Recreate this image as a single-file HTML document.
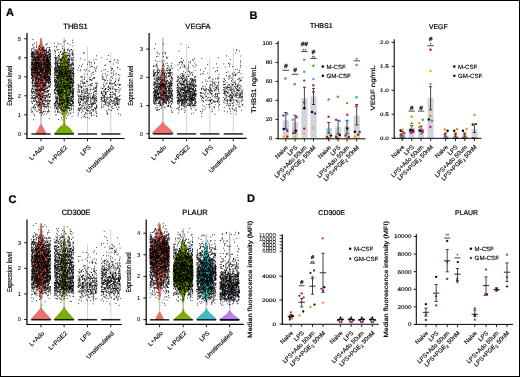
<!DOCTYPE html>
<html><head><meta charset="utf-8"><style>
html,body{margin:0;padding:0;background:#fff;}
body{width:520px;height:377px;overflow:hidden;position:relative;}
.fr{position:absolute;left:0;top:0;width:518px;height:375px;border:1px solid #000;}
svg{position:absolute;left:0;top:0;display:block;will-change:transform;text-rendering:geometricPrecision;}
</style></head><body><div class="fr"></div><svg width="520" height="377" viewBox="0 0 520 377" font-family='"Liberation Sans", sans-serif'><polygon points="35.8,134.1 36,132.7 38,129.2 39.5,126.2 40.85,124 40.85,122.2 40.85,117.1 40.2,112 39.8,107 39,102 38.5,98.5 38,93.2 37,87.9 35.5,82.6 33.5,77.3 31.5,72 30.5,66.8 32,61.5 34,56.2 36.5,50.9 38.5,46.7 40,43.5 40.2,38.2 41.8,38.2 42,43.5 43.5,46.7 45.5,50.9 48,56.2 50,61.5 51.5,66.8 50.5,72 48.5,77.3 46.5,82.6 45,87.9 44,93.2 43.5,98.5 43,102 42.2,107 41.8,112 41.15,117.1 41.15,122.2 41.15,124 42.5,126.2 44,129.2 46,132.7 46.2,134.1" fill="#EC736B" stroke="#222" stroke-width="0.3" stroke-opacity="0.55"/>
<line x1="41" y1="112.95" x2="41" y2="124.25" stroke="#c6c6c6" stroke-width="1"/>
<path d="M46.1 77.4h0M41.3 98.5h0M34.4 87.2h0M35.5 61.3h0M38.7 64.3h0M37.7 96.1h0M32.5 44.7h0M39.2 91.1h0M40 89h0M36.9 70.6h0M38.8 64.4h0M37.7 63.5h0M38.6 62.5h0M43.3 69.7h0M40.9 72h0M35.1 74h0M46.7 114.1h0M41.3 88.6h0M40.2 77.2h0M45.1 111.2h0M45.9 60.9h0M47.8 58.4h0M47 76.8h0M44.3 51.2h0M45.3 50.4h0M34.3 72.4h0M44.9 70.5h0M36.2 100.7h0M36.3 77.6h0M33.6 72.4h0M39 71.7h0M31.7 62.2h0M44 47h0M45.8 59.9h0M46.3 81.1h0M33.8 60.2h0M43.7 66.9h0M47.6 43.7h0M32 91.9h0M35.1 58.1h0M36.5 63h0M40.3 96.8h0M34.6 72.2h0M41.8 93.5h0M38 78.1h0M44 84.6h0M41.6 54.7h0M44.6 73.5h0M36.1 72.1h0M45 95.9h0M45.6 66.6h0M45.3 76.1h0M32.6 52.5h0M49.7 67.5h0M42.5 65.2h0M36.6 57.9h0M39.7 90.7h0M41.3 67.2h0M41.3 109h0M36.1 75.7h0M36.4 76.4h0M38.4 78.1h0M46.4 80.2h0M39.8 57.9h0M32 69.5h0M40.1 61.9h0M35.2 68.1h0M31.5 55h0M50.3 107.2h0M37 60.8h0M41.7 79.9h0M38.2 64.3h0M32.3 96.2h0M48.8 79.4h0M49.5 56.9h0M34.9 93.3h0M39.4 104.1h0M38.5 99.2h0M34.5 74.7h0M44.1 57.6h0M46.5 59.9h0M46 102h0M44.4 74h0M31.6 59.3h0M35.8 97.2h0M41.3 78.2h0M44.9 74.7h0M38.8 67.1h0M40 68.4h0M47.6 61.9h0M31.8 50.7h0M36.5 96.4h0M36.9 70.6h0M50.6 73.8h0M35.7 65.1h0M32.2 85.3h0M39.4 49.3h0M43.9 67h0M34.3 49.9h0M47.6 56.5h0M35.1 107.1h0M45 79.1h0M34.4 69h0M48.4 72.8h0M35.2 96h0M45.5 66h0M47.6 75.7h0M36.2 80.6h0M33.1 66.4h0M42.7 72.6h0M41 86.4h0M40.6 99.8h0M46.5 57.9h0M40.3 102.6h0M40.9 44.7h0M40.8 85.4h0M40.1 90.2h0M39.2 57.2h0M34.4 68.7h0M37 90.6h0M36.4 47.6h0M36.1 77.6h0M46.5 88.7h0M33.5 72.3h0M35.3 83.4h0M41.5 61.3h0M37.4 60.1h0M36 66.7h0M38.5 59.3h0M41 66h0M44.4 104.5h0M50.2 74.9h0M47.8 65.8h0M39.6 63.2h0M40.1 105h0M39.4 69.7h0M35.9 109.3h0M49.8 72.4h0M32.6 72.7h0M35.3 98.5h0M44.1 84.6h0M42.7 75.2h0M36.7 69h0M49.5 96.6h0M39.2 68.4h0M42.9 101.4h0M33.1 53.2h0M48.6 69.1h0M33.3 72.6h0M38.9 104.8h0M48.5 62.4h0M49.6 89.8h0M48.8 80.2h0M47.4 82.8h0M35.8 77.6h0M31.9 107.8h0M40.1 65.5h0M32.5 67.9h0M49.9 60.3h0M31.5 51.8h0M37.6 60.8h0M35.2 100.5h0M31.6 92.9h0M41 55.9h0M32.8 76.3h0M48.8 71h0M44.6 75.9h0M38.5 79.2h0M47.6 64.6h0M46.8 106.3h0M37.6 70.5h0M47.7 77.5h0M49.3 77.9h0M43.3 59.5h0M38.1 52.7h0M48.8 68.4h0M49.6 86.3h0M38 90.6h0M33 83.7h0M48.1 55.9h0M44.2 100.3h0M35.8 89.4h0M42.3 96.5h0M37.3 72.8h0M49.1 100.5h0M37.9 51.5h0M35.1 49.9h0M32.1 48.6h0M37.9 62.4h0M50.5 62.3h0M35.5 59.6h0M40.2 74.6h0M50.2 50.8h0M31.4 75.7h0M37 58.6h0M47.2 80.3h0M33.2 48.7h0M49.3 64.7h0M47.5 103.2h0M34.1 73.4h0M42.8 90.3h0M42.1 79.1h0M44.8 76.7h0M37.3 59.8h0M38.8 75h0M36 50.8h0M37 89.4h0M34.7 106.1h0M48.8 94.2h0M48.5 51.8h0M38.3 65.8h0M44.7 65h0M40.8 55.9h0M36.7 77.5h0M38.1 89h0M50 64.8h0M37.9 95h0M42.5 89h0M49.6 56.8h0M37.1 86.5h0M47 97h0M33.5 60.1h0M45.5 74.9h0M46.9 78.1h0M47.5 76.6h0M50.2 55h0M45.1 79.3h0M50.3 77.7h0M36.7 91.4h0M41.4 89.6h0M35.5 65.3h0M32.9 83.1h0M39.8 95.5h0M45.3 98.1h0M46.4 58.4h0M31.6 49.4h0M49.6 78.7h0M36.1 60.8h0M37 74.5h0M47.4 104h0M48.6 67.2h0M45.6 62.4h0M37.8 70.1h0M40.3 79.1h0M47.5 55.3h0M38.2 67.3h0M46.9 57h0M46.5 79.4h0M40.4 92h0M48.7 67.1h0M38.8 67h0M45.8 73.4h0M43.7 60.9h0M37.7 62.2h0M41.6 65.4h0M43.1 70.2h0M41.7 54.1h0M33.4 85.4h0M50.5 75.2h0M50.1 64.3h0M32 53.8h0M49.6 86.2h0M41.6 56.9h0M33.7 57h0M47.2 56.9h0M39.7 54h0M45.1 99.5h0M47.3 63.1h0M41.7 64.5h0M32.3 92.2h0M47.3 77.1h0M44.8 59.6h0M49 69.3h0M36.5 97.2h0M46.5 67.1h0M48.2 82.4h0M38.2 55h0M39.3 83.5h0M37.8 87.3h0M31.4 91.5h0M35.8 80.1h0M37.7 66.9h0M33.4 52.9h0M46.2 72.6h0M39.6 85.7h0M42.3 59.8h0M36.8 63h0M38.3 73.3h0M45.9 85.1h0M40.4 98.5h0M42.9 56.6h0M39.5 59.5h0M42.1 89.2h0M48.7 78.4h0M36.5 83.1h0M41.4 115.1h0M44.6 103.3h0M33 93.1h0M50 87.3h0M41 67.8h0M36.1 78.2h0M46.1 59.5h0M47.1 85.9h0M43.5 85.8h0M49.1 83.1h0M33 69.7h0M41.5 67.2h0M45.7 68.7h0M49.1 50.2h0M43.7 93.3h0M43 73.6h0M38.8 67.5h0M42.4 73.8h0M42.1 83.1h0M48.9 67.3h0M47.3 92h0M45.6 101h0M49.2 67.5h0M32.6 57.2h0M46.2 86h0M40.3 112.6h0M45.9 57.8h0M37 82.5h0M40.4 91.5h0M47.3 101.1h0M32 56.5h0M36.9 54.7h0M40.8 110.9h0M47.8 56.1h0M36.5 59.1h0M47.3 75h0M36 69.7h0M37.2 85.2h0M42 59.8h0M44 100.4h0M48.4 60.9h0M48.4 86.7h0M36.2 53.1h0M45.8 70.8h0M43.6 50.1h0M38.8 64.8h0M46.4 64.8h0M48.7 83h0M40.6 70.1h0M49.1 52.3h0M33.8 114h0M34.5 97.6h0M46.1 100.6h0M37.2 62.2h0M42.7 67.8h0M40.9 61.4h0M34.1 56.6h0M45.9 50.2h0M45.7 72h0M34.1 56.5h0M36.3 59.1h0M46.8 94.8h0M49 71.2h0M48.2 59.5h0M41 79.8h0M38.4 63h0M39.9 72.9h0M34.7 63.6h0M40.9 72.5h0M35.8 77.6h0M34.4 73.3h0M38.7 67.8h0M32.5 88.5h0M40.4 96.1h0M44.8 59.3h0M43.9 57.2h0M50.2 55.9h0M48.5 109.1h0M43.6 103.6h0M48.7 61.5h0M39.9 107.5h0M46.8 60.5h0M36.8 72.1h0M41.5 71.7h0M50.3 100.5h0M42.9 50.9h0M41.1 64.9h0M46.6 76.1h0M37.4 53h0M47.4 61.8h0M31.7 70.4h0M35.9 96.8h0M34.7 86h0M36.3 91.8h0M49.6 86h0M31.8 82.2h0M37.1 93.8h0M42.4 80.5h0M44.9 84.1h0M46.3 64.4h0M38.7 58.7h0M35.6 85.7h0M47.8 58.6h0M33.7 101h0M32.6 76h0M35.8 65.4h0M40.9 103h0M49.6 58.1h0M45.4 72.4h0M42.2 54.7h0M41.4 106.8h0M44.8 75h0M43.5 89.6h0M37.8 63.6h0M33.1 89.4h0M35.2 81.8h0M46.5 78.4h0M43.6 104.8h0M46.8 69.2h0M32.2 68.6h0M48.8 81.1h0M38.7 92.4h0M49.3 65.6h0M42.8 79.8h0M41.9 60.6h0M47.2 74h0M43.4 86.7h0M44.4 52.9h0M34.4 83.6h0M43 47.8h0M38.2 105.8h0M32.8 70.6h0M33.9 68.3h0M40.6 83h0M36.4 72.8h0M46.1 83.8h0M33.7 54.3h0M31.6 74.4h0M50.6 74.2h0M37.4 102.5h0M41.2 50.8h0M35.4 70h0M35.4 77.7h0M39.1 73.9h0M46.6 53.6h0M32.1 75.8h0M47.5 61.2h0M50.5 60h0M42.1 96.6h0M38.3 60.1h0M35.8 70h0M34.8 85.2h0M37.6 82.1h0M47.8 74h0M31.4 89.9h0M46.5 70.5h0M44.2 77.1h0M31.7 90.9h0M32.6 80.3h0M45.6 78.3h0M44.4 68.2h0M37.4 74.2h0M48 67.9h0M35.4 84.7h0M39.6 67.3h0M33.5 70.5h0M43.8 85.6h0M33 72h0M34.8 65.7h0M46.2 91.6h0M41 67.3h0M44.1 93.3h0M45.5 88h0M43.1 69.8h0M35.1 82.5h0M44.9 50.3h0M33.5 67.6h0M36.5 94.8h0M40 75.2h0M33.5 74.2h0M33.4 79.5h0M44 80.3h0M45.7 75.4h0M38.5 68.8h0M38.9 59.4h0M35.3 64h0M41.4 64h0M42.6 69.1h0M49.4 118.6h0M32.1 66.3h0M48.9 69.8h0M50.5 67h0M38 75.3h0M45.4 104.4h0M47.3 97.7h0M43.9 67.2h0M36.9 63h0M43.4 97.2h0M48.3 71.6h0M33.4 80.7h0M40.6 53.5h0M31.7 95.4h0M47.7 64.8h0M46.4 71.6h0M32.2 60.1h0M45.8 68.7h0M44.7 91.7h0M33.7 91.7h0M41.5 70.8h0M44.7 86.6h0M37.8 70.2h0M41.1 67h0M50.2 73.7h0M43.6 60.3h0M41 64.9h0M32.6 82.1h0M33.7 86.8h0M47.8 52.3h0M45.7 83.9h0M47.5 90.8h0M42.5 69.7h0M42.5 52.7h0M41.6 80.6h0M45.6 62.2h0M37.7 78.3h0M40.9 67.1h0M40.4 78h0M44.1 62.6h0M35.5 70.9h0M31.8 72.8h0M33 77.7h0M34.8 60.3h0M47.9 106.4h0M45.2 63.9h0M45.8 64.5h0M39.9 62.6h0M33.3 53.1h0M40.3 68.8h0M48 86.9h0M41.2 82.3h0M43.6 60h0M38.6 57.2h0M34.2 65.1h0M43.5 86.6h0M40.7 71.3h0M38 101.4h0M36.3 79h0M44.8 77.2h0M37.5 86.5h0M42.5 85.2h0M36.3 65.9h0M45.9 62.6h0M38.6 69.4h0M40.6 71.4h0M49.3 57.4h0M45.2 69.5h0M45.6 78.1h0M37.9 57.1h0M47.6 57.3h0M38.8 59h0M50.5 63.7h0M48.7 106.3h0M44.1 49.3h0M47.4 59.5h0M41.9 58.6h0M45.5 70.8h0M33.7 47.7h0M50.5 70.2h0M46.8 58.5h0M34.1 63.1h0M36 88.6h0M42.5 59.5h0M46.1 77h0M34.2 68.2h0M49.9 68.6h0M38 90.7h0M50.6 58.4h0M45.9 101.5h0M40.7 98.1h0M38.3 79.7h0M33.2 51.7h0M33 79.4h0M43.5 76.2h0M46.3 86.9h0M48.9 60.8h0M38.4 105.2h0M49.5 97.4h0M37.1 56h0M49.5 64.9h0M49.1 50.1h0M34.3 92h0M48 100.5h0M45 111.5h0M44.9 76.7h0M47.6 79.6h0M41.7 80.3h0M41.1 74.8h0M38.4 105h0M48.1 76.5h0M48.8 65.7h0M34.4 72.3h0M46.3 48.3h0M36.6 83.3h0M34.9 81.3h0M35.1 68.8h0M42.4 93.9h0M36.7 85.6h0M36 65.7h0M33.2 53.8h0M37.6 57h0M46.3 59.5h0M31.7 64.4h0M40.7 69.8h0M43 102h0M32.3 63.5h0M37 98.7h0M48.9 80.4h0M50.6 94.1h0M47.8 68.1h0M34.6 43.3h0M46.1 88.1h0M40 62.1h0M34.6 57.5h0M40.6 89.2h0M49.2 80.8h0M48.3 60.7h0M38.9 63h0M32.5 103.3h0M48.8 63.1h0M50.4 81.8h0M41.2 56.8h0M35.7 90.6h0M41.8 56.2h0M44.8 72.5h0M40.7 50.4h0M38.1 73.9h0M36.1 93.5h0M37.1 54.2h0M32.3 63.3h0M36.2 86.3h0M49.8 76.5h0M31.5 64.8h0M45.4 77.6h0M46.6 70.1h0M39.2 95h0M42.8 64h0M35.6 85.8h0M44.3 77.9h0M45 84.5h0M45.6 67.2h0M40.8 83.3h0M50.1 81.5h0M48.1 67.5h0M42.4 49.4h0M44.5 106.5h0M36.6 82.6h0M49.6 60.4h0M43.8 83.8h0M48.7 63.5h0M36.9 70.6h0M50.4 94.8h0M33.3 69.8h0M41.6 63.8h0M33.4 64.5h0M35 53.8h0M46.1 61h0M32.6 63.2h0M38.7 59h0M35 52.8h0M47.8 70.5h0M32.9 60.8h0M37.8 84.3h0M47.9 101.3h0M44.6 63.2h0M44.9 74.9h0M50.5 72.1h0M31.8 53.6h0M44.2 56.6h0M45.8 97.2h0M45.8 70.8h0M45.2 89.7h0M32.7 53h0M32.9 75.9h0M46.3 95.3h0M43.2 95.5h0M36.4 45h0M31.5 72.7h0M41.6 66.9h0M33.1 85.9h0M45.8 53.5h0M37.9 62.9h0M47 90.4h0M33.2 70.6h0M40.9 70h0M33.2 107.3h0M46.4 65.1h0M42.2 51h0M35.9 67.7h0M50 58h0M44.5 54.1h0M37.8 74.7h0M47.9 105.2h0M38.7 75.2h0M49.6 78.5h0M37.1 65.2h0M50.4 74.8h0M32.5 85.3h0M45.6 75.6h0M37 89.5h0M39.5 73.9h0M43.6 60.1h0M32.2 75.3h0M35.6 71.5h0M33.3 58.6h0M45.6 77.1h0M35.6 90.7h0M41 57.1h0M37.7 73.7h0M35.9 84h0M49.4 68.1h0M41.1 63.1h0M43.9 67h0M45 73.5h0M47.2 80.8h0M36.4 74.3h0M32.8 55.6h0M40.4 90.8h0M34.6 101.5h0M31.7 55.3h0M49.1 62.3h0M43.5 59h0M39.3 93.7h0M33.9 99.9h0M46.1 51.3h0M41.6 65.5h0M34.7 59.9h0M50.4 70.6h0M49.7 101.2h0M49.3 53.3h0M47.3 58.9h0M41.6 71.3h0M37.1 72.8h0M43.9 84.8h0M34.2 69.4h0M43.3 57.4h0M32.6 66.3h0M31.6 109.6h0M45.2 85.2h0M37.9 56.1h0M44.8 90h0M46.4 64.7h0M47.5 87.7h0M43.2 47.2h0M47.7 95.9h0M44.1 58.5h0M49.3 70.1h0M48.7 79.3h0M32.1 72.1h0M36.5 58.6h0M38.8 57.3h0M36.2 63.7h0M34.7 51.9h0M48.2 60.9h0M31.8 56.8h0M34.8 70.4h0M46 66.4h0M35.6 75.5h0M36.3 63.6h0M50.1 50.3h0M46.1 65.5h0M40 85.6h0M33.9 62.6h0M36.5 68.2h0M50.3 85.6h0M46.6 68.2h0M32.7 97.5h0M45 100.8h0M38.6 64.7h0M45.3 84.1h0M37 62.4h0M33.8 57.3h0M31.7 69.4h0M37 76.3h0M48 102.9h0M48.6 57.6h0M44.6 82.5h0M45.8 70.9h0M35.1 56.9h0M38.2 107.9h0M48.7 81.4h0M50.4 56.8h0M39.9 99.4h0M46.4 55.4h0M49.4 54.8h0M50.6 65.5h0M37 103.2h0M44 50.2h0M38.9 100.8h0M40.3 76.7h0M40.3 53.1h0M36.7 74.7h0M31.7 70.2h0M46.2 74.5h0M44.8 84.2h0M47.6 80.3h0M34.3 115.5h0M35.9 58.2h0M42.9 90.4h0M49.5 68.4h0M40.5 87.8h0M35.2 98h0M42.8 112.2h0M49.9 63h0M48.1 70h0M48.7 103.8h0M39.3 104.2h0M36.4 67h0M48.2 103.5h0M46.6 68.2h0M47.8 67.1h0M38.9 85.7h0M36.9 70.7h0M36 69.8h0M48.2 67.5h0M49.1 69.2h0M38.4 57.3h0M48.3 52.6h0M38.7 85.5h0M40 74.5h0M42.3 79.9h0M35.6 89.5h0M36.5 61.5h0M36.5 61.6h0M36.3 63.4h0M41.3 64.4h0M33.2 86h0M46.4 67.1h0M34.7 65.2h0M39.9 78h0M43.8 59.6h0M34 55.6h0M39.2 81.5h0M42.2 85.7h0M42 64.2h0M48.6 77.9h0M46.5 50.3h0M33.6 68.2h0M47.5 75.1h0M42 62.5h0M44.5 66.1h0M34.4 76.6h0M40.5 75.7h0M44.9 58.1h0M46.8 82.1h0M46.9 54h0M35.5 107.5h0M47.5 60.3h0M42.3 62.5h0M44.3 60.2h0M47.8 112h0M39.2 63.8h0M49.1 76.4h0M48.4 111.7h0M47 104.7h0M38.7 51.1h0M41.5 72.7h0M34.7 76.2h0M46 81.8h0M48.6 65.7h0M34.4 65.4h0M45.7 44.2h0M44.8 50.4h0M32 73.9h0M49.1 53.7h0M40.6 60.3h0M36.5 65.6h0M31.9 53.3h0M46.5 49.9h0M37.9 101.8h0M41.3 69.3h0M35.1 60.4h0M43.1 82.2h0M39 46.4h0M46.9 62.1h0M44.2 106.2h0M45.3 98.6h0M36.2 77.9h0M32.5 54.8h0M48.4 65h0M49.5 49.6h0M43.8 61h0M49.2 49.3h0M45 56.6h0M43.1 77.8h0M39.4 55.2h0M38.2 58.1h0M40.8 99.1h0M35.6 65.6h0M39.6 65.5h0M41.1 54.4h0M31.9 88.9h0M38.9 80.2h0M36.8 73.8h0M43.6 77h0M47 55.2h0M43.2 62.7h0M44.2 75.4h0M43.2 105h0M36.3 90.8h0M38.6 78.2h0M47.7 72.6h0M49.7 47.7h0M34.8 97.9h0M31.5 53.1h0M50 56.8h0M48 81.2h0M43.1 90.3h0M47.1 88.1h0M42.8 70h0M48.9 59.2h0M36 50.4h0M39.9 93.9h0M44.3 108.8h0M35.5 62.1h0M45.2 95.4h0M36.4 68.1h0M45.1 64.7h0M46.9 72h0M39.5 45.9h0M50.5 69.6h0M43.5 60.2h0M46 82.5h0M31.7 71.9h0M33.5 95.6h0M45.1 98.5h0M49.6 64.9h0M43.5 63.5h0M49 103.3h0M32.4 72h0M48.6 55h0M48.3 51.4h0M43.5 111.7h0M39.6 75.2h0M45 52.1h0M36 72.3h0M44.3 72h0M44.8 69.3h0M41.8 104.9h0M36.3 104.5h0M31.3 56.6h0M35.1 57.9h0M47.5 68.3h0M35.4 92.3h0M32.7 77.3h0M36.1 83.7h0M41.4 75h0M42.7 60.6h0M48.3 90.8h0M47.9 47.5h0M50.1 81.6h0M48.5 59.9h0M40 70.7h0M34.1 108.3h0M49.8 73.4h0M35.7 52.3h0M43.4 69.1h0M36.4 79.3h0M47.1 52.3h0M35.2 62.4h0M39.5 48.3h0M35.6 73.5h0M48 67.3h0M43.3 72h0M43.5 64.1h0M37.4 79.1h0M34.7 59h0M47.9 99.5h0M46.1 106.1h0M45.5 71.5h0M50.6 70.5h0M42.2 94.7h0M34.8 63.9h0M43.1 89.5h0M36.9 63.8h0M41.3 83h0M40.2 65.6h0M42.2 76.3h0M49.2 101.7h0M47 52.1h0M39.4 89.9h0M47.2 73.5h0M48 67.2h0M46.3 66.2h0M42 53.2h0M48.7 62.7h0M40.8 77.3h0M33.4 55.1h0M36.6 79.8h0M44.1 106.4h0M38.7 109.4h0M39.5 97.7h0M39.1 89.8h0M35 59.2h0M33.1 107.5h0M32.3 60.3h0M44.3 95.7h0M37.6 96.5h0M40.2 77.2h0M49.4 72.7h0M43.5 60.2h0M47 72.6h0M46.1 63.9h0M49.8 56.6h0M32.6 56.7h0M38.8 89.4h0M49.7 101.3h0M40.3 57.4h0M49.7 47.4h0M34.9 62.9h0M32.5 57.1h0M48.7 59.7h0M39.3 75.4h0M41.2 68.8h0M49.5 69.1h0M35.6 60.4h0M50.1 79.5h0M39 63.9h0M36.1 68h0M35.8 70.4h0M41.4 99.3h0M40.4 62.2h0M48.5 82.9h0M32.3 64.7h0M32.2 98.2h0M34.3 67.8h0M43 72h0M46.5 96.5h0M40.6 80h0M43.2 54.9h0M43.8 57.2h0M31.7 111.8h0M36.1 49.7h0M50.7 64.3h0M37.7 105.9h0M49.7 47.7h0M40.9 58.4h0M35.6 60.8h0M31.3 54.4h0M35.5 70.7h0M37.5 75.8h0M39.8 65h0M40 55.7h0M41.9 90.2h0M40.5 89.6h0M31.9 74.4h0M36.5 57.2h0M50 73.5h0M31.8 77.6h0M45.5 69h0M40.5 95.1h0M45 67.6h0M37.8 72.3h0M38.5 56h0M41.3 74.5h0M48.9 86.5h0M37.7 83.8h0M33 62.6h0M32 112.2h0M48.4 83h0M37.4 68.9h0M33.6 68.5h0M42.9 87.5h0M47.7 59.1h0M42.9 78.1h0M34.2 82.9h0M39.2 72.5h0M36.5 96.1h0M31.6 70.6h0M50 70.4h0M40.2 63.7h0M33.9 101h0M48.5 64.9h0M50.4 81.3h0M47.1 68.3h0M36.2 102.9h0M35 104.4h0M41.5 49.8h0M42.6 113.5h0M48.3 76.4h0M50.1 53.5h0M49 71.7h0M37.9 51.7h0M42.7 73.8h0M33.7 59.5h0M41.4 66.8h0M32.7 64.5h0M33.5 76.3h0M33.7 91.2h0M37.1 103h0M37.3 65.4h0M45 74.7h0M32.8 45h0M33.5 67h0M44 106.2h0M44.4 56.2h0M45.1 95.7h0M45.3 78.8h0M44.2 64.1h0M42 87.4h0M45.7 63.9h0M32.9 98.3h0M35.4 54.1h0M45.7 56.3h0M35 85.2h0M41.6 69.8h0M36.3 57.7h0M39.7 72.4h0M47.5 64.2h0M44.1 73.9h0M39.9 84.7h0M36.6 94.5h0M46.9 52.5h0M44 75.8h0M39.8 110h0M48.2 70.2h0M44.7 86.7h0M50.3 55h0M44.2 96.1h0M48.8 75.3h0M42 97.6h0M45.1 88.1h0M47.6 95.7h0M33.1 52.3h0M40.5 82.7h0M43 60.1h0M32.4 63h0M46.6 65.2h0M45.2 75.7h0M49.5 77.5h0M38.5 102.4h0M40.4 47.2h0M49 59.9h0M39.3 66.6h0M47.5 90.8h0M39.5 73.9h0M37.9 72.3h0M36.7 86h0M35.4 79h0M39.7 63.9h0M34.4 54.4h0M47.4 70.3h0M50.2 96.8h0M33.2 76.1h0M32.4 52h0M31.4 69.5h0M49.4 67.4h0M32.7 75.3h0M44.5 75.5h0M37.2 104.9h0M35.1 65.7h0M36.1 68.3h0M44.7 76.8h0M31.6 97.4h0M48.1 82.1h0M42.3 70.7h0M35.9 90.5h0M35.3 71.2h0M44 106.6h0M43.5 63.6h0M37.5 56.7h0M37.8 92h0M40.3 64.2h0M49 93.6h0M41.7 76.6h0M47.6 72.2h0M43.7 54.4h0M42.2 88.1h0M40.8 53h0M44.5 106.8h0M40.8 96.5h0M45.4 64.4h0M34.8 56.7h0M37.6 97.3h0M48.2 71h0M39 56.6h0M47.7 71.8h0M49.5 62.2h0M42.5 68.3h0M33.3 78.2h0M46 100.5h0M44.2 89.3h0M36.9 58.4h0M48 70.9h0M40.7 71.5h0M32.4 111.4h0M32.6 54.4h0M35.7 72.2h0M43.1 100.4h0M47.1 68h0M33.2 62.8h0M31.7 74.1h0M43.4 65.1h0M39.2 101.9h0M39.9 54.3h0M47.2 60.5h0M49.1 54.2h0M50.1 82.4h0M46.4 64h0M31.4 98.8h0M34.2 98.2h0M42.7 103h0M49.8 62.6h0M32.9 39.5h0M41.3 67.5h0M39 106.4h0M39.2 86.2h0M36.5 52.5h0M36.6 81.8h0M35.9 100.7h0M33.3 107.2h0M42 82.7h0M40 95.1h0M45.1 93h0M43.7 66.5h0M49.8 55.1h0M37.9 83.5h0M48.4 57.2h0M38.8 67.4h0M44.1 114.3h0M46.9 74.3h0M39 72.7h0M40 104.4h0M43.5 63.7h0M33.4 119.7h0M41.6 100.1h0M33.1 66.7h0M35.7 65.3h0M43.4 56.7h0M50.2 100.5h0M50.7 59.6h0M36.4 46.2h0M34.1 97.8h0M41.4 76.1h0M39.9 79.9h0M38.7 83.9h0M46.2 51.1h0M45.1 54.7h0M42.2 71.8h0M43.4 51.8h0M42.6 72h0M44.4 84.2h0M49.3 79.1h0M49.7 77h0M50.3 51.4h0M48 61.8h0M33.3 98.6h0M40.1 56.5h0M46.5 73.2h0M37 51.8h0M43.1 103.3h0M32.4 58.9h0M35.3 68.4h0M39.1 73.7h0M32.7 82.9h0M39.5 103.1h0M35.8 84.2h0M48 66.1h0M37.5 53.6h0M38.7 82.1h0M46.9 107.9h0M42.2 48.1h0M32.3 87.1h0M35.5 59.1h0M43.2 70.3h0M35.2 72.7h0M36.1 76.9h0M43.4 111.4h0M40.9 80.9h0M36.5 67.7h0M42.1 82.7h0M43.6 70.5h0M32.1 68.5h0M36.6 66.7h0M37.3 71.6h0M48.3 63.6h0M32.3 62h0M38 57.8h0M35.1 69.5h0M44.8 64h0M47 92.6h0M32.4 93.6h0M48 66h0M44.8 77.1h0M35.5 99.1h0M49.1 66.5h0M37 74.1h0M46.6 69.6h0M32.8 78.7h0M40.1 106h0M41.1 57.3h0M48.7 106.8h0M47.5 79.6h0M41.9 88.9h0M32.3 77.9h0M39.6 95.8h0M38.6 65.3h0M50.6 82.2h0M44.5 62.9h0M39.2 72.2h0M38.4 80.5h0M46.2 60.2h0M33.2 52.6h0M47.2 88.5h0M44.3 90h0M39.7 79.6h0M45.1 65.1h0M39 79.1h0M34.1 54.2h0M39.4 79.4h0M32.3 75h0M33 77h0M39.8 69.8h0M47.3 61.3h0M35.3 83.4h0M41 70.4h0M50.3 84.8h0M47.4 66.7h0M48.8 54.5h0M44.4 73.6h0M42.7 77.3h0M42.6 101.2h0M43 97.6h0M40.3 52.3h0M38.3 86.9h0M35.9 62.8h0M32.6 81.5h0M38.5 67.2h0M46.2 65.1h0M42 71.4h0M34.5 73.1h0M47.1 81.3h0M32.1 78h0M49.4 80.3h0M43.9 67.4h0M42.1 80.2h0M39.3 66h0M47.3 76.5h0M31.4 70.2h0M31.6 74.4h0M41.4 48.2h0M37.1 71.8h0M39.1 61.1h0M41.7 67.5h0M32.1 53.5h0M50.4 79.1h0M44.4 98.1h0M33.2 66.3h0M45.6 55.5h0M41.6 77.1h0M44.6 56.7h0M45.6 98h0M50.5 56.4h0M33.6 66.6h0M50.6 71.6h0M40.6 56.2h0M35.2 65h0M38.5 63.3h0M38.4 82.5h0M48.7 110.5h0M41.5 66.6h0M32.6 88.5h0M45.2 57.4h0M41 75.2h0M47.1 69.2h0M32.2 63.8h0M48.1 91.2h0M48.6 84.9h0M31.5 57h0M40.6 64h0M33.7 91h0M41.6 112.4h0M33 76.7h0M48.5 95.9h0M34.9 110.1h0M44.3 84.5h0M44 78.4h0M37.5 61.1h0M35.5 66.9h0M49.1 77.3h0M32.1 101.8h0M36.2 64.4h0M37.6 67.8h0M42.6 48.9h0M38.5 81.4h0M33.5 69.6h0M42.4 89.1h0M45.3 61.6h0M45 79.2h0M40.8 80h0M37.3 70.4h0M31.5 59.7h0M41.6 68.1h0M43.5 84.8h0M39.9 59.7h0M49.9 54.6h0M35.2 70.4h0M47.1 61.7h0M45.2 89.3h0M48.7 90.8h0M49.2 104.1h0M35.9 92.8h0M49.2 78.6h0M39.1 59.6h0M44.5 91.3h0M49.8 83.6h0M42.8 84.9h0M42.6 81.5h0M32.7 91.9h0M42.9 64.2h0M36 80h0M38.8 72.5h0M38.6 65.7h0M50.2 65.3h0M43.7 58.1h0M45.4 71.5h0M34.7 66.9h0M37.2 68.8h0M48.3 94h0M33.6 80.5h0M49.8 80.4h0M39.6 110h0M38.9 61h0M41.3 72.1h0M39.9 54.7h0M40.4 67.7h0M39.5 104.8h0M44.9 54.3h0M36.7 85.8h0M34.5 95.3h0M39.7 72.2h0M33 89h0M40 69.5h0M40.9 66.3h0M46.5 72h0M33.4 60h0M39 64.6h0M46.4 64.5h0M37.9 111.1h0M47.5 65.6h0M45.2 61.4h0M32.1 103.4h0M38.8 57.3h0M46.2 106.9h0M41.5 94.1h0M44.4 78.5h0M50.5 69h0M44.4 60.1h0M41.9 55.6h0M47.7 55.4h0M39.6 66.1h0M31.5 68.3h0M36.6 101.5h0M42.8 73.3h0M49.7 111.7h0M43.1 83.1h0M36.8 57.7h0M50.6 74h0M39.1 58.3h0M35.7 50.8h0M42 103.9h0M38 65.7h0M33.5 59.7h0M45.1 55.3h0M44.7 78.8h0M50.2 70.3h0M34 47h0M49 82.7h0M46.8 62.6h0M36.2 87.6h0M40.6 71.4h0M43.5 73.3h0M37.4 70.1h0M33.4 80.2h0M47.5 111.6h0M34.5 89.1h0M40.8 53.2h0M39.8 71.6h0M48.8 61.7h0M42.1 55.3h0M39.5 60h0M50.3 62.2h0M38.1 106h0M45.4 84.8h0M35.8 94.1h0M46 81.6h0M45.9 64.9h0M47.4 67.7h0M40.7 69.5h0M35.6 64h0M43.6 68.8h0M49 86.8h0M37.3 53.7h0M31.7 63.4h0M34.9 71h0M49.4 80.2h0M31.4 78.5h0M32.3 83.3h0M33.2 55.5h0M48.6 59.3h0M38.7 64.6h0M44.7 63.6h0M45 85.6h0M39.7 112.8h0M45.5 80.6h0M40.2 50.2h0M41.8 64.2h0M37.3 89.5h0M31.3 101.5h0M42.8 75.9h0M36.5 66.1h0M36.6 66.4h0M48.3 77.8h0M38.3 95.2h0M33.3 65.8h0M43.5 59.8h0M41.7 42.7h0M32.4 57.2h0M38.1 93.9h0M43.2 77.4h0M36.7 111.7h0M50.4 53.2h0M46.8 66.8h0M41.1 88.9h0M49.1 79.3h0M32 53h0M35.7 68h0M49 78h0M41.2 80.9h0M34.6 69.9h0M42.4 59.7h0M45.5 106.9h0M43 70.5h0M32.2 82.8h0M32 73.2h0M39.2 54h0M31.6 61.8h0M32.9 52.8h0M43.8 59.8h0M39.8 60.2h0M33 68.5h0M48.3 65.1h0M38.4 66.6h0M48.4 90.7h0M43.1 48.7h0M43.3 55.4h0M39.5 89.9h0M44.3 73.2h0M36 69.4h0M36.3 63h0M48.3 73.6h0M35.3 61.1h0M38.8 94.6h0M45.7 91.4h0M37.7 65.1h0M38.4 49.2h0M48.9 97.5h0M35.3 64.2h0M36 79.1h0M48.5 94.6h0M36.6 89.1h0M37.7 95h0M48.4 71.4h0M37.5 93.1h0M50.6 70.3h0M47.2 62.9h0M47.7 71.1h0M35.7 65.6h0M35.5 86.5h0M45.9 92.1h0M47.3 57.4h0M35.7 58.6h0M35.3 67.4h0M36 70.4h0M34 105.6h0M39.5 103.6h0M41.1 107.1h0M43.5 83.7h0M32.4 80.2h0M35 63.1h0M33.6 67h0M36.5 42.6h0M34.9 92.2h0M49.5 63.4h0M38.5 53.9h0M34 64.9h0M44.2 65.2h0M50.2 83.3h0M46.7 44.9h0M43.9 61.5h0M38.6 98.5h0M39.1 94.3h0M37.2 77.6h0M46.9 74.3h0M46.9 61.2h0M40.8 96.3h0" stroke="#000" stroke-width="0.96" stroke-linecap="round" fill="none"/>
<line x1="31.4" y1="134" x2="50.6" y2="134" stroke="#000" stroke-width="1.5" stroke-opacity="0.86"/>
<polygon points="54,134.1 55.2,132.7 57.7,129.2 60.7,126.2 62.7,125.4 63.4,123 63.4,120 63,116 61.8,112 60.6,108 59.6,104 59.4,100 59.2,96 58.2,93.2 57.7,87.9 57.2,82.6 57.2,77.3 58.2,72.2 59.7,66.8 60.7,61.5 62,56.2 63.2,52 64.05,48 64.05,45.6 64.05,38.2 64.35,38.2 64.35,45.6 64.35,48 65.2,52 66.4,56.2 67.7,61.5 68.7,66.8 70.2,72.2 71.2,77.3 71.2,82.6 70.7,87.9 70.2,93.2 69.2,96 69,100 68.8,104 67.8,108 66.6,112 65.4,116 65,120 65,123 65.7,125.4 67.7,126.2 70.7,129.2 73.2,132.7 74.4,134.1" fill="#7CAE00" stroke="#222" stroke-width="0.3" stroke-opacity="0.55"/>
<line x1="64.2" y1="38.2" x2="64.2" y2="49.98" stroke="#c6c6c6" stroke-width="1"/>
<path d="M55.5 102h0M57.8 90.9h0M61.3 92.5h0M56.3 71.8h0M58.5 70.4h0M63 69.6h0M71 105.3h0M71.4 98.6h0M62.4 104.4h0M56.9 99.8h0M59.7 98.8h0M67.6 80.2h0M62.4 96.7h0M65.6 66h0M68.8 91h0M67.3 55.2h0M71.2 109.8h0M56.2 103.1h0M60.3 65.9h0M55.2 96.9h0M64.6 99.8h0M66.4 55.1h0M59.4 86.6h0M55.6 79.5h0M63.5 89.2h0M57.8 103.6h0M58.3 94.4h0M61.9 68.7h0M72.8 86.1h0M61.5 86.4h0M68.3 49h0M61.7 63.6h0M62.4 76.5h0M57.2 66.7h0M58.1 70.1h0M69.5 92.1h0M62.8 109.4h0M60 81.3h0M73.6 90.6h0M71.5 96.5h0M59.6 91.9h0M62.9 91.1h0M65.5 40.8h0M57.7 102.5h0M62.8 65.6h0M60 66.9h0M70.2 83.9h0M56.3 87.6h0M73.7 96.2h0M59.1 73.1h0M60.9 107.9h0M56 89.7h0M72.2 101h0M70.6 82.3h0M55.8 58.5h0M64.7 49.2h0M62.1 90.3h0M66.3 79.8h0M61 80.5h0M73.1 74.8h0M58.7 66.7h0M70.4 82.1h0M59.7 71.1h0M67.1 104h0M62.8 66.8h0M64.7 110.1h0M64.6 101.9h0M66.6 77.7h0M55.8 97.1h0M55.7 87.3h0M73.3 81.7h0M59.4 99.2h0M61.4 100.2h0M59.2 68.1h0M67 104.9h0M73.6 53.7h0M62.3 46.2h0M60.7 82.6h0M61.3 73.5h0M55 79.6h0M56.2 82.4h0M55.4 81.8h0M60.8 105h0M73.6 105.7h0M57.2 75.8h0M65.1 72.8h0M58.5 91h0M55.2 67.9h0M70.7 78.5h0M57 94.2h0M57.1 46.3h0M70.4 97h0M59.2 95h0M58.4 77.8h0M72.8 70.7h0M58.3 85.3h0M70.6 73.2h0M60.5 99.7h0M65.5 87.8h0M60.5 73.8h0M61.1 99h0M72.6 88.7h0M72.1 63.6h0M57.9 79.2h0M68.6 82.9h0M57.2 107.8h0M60.3 74.5h0M55.9 80.9h0M67.1 111.2h0M68.6 79.8h0M69 100h0M69.5 60.8h0M62.2 78.2h0M57.9 67.1h0M54.6 103.4h0M63 86h0M72.6 69.1h0M63.2 60.4h0M66.4 79.5h0M72.3 60.8h0M71.2 82.7h0M68.9 94.8h0M66 74h0M59 66h0M69 76.6h0M62.6 66h0M68.2 101h0M58.8 60.8h0M72.7 95.4h0M57.7 75.2h0M69.8 94.7h0M71.8 97h0M57.4 63.8h0M71.3 96.2h0M67 107.9h0M66.2 86.7h0M59.4 90.5h0M60.9 74.6h0M59.1 66.5h0M63.1 95.6h0M67.1 99.7h0M68.6 68.4h0M68.2 62.2h0M61.2 76.1h0M61 89.6h0M69.3 76.8h0M73.4 109.7h0M58.8 98.1h0M62.5 105.6h0M59.9 88.3h0M73.4 96.2h0M54.8 108.4h0M71.8 54.2h0M69.4 87.1h0M60.9 67.3h0M67.7 98.3h0M61.7 69.9h0M66.9 95.4h0M62.8 75.1h0M72.3 90.8h0M63.4 92.2h0M70.3 105.1h0M65.7 102.7h0M61.7 80.3h0M73.3 92.7h0M58.3 67h0M72.1 60.9h0M73.5 94h0M71 104.9h0M66.3 95.7h0M66.6 84.2h0M72.5 89.7h0M62.9 94.8h0M70.5 86.8h0M69.5 76.7h0M71.2 101.4h0M63 77h0M67.2 104.7h0M56.3 98.5h0M55.9 98.2h0M56.6 100.4h0M68.8 113h0M61.4 113.8h0M72.1 83.5h0M56 77.4h0M57.8 95h0M70.7 110.1h0M62.6 89.8h0M58.8 52.6h0M69.7 54.7h0M59 81.6h0M73.4 97.9h0M59.8 103.6h0M71.2 77.2h0M63.8 84.2h0M72.6 84h0M60.2 60.6h0M72.4 40.2h0M60.4 84.5h0M63.2 83.6h0M66.8 102.1h0M65.3 66.9h0M67.5 101.5h0M68 72h0M59.7 85.3h0M54.7 93.6h0M68.5 64.5h0M66.1 108h0M65.4 109h0M64.1 110.3h0M72.5 42.6h0M60.3 90.4h0M72.2 91.8h0M57.8 103.2h0M68 68.1h0M72.8 63h0M57.5 99.1h0M69.4 71.5h0M59.8 57.9h0M55.6 60.4h0M62.9 90.5h0M68.1 85.1h0M60 95.7h0M72.9 98.9h0M54.5 43.2h0M59.7 106.9h0M61.1 103.1h0M61.7 106.9h0M60.3 96.8h0M54.9 77.7h0M58.6 70.7h0M59.6 105.3h0M67.5 79.5h0M61.8 82.8h0M68.5 93.2h0M63.1 92.7h0M61.1 92.9h0M57.6 89.5h0M58.9 83.8h0M72 96.8h0M63.3 78.3h0M60.6 71.5h0M58.7 105.1h0M71.5 101.1h0M68.2 94.2h0M68 66.1h0M70.1 55.6h0M59.2 106h0M68.7 107.7h0M55.9 72h0M67.4 89.7h0M60.8 51.1h0M67.3 78.2h0M58.9 93.5h0M61.4 76.6h0M67.5 98.9h0M72.7 105.3h0M61.1 64h0M57.8 92.7h0M56.9 77.3h0M67.5 66.5h0M71.8 76h0M54.8 82.5h0M61.2 104.2h0M57.8 96.7h0M73 45.9h0M57.1 56.9h0M55.8 115.1h0M69.4 86.2h0M73.9 88.8h0M69.5 76.1h0M56.7 100.3h0M62.4 86.2h0M64.6 87.9h0M71.9 70.8h0M69.1 97.3h0M55.7 68.9h0M63.3 64h0M69.6 88.2h0M65 100.3h0M67.4 73.1h0M73.3 73.6h0M73.5 64.8h0M70.7 88.4h0M65.6 97h0M60.5 63.1h0M57.6 85.1h0M57.7 85.3h0M66.9 61.7h0M69.5 84.9h0M71.2 72h0M72.2 68h0M60.1 112.7h0M61 60.3h0M58.3 75.7h0M65.1 89.2h0M72.9 78.7h0M69.2 50.9h0M63 102.3h0M57.6 70.3h0M70.9 79.1h0M71.9 105h0M69.4 110.3h0M60.2 105.5h0M62.1 79h0M65.8 95.6h0M72.3 101.2h0M59.2 67.9h0M62.6 110.3h0M55.7 61.2h0M54.6 91.1h0M59.2 70.2h0M70.2 68.9h0M67.6 64h0M63.7 107.6h0M62.4 63.3h0M59.6 105.3h0M69.4 65.9h0M64 75h0M55.9 68.7h0M66.7 113.2h0M73.8 60.5h0M55.9 102h0M73.8 73.5h0M56.4 108.5h0M60.5 95.9h0M73.4 71.6h0M73.4 83.9h0M58.1 65.6h0M68.5 78.8h0M66.4 52.7h0M62.2 92.3h0M69.7 88h0M66.8 72h0M58.9 49.6h0M64 107.4h0M68.3 63.1h0M66.6 74.9h0M65 52.6h0M68.8 77.6h0M57.1 78.6h0M55.3 85h0M55.1 74.7h0M66.5 70.8h0M62.9 97.8h0M70.7 72.4h0M73.3 75.1h0M56.7 82.9h0M61.9 72.1h0M62.6 94.6h0M65.1 59.7h0M72.1 74.7h0M66.1 79.5h0M60.4 71.3h0M67.4 100.7h0M60.9 76.2h0M65.3 79.5h0M56.4 81.8h0M65.4 100.2h0M63.8 69.1h0M67 100.1h0M65.5 108.2h0M65.6 71.7h0M68.8 66.2h0M57.1 97.9h0M69.1 74.1h0M66.6 69.6h0M67.9 59.1h0M62.3 89h0M56.2 107.2h0M72.4 103.2h0M70.5 87.7h0M73.4 80.4h0M63.4 111.1h0M71.7 91.3h0M71.4 108.9h0M65.2 92.7h0M72 93.1h0M70.3 93.3h0M56.5 63.1h0M57.1 71h0M62.4 57.9h0M64.8 106.8h0M67.2 115.4h0M65.4 88.5h0M71.5 65.3h0M70 63h0M56.5 80.7h0M61.1 78h0M71.7 67.8h0M69.1 60.2h0M54.8 90.6h0M66.7 98.1h0M57 57.6h0M64.3 74h0M73.8 73.5h0M56 85.5h0M70.5 88.5h0M63.9 79h0M73.5 102.3h0M71.2 78h0M55.8 73.6h0M67 96.7h0M71.2 100.9h0M59.9 103h0M68.2 66.2h0M59.4 67.9h0M58.5 81.5h0M60.9 110h0M60.2 89.3h0M73.2 89.4h0M59.1 74.8h0M62.7 114h0M63.9 67h0M67.9 86.3h0M73.3 92h0M66.4 99.1h0M71.2 99.3h0M57 77.8h0M67.3 72h0M57.8 111.6h0M71.4 86h0M66.1 72.5h0M57.1 64.1h0M71 98.7h0M64.7 101.2h0M63.9 86.8h0M56.1 77.7h0M72.1 91.2h0M64.5 111.7h0M71.3 87.2h0M56 97.8h0M67.7 103.3h0M61.8 96.2h0M64.9 82.7h0M66.6 66.7h0M70.5 93.1h0M72.4 100.3h0M57.7 109.5h0M71.2 65h0M56.8 62.2h0M54.7 90.1h0M60.3 100h0M60 59h0M69.5 89h0M65.4 71.7h0M62 119.9h0M69.8 76.6h0M72.7 59.5h0M66.9 97.6h0M67.2 73.5h0M71.2 79.4h0M60.2 63.5h0M73.8 75h0M57.9 63.7h0M55.4 71.2h0M70.5 87.2h0M57.9 73.4h0M61 91.6h0M64.5 104.5h0M56.7 87.1h0M62.7 53.1h0M61.4 109.2h0M56.2 67.9h0M66.2 75.8h0M63.3 84.7h0M57.6 89.2h0M69.8 75.6h0M62.5 80.5h0M55 89.6h0M71.6 81.3h0M62.4 72.6h0M56.3 79h0M60.1 77.7h0M59.4 73.1h0M55.4 88.3h0M60.9 84h0M57.8 79h0M58.6 93.8h0M67.6 99.2h0M57.6 90.7h0M54.9 75.6h0M58 107.2h0M60.2 61.5h0M57.7 98.8h0M66.1 79.5h0M71.6 78.3h0M70.6 100.9h0M63.6 91h0M69.7 110.8h0M69.8 103h0M66.8 62.4h0M70.1 83.5h0M61.8 96.8h0M69 59.6h0M64.6 85.5h0M68.8 114.7h0M68.8 70.2h0M55.8 62.5h0M70.7 72.9h0M55.2 75.7h0M62.8 72.7h0M66 80h0M70.5 100.4h0M55.6 84.2h0M67.5 87.8h0M61.2 61.8h0M55.3 57.8h0M60.9 108.4h0M66.9 75.9h0M56.1 108.1h0M71 75.3h0M55.3 90.2h0M59.1 91.3h0M60.9 60.2h0M55.7 58.4h0M72.5 80.5h0M73.2 63.3h0M72.1 73.3h0M58.4 67.8h0M70.7 74.1h0M61.1 81.2h0M60.1 74.1h0M67.9 75.3h0M56.2 82.7h0M54.6 92.4h0M72.6 55.1h0M61.4 117.5h0M69.9 80h0M62.8 106.1h0M56.3 47.2h0M63.7 57h0M57.8 61h0M56.1 105.3h0M54.9 79.1h0M62.3 101.1h0M59.5 93h0M61 60h0M73.2 76.6h0M70.6 75.1h0M68.2 81.1h0M59.2 96.1h0M69 59.7h0M68 106.3h0M64.7 82.2h0M59.1 76.8h0M58.5 93.2h0M62.6 72.2h0M59.9 93.9h0M71.7 79.3h0M63.5 82.3h0M67.6 67.4h0M71.9 68.2h0M66.5 102h0M57.6 87.1h0M60.7 79.6h0M72.4 97.2h0M55.4 105.3h0M58.8 65.5h0M66.5 118.1h0M71.1 49.9h0M70.4 89h0M68.7 71.6h0M68.1 71h0M61.7 83.1h0M55.7 88.5h0M66.8 80.3h0M55.9 94h0M70 108.3h0M57 66.1h0M55 70.2h0M73.9 88.8h0M57.7 79h0M65.8 74.3h0M55.7 83.6h0M73.5 93.1h0M54.8 105.1h0M67.8 107.5h0M70.9 99.6h0M60.2 75.8h0M54.7 103.4h0M55.2 93.8h0M55.7 66.5h0M69.1 108.6h0M64.8 70.7h0M71.9 92.4h0M66.8 93h0M66 105h0M58.4 91.6h0M58.8 112.2h0M73.5 57.3h0M73 54.5h0M63 67.8h0M69.9 87.1h0M68.5 79.6h0M59.9 59.6h0M58.4 68.2h0M69 87.3h0M73.2 78.6h0M73.6 96.6h0M61.4 81.8h0M55.8 103h0M60.7 96.3h0M55.9 83.1h0M73.7 76.4h0M60.5 68.8h0M70.9 73.1h0M59.3 76.3h0M73.1 76.6h0M64 66.8h0M70.7 82.1h0M66.1 62.1h0M69.4 102.4h0M55.9 85.9h0M56.2 60.7h0M61.4 74.9h0M71.5 71.1h0M72.1 65.3h0M68.3 82.4h0M66.1 67h0M55.5 65h0M72.5 93.4h0M67.3 79.9h0M66.4 91.9h0M70.8 81.9h0M59.1 83.6h0M66.5 74h0M67.7 79.8h0M69.2 82.4h0M56.3 75.6h0M68.6 100h0M72 70.6h0M66.7 69.2h0M57.8 75.7h0M72.3 97.7h0M56.5 101.2h0M59 86.6h0M71.1 76.5h0M65.9 90.7h0M61 100h0M70.1 70.5h0M67.1 91.6h0M56.8 93.8h0M59 78h0M70.2 64.5h0M70.2 88.7h0M55.9 68.6h0M64.6 76.9h0M68.3 85.6h0M60.8 109.5h0M55.7 64.6h0M62.6 58.7h0M72.6 85.3h0M68.7 107.7h0M58.6 55.7h0M70.9 90.4h0M67.5 52.9h0M60.1 85.9h0M59.7 62.6h0M57.9 91.2h0M62.4 76.6h0M61.5 91h0M60 71.3h0M71.5 58.8h0M69.3 66.9h0M64.1 72.1h0M73.2 65.9h0M67.6 67.9h0M73 85.6h0M70.5 80.3h0M66.8 99.9h0M68 83.3h0M69.5 85.3h0M69.2 93.8h0M71.4 101.5h0M61.1 87.5h0M61.5 54.4h0M59.3 81.4h0M72.4 53.7h0M72 88.5h0M63.1 57.8h0M62.3 85.3h0M57.1 64.9h0M73.4 101.7h0M67.5 60.6h0M73.2 91.2h0M66.8 93.5h0M64.5 72.2h0M69 87.9h0M71.7 75h0M70.9 71.3h0M61.2 71.4h0M64.3 50.4h0M72.8 91.9h0M64.3 58.5h0M70.1 67.9h0M64.7 60h0M70.7 98.8h0M55.8 84.8h0M54.5 81.8h0M56.3 87.5h0M63 99h0M61.6 89.5h0M73.1 84h0M73.8 74.1h0M57.1 84.2h0M70.7 113.1h0M64.4 86.8h0M70.8 82.3h0M61.7 103.7h0M69.5 56.7h0M54.6 57.7h0M63.6 98h0M61 107.6h0M59.4 56.3h0M60.3 52.3h0M62.6 48.4h0M64.1 87.2h0M64.7 64h0M68.8 86.4h0M70.5 91.4h0M73.2 50.3h0M67.5 102.5h0M59.5 71h0M65.7 86h0M63 76.2h0M59.1 75.7h0M60.9 78.6h0M58.9 44.5h0M65 79.9h0M55.8 71.6h0M65 76.4h0M62.5 65.7h0M54.6 75.3h0M59.9 93.2h0M73.3 112.3h0M65.7 67.9h0M55.8 102.3h0M65.7 89h0M68.2 61.2h0M57.1 50.1h0M62.3 103.4h0M58.6 70h0M65 61.6h0M70.5 91h0M59.1 93.6h0M57.2 104.1h0M57.2 83.4h0M66.4 74.1h0M55.8 74.4h0M64.7 68.3h0M70.2 90h0M69.4 107.6h0M67.5 59.8h0M54.7 77.8h0M62.9 76.1h0M59.2 59.3h0M64.5 88h0M57.4 112.2h0M57.1 72.3h0M73 94.7h0M71.6 104.5h0M56.4 71.9h0M70.6 105.8h0M55.8 95.8h0M61.1 90.5h0M73.8 67.7h0M72.7 72.3h0M63.6 61.2h0M68.1 104.2h0M61.9 99h0M71 59.9h0M60.6 84.9h0M58.5 68.8h0M57.3 96.7h0M66.7 87h0M65.3 107.9h0M72 94.7h0M57.3 61.2h0M70.1 77.1h0M72.8 87.1h0M69 105.3h0M56.7 77h0M57.5 67.3h0M56.2 72.6h0M61 70.7h0M69.2 65.2h0M57.3 75.7h0M63.2 70.8h0M55.4 83.9h0M67.7 104.1h0M56.4 108.7h0M69.9 65.5h0M66.4 86.8h0M58.2 91.9h0M68 65h0M61.3 84.9h0M64.7 68h0M65.3 76.7h0M59.8 74.7h0M62.6 99.4h0M69.8 70h0M71.3 85.4h0M71 87.6h0M65.5 75h0M71.4 106.6h0M57.2 75.1h0M73.6 74.8h0M55.4 92.9h0M71.9 82.8h0M69.9 94.5h0M62.1 65.1h0M69.8 64.7h0M73.1 95.1h0M57.7 77.9h0M67.1 101.8h0M54.6 69.9h0M67.4 70.3h0M55.7 102.1h0M67.5 76.6h0M55 61.9h0M62.3 69.2h0M71.3 96.9h0M60.4 71.7h0M73.3 86.1h0M63.6 100.4h0M58 88.8h0M72.7 96h0M57.5 111.2h0M66 73.4h0M72.8 102.9h0M72.7 85.9h0M65.3 68.1h0M58.6 63.6h0M64.2 74.9h0M60.2 64h0M60.6 97h0M60.7 86.2h0M58.4 55.4h0M55.3 103.1h0M69.1 88.1h0M54.7 80.6h0M65.6 64.2h0M61.6 81.9h0M67.1 105.7h0M65.8 87.5h0M63.8 81.4h0M69.6 88.7h0M65.6 85.9h0M71.9 89.5h0M65.9 68h0M71.5 64.8h0M71.3 49.4h0M68.2 100.3h0M60.9 43.9h0M63.9 71.2h0M56 87.6h0M68.6 83.4h0M67 104.6h0M70.4 68.8h0M56.1 62.2h0M57 65.6h0M67 83.3h0M68.7 73h0M55.9 81.2h0M55.1 92.7h0M60.8 74.6h0M61.1 91.5h0M55.5 51.4h0M56.4 85.6h0M58.5 105h0M54.8 107h0M57.4 86.9h0M55 112.2h0M61.7 70h0M69 73.3h0M67.3 80.8h0M66.2 83.8h0M63.6 99.6h0M58.1 80.8h0M55.4 55.9h0M58.1 93.3h0M72.9 69.3h0M70.3 103.3h0M65.6 68.7h0M66.4 73.3h0M69 64h0M70.4 73.6h0M59.2 88.3h0M70.1 71.8h0M67.1 56h0M59.9 87.6h0M60.1 95.1h0M57.8 61.8h0M65.1 79.7h0M73.3 58.2h0M69.8 50.7h0M57.7 77.2h0M56.8 72.8h0M60 102.9h0M57.7 49.7h0M57.3 90.6h0M68.7 95h0M60.6 79.3h0M65.5 83.4h0M60.6 70.7h0M73.6 71h0M66 56.5h0M57.2 104.9h0M69.6 53.1h0M60.1 64h0M63.3 94.5h0M60.1 81.3h0M64 84h0M60.5 73.2h0M60.7 65.6h0M57.6 98.5h0M73.1 63h0M58.5 73.3h0M60 96h0M62.5 73.4h0M56.8 108.4h0M58.9 66.5h0M62.4 84.7h0M65.8 85.2h0M64.9 83.4h0M61.7 97.2h0M67.6 55.7h0M69 85.6h0M59.6 98h0M59.1 56.2h0M66.6 85.7h0M62.5 80.5h0M70.6 78.7h0M54.7 85.2h0M65 89.5h0M61.3 93.5h0M58.6 104.3h0M71.3 91.1h0M58.7 119.5h0M69.8 91.5h0M71.1 71.9h0M73.3 64.7h0M56.8 58.4h0M57.5 71.8h0M56.1 62.6h0M60.7 92.4h0M72.1 92.7h0M67 88.9h0M57.5 77.6h0M56.5 81.6h0M69 71.3h0M66.6 105.8h0M54.5 50.4h0M65.9 74.5h0M58.2 87h0M60.2 66.9h0M56.5 101.6h0M73.7 82.4h0M63.4 77h0M66.5 57.6h0M58.5 72.5h0M61.8 87.8h0M67.1 72.5h0M69 55.6h0M72.1 87.3h0M59.3 73.7h0M59.2 101.1h0M62.3 92.8h0M60.5 94.4h0M70.4 103.8h0M61.7 99.1h0M61.7 75h0M64.2 86.8h0M65.4 71.3h0M61.4 68.1h0M54.7 68.4h0M68.8 62h0M56.7 70.2h0M71.1 69.5h0M59.3 91.9h0M59.5 70.9h0M64.9 55.7h0M72.1 79.5h0M61.9 68.1h0M63.8 92.7h0M62.5 69.3h0M56.7 86.2h0M60.1 66.6h0M72.3 82.5h0M72.7 102.4h0M59.4 73.6h0M72.4 84.7h0M54.8 80.4h0M68.4 58.4h0M55 51.6h0M62.8 100.9h0M62.5 75.5h0M62.9 92.6h0M72.8 79.1h0M61.3 100.7h0M54.9 67.7h0M56.6 82.6h0M69 85.8h0M57 98.2h0M55.6 53.3h0M58.3 76.6h0M73.5 82.2h0M63.1 87.7h0M57.4 64.3h0M67.3 85.5h0M61.8 92.9h0M65.2 95h0M73.8 69.4h0M68.1 80.5h0M64.9 73.4h0M73.9 77.9h0M64.3 76.7h0M63.3 107.9h0M71 49.7h0M73.1 108.1h0M68.5 53.9h0M61.6 59.1h0M62.3 68.4h0M54.7 72.8h0M59.2 101.8h0M69.6 100.8h0M64 107h0M71.1 78h0M67.5 50.4h0M65.5 89.6h0M70.1 104.4h0M64.2 61.7h0M67.4 100.1h0M64 41.9h0M61.3 94.9h0M69.3 83.1h0M55.9 105h0M73.5 102.8h0M73.1 55.7h0M70.6 83.3h0M63.6 70.4h0M63.2 80.4h0M62.3 58h0M63.4 76.5h0M58.8 78.9h0M70 44.7h0M71.6 82.1h0M64.2 104.1h0M71 57.4h0M60.2 107.8h0M71.2 82.9h0M73.4 68.7h0M67.5 110.2h0M73.2 82.1h0M68.6 80.3h0M68 77.3h0M63.7 103.2h0M55.7 63.5h0M56.9 68.7h0M70.6 72.6h0M58 57.6h0M67.8 101h0M57.6 82.8h0M69.2 88.4h0M73 103.5h0M66.5 83.1h0M55.3 72.2h0M68.8 84.9h0M63.7 83.4h0M71.3 73.4h0M57.4 69.8h0M59.9 76.4h0M72.3 95.1h0M70.7 65.9h0M72.1 116.3h0M64.6 70h0M67.6 72h0M72.6 62.9h0M67.3 78.1h0M56.2 77.1h0M57.5 92.3h0M54.6 104.2h0M56.7 70.7h0M55 99.1h0M62 73.9h0M66.5 78.8h0M71.2 63.3h0M62.4 104h0M57.6 77.2h0M72.1 93.3h0M72.3 52.7h0M73.5 93.1h0M55 69.5h0M66 81h0M66.7 91.9h0M64.9 66.2h0M58.1 84.7h0M72.4 100.5h0M64.9 65.8h0M55.2 81.8h0M61.2 67.1h0M68.6 64.4h0M58.4 82.9h0M69.6 81.3h0M58.6 90.4h0M62.9 101.8h0M60.2 93.6h0M57 75.3h0M71.6 82.7h0M61.1 91.9h0M69.1 100.7h0M71.8 92.4h0M60 83.5h0M54.6 63.7h0M64.7 102.4h0M59.1 72.5h0M71.5 78.7h0M57.7 103.5h0M68.5 68.5h0M55 105.4h0M59.8 69.7h0M58.3 60h0M71 84.1h0M66.1 98.3h0M67.3 78.6h0M56.1 100.9h0M60.5 78.3h0M71.8 99.4h0M66.4 62.1h0M69.2 72.6h0M64.2 62.9h0M58.5 95.3h0M72.2 81.9h0M59.6 91h0M57.8 70.2h0M67.1 95.1h0M56.2 114.7h0M69.3 59.2h0M68.3 74.4h0M61.9 102.5h0M64.5 101.4h0M63.9 102.7h0M55.9 69.6h0M56 86.5h0M61.3 59.9h0M54.6 80h0M58.1 87.1h0M61.6 71.3h0M66.7 79.6h0M64.5 76.8h0M57.9 59.8h0M69.2 58.2h0M69.9 97.5h0M67.4 43.5h0M67.8 112.8h0M59.4 104.3h0M70.8 113.1h0M65.9 97.8h0M57.9 42.9h0M67.8 62.4h0M66.7 74.4h0M65.5 66.9h0M63.6 57.4h0M69.4 105.6h0M68.7 105.2h0M65.9 96.8h0M55.8 71h0M59 101.5h0M73.5 99.6h0M62.3 74.7h0M66.8 63.3h0M57.1 63.9h0M65.6 78.9h0M66.3 100.3h0M69.3 59h0M73.3 79.9h0M63.3 76.2h0M60.6 104h0M57.6 65.1h0M61 91h0M63.1 74.7h0M73.2 90.6h0M64.4 99.8h0M67.6 99.9h0M68.7 101.1h0M54.8 73.1h0M59 72.2h0M65 62.9h0M55.6 71.1h0M57.4 62.7h0M69.1 97.7h0M67.6 55.8h0M57.2 67.5h0M56.8 98h0M70.9 96.8h0M63.7 110.7h0M60.6 77.7h0M68.5 55.5h0M67.5 99h0M73.8 72.8h0M56.5 97.1h0M69.4 51.3h0M63.4 54.1h0M59.3 88.2h0M64.2 92.5h0M54.9 86.4h0M56.9 85h0M56.6 88.2h0M67.9 63.5h0M68.2 57.7h0M59.2 76h0M60.5 85.7h0M69.5 70.8h0M62 66.8h0M61.3 80.7h0M72.8 78.9h0M65.1 71.8h0M64.9 106.4h0M66.3 107.7h0M55.3 55.8h0M62.2 82.4h0M69.8 70.2h0M67.1 75.3h0M71.8 53.1h0M60.5 59.3h0M63.7 53.9h0M59.1 63.1h0M58.1 90.7h0M56.3 59.2h0M58.4 103.5h0M57.7 98.7h0M63 71.9h0M62.5 92.8h0M69.3 108.5h0M69.6 62.4h0M65 86.3h0M67.2 81.7h0M63.6 74h0M60.5 72.8h0M64.3 59.9h0M66.7 90.6h0M73 67.9h0M70.3 79.6h0M55.8 106.5h0M66.9 75.9h0M56.3 74.3h0M66.6 106.8h0M71 87.5h0M68.1 86.8h0M56.8 69.3h0M62.7 90.3h0M58.3 77.4h0M67.3 85.5h0M68.3 78.4h0M68.8 59.4h0M61.4 103h0M66.1 92.8h0M58.5 109.1h0M72.5 73.8h0M72.7 72.5h0M55.1 63.9h0M65.4 73.8h0M68.4 74.8h0M59 67.1h0M55.1 71.6h0M54.5 73.2h0M68.2 101.8h0M54.7 80.7h0M62 99.6h0M70 56.1h0M55.5 67.4h0M68.2 108.6h0M62.9 56.2h0M62.1 58.3h0M63.9 84.3h0M61.3 72.9h0M71.2 67.7h0M67.5 88.7h0M62 88.7h0M56.8 67.3h0M64.3 85.3h0M73.9 81.2h0M71.8 101.1h0M55.8 58.2h0M61.4 69.9h0M63.6 86.6h0M62.4 53.9h0M56.7 101.1h0M58.1 110.1h0M64.9 74.9h0M68.5 97.2h0M68.4 70.8h0M67.5 108.1h0M67.6 68.7h0M54.7 46.4h0M58.7 58.2h0M61 81.4h0M59.5 54.6h0M62 111.7h0M62.2 89.8h0M61.1 86.8h0M54.7 89.6h0M71.3 79.4h0M73.1 103.5h0M66.4 93.9h0M59.8 80h0M63.2 72.6h0M72.2 64.5h0M66.1 74.3h0M68 76.2h0M68.1 59.4h0M73.5 106.2h0M67.2 71.3h0M56.6 85.3h0M64.3 58h0M72.4 85.9h0M57 90.6h0M55.5 59.3h0M55.5 111h0M55.9 65.8h0M57.7 71.5h0M69.5 95.2h0M66.1 75.3h0M68.7 103h0M65.3 70.2h0M61.4 74.2h0M69.8 92.9h0M57.8 101.9h0M61.5 103.4h0M62.6 72.9h0M67.7 84.9h0M69.3 79h0M65.5 92.1h0M66.3 69.6h0M60 100.7h0M66 93.9h0M70.9 66.5h0M63 74.2h0M69.1 75.3h0M64.4 106.6h0M64.4 81.2h0M66.3 89.1h0M57.2 106.7h0M58.7 78.3h0M57.9 108h0M64.9 73.1h0M67.5 49.5h0M68.2 61.3h0M58.5 92.9h0M61 77.6h0M57.3 100.4h0M67.2 85h0M62.7 92.5h0M59.8 76.1h0M58.9 87.7h0M72.9 93.2h0M63.8 77.3h0M73.7 82.9h0M60.7 101h0M58.7 106.6h0M68.4 76h0M72.2 58.1h0M57.7 100.9h0M71.2 80.8h0M65.9 110.2h0M72 96.5h0M72.9 76.9h0M62.8 101.4h0M72.8 85.7h0M58 94h0M63.1 103.5h0M63.1 87.3h0M59.3 108.1h0M63.9 78.4h0M69.1 77.4h0M56.6 90.3h0M63.8 78.7h0M64.7 93.6h0M58.3 84.9h0M67 95.5h0M59.4 100h0M65.6 86.7h0M65.6 105.5h0M69 97.5h0M72.6 101.8h0M72.5 51.3h0M64.2 50.3h0M59.6 90h0M59.2 75.2h0M69.8 102.7h0M69.2 78.1h0M69.9 95.5h0M70.7 70.6h0M65.5 89.7h0M71.9 104.5h0M67.2 102.1h0M66.7 76.8h0M70.7 82.5h0M67.2 85.1h0M69.4 75.7h0M72.5 82.6h0M62.2 109.7h0M69.1 103.1h0M60.3 74.2h0M63.9 92.5h0M71.4 108.2h0M73.4 76.6h0M72.9 101.2h0M69.2 98.4h0M71 103.6h0M71.7 59.7h0M66.3 106.1h0M59.2 111.8h0M54.8 70.4h0M69.3 89.9h0M69.2 60.3h0M68.7 88.4h0M65.8 93.7h0M67.3 95.6h0M68.4 101.7h0M64.8 73.1h0M67.3 62.4h0M58.9 99.5h0M64.9 52.6h0M66.7 69.9h0M65.5 70.1h0M59.5 97.2h0M57 80.5h0M67.2 100.6h0M56.7 91.6h0M69.9 100.9h0M58 97.8h0M69.5 103.2h0M61.4 72.2h0M72 76.3h0M58.9 89.7h0M57.6 87.5h0M67.6 97.3h0M69.5 99h0M61.3 73.7h0M63.7 62.8h0M67.3 95.4h0M60.2 92.6h0M62 72.3h0M65.5 57h0M60.4 52.1h0M57.3 70.7h0M72.1 72.1h0M56.9 68.5h0" stroke="#000" stroke-width="0.96" stroke-linecap="round" fill="none"/>
<line x1="54.6" y1="134" x2="73.8" y2="134" stroke="#000" stroke-width="1.5" stroke-opacity="0.86"/>
<line x1="87.5" y1="46.4" x2="87.5" y2="133.8" stroke="#c6c6c6" stroke-width="0.8"/>
<path d="M85.1 86.4h0M80 104.4h0M96.6 94h0M90.3 90.9h0M83.9 91.4h0M89.1 93.4h0M81.1 109.5h0M95.6 103h0M87.5 98h0M91.4 115.4h0M81.3 86.5h0M87 97.1h0M91.6 105.9h0M85.3 98.4h0M79.1 103.3h0M86.9 107.2h0M93.8 95.2h0M86.8 104.3h0M96.8 113.4h0M88.7 106h0M94.9 101.1h0M78.4 110.2h0M90 88h0M87.7 110.3h0M84.7 83.3h0M95.3 91.5h0M79.6 108.9h0M87.2 98.7h0M83.7 88.7h0M96.4 101.8h0M93 111.3h0M81.7 98.9h0M80.3 81h0M78.3 114.1h0M81.3 94.7h0M95.8 99.8h0M94.7 101.1h0M93.3 103.6h0M85.6 103h0M87.1 90.1h0M89 94.2h0M93.5 109.4h0M77.9 85.1h0M81.3 112.2h0M89.1 93.6h0M80.5 98.2h0M96 88.5h0M78.7 96.5h0M96.7 89.9h0M82 100.1h0M81.6 90.6h0M86 96.6h0M90.2 79.5h0M96.8 106.5h0M87 88.5h0M95.2 95.5h0M95.1 98.2h0M96.9 105.2h0M84.8 95.6h0M87 113.9h0M78.2 112.9h0M85.2 93.1h0M84.7 114.6h0M80.2 86.2h0M93.9 102.5h0M83.2 97.5h0M80.3 99.1h0M80 95.9h0M78.3 102.5h0M92.5 103.3h0M88.1 101h0M88 89.9h0M85.8 89.1h0M96.5 87.7h0M85.1 96.4h0M87 101.7h0M91.2 115.8h0M95.8 93.7h0M94.5 91.8h0M94.9 103.7h0M81.4 92.2h0M96.1 87.6h0M93.8 98.9h0M84.2 89.8h0M93.4 96.9h0M96.3 116.3h0M92.2 104.3h0M92.1 103.7h0M94.1 94.8h0M94.8 108h0M93 104h0M79.3 109h0M81.8 100.2h0M80.1 99.2h0M86.8 90.6h0M79.1 92.2h0M88.5 98.3h0M95.7 97.5h0M96.8 98.8h0M78.5 98.7h0M91 85.1h0M80.6 101.5h0M94.5 96.8h0M78.4 89.1h0M79.8 110.2h0M84.1 96.5h0M77.9 91.6h0M90.6 104h0M81.8 118h0M91.8 103.2h0M96.2 111.2h0M86.9 93.6h0M86.9 107.9h0M97.1 82.9h0M83.9 98.5h0M95 107.5h0M91.6 104.6h0M78 110.2h0M83.6 96.1h0M91.8 85.7h0M78.7 101.9h0M94.4 91h0M95.5 108.8h0M92.5 96.9h0M93.5 77.9h0M89.4 113.2h0M93.5 88.1h0M86.9 88.7h0M85.7 117.7h0M91.4 113.4h0M86.8 109.1h0M83.8 90.6h0M82.9 103.9h0M86.3 101.4h0M85.2 93.1h0M92.4 98.7h0M93 97.7h0M93.3 102.9h0M94.2 89.1h0M84.8 107.2h0M85 83.9h0M94.1 103h0M81.3 107.4h0M91.4 93.7h0M88 95.5h0M90.7 97.7h0M91.3 112.7h0M90.8 107.7h0M82.4 92.4h0M78.3 108h0M96.3 96.5h0M95.2 103.5h0M87.6 81.5h0M90.6 100.8h0M79.6 111h0M86.7 110.4h0M89.2 108.5h0M91.4 98.7h0M82 99.9h0M79.6 90.7h0M96.4 98.3h0M94.3 98.7h0M81.3 96.8h0M93.8 101.1h0M93.6 97.1h0M81.3 92.5h0M93.4 92.5h0M85.2 105.1h0M84.3 116.7h0M80.9 107.6h0M89.3 97.3h0M89.7 104.5h0M87.7 95.7h0M79.7 105.3h0M93.2 110.6h0M83.9 83.3h0M82.9 86.8h0M90.2 102.4h0M81.4 87.4h0M95.5 87.6h0M90.4 110.7h0M93.1 74.5h0M84.4 108.9h0M86.1 102.5h0M82.7 110.4h0M82.7 99.3h0M85.9 112.5h0M93.1 100.1h0M87.6 89.7h0M94 98h0M80 102.5h0M83.4 85.3h0M78.5 108.5h0M95.5 90.8h0M79 102.9h0M88.3 98h0M90.9 99.7h0M81.8 98.8h0M96.8 100.6h0M96.8 107.5h0M82.4 105.5h0M80.5 95.9h0M90.4 101.1h0M87.8 111.1h0M89.5 106.8h0M89.8 106.7h0M96.3 100.6h0M92.7 98.4h0M83.9 99.3h0M92.3 106.3h0M86.5 100h0M96.7 113.1h0M87.1 100.7h0M78 115.9h0M95.6 109.2h0M83.2 111.6h0M93.7 94.2h0M89.7 111.7h0M92.2 97.6h0M92.1 104.9h0M95.4 112h0M94 115.2h0M90.3 95.9h0M84.1 96.6h0M87.4 92.9h0M83.2 82.9h0M84.3 97.7h0M86.7 97.6h0M86 101.5h0M83.4 99.3h0M83.7 103.7h0M83.8 108.8h0M81.5 81.4h0M89.1 118.1h0M79.6 98h0M82.6 96.2h0M81.1 99h0M91.5 109.5h0M83.2 102.2h0M79.7 104.8h0M93.7 110.6h0M86.3 100.9h0M93.4 104.3h0M84 105.7h0M84.5 94h0M88.6 110.6h0M79.2 96.3h0M96.8 106.3h0M80.4 96.5h0M95.5 99.9h0M90.6 98.2h0M92.6 109.8h0M81.9 107.9h0M95.1 108.7h0M88.2 98.9h0M85.8 93.5h0M81.5 90.3h0M81.1 105.3h0M94.5 99.8h0M96.6 115.9h0M85.9 108.8h0M91.8 106.9h0M91.4 115.4h0M87.4 117.5h0M87.1 95.6h0M88.5 108.3h0M84.5 116.6h0M92.3 78.7h0M85.9 99h0M87.6 103.7h0M81.3 94.3h0M96.7 107.9h0M79.3 85.7h0M91.7 115.3h0M90.6 113.1h0M84.5 102h0M96.7 108h0M78.5 87.4h0M83.1 115.9h0M84.4 107.7h0M90.3 89.4h0M89.2 71.4h0M91.6 66.6h0M94.5 77.5h0M78.2 84.7h0M88.7 104.5h0M85.6 70.9h0M91.2 75.8h0M88 100.6h0M84.6 79.6h0M77.9 70.2h0M83.8 82.7h0M86.5 69.3h0M84.3 69.8h0M85.2 103.2h0M90.4 85.6h0M84.3 73.8h0M94.3 67.3h0M84.8 59.9h0M86.2 109.8h0M86.2 82.1h0M95.3 70.3h0M89.5 62.7h0M96.5 55.8h0M77.9 95.1h0M96.3 86.7h0M81.6 96.9h0M95.2 68.8h0M78.7 100.9h0M94.4 63.3h0M90.1 67h0M91.1 73.7h0M85.4 113.6h0M85.3 91.2h0M80.8 69.8h0M80.5 102.3h0M89.9 84.7h0M84.4 82.6h0M78.4 67.7h0M81.1 76.8h0M81.1 76.9h0M81.5 87.7h0M86.6 81h0M95.5 83.1h0M89.1 70.1h0M92.2 83.8h0M79.8 65.6h0M91.2 106.6h0M94.6 63h0M97.1 83.6h0M91.6 64.1h0M89.6 79.8h0M96.5 68.2h0M80.3 58.6h0M93.2 89.4h0M91.8 79.9h0M91.9 83.6h0M84.7 78h0M79.3 105.4h0M80.5 83.7h0M90.9 84.8h0M83.9 92.9h0M96.2 84h0M80.2 104.3h0M93.6 60.1h0M87.1 74.4h0M83.5 52.8h0M82.7 94.2h0M84.7 98.6h0M84.9 76.9h0M82.2 106.1h0M82 77.7h0M96.6 91.7h0M86 86.1h0M89.9 77.3h0M91.4 80.4h0M84.2 53.2h0M95.9 71.6h0M83.5 100.5h0M81.5 66.4h0M78.7 101.2h0M82.9 79.8h0M79 99.9h0M90 93.6h0M89 61.4h0M78.2 89.5h0M96.2 90.8h0M91.9 89.6h0M88.5 85.8h0M96.1 59.5h0M88.1 98.9h0M81.2 99.7h0M92.9 72.5h0M96.3 105.1h0M79 86.7h0M87.6 64.2h0M82.2 81.2h0M95.3 88.4h0M79.7 91.9h0M93.4 95h0M81.8 90.1h0M90.2 79.2h0M91.2 62.5h0M92.6 66.7h0M78.8 89.7h0M87.2 92.2h0M80.2 70.8h0M80.3 108.5h0M80.9 87.9h0M80.7 86.2h0M95.9 98h0M88.7 96.2h0M82.7 76.1h0M87.2 106.2h0M78.9 95.1h0M82 91.1h0M90 80.1h0M91.3 102h0M89.7 65.1h0M96.9 86h0M96.8 85.3h0M94 86.9h0M86.8 91.6h0M92.5 96.2h0M82.6 64.3h0M94.6 78.4h0M82.5 83.2h0M97 66.6h0M78.1 92.2h0M93.2 72.1h0" stroke="#000" stroke-width="0.96" stroke-linecap="round" fill="none"/>
<line x1="77.9" y1="134" x2="97.1" y2="134" stroke="#000" stroke-width="1.5" stroke-opacity="0.86"/>
<line x1="110.8" y1="52.1" x2="110.8" y2="133.8" stroke="#c6c6c6" stroke-width="0.8"/>
<path d="M104.5 98.6h0M116.5 107.3h0M112.7 97.2h0M119.4 84.4h0M106.8 101.9h0M112.8 97h0M113.1 87.1h0M104.8 79.8h0M112.7 103.8h0M115.2 95.5h0M116.8 103.6h0M117.7 104.3h0M101.6 102h0M115.8 104.2h0M107.4 114.4h0M115.9 105.1h0M104 97.1h0M108.4 87h0M109 103.3h0M114.6 99.9h0M113 92.2h0M116.9 91.4h0M101.2 99.4h0M106.6 98.8h0M115.4 80.9h0M105.7 101.4h0M117.5 102.9h0M107.1 113.4h0M114 94.3h0M102.2 100.8h0M118.9 80.5h0M103.3 101.4h0M109.1 90.8h0M108.7 89.6h0M107 83h0M111.5 110.5h0M111.3 83.8h0M116.5 98.2h0M120 99.3h0M116.6 101.2h0M115.1 102h0M104.9 101.5h0M105.2 93.6h0M101.3 97.7h0M102.9 107.2h0M116.3 98.9h0M102.2 77h0M106.3 94.8h0M108.5 101.9h0M104.1 82.4h0M107.7 105.7h0M106 99.7h0M109 103.5h0M104.6 100.5h0M101.6 91.5h0M118.7 92.9h0M115.5 105.1h0M116 99.5h0M106 97.5h0M119.3 102.1h0M117.3 98.7h0M109 105h0M106.7 105.1h0M116.5 97.9h0M101.5 107.9h0M112.2 94.5h0M117.9 100.1h0M118.8 106.9h0M119 104h0M109.4 102.8h0M101.4 99.8h0M107.9 97.3h0M106.3 100.3h0M112.3 106.4h0M115.2 85.1h0M120.1 90h0M107.3 97.3h0M108.1 89.6h0M102.8 95.3h0M117.3 100.7h0M110.8 97.6h0M105.6 73.7h0M110.9 89.2h0M110.5 88.7h0M117 102h0M105.6 92.8h0M110.9 77.5h0M109.7 94.4h0M103 88.5h0M103.8 86.8h0M105.8 92.4h0M109.5 83.8h0M111.9 96.2h0M115.6 93.8h0M118.8 104.2h0M102.9 74h0M120 95.6h0M109.1 97.4h0M116.2 85.6h0M107.5 102.9h0M115.3 98.4h0M114.4 105.6h0M101.5 98.2h0M118 102h0M101.9 93.4h0M110.7 99.5h0M105.3 103.9h0M112.6 101.1h0M104.6 99.5h0M112.9 103.1h0M116 89.8h0M112.6 92.2h0M117.4 97h0M108.5 109.3h0M114.1 93.6h0M109.8 110.1h0M118.9 96.7h0M102.9 98h0M118 103.8h0M101.4 106h0M117.7 104.8h0M102.8 79.5h0M114.6 100.8h0M103.1 100.3h0M116.2 89.6h0M105.4 94.5h0M102.5 88.7h0M118 109.7h0M112.3 108.4h0M117.5 67.8h0M116.5 98.8h0M102.9 101.1h0M103 96.9h0M115 89.3h0M117.5 109.3h0M104.6 95.8h0M118.3 98.7h0M101.6 92.2h0M116 96.8h0M113.3 103.3h0M108.6 106.3h0M108.5 89.4h0M107.1 111.9h0M110.3 102.1h0M110.8 83.2h0M104.3 102.2h0M101.4 92.8h0M111.3 100.3h0M104.8 92h0M103 98.1h0M106 103.1h0M103.9 86h0M117.9 100.8h0M106.7 110.6h0M113.7 101.4h0M101.3 93.5h0M113.9 108.6h0M119.6 91.2h0M115.7 91.4h0M115.9 79h0M109.2 104.3h0M110.4 92.4h0M118.6 113.7h0M105.7 102.2h0M110.9 97.4h0M115.2 94.7h0M107.6 98.9h0M110.3 99.2h0M101.8 104h0M114.3 102.5h0M104.3 95.6h0M106.1 93.3h0M105.5 92.6h0M115 89.3h0M108.8 87.6h0M120.4 114.8h0M116.6 103.2h0M119 99.9h0M114.4 104.3h0M105.6 88.9h0M107.4 91.6h0M108.2 99.4h0M105 97.3h0M110.2 86.9h0M116.4 101.6h0M111.2 101.3h0M104.3 90.1h0M115.3 94.1h0M119.8 85.5h0M110.3 95h0M103.8 91.6h0M115.3 103.4h0M111.6 107h0M116.8 98.5h0M112.9 94.7h0M118 89.6h0M101.4 97.7h0M113.7 100.4h0M112.8 88.5h0M116.2 98.8h0M105.3 89.5h0M112.5 78.4h0M106.3 91.8h0M115.7 89.9h0M102.6 93.9h0M104.2 96.1h0M119.4 95.9h0M115.4 97.8h0M106 88.5h0M107.2 113.1h0M109.5 100.8h0M105.6 92.4h0M103.8 106.1h0M119.9 99.4h0M105.2 104.7h0M115.6 84.8h0M115 85h0M115.4 74.7h0M107 59.3h0M105.4 92.9h0M113.1 72.2h0M120.4 84.7h0M108.6 85.9h0M105.3 69.5h0M111 92.4h0M104.8 96.4h0M107.8 71.6h0M115.4 81.5h0M105.8 84.9h0M109.8 83h0M113.6 74h0M104.2 86.4h0M103.9 70.2h0M119.8 75.2h0M117.9 60h0M118.3 63.1h0M112.2 68.9h0M110.9 84h0M103.2 79.4h0M105.8 89.6h0M103.3 84.3h0M111.4 73.2h0M109.6 61.7h0M104.4 100.5h0M103 92.9h0M112.2 86.7h0M103.8 95.3h0M101.3 99.2h0M105.5 88.5h0M116.7 62.7h0M113.9 70.8h0M111.1 80.6h0M105.5 80.7h0M110.2 104.8h0M101.3 71.1h0M107.4 75h0M110.4 96.5h0M102.9 78.1h0M112.4 83.8h0M109.7 88.4h0M102.2 95.2h0M104 90.7h0M110.6 94.5h0M118.5 74.5h0M102.2 75.8h0M112 76.4h0M106.6 83.6h0M108.6 86.9h0M119 107.6h0M113.3 64h0M106.6 76h0M109.9 80h0M120.1 88.3h0M117.9 84.2h0M109.4 97.9h0M111.4 100.8h0M110 82.6h0M104 104.6h0M119.9 69.1h0M105.5 65.1h0M105.4 103.1h0M103.2 77.1h0M119.4 78h0M118.8 79.4h0M113.5 75h0M111.4 70.4h0M112.4 68.7h0M108.3 55.5h0M118.4 80.6h0M111.9 68.7h0M117.7 104.1h0M114.6 82.9h0M114.3 98.4h0M114.1 61.1h0M116.2 73.3h0M116.9 99.5h0M114.4 82.6h0M107.3 80.6h0M106.2 78.1h0M104.9 65.4h0M117.7 67.4h0M110.5 61.5h0M101.1 88h0M112.7 88.9h0M117.9 60.8h0M118.9 84.8h0M119.3 100.5h0M118 99.8h0M104.5 80.1h0M111.1 68h0M114.8 59.6h0M113.6 83.4h0M108.1 87.6h0M101.8 57.8h0M118.4 87.5h0" stroke="#000" stroke-width="0.96" stroke-linecap="round" fill="none"/>
<line x1="101.2" y1="134" x2="120.4" y2="134" stroke="#000" stroke-width="1.5" stroke-opacity="0.86"/>
<line x1="27" y1="33" x2="27" y2="139.1" stroke="#000" stroke-width="1.2"/>
<line x1="26.4" y1="138.5" x2="124.6" y2="138.5" stroke="#000" stroke-width="1.2"/>
<line x1="24.2" y1="133.8" x2="27" y2="133.8" stroke="#000" stroke-width="0.9"/>
<text x="21" y="135.6" font-size="5.8" text-anchor="end" fill="#000" stroke="#000" stroke-width="0.05">0</text>
<line x1="24.2" y1="114.8" x2="27" y2="114.8" stroke="#000" stroke-width="0.9"/>
<text x="21" y="116.6" font-size="5.8" text-anchor="end" fill="#000" stroke="#000" stroke-width="0.05">1</text>
<line x1="24.2" y1="95.8" x2="27" y2="95.8" stroke="#000" stroke-width="0.9"/>
<text x="21" y="97.6" font-size="5.8" text-anchor="end" fill="#000" stroke="#000" stroke-width="0.05">2</text>
<line x1="24.2" y1="76.8" x2="27" y2="76.8" stroke="#000" stroke-width="0.9"/>
<text x="21" y="78.6" font-size="5.8" text-anchor="end" fill="#000" stroke="#000" stroke-width="0.05">3</text>
<line x1="24.2" y1="57.8" x2="27" y2="57.8" stroke="#000" stroke-width="0.9"/>
<text x="21" y="59.6" font-size="5.8" text-anchor="end" fill="#000" stroke="#000" stroke-width="0.05">4</text>
<line x1="24.2" y1="38.8" x2="27" y2="38.8" stroke="#000" stroke-width="0.9"/>
<text x="21" y="40.6" font-size="5.8" text-anchor="end" fill="#000" stroke="#000" stroke-width="0.05">5</text>
<line x1="41" y1="138.5" x2="41" y2="141.3" stroke="#000" stroke-width="0.9"/>
<text x="44.6" y="147.7" font-size="6.2" text-anchor="end" fill="#000" stroke="#000" stroke-width="0.13" transform="rotate(-45 44.6 147.7)">L+Ado</text>
<line x1="64.2" y1="138.5" x2="64.2" y2="141.3" stroke="#000" stroke-width="0.9"/>
<text x="67.8" y="147.7" font-size="6.2" text-anchor="end" fill="#000" stroke="#000" stroke-width="0.13" transform="rotate(-45 67.8 147.7)">L+PGE2</text>
<line x1="87.5" y1="138.5" x2="87.5" y2="141.3" stroke="#000" stroke-width="0.9"/>
<text x="91.1" y="147.7" font-size="6.2" text-anchor="end" fill="#000" stroke="#000" stroke-width="0.13" transform="rotate(-45 91.1 147.7)">LPS</text>
<line x1="110.8" y1="138.5" x2="110.8" y2="141.3" stroke="#000" stroke-width="0.9"/>
<text x="114.4" y="147.7" font-size="6.2" text-anchor="end" fill="#000" stroke="#000" stroke-width="0.13" transform="rotate(-45 114.4 147.7)">Unstimulated</text>
<text x="75.5" y="28.6" font-size="7.6" text-anchor="middle" fill="#000" stroke="#000" stroke-width="0.22">THBS1</text>
<text x="12.2" y="85.7" font-size="7.3" text-anchor="middle" fill="#000" stroke="#000" stroke-width="0.16" transform="rotate(-90 12.2 85.7)" textLength="40" lengthAdjust="spacingAndGlyphs">Expression level</text>
<polygon points="152.4,133.9 152.4,132.8 154.9,130 157.9,127.2 160.9,124.4 162.75,121.6 162.75,113.1 162.75,107.5 161.7,101.9 160.7,96.3 159.9,90.6 160,85 160.6,82.8 161.6,74.4 162.05,68 162.75,62 162.75,59 162.75,37.8 163.05,37.8 163.05,59 163.05,62 163.75,68 164.2,74.4 165.2,82.8 165.8,85 165.9,90.6 165.1,96.3 164.1,101.9 163.05,107.5 163.05,113.1 163.05,121.6 164.9,124.4 167.9,127.2 170.9,130 173.4,132.8 173.4,133.9" fill="#EC736B" stroke="#222" stroke-width="0.3" stroke-opacity="0.55"/>
<line x1="162.9" y1="106.2" x2="162.9" y2="121.86" stroke="#c6c6c6" stroke-width="1"/>
<line x1="162.9" y1="37.8" x2="162.9" y2="66.22" stroke="#c6c6c6" stroke-width="1"/>
<path d="M165.9 96.8h0M167.7 99.6h0M171 84.8h0M159.5 79.9h0M155.1 98.8h0M165.4 93.1h0M169.4 93.4h0M167.3 63.2h0M162.7 72.4h0M158.4 96.5h0M167.3 100.3h0M169.8 83.7h0M157.5 99.8h0M167 76.8h0M168.2 90.8h0M172.5 83.6h0M160.5 89.4h0M160.8 77.7h0M154.1 84.7h0M156.3 87.2h0M167.6 90.8h0M158.5 78.1h0M170.9 91.6h0M159.4 78.4h0M168.6 105.8h0M160.2 79.6h0M167.9 72.6h0M161.7 80.8h0M157.3 90.4h0M157.2 86.7h0M158.8 93.2h0M155.5 72.6h0M170 85.7h0M171.1 90.1h0M168.6 105.6h0M153.3 100.4h0M170.3 90.6h0M168.6 81.9h0M169.5 73h0M165.4 92.4h0M157.2 90.3h0M159 87.6h0M160.7 95h0M156.8 87.3h0M153.7 96.8h0M171.7 81.5h0M160.8 82.8h0M165 101.5h0M155.3 90.8h0M169.8 103.9h0M167.8 68h0M154 102.1h0M157.1 67.5h0M167.6 95.9h0M154.3 90.8h0M153.7 73.4h0M155.5 82h0M156 87.8h0M168.2 90.1h0M168.4 88h0M164.3 61h0M159.1 109.6h0M168.4 83.7h0M165.5 95.1h0M154.4 102.3h0M156.9 105.6h0M166.7 77h0M164.2 100.6h0M160.8 88.8h0M163.5 93.1h0M157.9 79.8h0M164.6 74.9h0M155.9 90.8h0M172.3 101.1h0M169.2 85.9h0M162.8 103.8h0M172.2 94.6h0M166.4 57h0M164.4 102.6h0M165.7 72.8h0M166.8 78.8h0M172.4 90.3h0M168.4 102.9h0M157.8 74.3h0M154.3 81.8h0M171.1 65.7h0M167.5 70.8h0M164.5 86.3h0M162.7 90.7h0M171.6 88.7h0M154 66h0M156.2 86.2h0M159.4 86.7h0M172.6 102.6h0M166.7 82.8h0M164.9 92.4h0M159.8 88h0M156.3 96.8h0M153.5 91.5h0M156 108.9h0M156.6 92.5h0M163.1 83.3h0M160.3 85.9h0M172.2 99.2h0M171.1 84.2h0M164 102.2h0M156.4 86.6h0M159.4 103.1h0M153.7 75.2h0M166 97h0M160.7 86.7h0M171.2 79h0M159.3 91.1h0M169.7 67.8h0M160.8 77.8h0M165.9 98.9h0M160.1 89.1h0M168.9 83.2h0M157.5 74.9h0M156.3 75.8h0M154.2 79.2h0M160.6 87.2h0M167.4 57.8h0M162.2 78.1h0M169.6 86.2h0M164.6 100.2h0M163.6 99.6h0M162.9 102.6h0M154 78.9h0M164.7 73.6h0M156.9 99h0M154.8 94.4h0M155.2 79.8h0M156.4 86.3h0M165.2 102.1h0M158.8 98h0M158.9 102.7h0M161.2 88.2h0M171.8 77.5h0M158.2 89.6h0M159 72.9h0M158.1 73.1h0M159.3 71.1h0M159 80.1h0M169.3 76h0M172.2 80.3h0M160.8 94.3h0M170 93.6h0M155.3 60.5h0M162.6 99.3h0M169.2 98.1h0M155 103.2h0M172.6 78.6h0M160.9 95.3h0M162.9 90.1h0M171.5 94.6h0M171 101.1h0M157.3 70.2h0M162 98.7h0M167.5 99.3h0M162.1 92.8h0M171.4 85.3h0M157.1 89.6h0M172.1 74.6h0M165.3 95.8h0M165.1 89.9h0M166.5 90.7h0M158.3 94.7h0M161.8 71.9h0M157.4 66h0M168.8 73.2h0M159.6 70.1h0M156 97.5h0M170.5 74.1h0M159.9 84.5h0M171.6 93.1h0M161.8 80.3h0M165.8 101.4h0M168.4 101.6h0M163.2 85h0M171.5 91h0M168.9 97h0M170.5 106.5h0M163.5 94.2h0M155.7 86.9h0M156.6 65.3h0M156 92.7h0M163.6 93.2h0M171.6 94.2h0M163.9 83.6h0M161.5 99.4h0M155.4 91.2h0M160.5 84.6h0M156.8 79.7h0M162.1 62.1h0M162.1 94.8h0M171.3 82.4h0M160.9 99.2h0M170.3 82.7h0M154 82.1h0M159.9 97h0M167.2 84.6h0M161.9 107.3h0M154.7 90.4h0M160.1 102.8h0M163.9 73.4h0M171.7 65.9h0M157.8 53.2h0M154.9 100h0M167.9 87.7h0M165.1 95.5h0M160 89.2h0M160.8 104.9h0M159.6 97.8h0M166.1 87.8h0M170 76.9h0M159 84.8h0M170.8 85h0M161.3 84h0M162.7 94.9h0M158.2 98.6h0M154.9 98.4h0M157.1 77.7h0M158.1 76.2h0M161.7 93.5h0M162.8 95.4h0M169.6 97h0M160.2 101.1h0M168.1 83.1h0M158.1 68.8h0M162.5 84.3h0M154.7 82.7h0M170.5 72.6h0M160 93.8h0M165.6 88.7h0M164.1 92.1h0M162.7 99.7h0M157.8 90.7h0M169.2 100.4h0M162.4 97.9h0M155.8 89.2h0M155.1 92h0M163 87.5h0M164.2 84.9h0M158.6 95.4h0M157.8 91.4h0M169.3 84.3h0M166.5 93h0M156 89.5h0M168.9 72.7h0M154.3 95.8h0M169.6 88.3h0M169.4 102.3h0M155.6 100.9h0M172.4 72.9h0M170.7 80.6h0M156.7 94.3h0M165.9 77.8h0M162.2 98.2h0M156 93.6h0M157.2 103.6h0M157.2 83.7h0M166.2 94.1h0M164.3 91.5h0M172 93.9h0M159.1 103.4h0M162.5 83.7h0M160.4 79.2h0M160.6 97.6h0M164.5 75.3h0M168.4 89.9h0M166.5 102.2h0M155.4 98.9h0M158.6 94.2h0M165.4 53.8h0M168 106.3h0M170 86.9h0M160.2 81.6h0M162.1 68.7h0M154.1 74.9h0M163.3 65.7h0M159.1 90.2h0M163.4 84.6h0M164.9 81.7h0M156.5 98h0M154.7 70.1h0M167 86h0M167.2 97.6h0M172.4 98.4h0M163 94.7h0M154.5 89.1h0M154.7 75.7h0M172 85.1h0M167.5 95.3h0M156.4 96.9h0M161.4 91.7h0M157 100.9h0M168.3 90.3h0M167.4 98.9h0M171.2 101.1h0M166 76.2h0M161.1 75h0M170.9 107.8h0M160.6 81.7h0M167.5 86.8h0M157.5 86h0M158.6 99h0M164.9 52.5h0M158.9 88.1h0M169.9 87.2h0M163.2 71.7h0M171.2 86.7h0M164.9 99.9h0M164.4 66.7h0M163 80h0M157 91.6h0M160 89.7h0M170.6 96.2h0M166.3 83.4h0M168.1 73.5h0M161.3 84.3h0M157.1 98.4h0M168.6 86.4h0M161.3 85.2h0M168.3 96.9h0M154.5 91h0M160 74.4h0M165.8 84.6h0M171.3 101.3h0M157.1 61.7h0M172.2 96.3h0M166.3 82.2h0M157.1 95.9h0M153.5 76h0M171.2 93.1h0M166.3 99.4h0M167.2 68.6h0M161.2 104.1h0M154.9 72.3h0M162.5 53.2h0M165.7 98.1h0M158.6 88.8h0M171.8 63.4h0M168.2 93.1h0M153.6 88.6h0M158.9 109.7h0M170.7 105.8h0M167.7 100.1h0M168.8 89.1h0M156.9 98h0M170.3 95.5h0M166 80.9h0M161 95.9h0M166.5 81.7h0M157.9 85.9h0M170.6 70.1h0M154.7 74.4h0M158.4 88.4h0M167.1 98.6h0M161.3 97.3h0M170.3 75.6h0M169.2 89.7h0M166.4 82.1h0M160.2 78h0M161.7 84.2h0M159.6 93.8h0M159.3 102.1h0M153.4 71.6h0M158.2 81.6h0M166.7 95.9h0M163.7 88.3h0M159.6 84.9h0M159.5 97.5h0M156.7 56.6h0M154.7 103.3h0M156.2 80.9h0M165.3 98.9h0M171.2 98.5h0M166.5 98.6h0M159.9 92h0M164.1 92.9h0M155.8 66.1h0M154.8 86.1h0M154.4 92.2h0M164.2 80.9h0M164.6 93.9h0M156.2 90h0M171.5 93.5h0M155.9 99.2h0M163.1 83.1h0M165.8 92.2h0M153.8 66.3h0M158.5 97.4h0M163.5 97.9h0M166.3 94.1h0M166.4 94.2h0M166 90.2h0M154.6 82.8h0M154.3 97.4h0M169.9 74.1h0M156.1 90.9h0M160.2 72.4h0M169.5 95.8h0M154.1 88.4h0M169.8 92.4h0M165.9 76.3h0M160.7 85.8h0M157.9 93.2h0M163.3 86.6h0M169.2 95.1h0M157.1 70.5h0M158 83.9h0M162.9 72.5h0M168.9 95.6h0M161.3 85.1h0M161.2 95.9h0M171.9 96.1h0M163.6 64.1h0M168.5 92.1h0M166.3 97.6h0M163.8 101.6h0M161.6 70.9h0M165.9 71.2h0M169.3 86.7h0M156 96h0M158.4 72.7h0M157.3 110.6h0M168.9 94.8h0M159.5 54h0M161.9 95.8h0M163.2 86.2h0M171.8 76.6h0M153.3 93.3h0M156.8 94.9h0M170 92.1h0M162.1 80.1h0M160.3 76.9h0M171.5 67.8h0M155.3 76.2h0M153.5 84h0M170.8 83.2h0M169.1 69h0M163.6 98.8h0M158.4 77.2h0M168.3 70.1h0M156.3 78.2h0M161.5 86.6h0M156.5 92.1h0M161.1 70.2h0M153.3 75.3h0M162.1 60.8h0M162 85.2h0M172.3 112.3h0M160.6 96.9h0M163.5 99.1h0M156.1 101.6h0M158.7 78.8h0M157.7 92.8h0M172.1 85.8h0M155.7 84.1h0M165.7 96.2h0M169.3 90.3h0M171.5 92.1h0M166.9 80.8h0M156.7 102.9h0M171 93.1h0M163.2 92.3h0M163.4 96.2h0M170.5 101.5h0M153.5 76.6h0M167.2 80.5h0M168 105.4h0M166.2 93.6h0M157 100.4h0M170.9 83h0M157.8 107.5h0M159.5 86.3h0M169.4 97.6h0M171.1 101.4h0M158.3 88.9h0M162.5 85.8h0M169.7 88.3h0M163.6 73.9h0M157.6 69.2h0M160.4 103.2h0M165.5 93h0M167.2 70.5h0M159.2 91.1h0M156.9 79.9h0M168.3 98.7h0M159.1 83.9h0M158 56.2h0M158.8 93.4h0M157.7 109.6h0M155.8 95.6h0M160.7 104.4h0M156.9 72h0M165.8 81.6h0M155.2 96.7h0M160.1 87.2h0M171.6 76.8h0M162.1 83.4h0M170.5 81.3h0M157.6 94.5h0M168.4 96.6h0M154.9 95.5h0M171.7 93.5h0M171.9 95.9h0M166.6 102h0M157.1 80.5h0M167.9 81.1h0M168.8 106.5h0M165.9 100.1h0M168.3 93.4h0M158.1 97.3h0M168.3 92.7h0M157.6 82.2h0M163 90.4h0M160.9 79.8h0M157.3 71.7h0M158.2 83.2h0M170.4 97.7h0M154.4 74.5h0M162.7 65.7h0M162.6 79.4h0M155.4 97h0M154.8 100.2h0M161.7 80.9h0M160.1 104.3h0M158.2 87.7h0M158.2 94h0M157.6 93.5h0M165.6 86.7h0M172.2 98.7h0M159.1 100.8h0M161 87.5h0M166.7 81.9h0M159.2 102.7h0M155.7 94.4h0M165.8 84.1h0M160.1 76h0M153.3 85.1h0M159.6 86.7h0M170.3 97.9h0M154.2 94.5h0M170.5 88.7h0M165.1 101.3h0M169.4 91h0M164.1 99.5h0M167 68.4h0M170.4 70h0M156.5 99.4h0M155.3 95.5h0M164.3 80.4h0M162.5 73.3h0M163.3 69.2h0M160.2 82.6h0M172.2 100.3h0M164.9 77.4h0M165 79.9h0M153.8 98.4h0M158.6 77.1h0M158.7 79.5h0M172.5 95.8h0M155.9 99.2h0M163 103.1h0M167.4 65.6h0M165.3 82.9h0M168 91.7h0M160.2 83h0M156.4 95.7h0M157.6 79h0M163.9 91.5h0M163.3 75.9h0M161.1 75.2h0M171 97.4h0M161 92.2h0M157.3 90.4h0M164.9 84.5h0M164.5 93.6h0M168.4 103.7h0M164.1 84.5h0M153.4 66h0M162.6 80.3h0M156.8 96.9h0M157.8 81.8h0M168.1 96.1h0M171.9 78h0M170.1 91.3h0M157.8 84.1h0M161.5 89.4h0M169.9 84.4h0M169.5 91.2h0M154.3 95.6h0M158.6 94.5h0M164.7 86.2h0M157 63.9h0M153.6 98.3h0M157.5 72.4h0M163.7 84.6h0M167.1 97.1h0M167.5 106.2h0M164.2 95.2h0M164.8 72.9h0M163.3 104.6h0M168.6 66h0M165.8 63.8h0M166.4 95.5h0M170.7 101.8h0M155.5 92.6h0M153.9 99.9h0M163.5 92.9h0M161.9 70.5h0M170.8 92h0M159.2 96.4h0M166.3 88.2h0M166.7 94.8h0M157.8 87.4h0M153.4 72.1h0M161.3 99.5h0M157.1 78.1h0M156.9 78h0M162.1 73.9h0M156.7 83.5h0M164.1 85.3h0M165.1 77.7h0M162.3 75.9h0M164.1 86.9h0M157 52.2h0M164.4 88.1h0M169.8 72.4h0M169.7 74.2h0M155.3 73.3h0M159.5 98.9h0M167.1 97.9h0M164.7 107.1h0M160.7 97.6h0M169.4 88.6h0M170.6 85.1h0M164.1 91h0M158 92.3h0M171.9 107.9h0M162.5 83.1h0M159.9 101.1h0M155.7 103.6h0M171.5 103.9h0M166.6 92.2h0M154.6 91.9h0M156.7 110.3h0M171.1 85.7h0M154.7 96.7h0M166.3 70.1h0M164.2 79.5h0M162.9 88.5h0M166.6 95.5h0M159.7 76.8h0M165.3 98h0M170.2 90.6h0M164.3 74.4h0M163.4 64.3h0M165.1 85.2h0M156.8 98.1h0M159.7 105.8h0M167.1 96.2h0M164.2 78.9h0M155.5 100.8h0M170 75.6h0M161.2 85.2h0M158 93.5h0M156.1 83.2h0M171.1 82.9h0M167.4 86.3h0M159.2 101.1h0M156.9 87.4h0M169.7 70.8h0M156 83.8h0M163.3 91h0M166.2 89.6h0M171.4 104h0M166.5 88.6h0M155.3 97.2h0M163.3 96h0M170.9 87.4h0M158.4 85.9h0M154.9 87.2h0M154.3 73.3h0M169.4 70.7h0M171.3 72.9h0M162.1 74h0M159.1 70.3h0M160.9 85.2h0M156.7 75.1h0M161.7 106h0M162.4 85.5h0M163.6 44.1h0M155.2 93.2h0M172.1 94.9h0M165.3 103.4h0M164.3 79.8h0M169.2 82.5h0M154.1 95.9h0M164.6 92.2h0M160.4 92.2h0M165.6 102.6h0M171.4 110.4h0M154.6 48.7h0M156.6 84.9h0M160 103.1h0M163.6 56.5h0M169.3 83.2h0M167.4 96.4h0M163.9 69.6h0M156.9 91h0M163 101.9h0M161.7 89.4h0M155.4 43.8h0M170.9 72.9h0M169.5 85.6h0M165.1 52.4h0M158 93.3h0M164.4 80.7h0M159.5 83.4h0M165.8 97h0M153.9 95.5h0M164.9 97.5h0M164.1 77.3h0M171.2 83.4h0M164.3 92.5h0M168.4 88.4h0M157.5 97.7h0M163.9 85.7h0M159.5 101.4h0M172.3 78.7h0M171.8 93h0M158 97.5h0M165.3 107.9h0M154.6 84.6h0M163.8 100.3h0M172.3 91.5h0M155.9 92.7h0M167.4 80.3h0M163.2 100.1h0M172.5 68.7h0M161.1 108.5h0M169.2 90.4h0M164.8 90.9h0M168.7 76.6h0M169.7 93.7h0M165.8 75.5h0M160 98.5h0M164.8 95.9h0M168.5 76.3h0M169.1 97.1h0M165.5 92.4h0M162 81.8h0M154.8 93.3h0M155.4 94.3h0M165.7 88.4h0M160.9 94.2h0M166.3 97.2h0M163.3 100.6h0M160.9 98.4h0M157.2 72.4h0M169.6 99.4h0M158.5 103.5h0M165.4 87.9h0M155.2 101.2h0M171.9 78.9h0M156.2 64.7h0M163 86.7h0M169 73.3h0M157.7 74h0M165.7 86.7h0M161.1 105.5h0M171.9 89h0M155.8 107.8h0M156.9 88.7h0M163.8 87.3h0M166.4 58.3h0M164.4 70.4h0M156.7 99.9h0M162.7 94.1h0M154.5 90.3h0M166.3 100.6h0M159.6 92.9h0M171.8 81.2h0M161 99.6h0M154.2 95.3h0M153.4 70.1h0M159.6 98.4h0M158.3 84.1h0M171.6 98.9h0M168.3 98.2h0M160.3 101.3h0M158.2 72.9h0M154.5 95.5h0M155.6 82.3h0M167.6 99.3h0M154.3 73h0M168.4 100h0M160.9 105.4h0M166.5 88.9h0M165.2 89.9h0M155.3 91.7h0M167.9 100.8h0M170.2 70.8h0M155.3 99.1h0M172 83.6h0M168.8 85.5h0M164.9 99.8h0M166.7 73.4h0M154.1 74.8h0M157.6 93.9h0M170.8 95.3h0M169.9 79h0M157.4 94.2h0M163.8 83.9h0M159.9 61.2h0M156.8 80.5h0M168.4 75.8h0M166.3 86.9h0M154.5 87h0M166.2 84.8h0M153.4 101.4h0M155.1 84.8h0M161.2 77.4h0M153.9 103.4h0M163.3 92.6h0M166.5 103.7h0M158.2 86.9h0M166.7 91.6h0M154.6 82.9h0M154.9 104.5h0M162.9 81h0M153.8 102.4h0M167.9 83.3h0M170.5 96.5h0M153.3 92.8h0M168.7 96.8h0M164.3 78h0M172.1 112h0M168.7 88.3h0M170.7 69.6h0M169.8 93.9h0M169.7 69.9h0M167.9 92.9h0M170.8 95h0M154.9 78h0M168.8 73h0M166.4 74.3h0" stroke="#000" stroke-width="0.96" stroke-linecap="round" fill="none"/>
<line x1="153.3" y1="133.9" x2="172.5" y2="133.9" stroke="#000" stroke-width="1.5" stroke-opacity="0.86"/>
<line x1="186.6" y1="44.02" x2="186.6" y2="133.7" stroke="#c6c6c6" stroke-width="0.8"/>
<path d="M184 88.7h0M195.3 90.6h0M183 78.1h0M184.8 87.1h0M190.5 97.9h0M195.3 93.6h0M194.6 104.1h0M184.2 85.4h0M190.1 84.4h0M178.1 98.5h0M188 105.6h0M189.4 88.8h0M182.3 89.5h0M189.6 71.4h0M182.8 84.6h0M191.8 103.4h0M178.3 107.3h0M187 92h0M195.3 101.5h0M189.1 83.9h0M195.1 96.1h0M195.3 103.5h0M191.7 88.3h0M192.5 95.9h0M191.2 98.7h0M186.8 80.2h0M192.2 85.5h0M192.2 94.7h0M193.6 85.5h0M177 81.4h0M177.6 81.4h0M185.9 99.7h0M190.8 91.2h0M185 93.7h0M184.3 95.8h0M177.3 87.6h0M188.7 96.4h0M195.4 91h0M188.8 76.4h0M181.7 92.9h0M189.2 92.3h0M184.1 97.2h0M184 105.8h0M178 70h0M190.8 95.3h0M176.9 97.6h0M193.2 91.8h0M177 90.5h0M192 97.8h0M183.7 93.4h0M183.7 90.1h0M186.4 96.3h0M180.5 95.1h0M180.9 75.9h0M190.8 88.5h0M194.5 102.8h0M179.6 81.3h0M182.2 92.8h0M195.9 95.9h0M190.2 78.7h0M194.7 83.3h0M184.4 87.5h0M191.8 94.9h0M190.7 79.2h0M191.3 99.3h0M186.1 97h0M182.6 100.2h0M184 84.9h0M179.7 93.4h0M178.4 101.7h0M184.3 90.6h0M193.5 94.1h0M183.3 89.9h0M187.8 98.5h0M192.9 95.6h0M178.9 98.8h0M184.1 106.6h0M184.1 99.6h0M190.7 94.2h0M194.4 85.3h0M177 92.6h0M187.5 105h0M177 108.6h0M182.7 78.9h0M184.7 96.8h0M182.3 62.6h0M184.9 77.7h0M183.9 88.9h0M186.6 76.7h0M181.8 96.2h0M184.5 92.2h0M181.2 89.3h0M185.1 101.5h0M190.6 88.5h0M177.5 85.1h0M196.3 86.3h0M179.8 62.5h0M192.3 98.1h0M182.5 96.1h0M178.3 90.1h0M192.2 100.6h0M187.9 87.8h0M182 83.8h0M184.3 66.4h0M193.7 82.2h0M190.6 91h0M182.3 87.7h0M181.5 90.8h0M187.9 71.2h0M179.2 64.1h0M181.3 96.9h0M192.5 90.1h0M191 99.7h0M177.4 101.3h0M185.6 88.6h0M184.6 91.2h0M191.2 99.2h0M185.2 79.7h0M181.3 100.3h0M193.2 88.8h0M180.7 85.1h0M189.5 91.5h0M182.4 96.1h0M188.9 101.1h0M180.2 100.7h0M193.9 67h0M184.1 81.5h0M190.1 88h0M191.4 72.4h0M186 90.9h0M187.4 91h0M179.2 92.9h0M187.4 88.3h0M187.2 84.8h0M194.3 94.6h0M183.7 71.7h0M179.9 68.2h0M184.8 98.7h0M192.1 82.9h0M177.1 81.3h0M177.6 85.1h0M196.3 94.2h0M187.7 84.8h0M190.8 96.5h0M185.9 95.9h0M180.7 89.8h0M189.8 104.1h0M181.6 99h0M185.7 80h0M181 84.4h0M194.5 77.9h0M184.5 97.8h0M190.4 82.9h0M180.4 91h0M188.7 76.4h0M182.6 102.2h0M179.2 98.7h0M183 96.6h0M178.1 97.5h0M188.6 88.6h0M187.7 82.8h0M193.5 60.2h0M177.4 89.9h0M184.8 103.3h0M196 64.6h0M183.6 83h0M178 93h0M192.4 74.3h0M178.7 86.7h0M190.8 98.9h0M187.1 83.9h0M193.9 87h0M186.9 86.2h0M190.1 83.5h0M181.9 100.3h0M196 105.2h0M181 94.6h0M193.1 85.3h0M190.1 84.9h0M186.2 97.2h0M184.1 98h0M178.6 100.5h0M192.3 79.9h0M181.3 83.2h0M193.8 88h0M194.1 90.4h0M181 100.5h0M182.5 75.9h0M190.7 86.8h0M191.7 78.3h0M177.8 100.2h0M192.9 97.8h0M192.7 100.3h0M189 87.3h0M194.2 92.9h0M195.8 102.5h0M180.9 61.4h0M195.2 100.1h0M193.6 99.3h0M188.3 90.6h0M179 99.4h0M195.6 99h0M191.3 82.3h0M184.1 106.4h0M183.2 104.7h0M195.3 85.4h0M181.4 105.5h0M192.8 93.5h0M185.5 92.5h0M190.4 99.4h0M192.8 103.6h0M178.8 85.4h0M182 78.8h0M179.1 101.1h0M184.7 90.8h0M179.7 93.6h0M194.7 91.7h0M192.2 102.3h0M188.2 94.1h0M180.6 97.6h0M181 99.3h0M188.4 47.4h0M194.5 93.9h0M195 95h0M194.9 77.4h0M183.2 81.7h0M190.4 73.5h0M187 90h0M187.7 99.5h0M190 85h0M182.6 102.1h0M182.1 73.5h0M184.9 88.1h0M181.4 84.5h0M193.6 105.7h0M184 81.7h0M177.6 101.5h0M189.2 92.8h0M196 85.9h0M187.6 90.1h0M182.4 79.5h0M194.4 95.1h0M189.1 96.6h0M188.9 90.8h0M185.8 99.9h0M191.9 99.2h0M189.9 96.8h0M187.5 98.9h0M183.4 90.4h0M192.1 81.1h0M194.6 93h0M178.7 91.3h0M177.4 80.7h0M178.8 97.4h0M193.8 90.8h0M188.9 96.9h0M184.6 82.9h0M195.8 84.6h0M195.2 76.5h0M185.1 103.3h0M184.1 97.2h0M187.2 87.1h0M188.4 70.9h0M193.2 87.9h0M193.9 99.6h0M182.4 103h0M193.5 81.7h0M178.4 104h0M180.9 83.3h0M185 66.9h0M178.4 79.6h0M183.6 60.4h0M177.4 84.9h0M192.5 99.3h0M190 91.7h0M181.9 99.9h0M187.1 76.4h0M184.5 98.8h0M192.8 79.9h0M182.6 87.5h0M181.5 104.4h0M192 98.3h0M191.6 98.3h0M190.6 96.1h0M178.1 88.8h0M177.7 95.6h0M194.9 90.5h0M195.8 99.9h0M180.9 96.8h0M186.4 102.6h0M185.9 101.1h0M182.4 101.1h0M178.4 76.6h0M181.8 61.7h0M195.5 89.2h0M185.5 105h0M180.9 95.1h0M178.4 94.3h0M189.4 100.8h0M193.2 95.8h0M181.8 78.1h0M191.5 91.6h0M177.3 101.9h0M179.4 100.3h0M189.3 72.6h0M178.7 112.9h0M185.9 92.8h0M186.3 86.5h0M177.4 90.5h0M192.9 104.9h0M191.2 102.9h0M192.2 88.5h0M189.6 95.9h0M182.4 74.1h0M190.4 99.9h0M188 74.5h0M189 97.9h0M191.5 87.3h0M182.5 80.9h0M194.6 80.4h0M185.9 106.8h0M183 84.2h0M187.1 91.5h0M195.8 81.1h0M190.6 92h0M178.7 100.6h0M182.3 85.1h0M190 97.9h0M195.5 88.5h0M187.4 79h0M187.4 100.4h0M176.9 88.1h0M179.9 95.9h0M192.5 105.4h0M181.6 98.1h0M187.3 87.7h0M190.1 95.3h0M188.5 98.8h0M191.8 83.9h0M189.4 105.5h0M182.9 84.3h0M188.3 67.5h0M190.4 93.1h0M178.2 91.6h0M195.6 81.1h0M188.9 91.8h0M195.8 85.9h0M193.6 100.5h0M177.5 92.1h0M178.5 92.9h0M193.5 80.4h0M181.7 105h0M194.6 85.3h0M195.9 94.5h0M191.8 99.5h0M189 92.8h0M185.4 87.4h0M194.5 96h0M189.1 98h0M178.7 80h0M191 85.4h0M183.3 82.5h0M179.5 62.7h0M184 95.4h0M193.6 113h0M191.3 85.9h0M184.3 104.6h0M192.9 89.3h0M187.8 103.5h0M183.5 76.5h0M178.9 87.3h0M190.1 101.3h0M181.7 103.3h0M186.7 100.2h0M181.5 97h0M189.1 87.1h0M178 108.6h0M182.3 94.2h0M189 100.6h0M193.3 89.6h0M191 104.6h0M182.5 95.5h0M184.6 97.8h0M186.6 80.3h0M195.3 90h0M180.3 76.8h0M192.2 88.4h0M179.1 94.1h0M193.2 86.5h0M179.1 51.1h0M184.3 90.5h0M184.1 99h0M189.8 89.1h0M183 99.5h0M192.5 89.4h0M196 93.6h0M190.8 86.9h0M177.3 75.8h0M178.8 99.6h0M192.5 92.6h0M184.8 100h0M186.8 99.7h0M193.3 99.6h0M190.7 89.2h0M187.1 86.6h0M182.7 84.3h0M178.5 91.5h0M179.1 95h0M177.9 101.8h0M184.7 112.3h0M195.3 98.3h0M179 94h0M186.9 86.5h0M188.8 94.5h0M195.2 86.3h0M196.2 102h0M189.6 84.4h0M188.2 89.9h0M190.6 84.2h0M185.4 84h0M192 99.2h0M193.1 83.4h0M181.1 87.5h0M187.2 69.1h0M183 103.4h0M179.3 103h0M185.1 89h0M188.6 103.8h0M186.9 84.4h0M184.4 85.3h0M187.7 93.7h0M186.7 84h0M177.4 103.2h0M190.3 106.7h0M192.2 78.9h0M185.9 90.9h0M189.5 90.3h0M181.6 109.4h0M191.1 108.8h0M185.7 72.7h0M189.3 105.5h0M189.9 96.1h0M185.3 91.5h0M180.5 90.6h0M195.1 101.6h0M193 79.3h0M184.3 89.6h0M184.2 77.1h0M193.3 89.6h0M191.5 100.1h0M182.3 101h0M192.8 80.2h0M183.5 85.1h0M193.2 97.5h0M179 82h0M195.3 70.3h0M184 101.9h0M194.8 63.1h0M181.7 102.7h0M184.1 94.9h0M181.8 89.5h0M188.3 86.8h0M181.8 89.5h0M190 102.9h0M190.1 94.4h0M191.8 80.5h0M185.7 93.9h0M185.2 87.2h0M181.8 103.1h0M186.3 81.3h0M187.1 92.2h0M182.3 63h0M187.7 85.7h0M180.2 97.7h0M185 95.3h0M183.2 103.7h0M187.3 81.1h0M191.9 91.4h0M177.5 77.3h0M185.4 97.4h0M178.9 77.5h0M183.8 104h0M191.2 91.9h0M189.2 93.3h0M190.8 88.8h0M192.7 89.6h0M183.5 102.1h0M184.1 99.1h0M180.6 89.3h0M183.3 100.5h0M188.9 89.1h0M189.9 75.1h0M190.7 84.4h0M187.3 90.3h0M177.9 90.8h0M189.4 82.1h0M193.3 97.6h0M193.8 84.8h0M177.3 96.2h0M184.2 93h0M186.4 96.1h0M189 102.8h0M192.3 97.8h0M177.4 95.3h0M194.4 97.1h0M185.4 92.7h0M195.6 110.4h0M192.2 100.5h0M184.6 81.2h0M195.3 81h0M185.9 90.6h0M179 103.9h0M180.8 80.3h0M187.3 84.8h0M191.6 113.7h0M182.9 98.7h0M195.1 93.4h0M181.9 81.7h0M195.9 66h0M189.5 87.7h0M191.2 82.8h0M184.4 102.4h0M187.2 92.7h0M183.7 92.4h0M186.7 95.2h0M193.2 92.1h0M191.8 84.7h0M192.9 98.4h0M184.9 98.5h0M182.7 103.3h0M188.4 92h0M195.4 79.5h0M190.6 106h0M181.4 58.3h0M192.3 81.2h0M194.1 97.7h0M191.2 101.8h0M191 104.9h0M190 94.8h0M187.9 86.1h0M184.5 65.7h0M190.8 98.4h0M185.1 96h0M180.3 78.4h0M194.3 98.7h0M194.7 105.2h0M179.3 82.7h0M192.5 95h0M188.9 90.1h0M183.3 95.3h0M183.3 78.5h0M179.7 102.9h0M185.6 86.6h0M181 96h0M189.9 84.6h0M195.2 82.3h0M182.7 105.8h0M181.9 85.5h0M187 105.5h0M179.1 101.7h0M179.7 93.8h0M180.3 93.9h0M193 65.5h0M186.7 99.3h0M192.2 97.1h0M193.1 94.5h0M182.8 100.5h0M180.3 91.5h0M178.1 89.2h0M191.1 98.6h0M187.3 92.1h0M193.4 95.1h0M189.6 80.9h0M180.2 83.3h0M186.3 82.5h0M184.8 100.2h0M179.2 110.6h0M179.6 107h0M190.6 93.6h0M189.7 99.7h0M185.1 78.7h0M179.3 87.7h0M181.9 104.7h0M185.4 86.7h0M191.2 81.3h0M184.9 90.6h0M191.5 99.3h0M184 109h0M188.6 66.1h0M191.4 95.9h0M185 101.2h0M186 100.5h0M177.9 103.7h0M179.1 96.1h0M190.1 101.4h0M178.8 89.7h0M180.6 94.7h0M186.3 93.6h0M194.9 90.8h0M196.2 90.9h0M191.9 97.7h0M183.9 80.8h0M180.3 101h0M184.8 97.8h0M178.1 83.3h0M182.4 88.3h0M190.6 101.2h0M188.9 90.3h0M194.9 101.4h0M183 89.6h0M185 110.5h0M191.2 89.4h0M181.8 108.3h0M181.5 89.3h0M195.9 90.2h0M183.6 82.1h0M193.9 99.8h0M184.7 74.9h0M194.3 99.6h0M193 92.2h0M182.6 101.8h0M177.9 95.4h0M189.8 105.1h0M183.5 92.7h0M183.3 84.3h0M190.8 103.9h0M184.9 102.8h0M182.3 101.2h0M193.6 94.9h0M192.3 85.6h0M192.6 59.8h0M183.2 100.4h0M195.9 96.4h0M186.8 90.7h0M183 92.6h0M179.6 99.8h0M192.6 84.5h0M190.6 61.6h0M195.1 76.5h0M178.7 109.3h0M178 83.6h0M194.2 107.3h0M181.8 64.8h0M183.3 96.8h0M179.4 93h0M186.6 92.1h0M180.9 44.2h0M178.1 94h0M195.4 95.3h0M179.6 101h0M184 100.9h0M180.8 100.4h0M192.9 72.2h0M192.1 102.2h0M194.7 92.9h0M186.1 102h0M192.2 103.3h0M192.6 75.2h0M193.2 89.9h0M179.9 92.4h0M186.4 95h0M189.6 104.6h0M182.8 66.9h0M192.1 95h0M189.2 92.1h0M192.5 79.7h0M191.3 97.1h0M185.4 98.2h0M179.2 78.3h0M181.6 77.4h0M186.5 92h0M195.4 105.6h0M180.9 100.9h0M192.7 96.6h0M181.9 89.6h0M188.3 105.3h0M194.4 91.6h0M185.6 80h0M181.2 94.8h0M182.9 76.4h0M191.4 101.9h0M189.9 92.4h0M189.1 98.5h0M181 101.5h0M191.5 99.8h0M193.2 99.9h0M185.9 99.7h0M182.2 89.3h0M188.7 65h0M192.2 85.3h0M185.7 96.2h0M187.8 87.3h0M191.4 108.8h0M194.7 87.3h0M178.4 97.7h0M190.3 78.9h0M178.1 91.1h0M182.1 100.2h0M190.1 103.4h0M180.3 74.1h0M189.8 100.2h0M192.1 106.2h0M190.1 62.9h0M192.9 100.5h0M188.7 68.9h0M186.7 96.9h0M196 109.2h0M183.5 75.7h0M180.2 98.7h0M186.5 78h0M188.3 94.5h0M183.9 88.2h0M195.4 93.8h0M183.3 99h0M180.5 83h0M187.3 86.8h0M181.2 78.4h0M189.1 89.9h0M182.6 75.2h0M184 65h0M190.2 98.4h0M190.1 97.6h0M177.8 65.1h0M187.9 96.3h0M187.9 96.8h0M183.9 88.1h0M184.1 86.6h0M188.7 84.4h0M192.1 95h0M192 79.7h0M193.3 93.5h0M187.2 89.8h0M181.9 92.6h0M191.1 99h0M180.1 84.3h0M177.3 87.2h0M179.6 91.8h0M177.9 87.6h0M185.1 97h0M184.6 80.3h0M195.6 103.6h0M193.4 104.8h0M192.9 79.2h0M191.2 91.9h0M180.4 88.2h0M179.9 88.1h0M192.8 83.3h0M191.7 93.3h0M177.8 100.2h0M184.9 84.7h0M182.1 99.7h0M187.6 98.8h0M185.7 95.7h0M186 102.6h0M189 95h0M191.9 100.1h0M194.2 105.6h0M186.3 101.6h0M184.2 94.3h0M193.5 86.5h0M177.4 95h0M191.8 98.1h0M178 98h0M182.6 89.6h0M194.8 98.8h0M182.9 87.8h0M177.9 79.3h0M179.4 105.7h0M195.5 103.7h0M184.9 90.3h0M184 93.6h0M194.5 58.6h0M193.4 105.4h0M181.7 88.4h0M179.2 95.2h0M194.3 79.8h0M184.3 80h0M185.8 94.6h0M180 96.8h0M184.9 107.6h0M194.2 97.5h0M194.5 95.2h0M180.6 95h0M189.4 86h0M179.6 88.9h0M186.7 95.6h0M192.1 79.9h0M181.9 86.9h0M188.3 81.8h0M180.7 67.2h0M182.3 91h0M189.3 88.9h0M183.4 93.8h0M181.1 89.6h0M183.1 74.2h0M191.7 101.8h0M185 68h0M188.6 62.1h0M182 62.5h0M189 99.8h0" stroke="#000" stroke-width="0.96" stroke-linecap="round" fill="none"/>
<line x1="177" y1="133.9" x2="196.2" y2="133.9" stroke="#000" stroke-width="1.5" stroke-opacity="0.86"/>
<line x1="209.8" y1="57.56" x2="209.8" y2="133.7" stroke="#c6c6c6" stroke-width="0.8"/>
<path d="M216.4 87.4h0M208.4 97.4h0M202.8 105h0M210.5 89h0M211.3 99.5h0M212.1 99.6h0M214.4 107.6h0M211.1 84.7h0M201.1 93.2h0M211.6 93.8h0M211.9 90.9h0M209.9 92.1h0M202.9 93.2h0M204.1 89.9h0M212.3 96.1h0M215 114.2h0M201.5 88.2h0M214.9 90.6h0M208.8 93.8h0M212.3 81.5h0M215.3 104.9h0M201.7 116.7h0M214.2 82.3h0M214.5 90.7h0M209.2 106.8h0M205.1 97.2h0M211.2 89.1h0M211.5 103.5h0M207.9 89.6h0M210.3 77.4h0M214.4 83.1h0M215.5 94.2h0M218.4 91.4h0M219 101.4h0M200.6 92.9h0M217.7 96.6h0M217.2 101.8h0M219.5 104.5h0M215.5 78.8h0M218.5 93.3h0M219.1 102h0M202.7 97.3h0M202.4 82.3h0M211 81.3h0M217.9 98.8h0M210.4 92.4h0M209.9 87h0M216.7 96.7h0M211.4 103.2h0M216.1 101.6h0M211.8 93.9h0M210.1 100h0M209.8 104.1h0M215.5 95.8h0M202.5 86.7h0M206.7 88.6h0M202 95.8h0M212.9 79h0M208 100.1h0M217.5 94.6h0M206.7 104.7h0M217.9 87.9h0M206.1 95h0M218.4 107.2h0M217.5 100.5h0M205.7 79.9h0M210.4 88.3h0M201.5 93.1h0M212.1 87.2h0M213.3 106.5h0M209 100.5h0M208.5 104.4h0M209.7 100.5h0M215.4 97h0M204 89.9h0M216.3 86.1h0M214 86.3h0M207.8 73h0M219 97.9h0M211.4 94.2h0M210 90h0M210.4 100.5h0M206.7 96.3h0M210.3 90.8h0M201.9 100.9h0M211.9 90.3h0M206.7 84.4h0M212.9 102.8h0M211.8 111.9h0M219.4 93.4h0M214.4 102.2h0M200.3 92.7h0M202.4 97.6h0M209.7 91.7h0M210.6 85.2h0M209.3 87.7h0M214.3 96.9h0M218.2 103.2h0M201.3 113.5h0M212.3 111.1h0M205.7 100.3h0M207.7 93.4h0M218.6 99.4h0M201.4 98.8h0M204.1 106.7h0M209.9 107.1h0M214.6 107.7h0M218.6 89.4h0M219 109.8h0M218.1 89h0M215.2 101.4h0M208.8 90.1h0M205.6 92.5h0M216.8 88.5h0M214.6 85.1h0M213.9 100.6h0M215.1 102.1h0M217.9 97.9h0M210.7 100.6h0M205.1 89.4h0M200.3 95.5h0M204.8 94.6h0M212.8 91.3h0M207.3 98.3h0M203.9 86h0M202.7 109.1h0M200.8 92.8h0M211.2 90.8h0M212.9 100.7h0M218.6 100.1h0M215.3 87.6h0M203.1 97.2h0M204.1 109.8h0M218.9 105.3h0M205.7 86.8h0M210.6 101.7h0M215.7 84.5h0M212.5 84h0M200.9 96.3h0M209.3 90.5h0M210.4 101.3h0M210.5 97.9h0M202.3 100.3h0M218.8 90.2h0M209.8 104.9h0M213.1 95.8h0M215 94.4h0M205 90.7h0M200.6 111.5h0M212 108.9h0M217.8 101.7h0M217.4 96.6h0M217.1 93.7h0M204.1 93.3h0M217.2 79h0M201.6 89.7h0M205.6 90.2h0M216.1 98.7h0M201.9 88.7h0M215.2 89.4h0M215.5 89.6h0M217.7 95.7h0M216.7 90h0M214 82.9h0M203.3 101.1h0M202.4 111.8h0M201.7 88.4h0M206.1 89.1h0M206.2 96.7h0M219.3 98.4h0M216.7 63.9h0M201.9 58.6h0M209.2 77h0M215.6 71.7h0M207.7 64.7h0M210.2 85.1h0M217.1 70.3h0M217.9 78.3h0M203.4 101.7h0M216 94h0M208.8 89.9h0M200.5 69.9h0M206 81.7h0M217.4 70.9h0M203.7 88.7h0M203.3 98.5h0M218.7 57.7h0M208.5 78.2h0M217.8 85.4h0M205.6 68.4h0M201.3 96.5h0M217.9 85.5h0M206.3 100.4h0M218.3 77h0M213.1 79.9h0M216.3 87.8h0M206.3 90.9h0M213.9 101.5h0M215.9 93h0M213.3 67.9h0M218 87.2h0M217.7 67.5h0M211.1 93.5h0M218.4 83.9h0M213.9 88.5h0M217.8 86.1h0M202.9 73.5h0M205.9 108h0M203 73.9h0M200.6 74.4h0M212.8 82.9h0M218.9 82h0M212.3 85.6h0M219 74.5h0M216 82.2h0M212.1 93.3h0M207.8 81.1h0M203.9 71.3h0M218.7 78.4h0M218.4 82.5h0" stroke="#000" stroke-width="0.96" stroke-linecap="round" fill="none"/>
<line x1="200.2" y1="133.9" x2="219.4" y2="133.9" stroke="#000" stroke-width="1.5" stroke-opacity="0.86"/>
<line x1="233.3" y1="47.69" x2="233.3" y2="133.7" stroke="#c6c6c6" stroke-width="0.8"/>
<path d="M239.8 93h0M237.5 85h0M231.9 80.6h0M227.8 87.9h0M238.8 106.2h0M230.5 90.5h0M235.8 95.2h0M226.1 96.3h0M238.4 91.3h0M241.4 96.8h0M241.5 80.7h0M242.6 91.9h0M224.8 94h0M239.3 87.7h0M228.3 87.5h0M225.7 84.4h0M239 88.9h0M241 94.4h0M224.9 93h0M227.6 111.8h0M232.8 106.1h0M240.4 85.6h0M232.6 96.8h0M224.5 79.2h0M237.8 79.3h0M242.1 104.4h0M226.7 91.6h0M239.6 70.4h0M242.2 100.5h0M231.7 90.9h0M239.8 96h0M235.9 96.1h0M242.6 96.4h0M236.6 94.2h0M229.2 87.8h0M237.3 100.7h0M230.1 89.9h0M230.5 99.9h0M223.7 89.8h0M225.2 91.5h0M227.2 100.5h0M236.6 92.9h0M233.7 100.1h0M231.3 101h0M235.4 84.5h0M229.8 109h0M230 89.5h0M235.4 88.3h0M238.1 98.9h0M237.9 85.1h0M234.3 86.6h0M242.6 104.7h0M242.8 89.8h0M241.6 90.2h0M229.3 100.1h0M238 89.4h0M225.7 87.9h0M242.8 100h0M234.7 110.4h0M225 90.8h0M226.1 100.2h0M236.1 108.2h0M236.8 97.2h0M230.8 113.6h0M232.3 96.9h0M239.3 81.8h0M238.8 90.3h0M238.3 101.7h0M230.9 97.5h0M230.4 101.6h0M236.4 88.8h0M225.5 94.2h0M236.7 100.5h0M236.9 104.8h0M238.5 97.6h0M228.4 84.6h0M230.2 104.1h0M228.3 90.7h0M232.1 91.3h0M236 110.5h0M232.4 85h0M240.7 94.4h0M235 75.7h0M239 79.8h0M242.3 96.1h0M239 95.3h0M227.8 102.4h0M230.2 105.4h0M224.5 87.5h0M231.4 96.1h0M232.2 97.4h0M229.9 95.5h0M230.9 88.5h0M227.5 86.3h0M239.5 94.1h0M231.2 95.7h0M224 93.2h0M232.2 77h0M230.7 111.2h0M227.1 103.6h0M237.2 90.1h0M231.7 92.8h0M238.7 83.9h0M235.5 83.2h0M242.1 77.7h0M230.1 100.7h0M224.3 89h0M227.2 96h0M238.3 86h0M227.4 92.5h0M235.1 86.7h0M225.8 100.2h0M240.2 92.7h0M231.1 98.3h0M229.3 96.2h0M240.9 97.8h0M237.3 102.6h0M235.3 84.8h0M241.2 91.6h0M239.3 85h0M223.8 102.3h0M241.3 110.2h0M227.4 99.4h0M237.7 95.3h0M229.4 87.5h0M229.3 85.3h0M231.8 83.9h0M223.7 81.3h0M240 88h0M228.8 93.1h0M235.9 100.3h0M226.4 88.3h0M225.5 98.2h0M224 100.7h0M233 89.1h0M231.7 92.2h0M237.6 86.9h0M232 100h0M233.4 84.3h0M234.6 91h0M226.4 95.4h0M230.9 100.3h0M239.8 102.9h0M242.8 105.3h0M233.1 82.4h0M229.6 105.8h0M240.2 88.8h0M234.2 96.1h0M224.4 98.8h0M226.7 97.9h0M236 94.8h0M226 86.5h0M233.9 89.3h0M242.4 94h0M233.7 105.4h0M232.4 108.8h0M239.1 78.5h0M233.8 102.4h0M239.8 107h0M223.8 84.7h0M240 106.5h0M226.8 87.8h0M227.8 86.3h0M234.6 91.9h0M236.9 86h0M226.8 105.6h0M239 104.2h0M232.9 95.6h0M238.2 94h0M230.5 94.7h0M230.5 90.2h0M234 100.1h0M236.4 111.7h0M238.5 90.7h0M230.1 95.9h0M235.6 87.3h0M228.6 76.8h0M237.2 93.4h0M231.4 89.2h0M241.6 101.5h0M237.8 86.5h0M225.1 91.2h0M236 92h0M231 86.4h0M229.9 103.4h0M227.7 89.4h0M237.2 90.2h0M240.2 80.8h0M232.2 109h0M233.3 94.8h0M230.1 75.8h0M239.3 97.4h0M242.7 97.7h0M232.4 79.2h0M232.3 73.2h0M227.3 93.1h0M229.1 100h0M231.2 99h0M231.6 97.3h0M226.8 101.1h0M230.6 100.8h0M224.8 92.6h0M229.1 93.7h0M236.3 90.1h0M241.2 93.8h0M227.8 104.1h0M237.2 87.9h0M228.1 92h0M242 98.9h0M228.4 96.3h0M224.6 91.4h0M242 93.4h0M230.3 95.1h0M227.6 87.7h0M232.4 85.2h0M240 96.7h0M231.2 94.2h0M232.5 103.3h0M236.2 95.5h0M224 90.1h0M241.2 86.9h0M237.4 92.7h0M235.1 94.8h0M230.5 100h0M242.4 92.3h0M225 103.1h0M223.7 93h0M235.1 93.9h0M236.7 101.6h0M226.5 91.3h0M240 95.8h0M232.1 89.1h0M230.1 98.1h0M237.5 90.1h0M231.5 81.1h0M226.8 92.6h0M231.9 87.5h0M224.4 99.4h0M229.6 97h0M234.9 109.7h0M225.2 95.3h0M232.1 103.4h0M232.9 93.1h0M224.3 111.2h0M227.7 101.2h0M224.5 93.4h0M233.7 90.8h0M236 107.8h0M223.7 97.5h0M234.6 72.8h0M240.3 67.2h0M224.5 81.9h0M235.1 81.1h0M229.8 64.5h0M226.4 75.7h0M240.5 65.5h0M229.6 78.1h0M240 100.2h0M241.1 97.4h0M228.5 105.7h0M240.5 62.6h0M241.2 73.7h0M223.6 87.4h0M240.7 95.4h0M235.9 74.6h0M223.7 82.2h0M233.8 75.2h0M240.2 93.1h0M240.1 97.2h0M240.9 56h0M233.6 94.8h0M225.6 80.5h0M230.3 59.6h0M229.4 108.3h0M235.7 69.4h0M228.8 79.1h0M234.4 82.3h0M229.6 76h0M232.6 98.4h0M236 114.3h0M239.4 51.1h0M224.4 84.5h0M232.4 66.4h0M229.9 63.1h0M235.8 75.7h0M237.6 73.1h0M237.4 69.2h0M226.6 55.9h0M226.5 72.6h0M240.4 60.7h0M229.7 84.6h0M237.1 86.6h0M223.9 78.8h0M235.2 74h0M228.1 71.9h0M236.6 50.2h0M225.2 67.2h0M240.7 79.1h0M236.9 49.6h0M235.7 75h0M232.8 74.6h0M239 72.5h0M232.1 85.2h0M236 96.8h0M231.3 78.1h0M223.9 84.8h0M232.5 93.4h0M239.2 78.3h0M236 83.1h0M225.3 89.2h0M224.2 107.4h0M227 82.7h0M235.8 53.1h0M229.5 66.5h0M228.4 63.5h0M240.5 80.4h0M223.8 63.9h0M239.5 90.4h0M230.4 87.1h0M239.3 72.1h0" stroke="#000" stroke-width="0.96" stroke-linecap="round" fill="none"/>
<line x1="223.7" y1="133.9" x2="242.9" y2="133.9" stroke="#000" stroke-width="1.5" stroke-opacity="0.86"/>
<line x1="149.1" y1="33" x2="149.1" y2="139" stroke="#000" stroke-width="1.2"/>
<line x1="148.5" y1="138.4" x2="246.6" y2="138.4" stroke="#000" stroke-width="1.2"/>
<line x1="146.3" y1="133.7" x2="149.1" y2="133.7" stroke="#000" stroke-width="0.9"/>
<text x="143.1" y="135.5" font-size="5.8" text-anchor="end" fill="#000" stroke="#000" stroke-width="0.05">0</text>
<line x1="146.3" y1="105.5" x2="149.1" y2="105.5" stroke="#000" stroke-width="0.9"/>
<text x="143.1" y="107.3" font-size="5.8" text-anchor="end" fill="#000" stroke="#000" stroke-width="0.05">1</text>
<line x1="146.3" y1="77.3" x2="149.1" y2="77.3" stroke="#000" stroke-width="0.9"/>
<text x="143.1" y="79.1" font-size="5.8" text-anchor="end" fill="#000" stroke="#000" stroke-width="0.05">2</text>
<line x1="146.3" y1="49.1" x2="149.1" y2="49.1" stroke="#000" stroke-width="0.9"/>
<text x="143.1" y="50.9" font-size="5.8" text-anchor="end" fill="#000" stroke="#000" stroke-width="0.05">3</text>
<line x1="162.9" y1="138.4" x2="162.9" y2="141.2" stroke="#000" stroke-width="0.9"/>
<text x="166.5" y="147.6" font-size="6.2" text-anchor="end" fill="#000" stroke="#000" stroke-width="0.13" transform="rotate(-45 166.5 147.6)">L+Ado</text>
<line x1="186.6" y1="138.4" x2="186.6" y2="141.2" stroke="#000" stroke-width="0.9"/>
<text x="190.2" y="147.6" font-size="6.2" text-anchor="end" fill="#000" stroke="#000" stroke-width="0.13" transform="rotate(-45 190.2 147.6)">L+PGE2</text>
<line x1="209.8" y1="138.4" x2="209.8" y2="141.2" stroke="#000" stroke-width="0.9"/>
<text x="213.4" y="147.6" font-size="6.2" text-anchor="end" fill="#000" stroke="#000" stroke-width="0.13" transform="rotate(-45 213.4 147.6)">LPS</text>
<line x1="233.3" y1="138.4" x2="233.3" y2="141.2" stroke="#000" stroke-width="0.9"/>
<text x="236.9" y="147.6" font-size="6.2" text-anchor="end" fill="#000" stroke="#000" stroke-width="0.13" transform="rotate(-45 236.9 147.6)">Unstimulated</text>
<text x="198" y="28.5" font-size="7.6" text-anchor="middle" fill="#000" stroke="#000" stroke-width="0.22">VEGFA</text>
<text x="133.4" y="85.7" font-size="7.3" text-anchor="middle" fill="#000" stroke="#000" stroke-width="0.16" transform="rotate(-90 133.4 85.7)" textLength="40" lengthAdjust="spacingAndGlyphs">Expression level</text>
<polygon points="30.5,320 31,319 34,315.8 37,312.6 39.5,309.4 40.85,306.2 40.85,300.9 39.8,295.6 38.5,290.3 36.5,285 35.5,283.8 34.5,278.5 34,273.2 33.5,267.9 33.5,262.6 33.7,257.3 34.5,252 35.5,249.8 37,244.5 38.5,239.2 39.8,233.9 40.1,228.6 40.2,223.5 41.8,223.5 41.9,228.6 42.2,233.9 43.5,239.2 45,244.5 46.5,249.8 47.5,252 48.3,257.3 48.5,262.6 48.5,267.9 48,273.2 47.5,278.5 46.5,283.8 45.5,285 43.5,290.3 42.2,295.6 41.15,300.9 41.15,306.2 42.5,309.4 45,312.6 48,315.8 51,319 51.5,320" fill="#EC736B" stroke="#222" stroke-width="0.3" stroke-opacity="0.55"/>
<line x1="41" y1="299.68" x2="41" y2="306.94" stroke="#c6c6c6" stroke-width="1"/>
<path d="M45.8 256.5h0M48.1 266.4h0M46.6 248.8h0M47.2 256h0M39.2 272h0M38.6 273.5h0M41.9 250.5h0M34.7 271.7h0M41.7 292.2h0M42 270.2h0M37.5 256.1h0M34.1 273.6h0M33 269.3h0M38.2 272.6h0M41.8 281.2h0M50.4 287.2h0M35.1 249.5h0M31.7 254.4h0M37.1 248.2h0M40.4 298.5h0M42.5 293.2h0M37.9 277h0M49 271h0M35.5 249.8h0M36.4 257.2h0M36.3 248.2h0M50.1 259.6h0M40.6 245.7h0M38.1 236.4h0M32.3 242.2h0M38.8 263.2h0M46.9 250h0M47.6 242.2h0M49.8 277h0M35.2 277.5h0M32.1 287.9h0M34.8 279.5h0M32.6 288.3h0M48.1 272.3h0M36.9 266.9h0M47.5 262h0M36.9 258.5h0M33.3 235.4h0M36.6 274.9h0M43.2 257.8h0M50.2 276h0M43.7 287.8h0M46.9 278.9h0M41.2 265.9h0M49.2 268.1h0M47.9 284h0M50.5 254.2h0M47.7 269.4h0M44.8 269.8h0M47.4 270.1h0M48.6 256.5h0M44.4 263.8h0M32.8 265.9h0M39.8 278.9h0M50.1 290.1h0M44.7 241.7h0M39 279.2h0M48.5 265h0M38.3 272h0M38.9 267.4h0M41.7 279.5h0M44.4 261.7h0M42.4 261.2h0M37.8 267.8h0M42.2 290.7h0M38.1 262.3h0M44.3 262.4h0M42.1 265.9h0M33.4 298.8h0M43.5 250h0M49.5 269.9h0M43.4 270.4h0M32.7 284.2h0M42 259.1h0M34.5 270.6h0M39.4 254.8h0M34.5 260.8h0M49.1 244h0M46.3 256.1h0M42.4 260.9h0M37.1 256.9h0M33.3 261.9h0M45.1 256.5h0M36 254.9h0M48.9 258.9h0M48.3 273.1h0M34.4 271h0M50.6 292.4h0M50.1 248.5h0M32.8 279.7h0M41.2 244.4h0M37 253.5h0M43.5 235.8h0M47.6 265.6h0M36.4 234.2h0M32.7 243h0M38.4 272h0M35.2 272.1h0M45.1 245.6h0M37 270.9h0M42.9 262.5h0M33.4 283h0M36.5 268.9h0M46.2 266.7h0M47.4 295.8h0M42 255.9h0M42.5 263.6h0M32.4 278h0M42.8 275.6h0M42.6 240.2h0M35.6 234.1h0M45.4 256h0M33.7 291h0M41.6 243h0M33.1 236.7h0M47.7 286.2h0M39.1 248.8h0M50 257.7h0M40 282.6h0M46.3 261.3h0M41.1 240.7h0M32.3 262h0M37.5 275.9h0M42.7 249.9h0M46.7 255.4h0M32.5 258.5h0M41.2 233.7h0M46.3 273.9h0M35.5 245.4h0M38 253h0M36.9 263.3h0M45.7 277.3h0M36.9 244.6h0M48.9 290.4h0M47.4 265.9h0M41.9 250.4h0M50.3 251h0M37.5 267.3h0M31.5 245.2h0M44.5 250.1h0M47.1 288.9h0M49.6 283.4h0M34.6 270.6h0M32 276.8h0M42.8 246.8h0M39 255.9h0M35.8 235.4h0M44.3 269.1h0M41.5 229.8h0M43.2 246.4h0M49.2 298.5h0M48 245.2h0M34.7 293.6h0M32.5 267.3h0M43.8 265.1h0M31.5 248h0M35.4 261.1h0M49.1 259.2h0M38.9 274.3h0M45.5 293h0M44.1 258h0M33.5 237.7h0M45.7 290.1h0M45.9 264.9h0M31.6 261.8h0M49.9 277.3h0M33.3 271.8h0M40.5 267.3h0M40.6 248.8h0M40.4 279.3h0M50.6 254.4h0M34.7 270.3h0M47 251.5h0M48.4 253.8h0M34.1 271.1h0M31.4 276.6h0M36.3 291.1h0M32.2 273.7h0M32.6 271.6h0M47.4 269.9h0M31.8 256.5h0M36.5 285.8h0M32.8 269.1h0M34 241.8h0M41.8 264.6h0M48.9 258.8h0M48.2 249.8h0M33.5 274.1h0M47.4 279.7h0M48.1 284.7h0M36.1 283.3h0M35.3 293.9h0M38.4 251.7h0M46.4 268.6h0M50.5 261.7h0M41.8 275.7h0M39.2 274h0M38.3 243.9h0M40 255.9h0M36 253.1h0M45 243.6h0M42.6 255.7h0M38.1 264.8h0M45 257.5h0M46.4 249.4h0M34.9 279.4h0M38.9 243h0M43.4 254.4h0M45.8 273.7h0M32.6 261.6h0M33.4 272h0M46.4 244.2h0M46 287.4h0M35.4 261h0M38.8 280.7h0M44.5 262.1h0M41.2 280.9h0M46.5 238.7h0M35.3 255.9h0M39.5 296.3h0M37.7 243.7h0M47.5 282.1h0M37.7 260.4h0M45.4 264.9h0M39.8 256.3h0M34.8 259.1h0M43.5 293.4h0M34.4 264.2h0M33.6 248.7h0M48 277.4h0M48.7 252.8h0M38.1 267.1h0M38.4 278.5h0M43 263.7h0M43.3 245.6h0M42.7 275.9h0M36.5 286.6h0M46.6 273.4h0M37.2 287.1h0M48.2 264.2h0M49.6 252.3h0M36.6 258.4h0M43 279.1h0M45 287.3h0M35.7 255.5h0M50 280.5h0M40 277.3h0M41.2 253.5h0M38.1 280.5h0M39 262.2h0M33 249h0M49.5 268.3h0M48.3 254.8h0M46.2 267.3h0M50.7 288.9h0M48.1 252.1h0M43.3 267.9h0M31.8 266.2h0M49.9 250.5h0M46.4 270.3h0M41.6 254.6h0M41 285.3h0M43.5 282.3h0M45.4 266.9h0M41.9 254.4h0M38.2 248.9h0M32.8 253.7h0M39 266.8h0M33.1 269.3h0M38.7 248.5h0M48.2 276.8h0M46.8 265h0M41.2 291.5h0M44.7 261.1h0M39.6 264h0M42.2 278.9h0M48.5 261.8h0M49.8 278.4h0M36.7 267.3h0M46.2 247.3h0M38.7 285.1h0M40.1 284.8h0M39.1 247.9h0M34.4 258.3h0M35.7 268.5h0M48.3 246.4h0M42.4 261.5h0M34.4 243.1h0M50.4 267h0M46.4 264.9h0M46.1 286.7h0M41.8 279.5h0M42.9 255.6h0M34.1 273.6h0M34.8 289.2h0M44.2 248h0M44.3 267h0M39 249h0M47.1 254.8h0M35.7 265.4h0M34.4 232.8h0M32.5 264.8h0M49.4 256.8h0M41.6 242.8h0M42.5 267h0M44 252.2h0M33.6 252.2h0M48.4 287.7h0M50.3 262.9h0M35.9 267.6h0M35.9 246.2h0M47.8 288.6h0M41.2 269.4h0M35.1 256.7h0M50.1 272.8h0M47.6 271.9h0M38.5 265h0M43.5 262.5h0M45.4 245.6h0M38.2 277.3h0M42.7 239.9h0M38.6 242.9h0M47.7 271h0M35.7 283.3h0M40 284.8h0M32.4 253.2h0M42.9 280.1h0M32.5 251.2h0M37.9 251.7h0M46 264h0M41.9 268.8h0M38 267h0M40.8 285.8h0M33.6 265.5h0M36.2 259.7h0M49.1 264h0M34 251.3h0M46.5 275.5h0M45.6 250.9h0M43.6 264.9h0M46.4 245.4h0M33.9 275.5h0M38.3 259.7h0M38 278.6h0M35.6 250.4h0M35.8 265.1h0M37.2 283.3h0M50 275.9h0M38.7 252.5h0M46.7 245.8h0M45.8 269.8h0M45.7 292.4h0M40.8 261.6h0M41.2 274.6h0M34.8 273.6h0M48.5 292.1h0M38.6 261.6h0M45.1 245.2h0M48.2 245.9h0M42.4 285.5h0M38.4 252.9h0M48.3 269.2h0M33.2 271.6h0M46 284.9h0M36.9 262.4h0M44.9 254.7h0M35.5 285.3h0M48.5 270.5h0M40.5 296.1h0M33.5 278.2h0M46.9 272.8h0M38 264.5h0M33.2 225.5h0M47.7 280.5h0M32.9 259.5h0M35.3 242.2h0M35 276.3h0M39.2 293.8h0M50.2 276.2h0M32.7 250.7h0M50.4 258.9h0M36.7 258.8h0M39.4 257.2h0M46.6 273.7h0M47.8 275.5h0M33.8 256h0M44.7 260.9h0M40.1 257.9h0M32.9 255h0M50.7 272.5h0M39.3 279.4h0M44.8 275.2h0M45.8 289.7h0M36 287.7h0M36.8 289.8h0M38.9 278.5h0M48.4 260h0M47.5 276.7h0M44 290.4h0M38 255.8h0M37.4 259.2h0M38.2 237.3h0M38.8 285.3h0M40.3 279.1h0M39.2 247.6h0M37.9 263.3h0M45.9 256.6h0M48.3 259.1h0M48.3 263h0M34.3 287.8h0M42.6 257.5h0M34.7 268.9h0M48.3 276.6h0M41.2 274.8h0M31.6 239.7h0M47.1 259h0M44.3 280.8h0M33.6 250.8h0M48 263.5h0M32.5 278.7h0M48.7 252.4h0M50.7 265.2h0M39.9 288.6h0M42.9 245.8h0M38.9 256.3h0M40.6 237.7h0M47.4 242.2h0M46.6 279.6h0M39.3 266.9h0M47.5 270.6h0M37.5 255.2h0M46.6 274.7h0M37.4 249h0M47.5 252.2h0M36.4 242.6h0M41.3 288.1h0M34.8 258.2h0M32.7 256.5h0M39.3 262.3h0M32.9 253.8h0M34 285.6h0M38.6 256.1h0M46.1 240.8h0M38.4 281.5h0M32.1 275.7h0M39.5 251.2h0M39.5 260.3h0M36.1 249.9h0M37.9 284.8h0M40.5 285.7h0M41.3 241.8h0M43.1 253.1h0M49.6 261.8h0M49.7 270.8h0M44.6 280.9h0M38.4 284.7h0M31.6 287.1h0M39.8 268.8h0M36.6 276.5h0M43.3 284.5h0M35.4 276.4h0M43 264.1h0M36.4 280.8h0M34.6 271.2h0M32.4 256.4h0M40.6 238.4h0M33.7 277.5h0M35 236.5h0M36.6 278.8h0M34.4 278.3h0M31.6 251.7h0M33.7 282.3h0M45.4 268.1h0M39.5 288.7h0M44.4 287.1h0M44.8 237.2h0M43 253.9h0M42.3 280.1h0M47.7 266.8h0M32.9 249.1h0M37.4 266.1h0M31.4 259.1h0M40 260.7h0M48.1 246.7h0M41.4 270.2h0M47.9 280.8h0M43.2 260.7h0M32.2 257.7h0M33 285.1h0M44.3 271.3h0M49.8 291.7h0M34.4 281.6h0M49.3 252.8h0M44.7 274.5h0M34 249.7h0M37.1 250.2h0M47.7 271.6h0M48 238.4h0M44.7 253.7h0M49.7 290.7h0M46.5 256.8h0M49.3 275.3h0M38.9 274.9h0M39.8 267.4h0M37.6 281.4h0M35.5 252.3h0M37.2 248.7h0M34.1 279h0M49.7 258.9h0M43.4 252.2h0M49.8 266.4h0M34 274h0M43.5 266.7h0M40 279.8h0M49 259.1h0M31.7 279.4h0M43 286.1h0M41.5 269.2h0M32.4 273.3h0M40.5 268.7h0M36.9 256.9h0M37 254.6h0M32.1 275.5h0M47.4 249.1h0M35.1 261.6h0M49 260.2h0M34 284.3h0M48.3 267.2h0M50 255.4h0M40.7 262.9h0M48 242.5h0M36.3 256h0M34 273.7h0M45.6 254.4h0M42.3 257h0M47.8 285.7h0M42 255.7h0M50.4 268.9h0M39.5 295.8h0M39.2 245.1h0M46.2 261.7h0M50.6 279.4h0M37.6 277.7h0M36.1 270.9h0M47.1 275h0M36.9 249h0M34.3 242.5h0M42.2 247.7h0M37 284.8h0M33.4 251h0M43.3 274.1h0M38.9 244.2h0M33.3 284.2h0M37.3 277.8h0M39.4 281.6h0M34.1 292.1h0M44.8 272.1h0M32.3 283.9h0M39.5 299.2h0M37.4 245.4h0M49.1 240.9h0M33.7 276.5h0M32.8 269.3h0M37.6 254.4h0M49.9 273.4h0M40.6 272.6h0M48.2 258.8h0M32.1 241.5h0M46.6 293.9h0M45.1 267.4h0M50.2 245.7h0M34.9 279.2h0M33.5 283.5h0M50.2 260.2h0M49.4 279.1h0M41.3 243.2h0M48.8 274.5h0M47.3 291.7h0M42.5 276.8h0M40.3 255.5h0M31.8 261.1h0M44.4 273.1h0M45.8 262.9h0M42.7 297.1h0M46 278.5h0M40.6 262.7h0M35.9 274.6h0M49.7 243.4h0M32.9 258.4h0M36.5 239.9h0M35.3 258.8h0M43.1 250.9h0M40.3 265h0M42.4 258.3h0M40.4 242.4h0M43.2 249.9h0M33.4 261.8h0M38.5 270h0M41.9 255.4h0M43.1 261.4h0M39.8 288.1h0M32.3 261.7h0M44.9 264.9h0M41 265.5h0M50 286.5h0M38 250.3h0M44.5 264.2h0M32.1 279.8h0M44.6 267h0M32.6 258.5h0M43.2 260.3h0M43.6 251.9h0M45.1 273.1h0M41 281.6h0M40.7 275.8h0M33.6 241.3h0M36.2 278.6h0M46.9 276.7h0M49.9 260.4h0M37.8 256.3h0M41.7 289.6h0M36.8 248.7h0M36.8 278.8h0M46.7 255.6h0M47.5 267.5h0M43.3 274.6h0M48.2 285.8h0M31.4 278h0M48.9 244.4h0M33.3 282.9h0M31.7 291.1h0M33.5 239.6h0M36.2 256.8h0M41.8 283.8h0M32.4 267h0M49 232.4h0M39.8 277.7h0M50.4 294.1h0M45.1 249.3h0M36.3 282.9h0M35.2 270.8h0M47.2 270.4h0M42.5 240.9h0M33.1 291.2h0M36.5 300.5h0M33.7 248.1h0M42.8 280.2h0M48.6 259.2h0M38.4 238.3h0M31.8 266.6h0M49.5 281.6h0M47.4 269.2h0M32 242.1h0M36.7 282.7h0M38.7 262.6h0M50.4 268.2h0M31.9 261.6h0M50.6 290.2h0M43.4 267.4h0M39.1 280.2h0M39.2 288.3h0M44.2 269.7h0M37.3 281.9h0M37.1 252.7h0M46.7 251.7h0M37.6 276.4h0M47 273.4h0M37.9 288.8h0M44.5 259.6h0M31.3 251.1h0M41.8 262.1h0M39.9 284.3h0M46.5 267.6h0M43.1 257.6h0M44 265.6h0M34.7 276h0M48 246.4h0M47.3 274.5h0M41.3 262.9h0M44.1 283.5h0M36.5 279.5h0M36.6 277.7h0M42 241.1h0M39.9 267.1h0M33.7 241.8h0M48.3 259.4h0M45.2 250.6h0M35 265.2h0M49.4 252.9h0M42.4 257.7h0M40.4 276.9h0M48.1 278h0M33.3 277.1h0M33.1 276h0M50.2 259.4h0M33.7 239.9h0M40 242.6h0M50.2 269.1h0M37.4 290.1h0M49.3 266.1h0M34.5 264.1h0M48.5 282.6h0M31.3 260.2h0M41.1 253.4h0M49.4 288.5h0M46.4 226.8h0M44.5 267h0M40.5 250.9h0M46.3 254.6h0M45.2 287.6h0M34.4 273.2h0M45.2 267.7h0M47 246.5h0M44.4 286.6h0M35.9 262.9h0M38.9 246h0M35.4 267.7h0M38.5 244.7h0M39.2 282.1h0M46.9 261.6h0M45.8 256.6h0M34.7 254.8h0M47 252.6h0M44.9 251.8h0M37.8 270.1h0M42.6 250.4h0M33.4 267.6h0M34.5 283.4h0M36.4 276.3h0M46.3 267.3h0M34.9 262.6h0M36.7 259h0M41.3 254.8h0M39.4 262.1h0M35.3 294.3h0M41.5 267.8h0M50.7 256.6h0M41.1 255.7h0M48 263.3h0M47.6 263.6h0M34.3 259h0M40.9 267.8h0M39.8 276.4h0M47.1 274.5h0M44.9 275.7h0M43.5 266.6h0M48.7 280.9h0M33.4 244.6h0M33.6 269h0M40.7 281h0M44 276.1h0M44.2 289.1h0M48 248.8h0M34.7 272.6h0M33.3 278.7h0M38.1 261.4h0M44.8 254.7h0M37.1 263.2h0M45.4 280.6h0M41.9 253.4h0M36.9 278.6h0M42.1 276.7h0M40.3 267.7h0M47.7 266.3h0M46.9 288h0M35.8 248.2h0M35.5 242.9h0M47.7 266.5h0M47.8 244.7h0M48 255h0M38.5 248.2h0M33.8 288.1h0M41.9 265.9h0M49.8 255.1h0M42.7 258.1h0M44.6 251.3h0M31.9 260h0M39.3 251.2h0M34.7 281.4h0M32.9 268.2h0M35.6 246.5h0M36.9 282h0M41 263.5h0M43.2 239h0M41.8 277.2h0M38.2 272.7h0M34.3 265.7h0M40.9 262h0M48.7 275.9h0M48.7 291.6h0M49 265.6h0M48.6 284.6h0M42.4 267.7h0M41.4 254.2h0M35.6 275.1h0M45.8 278.6h0M42.6 247.8h0M39.1 252.9h0M32.5 247.2h0M34.8 239.6h0M44.6 258.6h0M41.3 265.3h0M46.4 269.1h0M33.5 265.4h0M44.4 280.7h0M48.4 250.9h0M31.9 289h0M50.2 277.2h0M32.5 241.5h0M45.4 242.2h0M41.7 246.7h0M37.3 270.6h0M38.1 268.4h0M32 254.9h0M46 273.3h0M31.7 258.7h0M49.9 278.7h0M50.1 276h0M47.5 253.9h0M33.8 243.4h0M43.3 270.5h0M47.1 244.8h0M39.2 268.6h0M39.5 273h0M46.7 249.3h0M31.7 277.8h0M38.6 261.4h0M47.7 271.3h0M46.8 266.4h0M49.3 275.1h0M48.1 265.3h0M35.2 266.6h0M49.2 264.4h0M36.1 249.8h0M42 271.3h0M42.5 237.3h0M44.3 262.1h0M43.3 278.2h0M35.8 282.3h0M48.2 281.6h0M34.2 276.5h0M45.7 290.7h0M31.4 294.8h0M48.7 261.5h0M48.3 273.3h0M36.4 249.7h0M42 271.3h0M40.7 258.3h0M49.4 283.3h0M36.9 248.4h0M32.8 250.1h0M39 272h0M37.3 268.2h0M36.4 270.9h0M46.4 269.7h0M38.7 240.9h0M34 269.9h0M34.9 263h0M48.2 252h0M40.3 280.7h0M35.2 276.1h0M40.6 272.4h0M33.4 261.9h0M40.6 249.9h0M35.9 223.5h0M38.7 283.1h0M49.4 264.3h0M40.7 265h0M45.6 256.8h0M37.6 262.1h0M35 271.1h0M38 263.1h0M35.4 280.4h0M41.2 251.7h0M44.4 247.6h0M36.4 282.1h0M44.9 252h0M41.2 257.3h0M46.7 276.3h0M46.1 238.3h0M49.6 266.5h0M44.6 258h0M32.5 287.4h0M38 266.8h0M39 266.2h0M48.2 271.9h0M48.1 279.3h0M35.5 256.6h0M48.7 237.4h0M39.3 269.5h0M44.4 263.4h0M44.3 252.8h0M39.7 275.4h0M42.2 276.1h0M40.4 292.5h0M44.5 288.1h0M47.3 253.9h0M41.8 260.7h0M48.3 276.7h0M41 236h0M32.3 280.5h0M42.9 272.4h0M37.6 257.3h0M45.6 283.6h0M36.8 264.2h0M43.8 254.1h0M35 279.9h0M43.9 285.9h0M43 249.1h0M44.7 288.1h0M31.9 250.4h0M40 273.8h0M45.8 265.3h0M40 283.2h0M37 295.6h0M45.9 246.1h0M44.4 263.7h0M39.9 282.8h0M47.6 261.6h0M44.5 250.6h0M50.6 264.9h0M44.1 240.6h0M50 250.9h0M45.6 282.1h0M40 281.1h0M31.5 279.6h0M45.6 242.4h0M39.6 272.3h0M48.1 263.6h0M48.5 273h0M47.5 258.7h0M41.9 256.8h0M43.6 286.7h0M43.7 274h0M40 271.4h0M39.1 266.1h0M50.3 256.8h0M31.3 263.1h0M48.1 284.3h0M33.8 282h0M33.5 246h0M46.2 278.6h0M31.6 273.1h0M44.1 272.4h0M36 257.9h0M48 287.6h0M42.3 268.4h0M35.8 281.6h0M42.6 244.6h0M45.5 265.8h0M47.8 254.2h0M31.7 261.8h0M49.2 258.4h0M47.3 268.1h0M35.8 248.3h0M43 263.3h0M41.5 258h0M43.1 273.7h0M36 254.6h0M49.2 258.9h0M45 255.1h0M42.3 287.6h0M49.7 245.7h0M38.5 251.5h0M41.7 283.4h0M43.6 260.2h0M43.3 276.9h0M37.8 244.3h0M42.8 248.8h0M39.6 270.1h0M45.4 250.2h0M38.3 254.3h0M40 259.8h0M42.7 271h0M34.9 250.2h0M41.9 243h0M48.3 261h0M44.8 273.3h0M41 279.7h0M33.8 268.5h0M42.4 258h0M39.3 286.5h0M38.6 257.6h0M45.2 277.7h0M50.2 277.4h0M41.4 272.7h0M34.9 266.9h0M44.5 252.6h0M40 268.5h0M47.8 232.6h0M45.9 288.5h0M38.2 266.7h0M47.3 264.7h0M41.7 288.4h0M45 282.2h0M32.5 256.8h0M36.7 287.2h0M47.9 285.7h0M31.7 250.4h0M44.6 262.6h0M49.3 260.7h0M47.6 268.1h0M34.3 272.3h0M33.8 261.5h0M38.6 272.8h0M32.5 270.9h0M43.2 265.6h0M44.1 238h0M44.5 255.3h0M47.3 260.4h0M37.5 275.2h0M31.6 259.7h0M34.8 254.9h0M47.2 240.2h0M34.2 274.9h0M33.4 260h0M44.6 266.7h0M43.1 283.6h0M49.1 272.5h0M47 254.4h0M48.3 256h0M48.8 271h0M31.5 280.8h0M49.7 251.1h0M36.4 262.1h0M33.1 252.5h0M48.8 247.4h0M37.1 274.2h0M34.1 261.5h0M42.3 261.8h0M47.3 281.6h0M37.6 234.8h0M47.9 253.6h0M50.1 241.8h0M41.7 236.4h0M35.8 266.9h0M37.1 258h0M34.6 273.5h0M39.9 251.7h0M39 248.1h0M36.9 276.1h0M39.1 241.5h0M36.4 267.8h0M47.9 241.6h0M49.1 287.1h0M39.7 284.4h0M33.6 242.1h0M37 287.8h0M44.6 268h0M50.3 276.3h0M46 281.6h0M32.6 263.6h0M38.1 263.8h0M32.6 258.5h0M42.2 270.6h0M39 238.7h0M40 273.7h0M36.8 276h0M33 274.1h0M46.5 270.8h0M38 257.9h0M32.7 273.7h0M35.2 260.7h0M32.3 271.9h0M48.3 254.7h0M34.6 255.4h0M49.5 272.2h0M50.1 250.6h0M33.7 281.1h0M46.6 280.4h0M35.5 267.9h0M45.1 255.1h0M50 258.9h0M40.3 249.3h0M35.5 276.7h0M44.1 289.1h0M43.1 247.3h0M36 243.6h0M41.8 262.8h0M41.2 291.1h0M39.3 252.5h0M38.5 252.4h0M49.2 261.4h0M44.1 258.5h0M39.3 255.4h0M42.2 268.8h0M43.5 246.6h0M48.2 245.2h0M40 265.3h0M47.1 288.2h0M34.4 251.9h0M45.5 253.6h0M44.9 253.5h0M31.5 244.7h0M43.8 245.8h0M32.7 257.8h0M48.9 256.3h0M42.1 269.4h0M34.2 250.1h0M45.5 285.5h0M36.6 268.6h0M32.6 279.5h0M42.2 247.9h0M46.8 280.2h0M45.2 261.7h0M46.9 258.3h0M45.1 283.6h0M38.8 263.1h0M35.5 256.7h0M37.9 261.4h0M47.4 269.5h0M31.7 254.3h0M32.8 265.7h0M49.1 258.2h0M31.5 247.9h0M42.1 238.3h0M48.7 280.5h0M41.4 284.7h0M45.7 256.3h0M31.9 277.5h0M45.6 261.7h0M43.3 259.2h0M43.6 256.4h0M36.6 258.3h0M43.1 259.4h0M46.1 247.3h0M47.7 280.5h0M32.8 262.4h0M48.5 251.8h0M45.1 261.9h0M41.9 264.6h0M45.6 276.8h0M45.8 250.1h0M42 265.6h0M48 277.6h0M48.3 280h0M47 249.4h0M35.6 259.8h0M38.8 274.6h0M49.2 258.7h0M42.3 272.6h0M34.6 255.3h0M46.9 258h0M34.7 243.9h0M50 271.9h0M44.1 256.7h0M49.7 244.9h0M37.4 255.3h0M48.4 251.1h0M37.2 260.2h0M32.8 288.9h0M45.9 286.1h0M49.4 281.3h0M49.2 279.3h0M33.9 285.2h0M42.1 250.5h0M44.2 265.6h0M37.4 278.6h0M45.5 287.6h0M38.6 270.4h0M48.1 248.4h0M42.2 259.1h0M39.6 251.5h0M41 277.6h0M39.3 279.5h0M40.7 261.2h0M44.9 224.6h0M37.7 286.4h0M31.8 283.6h0M44.5 286.8h0M40 276.7h0M48.1 294.9h0M31.7 255.8h0M46.2 247.9h0M37.1 281h0M47.1 280h0M37.6 255.4h0M33.7 269.9h0M43.8 245.4h0M35.4 249.2h0M46.8 291h0M42 283.2h0M47.8 250.7h0M44.4 272.3h0M40.1 275h0M43 266.9h0M32.4 265.7h0M33.2 273.6h0M36.2 237.9h0M41.3 290h0M48.7 270.4h0M31.5 264.6h0M36.4 256.1h0M33.1 255.8h0M47.2 270.7h0M48.5 251.8h0M42 274.5h0M35.6 244.8h0M47.3 260.7h0M37.7 256.2h0M43.3 226.8h0M46.7 274.3h0M37.9 284.2h0M35.5 260.8h0M32.6 254.2h0M49.1 272.5h0M32 247h0M47.2 282h0M49.5 265.9h0M39.4 273.6h0M33.9 257.3h0M44.6 266.8h0M35.1 268.5h0M39.8 270.9h0M37.7 278.9h0M45.4 262.7h0M45.8 262.7h0M43.3 262.5h0M41.2 240h0M45.7 260.1h0M34.8 286.7h0M35.2 273.6h0M34.7 260.2h0M35 280.3h0M40.1 255.8h0M34.1 262h0M49.3 256.5h0M32.7 261.7h0M49.4 248.7h0M46.7 268.8h0M42 248.8h0M41.5 263.6h0M46.8 277.4h0M37.7 284.6h0M47.1 272.7h0M39.7 260.5h0M46.9 252.3h0M41.3 256.1h0M50.2 255.7h0M43.2 272.9h0M43.8 277.7h0M35.8 248.9h0M50.7 263.7h0M32.5 277.2h0M31.8 274.4h0M38.2 246.6h0M50.3 268.8h0M36.4 287.2h0M32.6 282.4h0M37.5 254h0M46.1 281.5h0M46.6 293.4h0M32.8 287.2h0M39.4 283h0M39.6 247.5h0M34.7 262.8h0M34.2 272.6h0M37.5 283h0M38.7 280.9h0M43.1 261.9h0M44 259.4h0M43.2 274.5h0M39.5 255.9h0M34.7 262.2h0M33.5 282.1h0M34 256.1h0M45.5 281.9h0M35 242.2h0M40.5 244.9h0M36.1 259.8h0M36.4 273.5h0M45.7 253.3h0M46.6 289.6h0M41.7 269.9h0M43.4 244.2h0M43.6 253.9h0M46.8 282.5h0M31.3 246.9h0M36.5 237.4h0M46.7 254.5h0M50.7 238.1h0M44.9 252.2h0M47.3 265.2h0M34.9 280.9h0M32 263.8h0M49.5 268h0M36 247.1h0M36.7 259h0M43.6 272.2h0M41.3 264.8h0M47.7 287.6h0M36 262.1h0M34.7 286.4h0M32.8 252.7h0M46.7 273.5h0M44 277.8h0M44.5 290.2h0M36.5 250.6h0M35.1 270.8h0M45.4 286.9h0M46.8 265.6h0M36.9 293.2h0M37.4 285.2h0M46.7 256.8h0M46.9 265.1h0M34.6 258.1h0M36.4 279.6h0M46 241.9h0M45 273.9h0M38.7 229.4h0M46.8 242h0M44.7 278.2h0M39.8 252.8h0M40.9 268.6h0M35.4 285.7h0M39.2 250.9h0M33.5 261.1h0M41.3 278.2h0M32.7 270.6h0M31.5 271.1h0M50 251.7h0M34 266.7h0M37.5 281.4h0M48.4 266.7h0M32.9 271.7h0M42.5 274.4h0M41 259.9h0M42.7 266.3h0M44 259.4h0M40.9 255.9h0M48.8 243.9h0M43.8 284.1h0M34.3 258.9h0M42.5 275h0M32.3 252.5h0M36.4 269.8h0M48.8 276.5h0M32.4 274.4h0M38 264.6h0M32.6 294.3h0M48.6 249.5h0M32.4 276.5h0M42.2 247.5h0M40.3 265.7h0M48.4 230.7h0M32.2 242.7h0M31.6 284.9h0M47.3 276.4h0M34.9 239.8h0M39.8 244.7h0M49 246.5h0M37.5 281.5h0M35.4 264.7h0M47.3 281.1h0M46.9 270h0M50.6 277.7h0M46.7 248.2h0M42.9 275.5h0M35.3 256.8h0M45.9 271.6h0M42.1 249.5h0M39.5 258.2h0M42.7 279.4h0M34.3 244h0M49.4 249.6h0M38.5 256.3h0M49.3 252.7h0M46.4 280.9h0M43.9 283.5h0M36.8 280.8h0M44.9 262.9h0M38.4 271.4h0M49.1 268.7h0M38.3 271.8h0M48 270.6h0M32.2 286.4h0M47 272.2h0M41 238.8h0M42.9 276.9h0M43.3 268.1h0M50.4 278.6h0M43.3 258.6h0M49.7 252.6h0M45 265.9h0M40 253.5h0M49.2 269.5h0M46 267.5h0M44.9 274h0M49.1 237.5h0M35 278.7h0M34.8 247.5h0M43 264.6h0M38.1 262.1h0M34.3 292.6h0M36.6 279.2h0M32.1 285.7h0M47.5 255.5h0M33.7 265.7h0M31.8 283.3h0M42.1 282.3h0M36.4 269.6h0M34.2 265.8h0M41.4 254.8h0M39.4 266.9h0M38.8 282.8h0M44.1 275.4h0M34.5 280.4h0M40.8 270.1h0M49.1 245.7h0M38.3 251.4h0M45.6 262.2h0M38.6 284.2h0M36 264.6h0M38.9 287.4h0M32.7 264.7h0M36.9 276h0M37.3 274.1h0M47.4 234h0M47.8 262.8h0M46.1 268.7h0M40.9 293.2h0M32.7 280.2h0M44.7 254.1h0M41.1 256.8h0M47 265.1h0M40.6 259.6h0M32.2 259.8h0M41.4 268.5h0M33.7 241h0M48.6 262.6h0M32.3 243.7h0M39.7 235.3h0M34 282h0M42.2 242.5h0M32.3 272.5h0M50.3 277.9h0M43.9 244.5h0M47.5 244.2h0M38.7 238.4h0M38 283.4h0M39.2 264.7h0M31.8 249.3h0M44.8 292.3h0M41.8 270.6h0M43.3 283.9h0M37.3 245.8h0M32.4 269.2h0M44.2 277.2h0M47.5 263.2h0M39.1 265.4h0M39.2 241.6h0M36.3 252.9h0M35.7 255h0M45.7 263.1h0M41.8 235.1h0M50.4 245h0M43.2 269.5h0M34.7 293.7h0M36.4 255h0M44.4 266.8h0M38.2 265.5h0M45 277.9h0M44 267h0M46.5 266.1h0M43 240.2h0M40.9 235.1h0M41.1 263.2h0M36.4 247.7h0M35.1 257.8h0M47.5 249.3h0M44.5 279h0M42.5 256.7h0M46.6 272.1h0M33.1 269.6h0M42.9 274.4h0M47.6 255.7h0M42.4 250h0M48.3 283.1h0M33.7 265.3h0M49.7 275.2h0M37 263.2h0M44.9 237.8h0M50 247.6h0M42.1 249.2h0M36.8 238.8h0M50.3 275.2h0M36.3 289.5h0M45.2 261.5h0M42.7 290.9h0M41.3 246.9h0M46.4 259.1h0M49.2 270h0M49.8 272h0M46.4 238.2h0M47.3 284.5h0M31.9 297.6h0M38.5 256.8h0M42.2 256.8h0M40.5 271.3h0M49.4 262.1h0M49.1 266.5h0M40.6 282.7h0M49.2 271.9h0M38.2 247.3h0M46.7 258.3h0M33.9 282.8h0M50.5 287.1h0M40.1 257.3h0M50.2 244.1h0M36.3 278.4h0M36.7 253.1h0M36.7 253.5h0M37 261.8h0M33 244.6h0M46.6 273.4h0M41.2 282.4h0M41.3 258.6h0M36.4 273.2h0M40.6 248.3h0M40.2 259.6h0M31.6 249.7h0M37.1 246.3h0M34.6 255.9h0M37.1 260h0M39.6 237.2h0M50.4 271.8h0M38.6 271.9h0M48.6 256.4h0M45.7 262.8h0M50.4 255.7h0M47.1 246.1h0M49.6 288.8h0M34.1 287h0M46.5 263.9h0M38.1 280.3h0M38.9 265.9h0M33.4 289.2h0M34.1 270.5h0M44.5 282.5h0M35.6 268.2h0M43.8 268.2h0M38.2 271.1h0M43.6 281.4h0M43.5 247.6h0M35.5 275.2h0M48.9 275.2h0M45.1 301.8h0M42.3 259.3h0M43.3 273.9h0M43.9 260h0M38.2 269.6h0M43.1 231.9h0M34.3 280.4h0M50.5 251.6h0M44.9 265.1h0M46.2 250.1h0M45.8 288h0M47.8 275.6h0M40.3 282.6h0M36.2 277.2h0M31.9 284.7h0M41.3 272.4h0M34.3 244.7h0M40.3 243.5h0M32.5 276.8h0M46.4 256.5h0M38.2 275.2h0M37.2 262.8h0M46.8 282.1h0M39 258.7h0M40.4 245.3h0M44.2 281.3h0M32 257h0M37.3 261.2h0M50.6 278.1h0M44.6 254.7h0M33.8 287.5h0M49.7 238.2h0M49.3 277.4h0M44 282.1h0M31.6 271h0M39.4 251.9h0M38.8 246.4h0M34.8 277.9h0M43 275.9h0M36.9 278.3h0M44.3 292h0M36.1 270.2h0M49 288.2h0M36.6 293.7h0M31.6 269.4h0M47.7 278h0M35.6 250.2h0M32.1 301.4h0M49.7 265.5h0M37.6 265.7h0M44.9 273.8h0M33.4 282.3h0M47 255.9h0M47.6 277h0M36.7 281h0M36 261.2h0M33.9 263h0M42.7 283.8h0M39.3 258.5h0M48.6 279.6h0M38.5 284.3h0M41.1 259.8h0M38.8 257.7h0M36.5 251.5h0M32.4 252.2h0M42.8 282.6h0M37 256h0M48.9 255.6h0M44 272.2h0M43.6 256.2h0M48.1 256.2h0M35 286.9h0M48.6 295.1h0M47.1 277.5h0M34.9 278.6h0M35.6 260.2h0M32.2 259.2h0M40 280.3h0M33.6 266.8h0M47.1 252.7h0M36.7 258.1h0M35.7 275.8h0M49 260.8h0M37.3 279.8h0M37.8 253.3h0M42.1 226.6h0M41.8 248.9h0M37.1 246.5h0M43.3 251.5h0M35.5 292.1h0M44.3 272.3h0M37.4 262.8h0M35.7 248.9h0M38 279.8h0M36.4 271.7h0M46.8 255.3h0M46 264.7h0M33.5 281.8h0M48.7 289.6h0M47.2 288.6h0M33.1 269.3h0M40.9 266.9h0M41.5 262.2h0M41.1 231.9h0M31.7 256.8h0M49.1 280.6h0M39.6 259.6h0M45.5 272.5h0M42 292.8h0M49.3 279h0M37.1 257.7h0M44.9 254h0M37.5 286.5h0M49.3 252.7h0M37.2 275.1h0M32.1 271.6h0M40.7 268.3h0M45 257.5h0M39.2 291.5h0M45.8 277.8h0M45.7 261.9h0M35.7 250.2h0M39.1 261.7h0M50.5 240.7h0M41.3 251.4h0M48.3 254.1h0M39 249.7h0M35.6 267.2h0M48.4 249h0M40.1 245.2h0M31.6 243.4h0M44.9 283.9h0M41.7 244.3h0M47.3 289.4h0M50 286.8h0M44.7 266.1h0M33.8 284h0M33.2 237.1h0M47.9 277h0M45.6 266.9h0M47.2 270.5h0M41.9 305.2h0M42.8 250h0M32.7 257.4h0M39.6 273.9h0M42.2 251.1h0M36.8 286.2h0M32.8 250.1h0M48.4 261h0" stroke="#000" stroke-width="0.96" stroke-linecap="round" fill="none"/>
<line x1="31.4" y1="319.7" x2="50.6" y2="319.7" stroke="#000" stroke-width="1.5" stroke-opacity="0.86"/>
<polygon points="53.6,320 54.1,319 57.1,315.8 60.1,312.6 62.6,309.4 63.95,306.2 63.95,300.9 63.3,295.6 62.6,289.2 62.1,283.8 61.8,273.2 62.1,262.6 62.6,252 63.1,245.6 63.3,239.2 63.95,226 64.25,226 64.9,239.2 65.1,245.6 65.6,252 66.1,262.6 66.4,273.2 66.1,283.8 65.6,289.2 64.9,295.6 64.25,300.9 64.25,306.2 65.6,309.4 68.1,312.6 71.1,315.8 74.1,319 74.6,320" fill="#7CAE00" stroke="#222" stroke-width="0.3" stroke-opacity="0.55"/>
<line x1="64.1" y1="296.68" x2="64.1" y2="306.81" stroke="#c6c6c6" stroke-width="1"/>
<line x1="64.1" y1="226" x2="64.1" y2="235.89" stroke="#c6c6c6" stroke-width="1"/>
<path d="M70.6 251.7h0M65 270.8h0M71.4 277.9h0M64.3 269.8h0M61.3 287.7h0M65.6 256.8h0M70.9 287.9h0M65 286.4h0M70 272.2h0M61.3 266.3h0M67.3 286.3h0M65.4 269.7h0M67.1 291.8h0M63 251.5h0M56.9 247.4h0M54.7 253h0M56.1 285.4h0M55.8 267.1h0M62.6 268.7h0M61.7 277.7h0M66.6 255.1h0M72.9 267.4h0M62.5 274.9h0M60.7 237.9h0M66.4 267.2h0M64.6 274.1h0M55.4 266.4h0M69.7 254.7h0M61.2 243.7h0M65 290.7h0M67 283.4h0M72.5 272.6h0M60.6 280.4h0M63.5 236.9h0M71.3 301.6h0M72.8 262.4h0M68.6 267.7h0M70.4 243.9h0M55.1 261.6h0M65.6 249h0M60.3 262.4h0M66 266.4h0M66.7 274.8h0M62.2 250.1h0M71.1 286.7h0M70.2 290.5h0M55.6 250.2h0M71.7 251.5h0M68.8 283h0M70.9 262.2h0M60.3 258.9h0M62.3 258.6h0M68.9 254h0M71.2 288.3h0M60.1 277.7h0M67.6 255.7h0M62 300.2h0M63.5 262h0M63.9 281.9h0M61.9 280.6h0M71.6 267.3h0M70.6 277.9h0M55.2 259.5h0M55.6 280.5h0M56 255h0M57.2 249.9h0M58.6 264.5h0M58.2 279.4h0M59.9 279.7h0M62 259.3h0M68.4 239.1h0M66 272.5h0M56.8 281.4h0M67.5 240.1h0M65.7 250.9h0M54.4 268.2h0M71.3 254.5h0M58.4 264.8h0M64.1 253.5h0M64.5 279.3h0M55.5 282.7h0M57.2 291.2h0M57.7 238.7h0M72.3 250.6h0M71.8 287.1h0M71.5 278.8h0M59.2 278.6h0M62.5 235.5h0M65 298.4h0M55.5 261.3h0M57 242.6h0M63.6 248.4h0M56.5 251.1h0M63.3 276.8h0M64.7 266.2h0M55 260.6h0M69.4 252.7h0M61.9 259.2h0M63.6 284h0M67.1 263.9h0M71.3 231.4h0M57.5 298.7h0M57.9 291.4h0M66.7 264.2h0M71.7 276.8h0M58.6 246.8h0M63.5 273.4h0M55.2 242.3h0M54.6 256.9h0M72.4 290.3h0M69.2 250.2h0M67.9 271.4h0M55.4 274.5h0M68 256.2h0M68.3 291.7h0M61 270.4h0M70.1 245.4h0M73.7 282.2h0M59.2 269h0M55.1 253.2h0M60 263.4h0M67.5 272.8h0M71.9 270h0M72.7 267.4h0M70.2 229.7h0M66.3 247.5h0M58.5 266.3h0M60.6 293.2h0M58.5 253.1h0M65.6 257.1h0M56.3 268.2h0M69.8 260.9h0M66.9 287.2h0M69.8 281.7h0M68.2 278.7h0M67.3 250.8h0M60.5 264h0M72 283.2h0M69.2 272.9h0M56.8 251.1h0M58.9 285.9h0M56.3 289h0M67.5 282h0M63.2 274.4h0M59 252.5h0M68.1 263.2h0M56.6 267.6h0M73.6 273.4h0M72.9 271.9h0M56.3 251.1h0M67.6 274.5h0M66.2 284h0M60.3 255.5h0M60.9 244.8h0M73 265.1h0M56 265.1h0M71.9 289.4h0M63.9 258.6h0M65.1 282.5h0M64.2 284.7h0M69.6 250.2h0M58.1 288.5h0M58.9 273.5h0M56.6 286.4h0M63.1 283.1h0M55.2 269.6h0M73.2 285.7h0M62.9 261.9h0M61.2 261.6h0M72.4 274.5h0M71 264.3h0M58.7 255.4h0M55.9 283.9h0M68.3 284.2h0M61.4 245.9h0M70.5 279.4h0M61.7 289h0M60.2 284.1h0M63.3 251.3h0M55.2 246.4h0M57.8 267.7h0M57.3 287.9h0M68.1 288.7h0M60.2 237.7h0M70.2 288.1h0M72.8 276.7h0M64 277.2h0M58 257h0M54.7 275.9h0M73.1 290.2h0M56.7 273.8h0M68.9 288.7h0M54.8 278.6h0M72.2 257.1h0M65.2 263.1h0M67.2 258.2h0M66.4 260.4h0M59 277.7h0M56.7 269.7h0M70.6 288.2h0M65.2 254.7h0M65.4 250.1h0M56.6 246.5h0M72.8 257.6h0M67.9 279.8h0M62.6 252.6h0M55.3 276.4h0M63.5 288.7h0M73.4 275.8h0M69.2 255.2h0M54.8 281.9h0M68.9 285.3h0M71.3 271.4h0M59.4 264.7h0M70.7 274.9h0M73.2 247.4h0M62.5 277.3h0M56.4 256.4h0M61.6 276.3h0M72 261h0M63.4 264.1h0M60.2 289.5h0M63 262.6h0M70.6 283.1h0M66.2 247.8h0M56.6 278.7h0M60.6 245.3h0M59.9 270.5h0M69.3 287.5h0M64.3 258.8h0M55.8 259.4h0M54.8 288.9h0M61.5 266.9h0M65.4 276.2h0M65.6 279.8h0M61.9 280.2h0M62.4 291.9h0M60.3 291.1h0M57.5 245.2h0M60.8 242.2h0M67.1 281.1h0M60.1 254.9h0M72 279.2h0M65.3 248.8h0M57.5 268.3h0M63.4 267.2h0M57.8 267.2h0M57 272.7h0M56.5 250h0M57.7 267.8h0M58.1 295.7h0M73.2 243.3h0M55.4 283.2h0M63.2 273.2h0M67 253.9h0M55.8 277.8h0M60.7 262.6h0M62.2 269.3h0M63.6 255.7h0M67.6 298.4h0M64.3 289.8h0M64.5 270.4h0M59.9 269.2h0M55.4 265.2h0M67.2 273.6h0M64.6 276h0M64.4 281.7h0M65.6 251.2h0M72.5 288.7h0M69.1 245h0M63.9 289.8h0M58.4 255.8h0M57.6 269.6h0M65.6 285.3h0M69.6 263.2h0M67.5 247.9h0M69.2 278.2h0M55.9 280.4h0M56 265.9h0M65.4 277.3h0M69.4 285.4h0M58.3 228.3h0M73.6 276.9h0M63.5 275.7h0M55.6 268.1h0M66.1 254.8h0M73.8 262.5h0M73.5 265.9h0M73.3 284.3h0M63 281h0M71.5 270.6h0M60.9 260.6h0M71.3 286.8h0M64.5 240.3h0M61.8 263.6h0M55.2 262.3h0M62 269.5h0M67.4 241.2h0M58 266.7h0M63.1 251.1h0M59.2 243.3h0M57.6 296.5h0M61 285.1h0M57.6 262.3h0M65.9 276.9h0M67.3 257.1h0M60.9 287.5h0M56.1 276.3h0M60.4 267.3h0M57 259.8h0M66.7 267.4h0M71.4 281.3h0M55.5 282.7h0M63 242.6h0M63.9 292.7h0M55.2 271.2h0M73.6 288.3h0M56.7 242.8h0M56.7 286.3h0M55.7 274.2h0M61.7 247.1h0M67.3 227h0M64.6 257.1h0M62.6 288.8h0M59.1 277.2h0M70.6 261.9h0M59.2 260.6h0M63.1 280h0M67.5 265.4h0M54.8 246.4h0M57.4 276.4h0M63.3 270.5h0M59.6 286.9h0M58.1 247.3h0M73.2 277.4h0M54.7 282.4h0M60.4 270.4h0M57.7 283.6h0M58.5 287.5h0M72.6 280.7h0M61.4 254.6h0M65.8 249.6h0M66.5 272.3h0M72.1 293.9h0M72.4 291.3h0M61.1 268.2h0M67.2 275.6h0M56.4 261.1h0M67.2 276.3h0M59.1 235.7h0M54.6 288h0M69.3 288.5h0M73.7 278.4h0M68 250.9h0M69.6 259.4h0M72.5 286.5h0M61.2 260.6h0M71.5 283.2h0M64 286.3h0M64.4 279.6h0M55.8 260.5h0M59.8 275.6h0M62.1 286.2h0M65.1 280h0M58.8 284.5h0M73.3 287h0M71.3 271.6h0M57.2 277.9h0M56.5 273.1h0M55.4 293.9h0M58.2 247h0M69.4 237.9h0M59 283.5h0M66 282.4h0M65.3 275.3h0M73 233.1h0M62.8 260.7h0M58.4 285.5h0M64.4 251.6h0M61.7 237.6h0M56.7 293.5h0M71.5 272.2h0M61.2 249h0M54.6 264h0M70.9 285.8h0M70.8 285.7h0M62 258.1h0M69.8 282.3h0M64.1 262.5h0M66.2 253.9h0M63.5 273.5h0M56.9 264.3h0M72.8 282.5h0M54.7 287.7h0M55 293h0M63.1 281.5h0M58.2 263.4h0M70.6 262.9h0M71.3 254.1h0M60.3 268.7h0M56.2 281.1h0M65 241.6h0M61.7 248.7h0M73.6 278.8h0M61.8 258h0M66.4 272.4h0M73 271.4h0M71.9 252.8h0M57.1 287.2h0M62.8 268.6h0M64.6 239.7h0M69 287.1h0M71 280.5h0M71.8 252.6h0M65.8 283.6h0M70.1 249.1h0M71.3 269.4h0M56.5 277.7h0M73.4 296.4h0M60.9 291h0M54.7 287.4h0M59.7 289.6h0M67 249h0M61.8 241.8h0M65.9 248.6h0M69.7 278.3h0M60.6 241h0M58.4 254.9h0M68.9 241.9h0M56.1 275.9h0M72.4 278h0M70.6 256.6h0M61 257.7h0M64.1 293.1h0M68.7 267.1h0M71.9 258.8h0M73.4 278h0M64.2 280h0M62.5 271.2h0M55.6 246.4h0M73.7 258.3h0M59.6 283.6h0M58.7 259.3h0M71.6 252.2h0M69 259.3h0M63.8 281.3h0M66.8 288.6h0M72.5 286.9h0M63.5 287.6h0M55.5 287.9h0M73.8 292.4h0M73.3 285.8h0M71.9 275.8h0M58.2 260.4h0M60.2 299.3h0M55.3 255.9h0M65.5 261.4h0M72.4 282h0M64.9 267.4h0M56.6 240.7h0M57 272.4h0M69.2 287.1h0M58.9 271.2h0M69.3 282.1h0M65.9 254.7h0M61.9 282.8h0M63 262h0M70.4 263.4h0M73.1 280.9h0M57.4 272.9h0M69.5 267.1h0M66.3 263.3h0M59 261h0M58.3 287.1h0M58.6 273.7h0M72.9 282.3h0M68.5 291.2h0M54.4 268.1h0M62.5 279.8h0M68.8 244.7h0M58.4 270h0M62.9 278.2h0M60.6 281.7h0M64.2 275.5h0M56.3 269h0M67.2 289.7h0M56.4 253.4h0M64.3 278.6h0M57.6 265.1h0M66.1 234h0M55.8 298.3h0M59.2 282.3h0M69.4 285.8h0M56.4 248.5h0M58.5 284.6h0M66.4 267.7h0M65.9 259.5h0M55.7 272.7h0M64.9 285.8h0M72.4 290.4h0M56.7 270.5h0M61.7 281.5h0M55.1 285.1h0M67.2 276.6h0M56.1 294.9h0M62 268.3h0M58.1 247.7h0M69.2 267.7h0M58.1 271.3h0M60 281.8h0M67.5 285h0M55.9 241.1h0M65 257h0M57.5 252h0M57.9 288.5h0M73.7 247.7h0M56 286.7h0M59.3 254.3h0M61 286.6h0M68.2 270.5h0M58.2 283.7h0M56.9 291h0M59.6 294.8h0M66.1 245.8h0M73.2 287.3h0M65.6 281.1h0M54.7 263.3h0M61.8 255.3h0M65 276.9h0M70 279h0M73.5 250.6h0M57 280.4h0M70.2 272.5h0M68.1 278.3h0M66.9 285h0M65.1 268.4h0M67 289.3h0M60.7 273.4h0M55.8 258.8h0M59.4 264h0M54.9 260.2h0M69.5 290.3h0M59.6 277.1h0M72.1 272h0M65.5 288.8h0M67.9 274.9h0M64.3 270.6h0M71.2 267.7h0M69.2 286.6h0M56.9 270.9h0M67.7 264h0M70.5 254.9h0M68 260.1h0M70.5 282.6h0M67.7 255.3h0M63.2 285.9h0M55.8 284h0M59 257.2h0M68.3 248.8h0M60.1 285.6h0M69.2 273.9h0M70.2 285.7h0M73.7 290.3h0M71.8 253.7h0M73.4 277h0M59.1 257.9h0M56.2 270h0M70.6 249.3h0M60.7 283.6h0M71.6 265h0M68.3 251.3h0M73.5 249.3h0M58.4 266.3h0M59.9 260.8h0M67.6 279.3h0M54.6 253.2h0M67.6 260.8h0M65.1 289.4h0M63.8 262.9h0M55.8 249.9h0M68.9 254.2h0M55.4 288.2h0M67.9 252.3h0M70 255.3h0M59.3 273.8h0M71.2 263.8h0M58.9 241.3h0M61.7 266.3h0M70 255.7h0M71.6 266h0M72.3 273.4h0M69.4 269.9h0M54.8 249.6h0M70.8 277.9h0M71.2 255.4h0M72.1 284h0M61 270.2h0M57.1 240.3h0M70.2 296.8h0M59.8 257.4h0M62.3 230.4h0M71.8 285.8h0M57.9 266.8h0M59.8 264.1h0M60.8 281.8h0M70.1 301.2h0M72.8 250.9h0M57.6 283.4h0M59.9 294h0M69.4 289.9h0M58.6 260.8h0M66 242h0M63.2 270.5h0M70.7 275.5h0M59.5 256.9h0M64.5 274.5h0M65.8 238.9h0M55.2 286.2h0M55.7 263.3h0M58.4 241.9h0M55.2 258.8h0M61.9 287.7h0M65.3 254.3h0M63.8 258.1h0M66.8 262.5h0M65.6 267.2h0M68.3 254h0M70.9 256.4h0M54.8 283.3h0M55.7 274.7h0M55 255.6h0M65.2 293.7h0M57.4 262.6h0M63.9 272.3h0M59.8 276.4h0M62.6 293.7h0M62.9 278.9h0M65.9 286.1h0M54.9 265.6h0M64.1 260.6h0M60.3 281.8h0M65.2 275h0M62.1 267.5h0M54.8 247.8h0M63 267.9h0M65.1 245.2h0M71.2 280.4h0M63.6 256.4h0M59.8 271.4h0M54.9 269h0M57.5 230.5h0M72.8 292h0M65 254.9h0M72.1 280.8h0M56.5 289.3h0M57.5 269h0M71.5 261.8h0M55.3 245.9h0M63.7 260.4h0M67.1 268.1h0M64.7 265.4h0M67.3 255.9h0M55.3 275.4h0M65.1 282.6h0M64.8 265.2h0M69.5 256.7h0M63.8 260.3h0M60.7 254.7h0M63.2 291.7h0M57.6 286.4h0M69.5 245.4h0M64.8 249.6h0M59.6 284.6h0M67.9 269.5h0M60.5 261.3h0M64.2 289.4h0M73.6 265.8h0M72.5 266.8h0M63.1 286.7h0M59.5 280.8h0M68.8 271.9h0M73.2 237.1h0M71.1 270.6h0M65.9 284.8h0M69.1 271.4h0M73.8 252.7h0M60.1 275.5h0M56.2 282.5h0M69 270.9h0M72.3 269.9h0M65.6 283.2h0M60.3 262.3h0M61.9 259.9h0M54.5 265.8h0M68.9 262.9h0M73.4 277.6h0M57.2 281.8h0M65.8 270.8h0M62.8 289.4h0M66.7 286.5h0M73.2 286h0M70.4 280.6h0M66.6 290.7h0M55.1 259.8h0M60.9 278.8h0M60.7 265.6h0M68.4 267.1h0M57.1 292.7h0M59 271.5h0M56.6 274h0M67.8 248.8h0M54.4 283h0M61.7 259.4h0M61.2 267.4h0M71.7 257.5h0M55.5 277.1h0M68.7 256.4h0M63.1 273.4h0M60.7 266.8h0M55 273.7h0M62 287.1h0M73.2 269.4h0M68.9 274.9h0M57.5 274.1h0M56.9 254.6h0M64.9 285.3h0M66.9 270.9h0M72.4 285.5h0M72.8 242.5h0M71.2 270.6h0M56.9 261.1h0M63 245.7h0M58.6 291.3h0M66.3 277.8h0M59.3 287.3h0M62.8 274.4h0M71.7 262.6h0M59.5 269.5h0M71.4 248.4h0M66.2 275.5h0M59.5 277.8h0M67.6 272.4h0M67.1 281.6h0M62 260.6h0M70.7 288h0M69.1 277.9h0M66 256.9h0M67.5 278h0M70.3 278.9h0M65.5 288.6h0M68.6 269.3h0M63.9 256.8h0M63.1 250.7h0M61.5 262.2h0M61.6 266.7h0M70.4 281.2h0M61.4 243.4h0M65.3 248.5h0M61.7 281.1h0M65.9 254.8h0M56.8 237.4h0M55 246.5h0M61.4 276.9h0M59.5 274.2h0M71 289.7h0M69.5 251.1h0M71.1 277.5h0M63.8 244.3h0M67.1 284.3h0M69.1 270.5h0M60.6 242.3h0M56.4 228.8h0M73.2 290.9h0M72.5 269.1h0M55.7 289h0M57.8 250.3h0M70.6 269h0M67.2 278.9h0M69.8 243.3h0M63.8 272.9h0M58.7 291.9h0M57.9 257.8h0M72 258h0M64.9 257.8h0M64.6 271.3h0M66.2 262.2h0M67.7 274.2h0M59.7 292.4h0M56 246.2h0M72.3 290.3h0M57.9 282.7h0M68.7 276h0M63 264h0M60.8 282h0M72.3 250.9h0M68.5 236.4h0M69.5 273.5h0M60.1 255.5h0M68.3 259h0M61.4 260.8h0M69.1 262.3h0M71.3 273.3h0M56.1 286.6h0M70.1 288.2h0M61.2 271.1h0M55.1 251.7h0M68 263.1h0M70.2 292.2h0M59 249.5h0M67.6 283.7h0M67 273.5h0M65.2 282.3h0M71.7 283.6h0M68.7 273h0M65 284.5h0M73.3 284h0M54.9 285.3h0M66.9 287.1h0M67.5 251.4h0M67.5 269.4h0M69.6 295.6h0M64 259.7h0M57.1 262h0M66.8 285.8h0M56 282.4h0M70.9 283.6h0M68.3 285.8h0M56.6 298.7h0M68.1 252.1h0M58.6 271.6h0M69.8 266h0M55.2 265.5h0M54.8 285.8h0M61.8 295.8h0M62.6 279h0M62.2 237.2h0M54.5 266.3h0M54.4 290.8h0M63.5 271.2h0M67.7 256.2h0M73 249.6h0M69.7 254.5h0M60.7 246.4h0M63.5 284.5h0M68.7 277.9h0M60.9 276.1h0M66.1 282.5h0M62.1 268.5h0M68.6 282.9h0M61.5 283.7h0M56.5 278.2h0M63.2 254h0M63.1 291.9h0M65.3 269.9h0M60.2 280.3h0M60.8 258.7h0M69.7 248.6h0M69.3 242.5h0M55.1 243.3h0M64 293.2h0M69.4 246.2h0M55.5 251h0M63.3 288.4h0M58.1 231.8h0M64.9 284.9h0M62.2 282.6h0M66.7 288.7h0M66.7 276.6h0M55.6 257.9h0M61.7 296.1h0M55.5 282.5h0M72.9 258.6h0M55.3 259.1h0M58.2 282.1h0M56.7 272.5h0M56.9 287.7h0M65.1 263.5h0M59.1 254.6h0M68.4 281.1h0M73.3 243.6h0M70.5 260.8h0M60.3 266.3h0M59.3 272.9h0M57.3 270.9h0M68.3 287.6h0M56.3 284.9h0M73.6 252.6h0M70.2 251.1h0M68.4 277.3h0M72.8 264.3h0M54.6 293.8h0M57.1 260.4h0M64.1 254.8h0M67.3 262.8h0M56.5 279.3h0M64.8 273.2h0M55.6 257.6h0M61.9 288.5h0M57.1 289.9h0M69.7 284.1h0M69.2 260.3h0M70.3 243h0M62.2 276.7h0M57.5 277.4h0M69 287.9h0M62.7 237.4h0M56.8 256.9h0M54.8 289.9h0M60.1 298.1h0M66.3 262.7h0M63.9 286.7h0M62.2 284.6h0M54.6 248.6h0M64.9 282.2h0M73.8 265.7h0M57.9 261.7h0M69.5 279.7h0M56 267h0M69.1 287.4h0M62.6 259.4h0M68.5 257.3h0M66.9 245.3h0M61 285.9h0M70.7 264.6h0M63.3 243.5h0M73.5 293.3h0M69.4 251.9h0M54.8 256h0M69.1 278.1h0M65.7 292.6h0M72 292.1h0M66 295.4h0M66.4 262.7h0M66.2 263.2h0M58.7 243.3h0M63.8 282.3h0M71.4 286.3h0M57.5 236.9h0M61.9 261.9h0M69.5 287.7h0M71.5 266.1h0M57.8 283.3h0M59.6 266.4h0M68.9 291.9h0M69.1 246.5h0M59.8 280.6h0M56.9 290.2h0M56 283.4h0M72.3 285.8h0M73 261.3h0M54.7 272.4h0M61.9 270.3h0M59.9 239.2h0M62.7 283.3h0M64.8 243.9h0M63.7 256.3h0M65.4 259.8h0M64.7 289.9h0M64.8 288.6h0M71.9 262.8h0M59.8 264h0M58.1 253.6h0M71 259.3h0M63.9 245.9h0M56.2 288.8h0M68.5 262.7h0M65.3 255h0M68.3 246.8h0M59.5 251.3h0M71.6 239.5h0M57.9 265.9h0M70.1 284.7h0M60.2 289.1h0M71.1 257.3h0M70.5 248.5h0M69.8 264.4h0M68.1 236.4h0M69.6 284.2h0M69.9 260.8h0M68.5 260.7h0M56.2 287.2h0M61.7 289.9h0M71.4 288.3h0M54.8 270.5h0M57.8 262.3h0M70.5 245.8h0M71.4 291.3h0M69.5 239.7h0M67.5 284.7h0M65.3 286h0M59.4 284.1h0M61.5 285.8h0M59.4 266.8h0M62.9 286.5h0M66 263.6h0M63.8 290.4h0M73.8 242h0M70.7 286.5h0M65.5 264.4h0M57 273.6h0M59.6 239.7h0M56.7 233.5h0M58.1 247.7h0M61.5 256.4h0M57.3 260.5h0M58.2 276.5h0M73.6 266.7h0M63.6 275.4h0M57 259h0M71.1 247.9h0M63.6 281.9h0M72.7 274.2h0M67.2 286.9h0M67.1 288.9h0M70.2 268.4h0M55.8 254.6h0M64.8 253.1h0M70.2 267.8h0M54.9 260.1h0M67.8 279.6h0M64.4 268.6h0M58.5 273.7h0M58.4 262.8h0M73.5 282.6h0M71.9 270.8h0M72 285.9h0M55.9 268.9h0M67.8 285.8h0M64.4 284.4h0M55.7 259.6h0M69.7 260.2h0M56.6 295.2h0M69.7 265.8h0M57.4 275.9h0M72.6 288.5h0M68.3 271.9h0M63.8 244.1h0M62.3 266h0M65.3 271.5h0M55.6 290.6h0M71.4 290.2h0M69.6 259h0M70.7 248.7h0M72.1 270h0M67 266.4h0M66.1 281.7h0M69.2 269.4h0M61.6 252.2h0M71.7 265.5h0M59 254.1h0M66.4 283.1h0M64.8 271.4h0M70.2 281.4h0M72.1 249.9h0M60.8 302.3h0M64 267.5h0M61.8 275.8h0M60.6 283.1h0M72.5 279.2h0M66.9 290.1h0M69.1 251.6h0M57.7 281.4h0M70.9 291.3h0M70 282.9h0M58.8 284.2h0M59.1 249.7h0M65 257.7h0M66.3 294.4h0M61 262.2h0M72 276.3h0M70.3 273.6h0M62.6 295.1h0M56.1 262.3h0M59 257.7h0M59.5 270h0M66.6 284.1h0M65.6 257.9h0M73.4 246.8h0M65.4 255.4h0M62.1 280.1h0M64.4 247.6h0M69.5 274.3h0M68.3 292.7h0M71 287.7h0M61.9 258.4h0M65.7 233.4h0M69.7 238.4h0M56.2 283.2h0M63.6 284h0M67.3 249.6h0M70.3 276.5h0M73.3 254.9h0M56.1 261.4h0M73.1 272.2h0M55.2 291.8h0M69 242.8h0M55.7 279.8h0M56.3 287.3h0M61.4 268.6h0M70.4 288.6h0M60.6 264.7h0M54.5 239.2h0M64.2 266.3h0M61.9 269.8h0M56.6 274.9h0M54.5 242.4h0M68.8 241.1h0M60.8 250h0M60.5 251.2h0M63.2 255.5h0M56.4 275.9h0M68.5 263.4h0M65.8 286.8h0M58.7 287h0M66.5 287.8h0M62.7 285.8h0M61.6 299h0M63.8 272.4h0M70.9 265.2h0M54.9 267h0M54.9 248.3h0M60.8 252.3h0M59.3 291.9h0M63.3 279.5h0M68.7 287.2h0M63.8 287.4h0M61.3 285h0M66.7 264h0M68.4 241.8h0M72.7 267.2h0M67 293.8h0M72.2 249.4h0M55.2 271.8h0M69.5 252.6h0M57 284.3h0M59.2 285.6h0M73.5 248.8h0M72.8 276.1h0M61.3 296h0M70.2 261.4h0M63.5 270.1h0M57.7 267.3h0M56.2 264.7h0M61.6 270.2h0M60.2 254.7h0M65.4 270.4h0M66.7 267.6h0M73.3 290.4h0M63.1 264.9h0M69 288.6h0M69 279.5h0M61.3 289.1h0M55.7 290.8h0M66.5 286.8h0M71.2 268.9h0M62.3 278.1h0M57.7 253h0M56.9 291h0M59.9 285.9h0M73.7 269.2h0M71.3 284h0M72.6 276.1h0M58.7 243.5h0M61.6 260.9h0M67.5 242.8h0M57.7 276.5h0M56.2 286h0M56.2 251.5h0M63.6 249h0M65.8 243.8h0M60.1 270.8h0M69.4 292.9h0M64.7 290.7h0M61.5 277.4h0M58.7 262.1h0M68.4 287.1h0M62 236.4h0M71.1 269.7h0M73.2 273.9h0M67.4 295.8h0M69.2 262.8h0M62.8 294.1h0M70 264.9h0M60.3 291.1h0M57.3 274.1h0M67.6 261.7h0M67.5 272.2h0M60.8 275.3h0M67.7 265.4h0M72.3 250.4h0M60.2 237.4h0M68.6 271.4h0M63.7 291h0M61.1 248.9h0M73.2 259h0M67.2 272.6h0M55.1 254.6h0M68.8 267.7h0M70.4 286.8h0M63.9 267.2h0M56 284.5h0M69.3 289.7h0M62.4 288.2h0M70.2 264.6h0M62.2 280.1h0M63 264h0M68.6 282.6h0M59.6 276.7h0M71.5 278.2h0M59.4 258.5h0M71.2 261.4h0M69.5 289h0M60 283.6h0M68.5 262.5h0M65.9 279.7h0M61.4 246h0M65 260.7h0M57.6 266.2h0M54.7 272.9h0M73.3 278.4h0M68 245.1h0M69.4 267.2h0M61.2 255.3h0M54.7 292.9h0M55 241.7h0M60.3 261.4h0M59.3 258.2h0M64.1 250h0M59.7 259h0M72.1 254.6h0M61.7 274.8h0M60.9 272.7h0M61.4 277.8h0M59.1 298h0M56.8 264.6h0M67 285.6h0M60.8 278.6h0M62.2 282.7h0M72 278.4h0M69.2 241.9h0M72.4 290h0M66.8 275h0M69.5 292.6h0M69 289.7h0M63.2 241.7h0M71.4 258.7h0M61.1 268.8h0M60.3 285.7h0M65.2 251.5h0M65.9 274.6h0M66.6 255.9h0M66 265.4h0M55.8 260.8h0M70.4 249.6h0M69.2 287.4h0M72.6 277.6h0M60 289.2h0M59.3 253.4h0M69.3 276.8h0M56.9 272.8h0M61.4 287.6h0M73.3 254.1h0M61.4 256.5h0M64.4 265.6h0M62.8 296.1h0M69.1 255.4h0M67.7 270.4h0M61.6 259.3h0M68.6 240.7h0M65.2 285.3h0M61.8 267.3h0M61.7 263.8h0M63.4 287.5h0M63.2 276.7h0M54.6 290.9h0M54.7 252.6h0M58.2 282.4h0M67.7 250.7h0M73.2 282.2h0M54.5 267.9h0M54.5 287.8h0M64.7 263.6h0M70.7 284h0M71.2 262.9h0M57.1 245.6h0M60.5 275.3h0M67.2 256.6h0M70.5 282.1h0M71.1 282.7h0M61 264.4h0M67.5 253.4h0M66.1 284.2h0M58.7 289.1h0M69 290.1h0M57.2 282.4h0M67.8 254.9h0M62.1 286.6h0M69.5 265.4h0M69.8 270.1h0M57.3 258h0M65 281.7h0M71.7 292.7h0M67.1 263.9h0M62.9 254.4h0M58.1 269.1h0M57.7 254.2h0M65 251.2h0M69.7 268.9h0M70.1 267.8h0M70.4 233.3h0M66.6 291.5h0M73 296.3h0M65.1 284.7h0M64.8 260.7h0M72.8 276.3h0M69.9 289.3h0M70.3 283.7h0M61.7 292.9h0M65.2 280.8h0M56.4 261.7h0M70.3 259.3h0M59.7 256.9h0M67 292.8h0M55 265.3h0M61.2 274.4h0M57.1 281.9h0M61.8 240.5h0M66.7 259.1h0M64.7 288h0M55.4 267.7h0M64.3 260.2h0M54.8 276.7h0M63 255.6h0M69.7 281.7h0M65.5 277.3h0M61.7 287.7h0M66.9 254.8h0M65.5 251h0M62 278.9h0M62 272.8h0M67.5 289.1h0M66.8 290h0M67 288.9h0M57 239.6h0M72.6 280.7h0M71.3 283.5h0M57.5 277.7h0M69.2 257.3h0M61.5 265.9h0M70.2 268.4h0M64.2 250.2h0M66.8 275.8h0M66.2 255.7h0M66.9 256.4h0M66.5 276.9h0M67 263.6h0M63.7 284.9h0M64.4 231.7h0M57.2 291.1h0M66.5 279h0M61.8 261.2h0M55.5 266h0M69.5 287.3h0M67.3 290.8h0M61.6 260.1h0M67.3 277.4h0M73.7 269h0M57.2 280.1h0M68.8 281.7h0M73.8 266.8h0M56.6 251.3h0M58.8 250h0M60.7 284.9h0M73.1 268.1h0M54.5 285.1h0M64.8 285.1h0M59.2 280.4h0M57.3 253.1h0M54.6 295.8h0M62.2 266.4h0M60.4 292.4h0M61.4 234h0M69.9 281.9h0M62.7 287.3h0M61.8 285.2h0M64.8 276.9h0M63.9 299h0M68.3 257.3h0M66.2 267.9h0M62.7 256.7h0M73.7 283.9h0M73.1 272.8h0M67.1 282.7h0M70.3 245h0M57.7 241.2h0M72.6 245.8h0M71.4 286.2h0M64.5 271.6h0M59.1 243.5h0M65.1 242.8h0M68.8 280.7h0M64.7 253.6h0M65.3 277.8h0M62.1 254.5h0M66.7 288.2h0M69.9 262.4h0M70.4 282h0M58.5 260.9h0M70.8 231.3h0M66.9 252.3h0M60.9 283.6h0M71.1 262.9h0M58.6 279.2h0M57.1 254h0M69.1 267.5h0M73.4 272.4h0M60.5 281.8h0M64.3 289.8h0M61.1 263.9h0M66.4 260.2h0M71.1 255.8h0M71.5 278.8h0M67.5 277.9h0M67.9 259h0M60.9 254.9h0M62.5 247.4h0M55.3 249.3h0M57.6 282h0M58.4 283.5h0M66.5 268.9h0M66.5 282.3h0M55 271.5h0M59.3 274.8h0M68.1 286.9h0M70.9 268.4h0M67.7 271.4h0M64.8 296.6h0M55 295.3h0M63.7 275.3h0M73.8 270.1h0M57.5 234.8h0M59 268.2h0M70.1 259.8h0M69.7 267.7h0M70.2 256.9h0M62.8 294.8h0M54.9 256.8h0M69.6 277.4h0M72.2 238.1h0M65 265.9h0M62 297.1h0M57.2 264.8h0M59.9 246.9h0M64.6 278.1h0M69.4 286.2h0M56.4 240.7h0M63.6 275.5h0M54.8 245.9h0M65 283.4h0M64.1 275.1h0M63.8 284.6h0M59.3 290.7h0M57.1 281.2h0M71.5 283.6h0M72.7 267h0M65.1 261.3h0M72.9 289.9h0M62.1 261.2h0M61.8 287.2h0M61.5 268.5h0M56 237h0M61 274.5h0M62.6 281.4h0M68.1 237.5h0M60.3 295.2h0M61.9 262.4h0M69.1 268.2h0M64 281.1h0M66.3 273.8h0M62.6 268.9h0M58.1 292.2h0M62.2 250.2h0M65.1 279.9h0M71.1 234.4h0M61.7 282.2h0M56.9 279.8h0M54.9 266h0M73.4 266.2h0M66.5 273.4h0M70.5 288.2h0M70.1 252h0M65.3 264.8h0M58.4 268.3h0M63.8 263.2h0M56.1 257.2h0M65.2 269.6h0M72.4 262.3h0M62.6 274.2h0M63.8 267.1h0M59.6 285h0" stroke="#000" stroke-width="0.96" stroke-linecap="round" fill="none"/>
<line x1="54.5" y1="319.7" x2="73.7" y2="319.7" stroke="#000" stroke-width="1.5" stroke-opacity="0.86"/>
<line x1="87.5" y1="243.98" x2="87.5" y2="319.5" stroke="#c6c6c6" stroke-width="0.8"/>
<path d="M94.7 278.9h0M96.5 286.1h0M94.2 288h0M85.9 291.2h0M89.1 283.1h0M93.1 298.2h0M86.8 291.3h0M92.4 280.6h0M92.4 278.7h0M89.8 285.4h0M81.9 293.4h0M84.8 280.7h0M94.5 290.3h0M84.7 285.8h0M88.6 292h0M81.2 271.6h0M87.7 274h0M95.5 291.1h0M90.8 293.5h0M94.9 285.3h0M93.8 280.3h0M86 275.7h0M80.6 285.3h0M93.9 294h0M95.9 282.8h0M90.7 283h0M83.3 296.6h0M92.5 286.8h0M87.1 287.1h0M80.6 292.1h0M85.1 283.3h0M91.5 277.2h0M88.6 277.5h0M88.4 291.5h0M81.9 289.2h0M87 279.9h0M81.8 287.4h0M89.5 287.5h0M87.9 268.8h0M78.7 303.7h0M87.4 289.7h0M81.5 291.1h0M92.3 285.3h0M95.7 272.4h0M89.8 286h0M90 287h0M80.9 283.8h0M81.9 287.2h0M79.7 282.2h0M94.5 266.3h0M96.5 290h0M95.7 286.4h0M90.4 285.5h0M90.9 300.4h0M89.8 280.5h0M95.5 285.4h0M93.3 299.3h0M87.7 286.9h0M87.3 283.7h0M92.9 291.5h0M81.7 277h0M89.8 289.3h0M85.1 295.9h0M90.7 279.1h0M85.2 285.9h0M82.5 283.9h0M93.8 296.8h0M88.1 295.1h0M91.4 292.4h0M89 286.1h0M94.5 285.9h0M92.5 274.8h0M96.6 273.7h0M91.3 284h0M93.4 285.6h0M94.8 271h0M90.7 284.5h0M96.7 277.5h0M80.4 288.5h0M80.6 285.7h0M87.4 287h0M92.2 290h0M90.4 282.2h0M95.6 291h0M90.3 285.7h0M84.7 281.9h0M82.7 269.5h0M96.9 298.9h0M90.3 284.4h0M77.9 280.1h0M84.2 287.5h0M86.9 278.6h0M86 281.1h0M96.7 281.4h0M83.5 288h0M83.4 286.5h0M77.9 286.6h0M91.7 292.2h0M86.1 283.6h0M79.1 292.7h0M89.9 291.8h0M81.9 295.1h0M81.2 276.9h0M93.5 289.1h0M78 291.4h0M96.3 279.1h0M94.9 288h0M82.3 282.5h0M82.4 286.3h0M87.1 282.3h0M78.9 283.6h0M93.6 300.8h0M87.9 274.2h0M94.1 277.6h0M93.8 295.6h0M90 278.4h0M91.9 286.6h0M97.1 284.1h0M83.5 275.5h0M82.8 277.7h0M87.3 277.8h0M81.2 270.2h0M90.6 277h0M95.8 289.3h0M89.9 294.3h0M84.3 278.8h0M89.4 297.5h0M89.9 287.5h0M78.4 287.6h0M92.1 290.1h0M83.1 275h0M83.6 282.6h0M79.6 286.6h0M93.1 278.4h0M92.5 287.9h0M82 276.2h0M85.8 270h0M92.1 285.9h0M87.1 286.1h0M90.3 276.5h0M86.4 299.3h0M93.3 294.1h0M93.1 292.5h0M92 296.8h0M80.2 285h0M87.4 282.8h0M89.2 285.2h0M79.2 285.2h0M89.9 278.3h0M93.4 277.1h0M89.4 275.9h0M96.1 286h0M82.9 284.8h0M92.3 274.2h0M92.1 282h0M92.5 275.3h0M86.8 288.4h0M89.5 285.3h0M93.8 289.6h0M97.1 285.1h0M85 281.8h0M83.9 288.2h0M81.3 270.6h0M83 295.8h0M83.1 278.6h0M84.9 292.9h0M83.5 282.8h0M80.8 290.6h0M89.3 284.4h0M89.4 284.4h0M84.1 290.8h0M91.4 293.9h0M83.3 290.2h0M86.8 284.8h0M80 279h0M79.1 273.2h0M89 297.5h0M93.5 281.6h0M96.8 288.4h0M79.7 284.9h0M78.4 282.6h0M85.8 279.2h0M90.9 282h0M95.5 285.1h0M85.9 273.6h0M88.3 282.9h0M78.1 285h0M82.4 276.7h0M95.4 293.3h0M83.4 291.8h0M95 274.4h0M81.7 286.4h0M82 298h0M84.6 279.2h0M85.2 276.2h0M86.3 290.6h0M87 294.5h0M89.8 285.4h0M83.6 282.4h0M88.4 289.4h0M88.6 291.7h0M92.3 281.2h0M96.9 281.1h0M88.3 296.6h0M94.3 293.2h0M94.7 287.4h0M88.8 289.6h0M96.4 283.5h0M79.7 281.3h0M83.6 271.5h0M92.3 282.4h0M79.7 278.3h0M81 296.4h0M79.3 290.1h0M94.9 277.4h0M85.8 295.6h0M82.7 275.3h0M94.4 281.1h0M91.2 284.1h0M82.6 285.9h0M81.8 293.5h0M91.9 292.9h0M96.6 288.9h0M82 288.2h0M77.9 276.1h0M95.7 292.5h0M90.7 289.6h0M80.7 297.7h0M81.4 283.9h0M83.3 285.1h0M81.5 277.1h0M93.5 271.1h0M96.8 281.2h0M86.1 291.3h0M82.5 283.5h0M83.4 283h0M95.6 285.5h0M90.8 293h0M95.6 282.6h0M92.5 293.9h0M82.9 285.7h0M82.3 287.3h0M93.2 303.9h0M95.1 280.7h0M79.6 269.6h0M82.9 287.8h0M84.1 289.6h0M91.4 278.4h0M82.1 294.6h0M87.1 285h0M87.5 283.4h0M94.8 289.2h0M78.3 285.6h0M87.4 291.3h0M87.6 289.3h0M85.4 280.3h0M79.5 291.4h0M85.6 289.3h0M91.8 290.2h0M96.9 281.4h0M96.4 287.8h0M95.5 291.3h0M94.9 282.7h0M79.1 299.7h0M95.4 298.9h0M82.6 283h0M94.1 271.6h0M92.2 288.7h0M93.9 282.7h0M87.2 295.2h0M86 284.2h0M89.4 283.7h0M94.5 280.9h0M90.4 290.5h0M87.1 271.1h0M81.4 292.1h0M88.4 274.1h0M96.9 292.9h0M82.4 279.4h0M92.8 275.4h0M93.4 269.3h0M96.4 285.9h0M93.4 297.1h0M90 278.9h0M87.4 290.2h0M86.2 292.9h0M89.9 289.3h0M82.2 291.7h0M84.2 279.5h0M94.8 283.7h0M79.5 280.1h0M95.8 278.8h0M91.8 287.9h0M78.4 279.9h0M87.4 276.2h0M86.5 271.5h0M90.1 283.8h0M85.9 286.9h0M96.8 291.8h0M86.7 287.9h0M78.4 260.1h0M83.4 266h0M83 284.5h0M79.9 296.9h0M79 280.5h0M94.2 268.9h0M78.9 261.7h0M79.4 278.8h0M79.3 276.4h0M90.3 294.6h0M86.7 277.4h0M85.6 270.1h0M92.8 279h0M87.1 272.9h0M86.1 284h0M91.7 283.1h0M84.3 268.1h0M82.6 291.3h0M94.6 271.4h0M78.3 256.5h0M90.1 278.9h0M78.7 277.9h0M80.2 282.2h0M82.3 288.2h0M82.5 279.1h0M89.3 287.9h0M89.6 274.6h0M96 278.7h0M93 286.2h0M78.3 271.4h0M85.7 259.1h0M92.4 261.8h0M96.9 275.4h0M86.2 272.2h0M79 285.2h0M80.3 275.1h0M92.4 263.6h0M92.8 262.3h0M88.8 254.9h0M90.4 291.2h0M93.5 252.2h0M88 267.2h0M83 252.4h0M90.1 272h0M80 256.5h0M91.6 272.4h0M85.8 285.5h0M86 268h0M89.8 278.5h0M91.6 272.6h0M85.1 265.5h0M95.2 262.3h0M96.2 263.8h0M96.4 259.8h0M95.8 291.8h0M87.8 257.4h0M82.8 282.6h0M94.4 270.9h0M88.3 277.3h0M83.6 286.7h0M87.7 260.9h0M86 285h0M86.9 279.1h0M96.3 253.6h0M87.5 300.7h0M84.8 293.5h0M92.3 260h0M94.4 277.3h0M91.4 262.1h0M79.3 272.3h0M84.3 278.2h0M95.7 263.2h0M89.2 281h0M79.5 279.1h0M91.4 269.1h0M91.4 286h0M82.8 290.3h0M91.7 293.1h0M82.2 260.2h0M96.4 247.6h0M90.2 257.1h0M80.8 280.2h0M88.5 278.6h0M94.4 284.7h0M81 272.1h0M94.6 258.9h0M94.9 273h0M80 272.3h0M94.3 268.2h0M78.3 287.3h0M89.8 275.2h0M89 267.4h0M96.3 270.5h0M89.4 262.6h0M86.6 252.5h0M81.5 300.9h0M91.7 291.7h0M94.6 250.9h0M84.4 265.7h0M96.3 281h0" stroke="#000" stroke-width="0.96" stroke-linecap="round" fill="none"/>
<line x1="77.9" y1="319.7" x2="97.1" y2="319.7" stroke="#000" stroke-width="1.5" stroke-opacity="0.86"/>
<line x1="110.8" y1="229.9" x2="110.8" y2="319.5" stroke="#c6c6c6" stroke-width="0.8"/>
<path d="M118.9 280.1h0M108.8 276.5h0M103.6 294.1h0M106.9 298.5h0M104.3 279.4h0M119.2 280.4h0M106.1 277.1h0M108.2 283.4h0M108.8 293.6h0M101.2 273.5h0M112.7 276.4h0M107.3 281.4h0M117.6 264.9h0M108.6 280.8h0M107.2 270.3h0M105.1 283.9h0M110.1 292.3h0M119.1 305.4h0M120.2 284.7h0M110.5 273.1h0M116.8 296.8h0M105.5 276.8h0M118.2 285.1h0M112.4 275.3h0M107.5 279.7h0M115.3 291h0M111.9 278h0M109.4 283.1h0M111.9 275.4h0M120.4 266.8h0M107.3 284.4h0M105.6 269.2h0M113.1 283.5h0M113.1 277.7h0M105.5 281.2h0M107.8 288.3h0M108.9 281.7h0M106.7 286.4h0M101.1 278.1h0M101.7 291.4h0M106.9 290.6h0M119 275.5h0M112.2 278.3h0M118.8 278h0M111 278h0M112.3 274.1h0M108.9 278.8h0M115.4 275.1h0M113.7 289.1h0M102.4 278.4h0M108 288.8h0M111.4 292.9h0M110.8 284.5h0M102 277.3h0M107.1 282.5h0M115 268h0M109.4 277.1h0M116.5 279.1h0M106.2 281.7h0M114.4 293.7h0M102 282.2h0M116.1 282.4h0M111.9 268.3h0M120.2 289.1h0M112.4 283.7h0M111.8 288.6h0M104.1 281.4h0M118.4 296.9h0M104.4 280.2h0M109.1 282.5h0M119.6 281.1h0M103.2 261h0M117.7 283.3h0M114.4 278.6h0M103.6 282.8h0M114.1 273.7h0M112.9 264.2h0M119.6 268.7h0M118.9 279.9h0M103.9 293.1h0M120.3 279.1h0M103.9 296.3h0M116.7 289.9h0M109.4 287.5h0M118.4 291.8h0M109.9 282.6h0M102 285.7h0M118.7 288.8h0M107.5 279.6h0M114.9 288.7h0M118.2 272.1h0M107.9 277.4h0M114.7 286.3h0M107.8 279h0M117.3 288.3h0M120.2 287.9h0M105.4 274.2h0M116.9 295.9h0M119.6 278.9h0M108.5 266.8h0M103.4 301.1h0M112.5 262.9h0M114.6 298.7h0M106.9 301.3h0M101.2 300.2h0M112.6 292.4h0M104.5 287.7h0M108.5 298.6h0M115.5 284.4h0M103.7 276.1h0M111.2 289.2h0M105.1 281.8h0M113.8 277.7h0M109.6 268.4h0M113.5 283.6h0M106.2 276.8h0M114 278.6h0M103.5 282.4h0M112.7 285.7h0M101.8 279.8h0M114.5 277.1h0M117.6 293.8h0M112.5 285.9h0M110.4 280h0M119 280.4h0M115.6 280.1h0M118.7 269.2h0M113.6 274.1h0M118.3 293.3h0M119.9 269.6h0M108.3 288.7h0M119.6 289.8h0M118.4 273.8h0M106.4 285.6h0M104.7 297h0M110.8 277.7h0M117.7 279.1h0M102.3 278.4h0M114.9 294.6h0M109.7 276.2h0M117.1 288.1h0M101.6 275.4h0M113.9 293.3h0M106.8 290.9h0M113.8 299.3h0M102.6 289.4h0M120.3 274h0M119.2 280.9h0M108.5 287.7h0M109.9 271.5h0M119.2 281.2h0M115.5 276.5h0M110.7 280.1h0M103.3 283.8h0M106.4 281.8h0M113.5 279.3h0M118.1 273.5h0M104.7 277.9h0M113.8 275.5h0M108.8 292.2h0M117.7 298.7h0M102.9 280.3h0M101.8 281.7h0M115.4 279.3h0M103.2 291.4h0M117.3 281.8h0M119.1 291.9h0M114.5 282.3h0M119.1 283.6h0M113.9 284.4h0M119.2 280.4h0M119.3 287.2h0M102.3 283.2h0M102.7 277.1h0M101.8 270.3h0M114.7 279.6h0M120.3 276.2h0M117.8 278.1h0M104.2 269h0M120.2 265.5h0M118 288.3h0M103.5 277.2h0M105.8 280.5h0M103.1 269.7h0M115.9 303.5h0M118.2 288.4h0M105.3 297.5h0M119.2 271.4h0M108.9 280.6h0M115.5 277.4h0M114.2 279.5h0M107.1 280.6h0M118.5 279.5h0M106.8 286.5h0M117.9 300.1h0M107.5 280.2h0M107 283.5h0M103.8 287.7h0M109.5 288.1h0M112 272h0M108.9 289.2h0M117.2 291.8h0M119.9 277.4h0M104.3 270.7h0M113.5 293.8h0M102.5 291.3h0M118.1 291.8h0M105.1 279.8h0M109.2 278.3h0M106 271.2h0M107 283.5h0M117.7 285.1h0M107 288h0M105.8 273.6h0M117.4 288h0M110.7 290h0M115.4 284.9h0M114.4 283.3h0M102.6 279.7h0M115.1 288.3h0M101.8 268.4h0M113.9 267h0M115.3 292.4h0M113.3 281.9h0M112.2 291.5h0M116 285.4h0M118.3 293.4h0M107.5 285.4h0M115.4 280.8h0M115 281.6h0M109.9 294.3h0M118.1 299.8h0M120.3 298.5h0M109.9 272.9h0M119.5 284.6h0M109.1 282.5h0M115.5 270.9h0M102 291.4h0M116.8 279.6h0M104.7 288.7h0M118.2 281.5h0M102.3 298.8h0M112.8 286.4h0M101.2 283.7h0M110.8 282.2h0M109.8 295.1h0M119.7 285.2h0M118.9 275.7h0M113.6 283.9h0M112.5 275.9h0M118.4 277.6h0M111.7 281.1h0M109.9 286.2h0M102.4 282.5h0M117.8 290.9h0M110.2 277.5h0M105.6 280.4h0M104 273.1h0M108.2 264.2h0M112.4 276h0M116.9 278.3h0M109.3 281.5h0M119.4 276h0M101.2 271.5h0M109.4 285.4h0M103.6 293.7h0M106 294.5h0M102.9 274.7h0M118.6 279.2h0M106.3 278.6h0M111.1 297.2h0M104.8 287.8h0M106.9 296.1h0M118.2 292.7h0M107.1 287.9h0M105.2 288.8h0M105.3 269.8h0M119.2 293.7h0M113 288.3h0M115.6 289.4h0M104.6 282.5h0M109 277h0M105.1 289.8h0M116.1 297.1h0M101.4 286.7h0M111.3 279.8h0M101.7 292.2h0M106.1 275h0M108.2 291.6h0M114.5 288.5h0M116.5 286.9h0M113.2 267.1h0M113 276.5h0M114.1 280.1h0M110.8 291.6h0M111.5 292.5h0M115.5 289h0M108.9 269.7h0M102.4 272.2h0M115.7 281.9h0M113.5 289h0M111.5 297.9h0M101.6 286.9h0M116.2 278.7h0M112.7 278.4h0M119 279.8h0M105.7 289h0M116.2 278.8h0M107.1 284.5h0M112.3 275.8h0M105.7 281h0M109.8 276.6h0M106.5 280.3h0M112.8 287.1h0M110.5 273.2h0M113.8 291.8h0M107.5 277.5h0M115.7 286.8h0M102.4 286.2h0M111.9 280.8h0M105.1 287.5h0M105.2 291.6h0M114.2 290.9h0M106.4 292.5h0M107.4 282.9h0M110.5 280.5h0M105.7 283.8h0M109.4 296.1h0M115 282h0M105.1 275.2h0M107.2 292.6h0M117.5 290.6h0M116.5 275.5h0M107.1 284.5h0M115.3 274.1h0M114.6 285.9h0M114.1 295.1h0M116.8 283.4h0M103.1 283.5h0M105 280.6h0M120.1 290.2h0M109.9 286.9h0M102.5 266.1h0M114.2 287.7h0M101.9 269.9h0M102.9 292.5h0M112.8 281.2h0M110.8 280h0M102.5 275.8h0M120.1 283.1h0M105 288.5h0M113.2 282.2h0M101.5 295.4h0M109.7 303.9h0M119.4 296h0M106.7 270h0M102.2 276.1h0M106.8 267.7h0M113.5 279h0M106.6 295.3h0M102 291.4h0M108.5 280.5h0M111.8 290h0M105.1 291h0M103.3 292.1h0M103.8 289.4h0M114.9 299h0M108.6 279.6h0M104.9 289.1h0M105.4 272.6h0M104.1 269.3h0M105.8 283.7h0M112.9 274.4h0M119.1 274h0M110.9 281.4h0M102.5 284.6h0M115.4 272.5h0M112.5 277.6h0M104.3 284.6h0M102.8 287.3h0M101.3 283.1h0M120.1 275.3h0M120.5 277.4h0M112.7 288h0M103.6 284.4h0M119.4 281.7h0M108.2 286.5h0M113.1 283.8h0M108.8 291.2h0M116.4 289.8h0M103.9 280.7h0M114.2 281.1h0M114.6 285.6h0M119.4 265.2h0M111.5 284.5h0M108.8 277.3h0M108.8 280.8h0M118.1 287h0M109.2 277.4h0M112.1 274h0M102.7 283h0M119.7 278.9h0M106.9 259.6h0M117 290.4h0M115.1 284.7h0M101.7 278.3h0M117.7 283h0M101.7 289.8h0M109.5 287h0M106.5 284.9h0M110.8 285.3h0M108.4 282.6h0M119.7 270h0M113.7 281.2h0M120.4 286.1h0M118.3 277.3h0M113.2 277.7h0M115.2 291.8h0M110.8 288h0M115.4 292h0M102 280.3h0M112.5 275.9h0M108.1 284.8h0M110.4 272.8h0M107 287.7h0M109.8 285.6h0M118.9 283.6h0M119.6 281.5h0M103.9 269.4h0M106.6 292.1h0M120 278.4h0M103.4 282.3h0M104 273.3h0M109.4 293.9h0M111.9 292.5h0M108.3 269h0M106.3 272.6h0M105.5 274.1h0M103.4 284h0M103.9 274.3h0M114.2 282.9h0M110.3 291.9h0M119.5 284.1h0M116.6 285.1h0M103.8 291.5h0M101.3 287.7h0M113.3 288.7h0M120.1 278.7h0M104.3 275h0M110.4 273.8h0M103.5 255.4h0M113.7 276.5h0M115.8 287.3h0M116.1 252.4h0M116.7 268.4h0M101.6 263.3h0M106.5 252.1h0M102.9 294.7h0M109.6 276.7h0M104.2 265.6h0M109.5 248.8h0M104.1 269.4h0M102.1 267.1h0M102.3 268.7h0M113.9 268.8h0M118 266.1h0M110.7 276.2h0M117.9 278.1h0M119.8 273.5h0M115.1 259.5h0M115.3 251.9h0M109.8 266.4h0M102.6 272h0M115.8 251.1h0M119.5 260.4h0M112.5 257.9h0M106.1 269.9h0M116.2 274h0M111.8 261.4h0M104 270.4h0M115.7 251.9h0M111.7 280.4h0M115.7 263.6h0M115.8 267.9h0M110.6 282.3h0M115.8 273.1h0M107.5 282.7h0M115.6 273.1h0M103.7 271.9h0M104.2 231.4h0M115.6 282.6h0M119.8 259.2h0M102.4 274.5h0M119.8 263.1h0M103 272.8h0M118.6 279.3h0M111.6 248.3h0M109 252.6h0M110.1 292.3h0M114.1 270.2h0M102.7 273.1h0M119.1 290.3h0M108.8 265.8h0M108 261.1h0M110.2 267.5h0M111.9 261.8h0M101.6 243.6h0M106.5 274.4h0M114.9 250.8h0M106.4 237.8h0M119 271.3h0M116.5 249.3h0M104.3 263.4h0M105.7 276.6h0M111.1 248.3h0M108.6 255.8h0M114.3 290.4h0M110.8 256.6h0M107.8 270.6h0M113.4 265.2h0M111.4 284.4h0M105.5 260.5h0M114.9 265.8h0M109.3 281.1h0M115.3 272.7h0M112.9 248.2h0M114.1 246.7h0M116.6 288.7h0M104.6 261h0M106.5 272.1h0M102.1 275.1h0M112.3 264.5h0M109.2 246.9h0M104.6 260.3h0M111.5 281.3h0M117.5 267.2h0M113.2 261.7h0M114.7 252.5h0M104.4 268.9h0M109 266h0M109.3 264.6h0M110.3 258.9h0M117.4 294h0M112.7 248.6h0M109.6 263.4h0M119 267.7h0M118.1 283h0M106.7 264.2h0M107.7 240.4h0M103.9 276.1h0M112.9 290.5h0M107.9 261.8h0M104.7 267.5h0M117.5 268.5h0M116.3 289h0M106.4 262h0M101.3 259h0M112.2 265.6h0M120 257.2h0M119.3 280.4h0M116.7 297.5h0M111.4 266.6h0M117.3 238h0M117.8 262.8h0M104.3 236.5h0M119.9 263.1h0M120 270.9h0M118.6 278.7h0M120.1 248.1h0M110.9 286.4h0M119.8 276.4h0M108.4 273.7h0M117.2 263.7h0M103 267.2h0M113.1 288.5h0M114.7 284.2h0M119.2 243.9h0M118.4 266.6h0M106.2 267.8h0M114.1 272.7h0M105.1 263.9h0M111.6 278.3h0M112 252.3h0M106.6 255.9h0M109.1 267.9h0M117.3 255h0M108.1 270.1h0M102.8 273.7h0M118.2 254h0M107.8 269.1h0M116.5 279.1h0M112.8 245.6h0M103.8 270.4h0M104.2 261.5h0M114.6 246.7h0M108 285.5h0M119.7 272.1h0M114.7 254.2h0M101.5 271.9h0M104.3 274h0M116.2 269.8h0M113.1 272h0M106.1 272.1h0M108 262.1h0M103.9 266.5h0M107.7 243.7h0M104.2 263.2h0M112.1 244.4h0M102.1 265.8h0M103.8 243.4h0M105.9 269.5h0M114.3 250.6h0M106.8 265.4h0M101.3 245.1h0M102 278.6h0M112 274.1h0M102.6 262.2h0M118.6 281h0M105 247.2h0M110.1 270.1h0" stroke="#000" stroke-width="0.96" stroke-linecap="round" fill="none"/>
<line x1="101.2" y1="319.7" x2="120.4" y2="319.7" stroke="#000" stroke-width="1.5" stroke-opacity="0.86"/>
<line x1="27" y1="219.5" x2="27" y2="325.1" stroke="#000" stroke-width="1.2"/>
<line x1="26.4" y1="324.5" x2="121.8" y2="324.5" stroke="#000" stroke-width="1.2"/>
<line x1="24.2" y1="319.5" x2="27" y2="319.5" stroke="#000" stroke-width="0.9"/>
<text x="21" y="321.3" font-size="5.8" text-anchor="end" fill="#000" stroke="#000" stroke-width="0.05">0</text>
<line x1="24.2" y1="293.9" x2="27" y2="293.9" stroke="#000" stroke-width="0.9"/>
<text x="21" y="295.7" font-size="5.8" text-anchor="end" fill="#000" stroke="#000" stroke-width="0.05">1</text>
<line x1="24.2" y1="268.3" x2="27" y2="268.3" stroke="#000" stroke-width="0.9"/>
<text x="21" y="270.1" font-size="5.8" text-anchor="end" fill="#000" stroke="#000" stroke-width="0.05">2</text>
<line x1="24.2" y1="242.7" x2="27" y2="242.7" stroke="#000" stroke-width="0.9"/>
<text x="21" y="244.5" font-size="5.8" text-anchor="end" fill="#000" stroke="#000" stroke-width="0.05">3</text>
<line x1="41" y1="324.5" x2="41" y2="327.3" stroke="#000" stroke-width="0.9"/>
<text x="44.6" y="333.7" font-size="6.2" text-anchor="end" fill="#000" stroke="#000" stroke-width="0.13" transform="rotate(-45 44.6 333.7)">L+Ado</text>
<line x1="64.1" y1="324.5" x2="64.1" y2="327.3" stroke="#000" stroke-width="0.9"/>
<text x="67.7" y="333.7" font-size="6.2" text-anchor="end" fill="#000" stroke="#000" stroke-width="0.13" transform="rotate(-45 67.7 333.7)">L+PGE2</text>
<line x1="87.5" y1="324.5" x2="87.5" y2="327.3" stroke="#000" stroke-width="0.9"/>
<text x="91.1" y="333.7" font-size="6.2" text-anchor="end" fill="#000" stroke="#000" stroke-width="0.13" transform="rotate(-45 91.1 333.7)">LPS</text>
<line x1="110.8" y1="324.5" x2="110.8" y2="327.3" stroke="#000" stroke-width="0.9"/>
<text x="114.4" y="333.7" font-size="6.2" text-anchor="end" fill="#000" stroke="#000" stroke-width="0.13" transform="rotate(-45 114.4 333.7)">Unstimulated</text>
<text x="76" y="215" font-size="7.6" text-anchor="middle" fill="#000" stroke="#000" stroke-width="0.22">CD300E</text>
<text x="12.2" y="272" font-size="7.3" text-anchor="middle" fill="#000" stroke="#000" stroke-width="0.16" transform="rotate(-90 12.2 272)" textLength="40" lengthAdjust="spacingAndGlyphs">Expression level</text>
<polygon points="155.6,320 155.6,319 156.6,316.8 158.1,313.7 159.45,311.5 159.45,306.2 159.45,300.9 158.6,295.6 158.1,290.3 156.8,285 155.1,278.5 153.6,273.2 152.1,267.9 150.6,262.6 149.3,257.3 149.3,252 149.6,249.8 151.1,244.5 153.6,239.2 156.6,233.9 158.4,228.6 158.8,223.8 160.4,223.8 160.8,228.6 162.6,233.9 165.6,239.2 168.1,244.5 169.6,249.8 169.9,252 169.9,257.3 168.6,262.6 167.1,267.9 165.6,273.2 164.1,278.5 162.4,285 161.1,290.3 160.6,295.6 159.75,300.9 159.75,306.2 159.75,311.5 161.1,313.7 162.6,316.8 163.6,319 163.6,320" fill="#EC736B" stroke="#222" stroke-width="0.3" stroke-opacity="0.55"/>
<line x1="159.6" y1="299.02" x2="159.6" y2="312.04" stroke="#c6c6c6" stroke-width="1"/>
<path d="M161.2 246.4h0M158.5 262h0M165.4 270.4h0M160.2 264.2h0M151.8 249.2h0M158.5 252.7h0M162.4 269.2h0M167.9 266.8h0M156.1 245.1h0M162.7 240.9h0M156.6 249.7h0M159.1 264h0M167.7 257h0M160 287.2h0M156.3 259.2h0M158.1 256h0M158.7 249.2h0M161.1 249.7h0M168.4 266.4h0M166.9 250.6h0M152.3 242h0M161 268.3h0M168.5 250.4h0M164.5 232.3h0M150.5 285.4h0M152 273.7h0M162.2 302.8h0M167.5 266.7h0M165.9 251.8h0M164.6 274.5h0M164.7 274.7h0M158.4 253.9h0M158 260.5h0M156.7 251.9h0M168.5 264.4h0M155.6 261.2h0M152 242.6h0M162.1 234.6h0M168.2 257.5h0M159.7 257.5h0M161 261.8h0M161.6 253.4h0M162.9 266.1h0M153.8 264.2h0M150.8 257h0M158.9 257.5h0M152.6 257.6h0M161.2 267.8h0M165.2 247.3h0M160.8 284.4h0M152.8 275.7h0M154.1 273h0M154.9 246.6h0M166.8 250.4h0M163.1 244h0M152.6 257h0M151.2 249.9h0M165.7 255.1h0M160.9 259.9h0M152.7 260.1h0M158.3 278.8h0M153.1 254h0M164 248.4h0M164.1 258.5h0M168.1 256.6h0M162 262h0M156.5 242.4h0M160.3 231.1h0M164.8 279.4h0M168.3 261.1h0M158.1 240.1h0M167.8 231.9h0M161.5 264.1h0M155.8 277.1h0M163 241.2h0M169.1 283.7h0M167 273h0M166.7 257h0M163.7 237.8h0M163.3 251h0M156.5 276.1h0M162.4 276.5h0M161.5 243.2h0M158.3 257.7h0M168.9 280.1h0M153.1 253h0M154.3 259.6h0M163.4 242.2h0M150.4 257.2h0M161.4 237.3h0M152.6 279.6h0M157.8 256h0M167.1 238.9h0M159 247.5h0M156.2 272h0M159.9 282.5h0M158.3 284.2h0M158 268h0M150.9 237.1h0M165.8 266.1h0M153.1 257h0M164.2 260.3h0M157.2 248h0M154.4 229.8h0M154.2 268.9h0M155.6 257.2h0M151.5 263.4h0M164.3 267.4h0M166.6 245.8h0M157.2 261.4h0M157.3 284.9h0M157.3 255.4h0M163 260.2h0M167.8 251h0M169.1 261.3h0M165 279.1h0M165.4 251.3h0M155.6 256.1h0M156.7 253.5h0M157.6 277.2h0M165 243.1h0M167.6 249.3h0M159.8 259.5h0M154.3 250.8h0M157.8 243.5h0M167.2 252.1h0M163.5 249.9h0M153.4 265.1h0M164.2 282.6h0M151.1 245.8h0M150.7 234.1h0M155.9 261.6h0M167.5 239.6h0M164.4 258h0M162.8 247.5h0M150.8 250.8h0M163.7 267.7h0M162.6 262.8h0M163.7 284.5h0M154.6 269.8h0M164.9 259.5h0M156 249.1h0M154.3 259.2h0M163.5 268.8h0M150.6 238.6h0M165.3 288.1h0M168.7 284h0M154.7 256.4h0M161.6 258.8h0M154.2 231.3h0M164.9 231.4h0M162.5 247.9h0M161.5 264.7h0M162 242.4h0M165.9 290.4h0M157.6 283.1h0M155.6 264.7h0M160 248.4h0M153 294.2h0M164.9 248.1h0M154.6 257.6h0M161.6 285.5h0M167.2 251.5h0M166.9 252.2h0M166.8 291.4h0M150.1 268h0M166.6 250.1h0M162.2 242.8h0M154.3 239.6h0M158.1 246.9h0M169 256.1h0M168.9 268.2h0M160.3 242.1h0M165.9 253.4h0M152 295.2h0M159.4 228.8h0M151 281.3h0M153.5 257.4h0M153.8 267.6h0M151.7 246.5h0M166 262.2h0M151.8 253.9h0M162 244h0M152.9 264.1h0M164.3 251.6h0M154.3 243h0M153.3 259.7h0M161.8 258.9h0M161.3 241.4h0M161.2 237.1h0M165 287.7h0M164 240.8h0M166.2 250.2h0M161.2 259.6h0M150.4 260.6h0M157.4 285.6h0M156.8 264.4h0M159.8 246.6h0M165 245h0M162 254.1h0M164.5 239.1h0M152.1 294h0M167.5 277.7h0M156.6 276h0M161.1 233h0M168.2 275.9h0M165.4 244.5h0M162.9 246.3h0M168.3 287.6h0M159.9 252.3h0M158.7 266h0M161.2 248.6h0M161.1 248.9h0M157.9 274.4h0M165.5 284.2h0M158.2 256.2h0M165.4 263.3h0M158.9 223h0M157.9 225h0M169 272.4h0M156.8 239.9h0M154.5 284.4h0M158.3 279.2h0M157.4 273.2h0M156.1 283.7h0M156.5 267.9h0M161.9 251.4h0M164.7 235.6h0M165.6 270h0M159.9 229h0M161.1 287.6h0M161 249.8h0M164.2 254.3h0M164.2 246.7h0M154.9 272.3h0M167.2 286.7h0M158.2 286.4h0M163.8 264h0M163.8 257.4h0M165.2 276.1h0M163.6 259.4h0M168.2 279.1h0M160.1 263.1h0M167.5 276.6h0M159.7 274.5h0M155.4 254.2h0M166.1 243.1h0M168.1 256.8h0M152 237.8h0M168.1 256.4h0M156.5 257h0M155 281.1h0M152 263h0M166.6 258.2h0M159.3 256.2h0M156.7 281.9h0M155.9 229.4h0M168 276.1h0M154.6 257.5h0M163.9 257.4h0M161.1 248.5h0M158.9 257h0M153 240h0M156.1 277.6h0M161.6 264.4h0M158.5 289h0M166.7 270.3h0M154.4 249.7h0M155.6 243.6h0M157.6 288.3h0M157.7 267.9h0M167.3 253.6h0M154 280.2h0M152.3 249.3h0M160.9 247.4h0M153.5 245.8h0M165.4 261.4h0M163.3 282h0M155.1 252.2h0M164.5 244.2h0M168.5 281.5h0M151.4 278.2h0M161.9 252.9h0M152 256.5h0M165.4 246.9h0M158.5 254.8h0M160.4 259.8h0M156.3 258.4h0M162.2 282.3h0M150.9 248.8h0M151.5 284.6h0M158 265.6h0M159.1 292.7h0M150.6 285.7h0M157.4 280.7h0M150.4 241.6h0M168.8 291.8h0M158.2 277.9h0M164.6 248.7h0M152.9 238.8h0M155 254.8h0M163.4 271.6h0M157.4 249.3h0M160.3 245.6h0M166.7 247.1h0M160.6 253.9h0M167.5 251.4h0M155.7 297.6h0M162.4 249.4h0M152.8 244.8h0M152.5 254.7h0M158 282.8h0M163.6 245.5h0M159.7 247.6h0M152.5 247.4h0M161.9 262.1h0M168.8 247.2h0M167.9 266.6h0M152.4 265.7h0M156.1 245.1h0M156.2 253h0M157.4 295.8h0M163.5 248.1h0M166.6 243.5h0M152.9 275.5h0M163.9 280.6h0M168.5 254.3h0M168.2 251.1h0M160.4 278.8h0M153.4 239h0M163.8 261.7h0M166 249.8h0M153.2 285.4h0M155.2 260.4h0M167 253.4h0M161.9 258.4h0M151.6 257.5h0M168 284.3h0M159.1 237.6h0M163 262.6h0M162.8 268.9h0M153.5 249.8h0M158.2 256.7h0M157.2 250.8h0M161.4 250.6h0M165.9 244.1h0M161.8 271.5h0M159.8 243.3h0M154.8 273.5h0M161 248.3h0M169.2 258.6h0M150.1 241.2h0M161.3 250.2h0M156.4 273.6h0M152.7 252h0M156.9 270.5h0M150.5 272.2h0M150.1 289.2h0M161.4 252.1h0M156.9 287.4h0M160.4 283.7h0M167.6 248.4h0M157.8 243.4h0M157.7 241.1h0M169.2 262.4h0M159.9 283.5h0M150 264h0M150.3 252.8h0M157.8 267.2h0M154.6 283.3h0M156.1 273.2h0M161.1 263h0M162.9 241.4h0M155 282.2h0M161.1 267.2h0M165.7 236.4h0M157 279.9h0M168.8 265.9h0M158.9 260.7h0M150.6 249.6h0M162.3 246.8h0M151.1 253.7h0M155.2 263.3h0M160.6 243.7h0M157.6 254.9h0M158.3 245.3h0M165.2 243.7h0M160.4 253.8h0M167.3 234.7h0M158.8 253h0M156.5 271.9h0M154 239.7h0M158.1 241.9h0M156.5 253.6h0M157.7 292.5h0M153.7 267.1h0M164.7 259.9h0M158.8 240.8h0M155.2 233.8h0M155.3 287.6h0M165.3 261.8h0M151.6 245.4h0M157.3 258.5h0M158.8 246.8h0M163.6 248.9h0M167.3 270.9h0M152 271.3h0M160.8 266.4h0M168.2 287.5h0M150 239.2h0M150.9 257.1h0M155.1 265.7h0M163.6 250.1h0M168.7 269.9h0M161 257.9h0M161.6 261h0M162.2 236.3h0M161.2 281.4h0M150.2 284.7h0M168.2 252.4h0M152.1 253.4h0M151.3 281.5h0M164 261h0M162.5 261.7h0M162.2 276.7h0M155.1 265.6h0M162.4 261.9h0M152 279.6h0M157.7 279.8h0M163.8 282h0M150.1 285.5h0M156.2 266.6h0M156.3 246.4h0M156.7 275.6h0M168.6 234.3h0M150.1 283h0M155.3 228.5h0M169.2 250.4h0M155.9 242h0M160 245.3h0M163.8 270.5h0M166.7 257.1h0M165.1 241h0M157.2 269.2h0M163.6 244.1h0M156.1 232.2h0M163.7 243.5h0M167.3 261.4h0M165 266.3h0M164 253.7h0M163.7 240h0M164.8 245.9h0M167.5 242.6h0M155.4 255.8h0M154.4 263h0M168.9 248h0M155.2 236.3h0M156.7 266.3h0M156 252.6h0M165.5 267.3h0M163.4 249.5h0M150.1 274.5h0M156 284h0M153.6 269h0M163.7 245.7h0M156.8 242.7h0M165.5 258.9h0M164.5 262h0M166.2 277.2h0M154.1 247.9h0M154.6 271.7h0M153.3 249.2h0M151.8 279.4h0M169 297.4h0M168 237.6h0M165.9 281.3h0M159.6 263.5h0M160.3 234.3h0M154.4 251.6h0M150.5 281.9h0M156.4 276.3h0M159.8 242.7h0M154 287.9h0M166.2 286.7h0M150.9 276.6h0M153.8 262.9h0M154.6 263h0M167.4 257.6h0M166.3 229.6h0M153.3 260.6h0M158.6 299.2h0M155.2 272.4h0M167.9 258.9h0M164.7 236.5h0M150.7 282.7h0M156.8 244.1h0M150.4 264.2h0M160.4 264.1h0M155.5 259.9h0M169.1 248.8h0M164.7 260.1h0M157.2 259.9h0M164.9 266.5h0M166.9 264.3h0M168.2 260.9h0M156.7 230.3h0M157.3 270.2h0M160.7 269.5h0M156.3 246.5h0M152.5 290.7h0M167 248h0M160.6 280.1h0M155.7 242.2h0M150.2 243.3h0M168.3 280.1h0M153.1 257.3h0M158.3 277.7h0M168.8 263.9h0M152.6 269.4h0M157.8 270.6h0M156.4 280.6h0M153.6 282h0M160.5 251.4h0M167.3 255.6h0M152.9 275.4h0M156 252.8h0M167.2 270.3h0M158.6 287.5h0M150.6 260.9h0M156.5 267.1h0M167.8 253.5h0M161 274h0M168.7 268.5h0M151.1 239h0M152.4 254.7h0M166.7 254.7h0M154 276.1h0M154.4 252.1h0M158.5 240.6h0M163.2 282.4h0M150.3 249.4h0M157.3 269.4h0M155.9 261.4h0M159.9 255.7h0M166.4 250.2h0M154.6 266.8h0M150.4 272.5h0M153.5 274.3h0M166.5 259.5h0M158.6 241h0M154.2 244h0M150.5 245.2h0M164.4 253.2h0M158.2 285.3h0M164.5 244.1h0M154.9 263.8h0M161.6 248.7h0M164.7 255.3h0M164.7 269.9h0M169.2 271.1h0M150 271.7h0M162.2 288.9h0M155.7 267.6h0M167.6 245.7h0M151.6 286.4h0M155.8 249.1h0M152 254.7h0M167.7 283.2h0M166.2 256.4h0M159.9 261.5h0M159.5 263.3h0M168.2 252.3h0M161.8 252.4h0M154.3 256.9h0M154.4 251.5h0M155.9 253.2h0M151.3 258.2h0M161.3 245.6h0M154.5 292.1h0M156.9 245.7h0M157.9 289.2h0M162.3 270.8h0M161.1 252.2h0M159.1 244.2h0M164 265.1h0M161.8 275.3h0M158.3 286.9h0M168.5 254.9h0M163.1 252.5h0M151.8 240.3h0M160.7 247.2h0M154 268h0M159.2 261.3h0M157.2 274.9h0M150.5 293.3h0M156.1 258h0M165.7 225.4h0M154.8 254.6h0M153.6 256.4h0M150.7 260.4h0M157.2 257.7h0M151.4 245.8h0M168.8 267.4h0M164.8 244.1h0M159.6 256h0M165.6 252.1h0M151.2 269.8h0M153.6 251.6h0M165 242.6h0M159.1 252.6h0M150.5 281.8h0M155.7 274.8h0M168.5 295.6h0M162.2 261h0M158.4 256.5h0M154.6 246.4h0M168.9 238.3h0M158.4 278.7h0M150.5 261.3h0M165 258.1h0M164.4 257.3h0M152.8 246.1h0M161.1 269h0M156.3 252h0M155.3 241.3h0M165.6 277.6h0M150.8 265.2h0M164.7 241.1h0M156.3 252.2h0M155.3 236.9h0M166.6 280h0M160.3 265.2h0M156.1 272.6h0M167.1 264.6h0M158.3 247.4h0M152.8 269.1h0M160.4 259.9h0M152.9 292h0M154 241.4h0M165.7 250.5h0M156.4 263.3h0M164.6 259.9h0M150.8 256.9h0M160.8 271.8h0M151.1 242.4h0M152.2 279.9h0M155.5 250.3h0M150.1 248.8h0M159.1 238.1h0M150.3 255.2h0M163.7 251.6h0M150 250.4h0M156.3 272.6h0M163.7 257.9h0M160.2 249.8h0M159.8 252h0M165.6 238.3h0M166 251h0M163.4 244.2h0M152.8 247.9h0M165.8 244.4h0M156.9 252h0M168.8 236.6h0M155.9 255.3h0M167.1 278.1h0M158.1 268.3h0M167.5 264h0M165.2 275.5h0M165.6 271h0M150.5 271h0M166.4 285.5h0M156.7 261.1h0M155.6 262.3h0M156 280.5h0M167.8 242.3h0M168.5 291.1h0M150.6 284.9h0M162.8 259.4h0M165.1 273.1h0M164.9 268.8h0M149.9 257.7h0M156.5 238.5h0M161.5 260.9h0M154.3 249.7h0M150.9 257.4h0M159.9 240.8h0M150.7 257.4h0M154.7 283h0M151.9 274.2h0M162.3 267.9h0M151.5 236.4h0M167.9 263.1h0M156 242.8h0M165.1 276.6h0M154.2 276.7h0M150.3 273.9h0M163.6 253.3h0M160.3 243.7h0M169 281.3h0M154.3 241.9h0M166.6 269.2h0M154.6 247.3h0M160.1 239.6h0M153.7 265.8h0M168.3 265.8h0M161 279.1h0M158.3 271.1h0M160.3 276.8h0M166.8 266.4h0M163.4 250h0M159.2 278.2h0M163.3 262.5h0M151.9 240h0M158.1 250.9h0M156.2 234.2h0M156 252.5h0M167.6 286.9h0M160.1 249.7h0M169.2 271.7h0M155.3 260.1h0M158.8 242.9h0M166.4 256.9h0M167.5 262.2h0M162.8 285h0M156.7 258.5h0M163.7 268.3h0M165.4 270.5h0M161.7 285.3h0M164.6 251.8h0M164 278.9h0M154.1 249.8h0M154.7 246.4h0M150.9 257.4h0M168.6 274.6h0M151.1 261.2h0M164.6 260.7h0M159.6 238.5h0M167.9 239.4h0M154.9 288.8h0M168.5 270.3h0M152.5 256.1h0M152.2 264.2h0M160.1 286.3h0M153.7 268.5h0M155.9 240.8h0M158.9 270.5h0M161.6 266.5h0M160.3 260.4h0M166.4 259.1h0M150 253.2h0M166.1 237h0M151.6 273.1h0M153.3 280.9h0M151.5 258.9h0M157.4 259.8h0M163.2 284.7h0M150.4 251.8h0M155.2 230h0M153.7 247.8h0M151.9 248.3h0M162.8 261.1h0M161.6 249.7h0M151 274.2h0M156.2 233.5h0M154.3 287.4h0M158.6 251.7h0M150.8 257h0M168.3 255.2h0M165.1 238.6h0M157.5 255.9h0M159.5 245.3h0M166.2 242h0M155.9 242.7h0M168.2 248.8h0M166 275.6h0M160.2 268.7h0M150.2 257.7h0M169 249h0M155.9 262.5h0M153.1 259.2h0M156.3 247.7h0M150 248.3h0M152.6 248.9h0M159.3 276.3h0M151.5 272.8h0M157.2 258.3h0M164.2 277.3h0M163.5 265.6h0M163.4 283.3h0M166.2 247.7h0M157.4 256.4h0M160.9 279.9h0M157.3 245h0M160.9 254.7h0M159.6 276.3h0M152 252.3h0M163.2 238.5h0M157.7 254.8h0M150.4 255.6h0M167.1 242.6h0M155.3 251.1h0M151.4 263.8h0M157.1 281.5h0M155.9 254.3h0M160.3 239.3h0M164.1 247.5h0M156.9 246h0M162.3 250.7h0M168.3 277.6h0M168.6 273.8h0M157.3 255.7h0M166.7 291.2h0M163.6 270.7h0M157.7 275.4h0M155.4 294h0M156.2 287.9h0M152.6 245.3h0M153.2 266h0M150.6 281.4h0M151.6 262.4h0M160.7 267h0M151.2 266.3h0M166 245.8h0M165.5 270.3h0M167.5 258.4h0M167.1 235.5h0M162 266.2h0M152.5 276.2h0M158.6 258.4h0M163.2 251.8h0M166.5 236.4h0M165.9 252.1h0M168.6 246.2h0M151.5 237.6h0M169.1 271.6h0M157.5 262.6h0M153 263.6h0M153.9 256h0M166.2 245.4h0M163.9 240.8h0M152.9 281.2h0M163.2 255.2h0M168.8 238.5h0M161.1 267.1h0M156.2 256.3h0M155.6 271.7h0M154.4 267.3h0M159.6 268.4h0M164.3 254.8h0M165.6 252.1h0M154.8 242.6h0M166 241h0M165.3 266.2h0M156.2 286.4h0M161.3 269.1h0M157.9 254.7h0M167.4 260.2h0M150.4 236.8h0M157.5 274.8h0M160.8 233.9h0M169 246.9h0M168.4 292.6h0M161.1 258.1h0M166.1 253.3h0M156.5 275.6h0M151.9 266.4h0M157.4 252.8h0M154 264.1h0M155.8 255.5h0M160.6 267.9h0M156.3 237.9h0M159.5 266.7h0M164.1 242.2h0M166.8 245.6h0M161.1 246.9h0M166.2 268h0M163.2 282.2h0M165.5 257h0M164.6 267.6h0M165.2 261.9h0M151 256.8h0M161.9 282.9h0M155.7 270.6h0M152.5 256.7h0M166.7 278.4h0M162.6 239.8h0M161.9 267h0M168.6 248.1h0M156.2 250.5h0M150.9 256.1h0M152.4 242.4h0M164.5 255.2h0M161.7 238.6h0M153.4 271.6h0M151.6 252.9h0M162 252.4h0M159.1 241.6h0M154.2 265.1h0M158.7 253.7h0M164.1 239.7h0M153.3 283.3h0M159.9 246.7h0M168.9 235.4h0M150.1 250.4h0M169.1 265.5h0M152.7 282.7h0M159.9 281.8h0M166 255.4h0M153.4 252.3h0M166.1 234.8h0M155.9 259.1h0M159.2 274.3h0M163.7 268.9h0M166.5 270.5h0M152.3 248.4h0M151.5 249.8h0M161.4 252.9h0M154.4 259.6h0M153.3 252.7h0M160.1 285.1h0M167.5 250.3h0M166.3 240.9h0M168.1 256.5h0M162.9 227.7h0M159.6 236.2h0M153.3 255.1h0M164.7 266.6h0M161.5 262.1h0M167.2 248.4h0M159.8 254.9h0M158.3 248.8h0M164.9 239.2h0M150.2 255h0M166.8 261.2h0M163 251.9h0M154.6 257.2h0M167.1 269h0M151.6 237.9h0M168.9 233.5h0M157.1 255.9h0M158.2 255.3h0M157.2 279.3h0M150.7 271.8h0M160.1 248.7h0M154.9 274.2h0M164.1 256.7h0M151.5 264.5h0M150.8 246h0M159.2 250.3h0M167.4 278h0M153.6 244.3h0M150.3 236h0M162.8 239.2h0M163.6 262h0M168.9 256.4h0M164.6 263.3h0M167.7 252.1h0M163.6 241.4h0M161 245.5h0M166.2 289.9h0M161.6 271.1h0M163.3 265.3h0M163.9 299.4h0M163 266.5h0M167.8 240.6h0M162.1 251.7h0M155.9 267.5h0M154.9 275h0M165.7 268.5h0M167.8 276.7h0M152.4 258.1h0M168.2 245h0M159.6 260.4h0M153.2 268.3h0M165.7 272.2h0M168.8 240h0M155.8 245.5h0M169 283.6h0M161.6 270.4h0M162.6 250.6h0M158.6 239.3h0M161.5 263h0M157.5 265.7h0M153.9 239.8h0M166.5 292.3h0M160.5 248.2h0M162.2 264.7h0M151.9 252.4h0M167.1 238.4h0M159.8 245.4h0M158 261.8h0M156.5 275.7h0M167.7 282h0M155 257.8h0M167.5 252.1h0M154.9 247.4h0M153.8 231.9h0M160.3 277h0M166.6 242.7h0M167.7 253.3h0M152.8 263.1h0M163.8 267.4h0M163.6 287.1h0M155 250.3h0M168.2 251h0M150.2 255.4h0M163.9 273.6h0M163 272.1h0M157.2 284.7h0M168.5 246.8h0M151.1 264.1h0M154.7 260.9h0M161.3 235h0M163.3 245.5h0M161.9 262.3h0M169.1 239h0M157.2 267.4h0M166.5 251.2h0M160.4 232h0M163.9 286.6h0M161 288.5h0M156.1 253.1h0M154.4 257.3h0M157.6 262.9h0M149.9 275.8h0M165 247.8h0M158.6 266.3h0M152.2 261.2h0M151.4 258.7h0M169.2 252h0M157.3 257.3h0M160 244.3h0M165.4 272.2h0M165.4 258.4h0M164.3 262.4h0M150.8 266.9h0M162.7 260.4h0M164.8 255.2h0M151.7 252.4h0M155.2 251.5h0M163.7 254.6h0M158.9 258.2h0M160 272.3h0M165.8 283h0M156.9 269.6h0M152.4 285.8h0M165.6 285.1h0M150.6 276.9h0M166 282.5h0M158 253.8h0M150.3 258.5h0M165.1 267.1h0M157.6 285.4h0M157.9 238.3h0M149.9 261.4h0M168.5 256.1h0M166.4 235.1h0M156.9 265.4h0M152.5 241.7h0M167.9 264h0M159.4 239.5h0M165.7 248.9h0M151.9 280.1h0M162.3 261.6h0M156.9 250h0M155.5 245.8h0M166.1 244.2h0M151.9 279.7h0M159 264.1h0M162.1 244h0M152.2 262.1h0M168.8 242.6h0M166.5 249.4h0M169.1 264.8h0M167 275.8h0M163.7 285.8h0M158.2 282.8h0M157.5 256.5h0M151.5 252.9h0M153.5 268.6h0M151.8 261.5h0M154.1 237h0M152.9 254.7h0M159.5 255.8h0M158.5 253.8h0M150.6 249.9h0M166.6 241.4h0M151 278.1h0M159.1 269.3h0M162.6 243.8h0M167.2 285.2h0M162.7 252.2h0M168.9 269.1h0M161.4 246.2h0M160.9 284.7h0M168.6 269.2h0M162.4 267.5h0M167.4 278.1h0M151.3 267.2h0M156.4 276.4h0M157.4 250.9h0M154.1 272.5h0M161.7 262.7h0M167.7 259.5h0M161.9 283.9h0M168.2 254.8h0M161.1 260.7h0M163.5 242.6h0M165.6 248.2h0M165.2 265.3h0M157.8 244.7h0M160.3 243.6h0M157.9 274.8h0M151.6 241.5h0M164.4 286.9h0M154.6 252.9h0M164.8 280.8h0M157.2 256.1h0M154.7 248.5h0M158 258.4h0M158.2 270.8h0M153.9 269.3h0M165.1 305.3h0M158.7 245.3h0M162.8 244.1h0M159.1 260h0M156.5 248h0M161.6 236h0M167.7 260.5h0M155.1 272.8h0M164.1 282.2h0M150 250.5h0M166.7 258.8h0M163.4 266.2h0M158.9 230.5h0M154.4 264.8h0M164.6 242.4h0M154.2 259.2h0M155.7 267.7h0M154.1 253.3h0M150.6 282.8h0M157.4 253.1h0M159.5 246h0M161 248.8h0M167.8 240.8h0M152.8 242.7h0M160.9 261.1h0M158.8 262.5h0M150.6 270.1h0M161.6 273.2h0M151.6 254.8h0M164.2 246.3h0M163.6 252.7h0M164.3 254.2h0M155.6 228.8h0M167 259.6h0M150 287.1h0M166.9 243.5h0M161 249.6h0M165 262.3h0M156.2 260.6h0M159.1 261h0M152.4 271.1h0M151.6 257h0M152.1 247.7h0M156.6 236.3h0M163.9 241.9h0M160.5 244h0M152.5 253.8h0M159.1 273.2h0M167.4 247.8h0M151.6 243.7h0M166.3 241h0M161.7 261.7h0M162.8 256.6h0M167.4 260.6h0M156 241.7h0M158.7 233.5h0M163.8 243.7h0M168.4 251.9h0M163.4 280.9h0M165.7 293.5h0M153.9 284.9h0M149.9 249.9h0M165.4 262.3h0M165 228.7h0M165.9 263.3h0M163.4 226.1h0M159.9 246.2h0M160.4 269.9h0M158.7 246.6h0M150.7 253.1h0M168.3 264.1h0M158.9 249.4h0M151.8 256.7h0M154.1 251.5h0M168.8 256.7h0M160.9 237.4h0M160.9 253.9h0M157 274.4h0M157.7 273.2h0M166.6 247.7h0M162 243.6h0M154.7 250.9h0M160.8 247h0M160.8 272.5h0M149.9 250.7h0M162.3 260.4h0M157 263h0M168.2 247.4h0M155.2 239.7h0M157.6 260.4h0M164.8 240.3h0M167.6 272.4h0M167.4 244.8h0M150.8 255.3h0M168.3 248.1h0M151.8 263h0M162.5 246.2h0M152.6 240h0M164.4 280h0M158 229.3h0M164.4 241.3h0M163.4 249h0M150 236.4h0M152.9 264.7h0M152.9 251.1h0M162.6 257h0M156.3 251.8h0M168.8 260.9h0M168.2 253h0M159.4 243.6h0M165.5 270.6h0M163.2 257h0M154.7 252.2h0M153.2 258.9h0M161.9 272.5h0M157.6 260.1h0M164.9 264.1h0M162.1 246.2h0M167.8 263.2h0M151.7 247.1h0M156.7 288.1h0M165.7 260.4h0M155.1 242.9h0M151.9 275.5h0M156.6 243.9h0M152.7 262.6h0M162 262.8h0M150.9 239.5h0M152.8 269.9h0M154.1 269.3h0M167 300h0M157.2 266.5h0M163.9 259.4h0M161.7 249.7h0M154.2 244.9h0M151.6 267.1h0M151.8 283.5h0M166.2 274h0M156.6 253.6h0M159.8 249.9h0M154.4 250.9h0M150 238.9h0M160.9 237.5h0M160.6 279.2h0M162.6 248.7h0M151.5 246.1h0M166.1 270.5h0M161.9 283.6h0M156.5 262.5h0M163 258.4h0M166.2 258.6h0M151.9 284.7h0M150.7 263h0M168.7 259.8h0M164.7 258.3h0M167.4 287.5h0M164 275.1h0M152 278.5h0M168.7 234.3h0M166.9 263.1h0M152.5 253.2h0M162.6 250h0M162.4 288h0M150.2 267.7h0M157.6 284.1h0M158 248.6h0M151.8 235.2h0M154.4 249.1h0M155 246.2h0M152 251.1h0M151.2 263.2h0M157.8 245.4h0M155.5 259.3h0M151 287.4h0M151.1 254h0M167.9 255.6h0M162.2 236.6h0M152.7 249.4h0M160.9 263.5h0M153.7 257.5h0M155.3 263.7h0M156.4 249.6h0M153.1 276.2h0M161.8 276.5h0M160.7 267.3h0M159.4 269.8h0M157 274h0M155.1 260.9h0M157 247.2h0M163.1 290.9h0M155.4 254.1h0M160 237h0M158.2 248.3h0M167.6 257.2h0M168.5 260.1h0M162.3 266.8h0M150.6 256.4h0M167.1 281.8h0M156.5 278.8h0M164.7 252.1h0M159.4 270.8h0M155.2 269.9h0M155.4 251.1h0M150.1 297.4h0M159.4 255.9h0M157.3 261.5h0M152.9 240.5h0M166.4 242.7h0M161.5 258.1h0M164.6 259h0M164.7 275.1h0M163.6 277.6h0M164 237h0M168.9 238h0M158.9 252.8h0M167.4 273.8h0M158.4 253.8h0M164.6 244.3h0M155.6 240.6h0M166.2 269.7h0M156.1 257.4h0M155.4 263.1h0M155.2 283h0M158.7 263.3h0M154.7 242.4h0M152.7 252.7h0M156.5 270.4h0M159.7 226.6h0M167.8 283.4h0M161.3 283.2h0M160.4 246.6h0M164.8 297.2h0M157.2 260.9h0M151.3 246h0M152.2 267.4h0M166.7 267.3h0M152.7 266.1h0M151.2 280.8h0M151.5 275h0M158 239h0M161.7 249.5h0M151.8 263.1h0M153.7 254.7h0M161.8 255.9h0M161.9 248.7h0M150.3 257.7h0M161.6 232.9h0M161.3 255.6h0M163.6 280.6h0M158.5 250.6h0M158.3 273.3h0M162.6 239.9h0M164.3 276.5h0M159.1 249.9h0M155.2 264.8h0M167.3 259.7h0M161 269.3h0M164.3 255h0M161.1 254.9h0M169.1 248.5h0M153.7 254.4h0M161.5 279.4h0M151.9 259h0M161.1 259.4h0M156.4 291.8h0M162.7 260.7h0M155.3 262.4h0M160.9 273.3h0M165 250.5h0M153.8 285.1h0M164.6 264.5h0M150.3 254.7h0M168.1 291h0M160.1 282.8h0M168.9 246.8h0M159.1 263.8h0M155.1 258.7h0M163.2 223.4h0M158.8 255.7h0M155.5 266.7h0M157.8 271.8h0M166.5 284.5h0M154 258.8h0M152.2 246.6h0M150.4 264h0M163.5 249.2h0M153.6 250.8h0M154.9 240.9h0M164.2 262.6h0M150.4 242.5h0M166.1 296.6h0M157.7 271.9h0M164.5 271.5h0M166 270.1h0M156.7 245.2h0M164.6 237.7h0M161.5 266.5h0M156.3 250.1h0M165.7 264.9h0M157.4 263.6h0M151.8 264.6h0M157.6 250.4h0M153.9 287.9h0M160.1 294.9h0M160.5 255.2h0M163.3 252.7h0M167.9 248.3h0M161.9 258.5h0M151.1 253.9h0M152.7 278.4h0M163.7 252h0M151.8 282.2h0M166.3 265.6h0M153 252h0M164.6 265.6h0M157.6 241.8h0M161.8 280.8h0M153.1 263h0M162.3 273.7h0M159.4 249.7h0M163.4 261.8h0M155.1 245.9h0M157.9 241.8h0M164.5 243.7h0M164.4 255.3h0M164.2 266.8h0M151.6 269.1h0M169 246.6h0M159.1 268.5h0M157.4 255.4h0M157.2 248.2h0M162.3 233.3h0M165.9 249.1h0M150.6 264.1h0M164.3 251.5h0M161.4 249.8h0M157.1 279h0M156 265.9h0M150.7 249.2h0M167.5 262.2h0M158.9 253.7h0M164.5 246.7h0M151.2 270.3h0M161.7 251.2h0M154.2 290.2h0M165.7 235.9h0M164.5 243.8h0M166.1 255.2h0M154 271h0M163.5 242.8h0M153.9 255.1h0M167.7 254.6h0M156.7 232.2h0M154.2 249.7h0M160.6 232.9h0M163 245.2h0M165.1 266.4h0M165.1 274.6h0M161.5 259.4h0M155.4 255.2h0M162.6 253.1h0M155.9 259.1h0M157.8 247.5h0M152.5 232.5h0M166.7 272.2h0M167.8 250.5h0M161.2 260.7h0M155 258.3h0M165.5 248.8h0M168.5 256.1h0M161.4 245.3h0M164 246.3h0M167.1 257.9h0M153.1 275.8h0M165.4 250.2h0M152.4 264.8h0M161.9 251.7h0M168.4 257.6h0M158.4 240.5h0M164.1 252.7h0M154.6 295.1h0M153 267.1h0M154.3 257.5h0M150.6 245.7h0M155.4 245.5h0M165.8 265h0M151.6 249.5h0M163.3 248.2h0M161.2 248h0M153.6 270.5h0M157.4 237.2h0M167.1 255.9h0M157.8 250.5h0M163.6 254.3h0M165.3 250.3h0M166 270.8h0M160 257h0M157.9 270.9h0M155 243.2h0M157.6 259.8h0M152.5 247.6h0M158.6 256.7h0M167.4 287.1h0M163.9 233.6h0M168.2 245.4h0M160.3 266.8h0M150.6 268.1h0M157.4 244.4h0M167.5 258.5h0M163.7 253.6h0M154.4 250.1h0M168.9 276.6h0M161 257.8h0M156.8 280.2h0M154.5 264.4h0M151.8 249.7h0M165.5 274.6h0M157.9 233.4h0M160.3 285.6h0M155.8 240.5h0M150.6 282.3h0M165.2 237.7h0M159.1 244.9h0M161.6 250.2h0M168.3 282.6h0M156 255h0M154.2 277h0M152.3 249.2h0M167.7 271h0M152.2 258.7h0M167.5 271.6h0M167.5 264.7h0M156.4 269.2h0M163.3 244.4h0M163.3 242.6h0M151.5 241.7h0M166.4 279h0M153.6 261.1h0M149.9 246.1h0M165.1 255.6h0M151.3 268.7h0M163.2 263.5h0M165.7 266.8h0M159.9 268.6h0M150.4 277.6h0M156.9 254.8h0M166.4 247h0M163.5 283.7h0M165.6 279.9h0M156.5 250.2h0M168.9 269.9h0M157.4 260.7h0M159.5 265.7h0M160.7 278.9h0M163.5 257.8h0M164.5 272.1h0M156.1 251.3h0M153.5 267.2h0M166.3 253.5h0M154.9 288.7h0M154.9 240.8h0M150.6 252.7h0M150.4 256.3h0M152.3 246h0M156.2 255.4h0M152.8 250.8h0M165.7 260.8h0M158.2 248h0M169.3 247.2h0M151 239.2h0M160.8 249.5h0M169.3 239.8h0M166.8 266.1h0M157.7 264.4h0M167.1 262.1h0M169.2 262.8h0M152.8 271.9h0M159.5 284.1h0M150.5 278.3h0M153.3 283.5h0M157.8 244.1h0M150.4 262.2h0M163.7 271.1h0M165.6 267.8h0M160.3 259.8h0M152.4 249.8h0M164.2 291.7h0M166.8 232h0M161.7 238h0M150.9 263.4h0M151.9 256.1h0M164.2 268.2h0M164.6 239.8h0M155.8 284.1h0M159.6 272.3h0M161.9 267.1h0M168.9 279.6h0M166.3 254.4h0M166.3 250.5h0M164.5 269.5h0M163 253.8h0M159.5 238.9h0M169 259.3h0M152.4 271.8h0M163.4 256.6h0M162 242.2h0M150.4 275.8h0M166.9 297.1h0M160.8 258.1h0M166.3 252.7h0M164.6 248.4h0M152.3 248.6h0M157.7 279.7h0M167.6 243.2h0M168.4 248.8h0M159.6 264.2h0M153.7 252.9h0M160.6 275.8h0M162.4 272.5h0M166.7 240.8h0M164.1 260.1h0M150.9 232.6h0M157.7 279.9h0M167.1 278.9h0M152.7 253.2h0M152.2 238.8h0M165 266h0M152.7 277.7h0M154.7 267.6h0M165.7 247.3h0M152 261h0M166 269.8h0M153.8 262.8h0M167.9 266h0M167.4 250.6h0M159 245.5h0M166.9 277.3h0M162.1 253.2h0M154.4 249.3h0M167.3 241.3h0M163.7 281.3h0M150.4 243.4h0M153.6 251.6h0M155.1 245.5h0M169.3 277.7h0M166.7 250.6h0M159.9 258.1h0M167.2 269.4h0M162.8 242h0M165.3 259.5h0M168.7 281.3h0M165.7 276.9h0M154.2 280.4h0M164.8 249.8h0M164.7 250.7h0M150.4 241h0M157.1 282.1h0M154.1 231.9h0M160 230h0M150.2 242.3h0M153.1 252.3h0M162.9 275h0M162.3 261.3h0M156 261.9h0M163.4 237.3h0M156.5 266.5h0M155.6 277.7h0M163.1 236.1h0M151.9 272.4h0M156.8 256.4h0M155.7 250.8h0M157.3 270.1h0M155.5 243.1h0M165.3 255.9h0M150.4 264.5h0M159.9 257.2h0M156.7 257h0M153.9 255h0M164.9 250.2h0M169 281.5h0M168.4 244h0M159.6 274h0M166.9 248.9h0M166.5 238.6h0M166.7 271.9h0M159.5 258.3h0M169.1 265.6h0M164.7 257.7h0M167.5 274.4h0M161.5 277.7h0M160.1 256.2h0M162.3 275.8h0M155.2 275.5h0M151.2 259.2h0M166.2 286.1h0M151.7 237.5h0M153.6 257.2h0M150.2 259.1h0M162.9 244.3h0M159.6 240.9h0M152.2 262.5h0M155.2 234.2h0M157.7 283h0M164.3 303.6h0M152.9 241.9h0M166.3 244.5h0M161.7 275.6h0M166 277.3h0M149.9 262.9h0M168.5 261.1h0M153.3 272h0M165.2 251.6h0M157.9 269.1h0M162.6 246.5h0M166.8 255.9h0M161.8 280.2h0M169 254h0M166.6 259.7h0M166 253.9h0M166.8 252.1h0M150.4 234.7h0M159.4 269.7h0M168.5 282.9h0M165.4 277.4h0M162.3 254h0M158.7 248.1h0M151.2 267.9h0M157.9 258h0" stroke="#000" stroke-width="0.96" stroke-linecap="round" fill="none"/>
<line x1="150" y1="319.8" x2="169.2" y2="319.8" stroke="#000" stroke-width="1.5" stroke-opacity="0.86"/>
<polygon points="173.4,320 173.7,319.5 176.7,316.8 180.2,313.7 181.9,312 182.4,310.5 183.05,306.2 182.4,300.9 181.7,295.6 178.7,290.3 174.9,285 173.2,278.5 172.7,273.2 173.2,267.9 173.7,262.6 175.2,257.3 179.2,252 180.7,247.7 181.7,242.4 183.05,237.1 183.05,228.6 183.35,228.6 183.35,237.1 184.7,242.4 185.7,247.7 187.2,252 191.2,257.3 192.7,262.6 193.2,267.9 193.7,273.2 193.2,278.5 191.5,285 187.7,290.3 184.7,295.6 184,300.9 183.35,306.2 184,310.5 184.5,312 186.2,313.7 189.7,316.8 192.7,319.5 193,320" fill="#7CAE00" stroke="#222" stroke-width="0.3" stroke-opacity="0.55"/>
<line x1="183.2" y1="302.36" x2="183.2" y2="309.23" stroke="#c6c6c6" stroke-width="1"/>
<line x1="183.2" y1="228.6" x2="183.2" y2="237.3" stroke="#c6c6c6" stroke-width="1"/>
<path d="M189.8 286.8h0M176.1 275.7h0M183.3 257.6h0M184.3 288.4h0M175.8 238h0M185.1 255.3h0M190.3 281.1h0M183.9 280h0M174.9 260.6h0M184.2 270.3h0M182.1 262.3h0M187.1 247.9h0M186.8 286.3h0M181 285.1h0M191.8 273.7h0M179.5 273.8h0M187.9 271.8h0M183.2 273.7h0M184.7 274.2h0M177 294.9h0M182.5 287.2h0M179.5 271.8h0M184.9 286.3h0M185.7 256h0M179.3 274.1h0M188.2 257.9h0M192.8 275.5h0M175.5 259.1h0M190.8 281h0M184.2 286.5h0M185.2 291.3h0M184.8 271.5h0M192.5 285.3h0M176.8 263.1h0M184.6 265.2h0M192.1 291.6h0M192.4 284.6h0M181.6 264.6h0M187.9 276.6h0M190.4 256.1h0M189.2 275.8h0M188.2 262.7h0M181.4 247.7h0M177.3 265.3h0M181.8 269.8h0M190.8 256.6h0M187.5 297.9h0M191.4 254.8h0M184.5 289.5h0M190.3 244.3h0M186.5 239.4h0M186.1 260h0M187.9 259h0M178.4 283.5h0M188.8 277h0M188.3 255.1h0M189.2 273.5h0M178.6 258.6h0M175.8 281.5h0M186 257.5h0M186.9 269.7h0M177.8 287.6h0M192.5 266.2h0M176.2 256h0M180.9 278.8h0M180.7 275.1h0M176.4 269.2h0M182 257.4h0M189 277.3h0M189.5 289.5h0M176.2 294.1h0M192.1 258.6h0M191.7 282.9h0M179 289.4h0M180.4 268.2h0M191.2 261.6h0M190.1 292.1h0M187.3 265.6h0M176.2 260.9h0M189.4 261.5h0M188.5 269.3h0M175 278.6h0M182.5 269.2h0M185 268.5h0M181.1 259.1h0M189.1 266.4h0M192.8 293.5h0M177.6 260.3h0M176.8 253.3h0M182.2 256.2h0M191 274.5h0M188.6 286.8h0M184.4 245.4h0M184.4 262.6h0M190.7 286.4h0M190.4 253.9h0M188.9 274.5h0M190.4 270.6h0M179.4 260.5h0M184.1 279.7h0M183.1 257.8h0M188.5 254.5h0M180.1 249.8h0M189 289.9h0M180.2 258.8h0M180.3 256.1h0M177.9 265.8h0M187.4 258.2h0M176.1 269.7h0M180.4 250.4h0M186.9 259.6h0M181.3 278.2h0M185.1 273.5h0M188.7 286.5h0M183.9 253h0M184.2 276.1h0M182 270.3h0M189.2 263.4h0M182.1 267.3h0M185.5 285.1h0M178.3 296.7h0M175.7 274.8h0M188.6 276.1h0M179.7 251.2h0M186.8 245.1h0M180.4 273.4h0M189 250.7h0M190.3 294.9h0M182.4 254.5h0M188.6 254.7h0M187.9 274.4h0M191.6 270.5h0M187.4 277.1h0M182.2 278.5h0M174.8 265h0M175.4 259.7h0M190.4 271.2h0M181 257.2h0M183.9 271.4h0M173.9 283h0M177.2 253.6h0M192.2 275.2h0M191.6 245.2h0M176.2 281.7h0M189.3 278.7h0M181.9 283.3h0M179 282h0M174.5 278.3h0M180.7 275.9h0M187.2 264.9h0M182.7 257h0M178.6 289.7h0M181.8 290.1h0M176.1 264.7h0M187.4 290h0M177.3 274.6h0M180 258.3h0M184.6 256.3h0M182.1 267.3h0M190.5 267.4h0M181.9 262.3h0M178.8 266.4h0M192.7 262.6h0M183.2 300h0M175.4 252.2h0M175.2 281.1h0M186.3 257.7h0M190.4 269.6h0M175.8 262.1h0M186.6 276.2h0M179 279.8h0M186.1 268.6h0M179.5 274.2h0M190.9 280.2h0M182.1 259.9h0M173.6 294h0M184.6 294.5h0M183.3 271.8h0M180.8 253.2h0M174.2 276.8h0M190.1 276.3h0M189 268h0M179.2 248.6h0M187.9 258.8h0M178.2 254.5h0M186.8 267.5h0M191 258.9h0M174.7 271.1h0M184 279.5h0M178.5 279.7h0M188.2 294.2h0M185.4 285.9h0M189 261.6h0M179 263.7h0M175.8 270.8h0M184.2 276.4h0M190.6 278.8h0M187 258.4h0M185.9 276h0M186.6 280.4h0M181.4 276h0M173.5 285.1h0M173.8 256.7h0M192.4 255.3h0M179.6 257.5h0M187.2 261.3h0M176.9 283.4h0M180.6 258.5h0M180.7 251.1h0M181.6 274.8h0M175.4 249.3h0M179.9 285.2h0M182.6 278.2h0M181.8 256.6h0M182.7 274.6h0M182.4 281.1h0M179.1 269.8h0M189.8 273.2h0M183 299h0M176.5 273.4h0M187.8 286.3h0M190.4 250.8h0M186.4 269.5h0M177.1 259h0M173.9 284.2h0M178.3 289.7h0M178.7 261.3h0M178.8 293.9h0M179.1 282.6h0M186.7 264.3h0M178 258.2h0M182.5 288.5h0M189.8 277.7h0M179.7 278.3h0M174 295h0M183.4 285.5h0M185.9 273.6h0M182.2 277.8h0M174.9 276.6h0M192 234.4h0M176.2 255.1h0M182.6 252.2h0M177.7 276.9h0M184.7 294.2h0M179.1 278.9h0M191.5 266.6h0M179.5 255h0M179.9 281.2h0M183.5 263.4h0M179.1 276.8h0M177.2 246.4h0M180.2 279.9h0M184.9 261.6h0M192.9 285.9h0M188.2 274.3h0M190.9 260.2h0M192.6 286.3h0M174.5 275.4h0M184.8 280h0M184.7 294h0M186.8 270.9h0M191.3 279.7h0M180.5 288h0M191.3 261.6h0M176.4 264.9h0M186.7 288h0M173.6 258.4h0M188.3 272.9h0M189.6 280.6h0M186.6 279.1h0M189.8 260.1h0M174.8 271.3h0M191.9 270.3h0M179.8 269.5h0M179.5 276.5h0M173.6 252h0M189.9 259.4h0M176.5 263.7h0M180.9 269.8h0M181.4 275.4h0M176.7 258.1h0M188.4 248.6h0M185.3 267.7h0M186.1 285.8h0M180.8 264.1h0M183.5 278.1h0M178.3 250.9h0M186.7 273.7h0M181.9 253.6h0M183.3 265h0M184.2 265.4h0M179.2 261.1h0M190.6 255.5h0M182.1 277.4h0M183.2 266.1h0M189.9 286.5h0M177.4 258.9h0M192.4 278.7h0M189.2 262.5h0M175.1 253.5h0M182.8 265.5h0M190.5 285.7h0M184.7 281.7h0M186.8 257h0M186 246.4h0M184.7 261.6h0M183.9 260.2h0M180.6 282.5h0M181.6 268h0M174.5 272.3h0M187.3 278.2h0M181.5 289.3h0M190.5 250.6h0M191.3 265.5h0M181.9 248.9h0M179.5 276.1h0M176.8 268.1h0M188.1 264.6h0M182.7 273.8h0M182.2 267.6h0M187.5 276.3h0M174.4 263.3h0M192.6 237.6h0M190.8 292.3h0M190.9 250.6h0M191.3 282.9h0M186.3 269.1h0M176.9 264h0M188.4 278.6h0M183.1 261.8h0M192.3 260.6h0M189.2 289.7h0M187.4 257.7h0M178.4 288.6h0M180 265.2h0M175.3 276.3h0M189.5 278.4h0M190.3 258.7h0M185.1 262.1h0M192.8 276.2h0M187.8 255.8h0M174.6 250.5h0M190.9 241.2h0M175.4 288.9h0M182.2 283.2h0M180.7 299.3h0M181.6 262.3h0M177.8 274.6h0M181.5 266.2h0M176.1 283.1h0M181.2 265.6h0M182.7 285.4h0M187.3 277.7h0M190.2 261.4h0M178.4 252.4h0M187.3 271h0M190.7 291.3h0M190.4 287h0M177 278.5h0M174 268.5h0M178.2 272.4h0M180.3 283.2h0M174 282h0M188.4 265.6h0M180.1 280.3h0M180 279.9h0M192.2 264h0M176.8 266.2h0M176.4 280.8h0M186 265h0M176.7 285.1h0M186.5 276.3h0M177.6 270.8h0M180.8 275.8h0M190.2 257.6h0M174.8 263.9h0M180.3 278.8h0M178.2 272.8h0M182.3 288.8h0M191.8 282h0M176.9 258.3h0M184.9 265.3h0M190.5 272.9h0M180 265.9h0M184.7 243.3h0M192.6 267.6h0M188.5 260.7h0M181.7 270h0M183.7 268.7h0M184.3 271.4h0M185.5 257.9h0M190.2 280.7h0M188.3 287.8h0M184.9 272.8h0M180.3 235.6h0M191.7 269.8h0M190.4 273.2h0M182.8 264.5h0M175.9 279.3h0M192.6 242.3h0M188 277.8h0M191.1 262.9h0M184.1 267.5h0M185.7 253.5h0M182.1 252.7h0M175.6 274.6h0M174.4 268.7h0M174.5 270.3h0M183.7 263.9h0M187.6 274.3h0M191.5 265.7h0M186.2 270.9h0M180.3 292h0M176.3 249h0M177.6 275.9h0M173.9 285.9h0M187.8 295h0M182.3 272.3h0M177.8 272.3h0M192.4 279h0M178.7 262.4h0M184.8 272.2h0M176.8 283.3h0M190.5 277.3h0M190.8 248.5h0M186 281.2h0M179.7 250.2h0M182 284.7h0M187.8 261.9h0M178 272.2h0M190.1 271.6h0M192.8 278.8h0M180.6 270h0M184 271.1h0M188.5 290.5h0M177.4 265.3h0M186.4 275.4h0M190.4 285.4h0M191 284.7h0M191.6 261.3h0M190.9 293.7h0M173.7 244.2h0M190.1 269.3h0M189.7 279.7h0M177.3 278.1h0M187.5 267.5h0M177 270.3h0M185.5 245.3h0M176.9 289.1h0M181.2 280.2h0M190.7 274.8h0M189 279.2h0M185.1 274.6h0M184.3 249.2h0M192.9 263.8h0M173.9 283.8h0M182.7 279.2h0M189.4 266.8h0M174.4 285h0M174.4 265.9h0M191.9 289.2h0M192.6 285.9h0M192.1 254.7h0M175.7 264.4h0M180.3 259.9h0M180.2 289.3h0M182.9 285.5h0M192.6 260.3h0M178.2 232.3h0M180.2 276.6h0M185.8 261.8h0M189.3 256.5h0M177.3 286.2h0M191.9 260.9h0M191.6 252.4h0M185.8 282.7h0M178.2 269.7h0M186.3 258.3h0M189.6 228.3h0M180.2 270.2h0M176.3 262.6h0M176.5 254.1h0M185.1 279.2h0M187.7 285.9h0M174.5 276.4h0M177.3 287.5h0M177.1 279h0M177.8 270h0M185.8 245.9h0M180.6 262.6h0M174.2 265.2h0M174.1 275.2h0M184.5 270h0M186.5 263.1h0M189.5 271.4h0M176.1 273.7h0M190.4 288.9h0M192.7 282.7h0M182.1 284.7h0M178.6 262.5h0M181.7 271.6h0M175.2 286.2h0M189.2 257.8h0M174.8 255.1h0M186.8 275.8h0M184.5 262.5h0M190.8 266.4h0M183.3 274.5h0M182.1 285.3h0M192.7 266.1h0M183.4 258.3h0M177.9 261.2h0M189.9 284.7h0M180.5 254.1h0M181.3 281.5h0M183.9 299.5h0M178.7 273h0M186.7 280.4h0M187.6 279.4h0M180.4 284.8h0M182.5 288.3h0M189 280.8h0M175.2 276.4h0M190.4 266.1h0M175.2 255.1h0M191.9 253.7h0M181.3 267.1h0M191.5 283.5h0M189.9 267.8h0M178.7 273.3h0M178.6 280.6h0M190.2 267.8h0M180.4 288.3h0M182 285.7h0M178.9 275.5h0M192 269.5h0M185.8 290.1h0M175.2 269.7h0M176 272.3h0M173.9 250.9h0M177.9 273.4h0M192.4 279.1h0M179.3 275.5h0M180.8 274.8h0M176.3 299.9h0M184.7 260.9h0M183.2 291.1h0M182.5 296.5h0M187 266.8h0M176.5 272.4h0M190.9 260.9h0M182.6 271.1h0M190.2 285.9h0M191.1 289.8h0M188.1 278.5h0M173.9 293.3h0M190.9 257.6h0M189.3 278.6h0M189.6 270.9h0M177.3 244.7h0M190.8 249.8h0M181.3 272.3h0M175.9 249h0M178.7 279.5h0M180.6 256.8h0M189.8 271.9h0M173.8 265.6h0M178.8 256.2h0M178.4 275.6h0M192 262.4h0M178.5 284.3h0M185.1 283.3h0M185.8 268.1h0M182.2 277h0M192.6 290.7h0M186.8 273.2h0M175.8 281.2h0M188.5 256.2h0M187.6 270.3h0M177.3 277.2h0M180.3 280.1h0M192.4 282.1h0M175.8 286.5h0M183.4 281.1h0M179 275.2h0M192.7 289.9h0M188.5 275h0M177.1 290.8h0M183.8 269.5h0M191.6 267.8h0M182.8 267.2h0M177 256.1h0M189.6 248.5h0M186 251.8h0M176.1 250.9h0M181.8 283.1h0M189.7 282.5h0M183.8 287.7h0M192.3 272.5h0M190.1 297.9h0M179.6 286h0M186.2 286.6h0M177 286.1h0M179.4 292.2h0M180.3 257.5h0M191.2 259.4h0M175 274.8h0M187.5 271.7h0M182.3 265.4h0M174.2 278.5h0M187.1 271.1h0M174.9 271.3h0M189.2 271.7h0M182.8 256.6h0M178 284.7h0M188.1 242.5h0M180.5 263.1h0M180.8 277.6h0M183.9 269.3h0M178 266.3h0M180.1 259h0M192.2 280.5h0M178 293.9h0M183.7 297.9h0M187.1 279h0M176.5 268.6h0M180 293.9h0M180.9 288.4h0M182.2 268.7h0M181.4 290.7h0M183.4 281.9h0M174.3 249.2h0M191.2 282.4h0M177.6 287.5h0M177.4 262.8h0M191 287h0M185.9 256.6h0M174.7 280.5h0M178.6 275.5h0M192.5 249.4h0M183.3 280.6h0M185.3 286.1h0M177.8 293.1h0M187.6 258.3h0M189.7 268.5h0M190.2 279.6h0M181.6 275.4h0M183.8 282.1h0M185.8 256.5h0M189.3 293.2h0M180.2 254.1h0M192.6 290.6h0M191.8 274.3h0M179.8 255.9h0M175.6 244.1h0M173.7 277.9h0M179.2 278.8h0M189.9 278.4h0M178.7 255.4h0M175.5 263.4h0M173.6 255.6h0M180.9 284h0M179.8 284.4h0M175.6 274.7h0M186.1 268.2h0M181.7 294.2h0M184.4 265.7h0M192.6 241.6h0M188.3 277.2h0M180.2 271.2h0M185.3 254.2h0M177.2 268.3h0M189.2 288.6h0M174 277.2h0M174.3 269.5h0M177.3 274.1h0M191.5 272.8h0M191.8 264.8h0M181.7 255.7h0M181.8 262.8h0M185.5 262.2h0M182.6 287.2h0M184.4 271.1h0M185.1 269.2h0M182.5 231.7h0M177 280.7h0M192.3 261.5h0M181.4 282h0M178 274.5h0M178.1 288.7h0M178.8 271.3h0M192.2 289.1h0M176.2 267.8h0M182.3 260h0M184.3 295.7h0M185.5 259.2h0M174.7 257.7h0M182.8 258.9h0M184 268.4h0M173.6 271.2h0M187.1 259.3h0M183.6 274.5h0M183.7 289.8h0M174.6 272.6h0M191.7 275.5h0M190.2 264.5h0M179.5 265.8h0M183 267.9h0M186.3 279.5h0M186.3 279h0M174.6 284.5h0M190.8 274h0M183.4 270.6h0M187.8 273.7h0M192.1 297.4h0M183.4 268.1h0M188.2 281.5h0M192.8 284.2h0M175.4 270.1h0M184.8 255.5h0M191.3 289.3h0M181.6 268.7h0M180.1 234.2h0M177.9 291.1h0M192.4 270.5h0M180 234.3h0M174.3 286h0M179.7 283.1h0M192.6 251.3h0M180.1 271.1h0M188.8 282.9h0M186.1 284.4h0M179.6 263.9h0M182.1 266.3h0M181.2 281.7h0M186.7 273.7h0M188.4 288.9h0M184.6 284.6h0M180.7 258.1h0M187.9 290.8h0M185.8 275.6h0M173.9 279.7h0M177.7 268.9h0M182.7 240.2h0M192.6 249h0M185 258h0M180.7 281.1h0M180 256.4h0M174.4 277.1h0M183.2 244.7h0M184.6 280.5h0M186.5 250.7h0M174.5 253.3h0M179.3 241.3h0M178.4 242.7h0M179 268.3h0M178.9 260.3h0M184.6 267.7h0M175.3 257.2h0M174.3 250h0M178 281.1h0M173.7 256.8h0M181.8 270.2h0M177.6 262.8h0M189.7 251.8h0M174.7 268.7h0M182 300.8h0M179.1 277h0M185.1 280.5h0M188.3 277.9h0M177.2 258.8h0M186.4 288.8h0M191.6 253.2h0M192.5 286.5h0M187.2 275.1h0M192.4 250.7h0M192.3 261.2h0M186.7 269.5h0M186.9 260.3h0M192.1 275.4h0M185.9 278.1h0M181.1 291.8h0M182.9 281.6h0M175 252.3h0M185.8 268.5h0M177.2 250.8h0M175.6 239.1h0M188.9 289.4h0M180.7 273.8h0M184.6 242.4h0M188 260.4h0M187.2 289.9h0M187.9 277.9h0M178.3 300.9h0M184 253h0M184.6 280.5h0M174.7 263.7h0M187.2 265.9h0M183.1 264h0M174.7 279.9h0M183.2 244.1h0M179.2 276.2h0M187 278.2h0M190.4 280.4h0M184.4 274.5h0M182.7 288.6h0M190.6 275.8h0M185.1 266.5h0M179.9 287.3h0M185.3 280h0M187.8 280.8h0M181.4 252.7h0M190 286.2h0M180 295h0M187.8 252.7h0M191.7 256.1h0M177 267.8h0M188.8 293.5h0M182.1 276.6h0M178.3 268.3h0M191 272.6h0M177.6 255h0M188.2 287.2h0M175.1 262.1h0M186.8 278.4h0M187.9 272.2h0M190.8 261.3h0M192.6 285h0M176.8 286.4h0M187.8 268.2h0M178.1 277.9h0M175.3 266.7h0M188 249.5h0M183.1 275.5h0M188.8 263.9h0M190.7 275h0M174.9 278h0M185.3 267.6h0M183 283.8h0M180.8 262.5h0M180.1 266.8h0M175.2 277.7h0M175.4 252.7h0M177.3 276.5h0M177.9 273.2h0M179.8 284.6h0M177.1 278.4h0M178.3 279h0M190 282.6h0M185.9 278.3h0M183.4 266.1h0M184.5 255.1h0M182.1 287h0M187.3 288.9h0M190.8 267.4h0M176.9 275.2h0M188.1 291.2h0M185.8 253.4h0M184.3 290.5h0M173.7 295.1h0M177.4 249.4h0M182.1 255.4h0M191.5 261.1h0M184.8 250.7h0M187.6 257.4h0M185.5 282.8h0M187.9 277.2h0M181.2 253.6h0M187.8 268h0M177 282.7h0M179.9 262.9h0M175.6 273.8h0M173.8 266.8h0M192.6 258.9h0M188.5 288.9h0M185.6 259.2h0M176.2 274h0M181.3 274.2h0M183.1 278.7h0M179.3 275.8h0M178.9 277.6h0M182.3 295.1h0M192.1 300.3h0M192 276h0M174 266.1h0M174.1 286.7h0M184.9 280h0M179.6 289.2h0M184.3 264.3h0M186.3 249.6h0M191.9 268.7h0M190.3 269.2h0M181 272.5h0M179.8 292.2h0M188.2 283.7h0M184.7 284.4h0M173.7 278.9h0M175 259.5h0M189.7 261h0M180.8 271.1h0M190.8 265.1h0M182.1 276.7h0M182.5 264.9h0M187.4 256.6h0M188.4 253.5h0M185.4 255.4h0M180.2 258h0M191.9 273.4h0M187.5 279.4h0M179.4 272.4h0M178.5 267.8h0M191.5 270.5h0M186.6 263.6h0M179.6 272.2h0M183.4 269h0M181.3 292.8h0M190.4 287.3h0M184.4 266.3h0M180.6 266.4h0M182.9 266.3h0M192.6 272.2h0M182.1 258.4h0M180.4 286.4h0M182.1 264.1h0M192.6 251.4h0M176.2 286.2h0M178.6 273.8h0M188.5 253.1h0M178.1 273.2h0M184.3 275.2h0M192 266.5h0M180.7 257.6h0M190.4 281.1h0M180.8 236.8h0M183.7 276.7h0M184.8 288h0M176.9 286.3h0M181.1 287.6h0M182.4 261h0M191.2 268.4h0M173.7 269.9h0M187.3 270.8h0M176.6 267.5h0M178.3 275.9h0M173.9 277.5h0M177.4 282.5h0M182.8 261.9h0M175.6 268.7h0M174.7 244.2h0M175.9 241.2h0M175.3 259.3h0M190.8 259h0M189.3 266.3h0M182.3 261.9h0M184.7 234.2h0M175.5 279.8h0M190.8 259.3h0M183.7 294h0M186.4 262.8h0M191.9 272.2h0M189.7 248.4h0M184.5 266h0M189.8 283.2h0M187.5 280.5h0M190.8 284.8h0M190.6 267.1h0M178.5 263.4h0M189.3 242.2h0M188.1 249.1h0M174.8 278.2h0M181.3 268.1h0M190.1 276.9h0M183.7 261.9h0M182 266.4h0M175.5 265.9h0M190.3 271.4h0M188.2 265.7h0M179 261.4h0M188.8 269.6h0M192.5 266.3h0M192.7 267.5h0M183.4 282.5h0M181.5 281.6h0M182.6 263.6h0M181.1 286.2h0M192 274.2h0M182.4 277h0M189.6 261.1h0M179.1 271.2h0M191.3 259.9h0M184.3 273.4h0M175.2 277.2h0M179.9 275h0M179.1 264.5h0M188.2 253.3h0M187.9 285.1h0M182.5 283h0M184 261.2h0M188.9 295.7h0M179.1 255.9h0M192 277.9h0M185.4 279.2h0M187.2 254h0M192 266h0M183.4 278h0M189.8 253h0M181.9 237.4h0M185.6 238.9h0M185.1 252.4h0M174.8 276.3h0M173.8 266.7h0M176.3 280.2h0M187.7 272.7h0M187 276.8h0M177.1 265.7h0M192.2 292.8h0M192.7 259.7h0M192.2 254.3h0M174.5 284.6h0M187.9 285.8h0M174.4 246.9h0M173.6 281.3h0M183.8 279.9h0M187.8 259.8h0M175.2 266.3h0M185.2 279.5h0M175.5 283.2h0M180.6 277.1h0M185.5 250.1h0M192.4 249.1h0M185.4 264.5h0M177.9 262.5h0M178.4 277.6h0M186.3 265.4h0M184.9 280.4h0M174 273h0M174.7 273.1h0M188.4 289.2h0M185.5 264.6h0M183.5 252.4h0M190.7 275.7h0M189.4 285.2h0M185.6 267.7h0M178.9 281.6h0M175.1 267.6h0M174.7 270.2h0M175.7 275h0M179.5 277.3h0M189.9 268.1h0M181.8 289.2h0M185 270.8h0M178.1 281.3h0M192.2 245.9h0M178.7 297.3h0M178.7 284.1h0M185 261h0M192 278.6h0M192.8 266.5h0M188.7 249.8h0M173.7 271.6h0M180.4 269.8h0M186.9 278.1h0M179.6 274h0M185 289.7h0M186.1 270.9h0M175.4 254h0M192.2 255.1h0M185.2 289.9h0M180.3 277.1h0M174.7 281.6h0M182.6 264.8h0M176.3 264.6h0M187.6 256.6h0M184.8 269h0M181.7 282h0M178.2 277.4h0M185.2 281.2h0M191.5 235.1h0M191.7 281.6h0M173.9 280h0M183.9 270.1h0M184.7 255.4h0M191.3 274.8h0M173.7 268.2h0M177.7 277h0M177 282.3h0M192.5 270h0M189.3 262.5h0M189.1 280.6h0M186.9 273.1h0M182.4 257.4h0M176.9 258.4h0M177.4 281.1h0M178.1 234.7h0M189.1 285.4h0M175.7 272.7h0M176 280.1h0M183.4 275h0M176.1 265h0M182.6 241.2h0M180.2 257.6h0M184.5 271.6h0M188.5 269.7h0M177.3 272h0M185 268.1h0M180.7 246.9h0M183.4 270.8h0M184.5 286.5h0M174.1 271h0M175.2 263.1h0M182.6 265.9h0M180.2 289.5h0M184.9 246h0M183 267.7h0M181.5 274.3h0M175.6 289.2h0M192.2 278h0M186.5 255.8h0M188.7 251.7h0M175.2 250.9h0M188.5 270.4h0M189.2 278.5h0M192.2 280h0M174.4 276.2h0M175.3 265.4h0M175.1 272.5h0M180.9 252.3h0M173.7 253.4h0M189.8 246.1h0M182.8 249.5h0M188.7 282.7h0M174.1 262.5h0M179.9 282.8h0M189.3 274.3h0M182.9 254.8h0M174.3 246.7h0M184.7 236.1h0M190.8 290.7h0M186.2 265.6h0M191.6 263.9h0M192.5 278h0M178.3 268h0M183.4 278.4h0M177.5 263.5h0M186.6 269.9h0M192.1 285.6h0M190.7 257.8h0M176.6 259.6h0M186.1 256.6h0M179 253.6h0M181.7 292.1h0M178.1 276.7h0M186.4 248.9h0M173.8 258.3h0M173.5 271.2h0M179.8 269.1h0M189.7 284.3h0M191.4 244.8h0M187.8 257.4h0M173.9 269.5h0M189.1 256.2h0M184.3 257.4h0M183.1 264.5h0M177.2 254.4h0M181.4 256h0M192.6 242.3h0M181.6 251.2h0M178.3 269.1h0M181.8 261.1h0M191.5 280h0M190.6 274.4h0M182.9 283.2h0M186.7 278.4h0M192.1 285.2h0M179.8 259.9h0M179.2 262.5h0M173.7 279.9h0M185.4 270.7h0M188.7 256.2h0M179.7 238h0M182.9 259.4h0M191.7 279.7h0M185.9 277.9h0M183.8 278.9h0M184 254.5h0M189.4 273h0M185.2 248.1h0M174.5 287h0M175.1 282.2h0M185.8 277.7h0M175.7 253.4h0M186.1 265.5h0M187.8 266.1h0M186.8 247.7h0M189.2 265.5h0M182.2 279.5h0M175.2 269.4h0M190.5 296.4h0M185.8 277.2h0M183 275.3h0M189.2 259.2h0M188.3 279.8h0M185.2 275h0M190 272.5h0M176.4 293.7h0M175.9 273h0M184.3 288.7h0M177.5 255.2h0M181.5 263.2h0M192.7 276.3h0M187.2 278.8h0M176.2 286.5h0M188.9 277.8h0M181.3 245h0M190.6 284.8h0M173.6 288.6h0M181.5 275.6h0M174.4 273.3h0M181.1 268.4h0M189 258.7h0M186.3 276.5h0M176.9 290.7h0M180.6 265.6h0M189.1 278.9h0M187.7 249.1h0M179 253.2h0M180.6 251.1h0M183.3 271.3h0M184.9 259.2h0M190.9 257.7h0M178.3 268.9h0M174.4 266.1h0M192.1 274h0M188.7 265.8h0M188.2 250.9h0M181.6 281.1h0M179.1 256.8h0M191.5 288.2h0M173.7 266h0M185.3 278.7h0M180.3 273.9h0M178.5 251.9h0M179.7 277.3h0M184.3 280.7h0M182.7 276.2h0M192.2 285.6h0M180 287.3h0M180.6 289h0M182.2 262.9h0M184.8 271.5h0M192 295.2h0M186.5 281.5h0M179.6 268.3h0M184.2 282.4h0M179.8 270.4h0M179.7 280.6h0M181.8 282.2h0M181.6 279.4h0M182 263.5h0M184.1 265.7h0M174.1 271.3h0M177.9 287.7h0M189.7 278.4h0M184.2 291.6h0M192.7 244.6h0M176.4 285.5h0M178.1 243.8h0M181.3 276.7h0M190.8 281.3h0M175.5 283.4h0M178.6 293.3h0M191.6 265.1h0M179.7 250.8h0M186.3 267h0M191.7 271.7h0M191.1 247.2h0M184 288.4h0M175.7 286.5h0M188.9 266.5h0M185.3 269.7h0M178.5 273.6h0M176.1 271.8h0M189.5 289.4h0M186 272.8h0M179.4 248.8h0M179.1 260.2h0M188.5 264.5h0M173.7 266h0M186.9 275.9h0M187 266.2h0M176.8 257.4h0M179.6 276.2h0M184.1 255.7h0M175.2 273.9h0M177.3 264h0M174.8 287.8h0M178.3 289.3h0M186.1 266.4h0M187.3 258.5h0M191 282.4h0M192.8 291.9h0M192 279.9h0M183.8 287.5h0M190.3 272.4h0M179.8 289.2h0M179.5 290.5h0M176.7 266.5h0M191.9 252.6h0M189.7 257.6h0M185.2 265.1h0M184.5 281.2h0M176.9 280.6h0M176 270.2h0M181.6 268.4h0M188.9 266.5h0M189.3 288.8h0M181.3 264.5h0M181.8 279.7h0M187.8 277.1h0M188.6 257.3h0M177.1 280.1h0M188 242.7h0M190.4 266.2h0M177.2 274.9h0M175.4 274.5h0M177.4 277.5h0M191 283h0M181.3 243.2h0M188.3 281.8h0M190.7 266.1h0M186.1 263.5h0M183.3 264.7h0M175.7 254.7h0M190.1 261.4h0M192 256.9h0M178.7 267h0M182.4 273.1h0M191.8 257.4h0M185.2 292.2h0M188.7 270.8h0M180.3 281.2h0M192.6 276.2h0M186.5 260.2h0M186.3 291.6h0M181.1 268.4h0M181 269h0M175.2 287.1h0M176.3 292.7h0M178.4 254.5h0M180.3 250.8h0M175.2 289.3h0M180.1 264h0M179.4 248.5h0M191.9 253.3h0M175.4 271.5h0M176.8 279.3h0M186.1 278.2h0M174.3 292.6h0M174.9 280.1h0M173.6 265h0M180.5 269h0M188.9 271.3h0M190.6 300.2h0M184.6 277.9h0M181.2 264.8h0M182.6 275.1h0M186.8 277.5h0M184.8 257.2h0M179.4 265.8h0M189 266.2h0M176.4 260.7h0M192.5 270.5h0M178.1 285.3h0M181.2 259.4h0M192.9 284.4h0M185.7 245.5h0M188.7 249.6h0M179.9 287.6h0M187.4 257.5h0M183.1 254h0M192.3 271.6h0M187.8 272.6h0M175.5 253.1h0M185 240.5h0M188.1 292h0M181.2 262.8h0M187.7 269.1h0M183.2 265.2h0M177.1 258h0M192.4 272.7h0M187.2 254h0M187.7 269.5h0M183.2 293.6h0M188.7 253.6h0M180.4 267.9h0M174.1 276.1h0M180.1 258.8h0M187.7 282.2h0M179.6 284.1h0M187.9 232.1h0M181.7 246.4h0M187.3 254.3h0M175.5 273.7h0M192.1 255.6h0M181.1 272.7h0M184.2 279.1h0M176.3 270.7h0M183.7 274.6h0M181.2 259.3h0M185.2 258.1h0M185 263.3h0M179.7 266.6h0M174.4 276.4h0M183.4 254.4h0M173.9 268.9h0M187.4 272.7h0M187.5 262.7h0M179.7 287.2h0M184.1 283.3h0M189.6 258.5h0M188.2 270.1h0M179.5 275h0M190.4 260.5h0M179.3 274.9h0M180.7 254h0M180.2 268.9h0M185.4 284.6h0M183 284.2h0M191.4 267.3h0M185.4 262.6h0M191.6 276.4h0M174.2 280.6h0M177.8 269.1h0M185.7 252.7h0M185.9 265.2h0M184.2 280.1h0M175.1 292.9h0M180.3 281h0M184.7 264.1h0M186.1 278.5h0M190.4 284.3h0M177.9 265.4h0M190.4 263.6h0M191.9 277.6h0M184.5 263h0M178.5 288.5h0M191 278.3h0M179.6 259.7h0M179.4 259.5h0M190 261.3h0M176.6 281.3h0M180.3 239.7h0M192.1 265.9h0M175.5 273.9h0M180.9 280.2h0M180.6 264.3h0M187.4 272.1h0M187.3 286.3h0M179.3 250.9h0M182.5 242.3h0M177.3 272.6h0M179.6 272.2h0M188.6 294.4h0M180.2 277.7h0M179 279.7h0M181.8 267.5h0M187 274.7h0M183.1 273.5h0M177.6 280.1h0M176.3 275.9h0M191.6 259.1h0M182.4 259.8h0M175 277.6h0M186 256.5h0M191.9 274h0M189.7 284.1h0M180.1 252.2h0M183.4 286.9h0M178.3 259.1h0M187 257h0M173.5 247.2h0M188.3 288.2h0M181.4 262.1h0M180 265.7h0M181.3 270.4h0M179 264.1h0M185.7 276.1h0M189.6 294.4h0M181.1 269.5h0M183.8 259.6h0M180 271.9h0M176.4 258.5h0M175.7 265.9h0M187.7 269.1h0M188.9 246.7h0M174.2 281.8h0M189.7 272.1h0M188.4 282h0M180.5 267.7h0M190.6 294.9h0M176 269.5h0M192 270h0M173.5 249.4h0M178.7 272.3h0M192.2 267.9h0M185.2 268.8h0M181 261.3h0M184.5 257.7h0M184 265.5h0M192.1 260.7h0M177.5 268h0M191.5 256.6h0M184.5 287h0M190.2 257.3h0M175.8 274.1h0M183.8 277.3h0M176.8 257.3h0M173.9 256.7h0M182.8 288.3h0M174.9 271.2h0M173.9 248.1h0M184 257.4h0M189.6 288h0M178.5 259.9h0M174 270.7h0M177.6 287.8h0M187.4 257.4h0M186.6 251h0M191 277h0M191.1 271.3h0M179 281.2h0M185.5 241h0M177.4 266h0M188.4 283h0M190 275.9h0M184.8 292.8h0M192.8 291.4h0M192 288h0M178 276.1h0M176.4 252.2h0M176.3 259.6h0M177.7 284.6h0M179.8 272.4h0M175.6 281h0M176.9 271.4h0M190.9 268.7h0M186.1 271.7h0M184.1 264.2h0M187.3 278.6h0M185.2 252.4h0M187.3 281.1h0M174.9 275.5h0M185.6 277.6h0M175.9 292h0M181.5 279.7h0M181.1 242h0M180.1 275.8h0M183.7 266.4h0M186.9 284.2h0M174.2 274.9h0M187.2 279.5h0M184.2 281h0M176.6 259.8h0M178 269.5h0M184.5 291.4h0M187.4 278.2h0M185.8 278h0M178.7 238.4h0M180.3 259.4h0M185.4 267.7h0M189 292.9h0M189.9 246.6h0M188.3 271.8h0M184.4 267h0M185 267.2h0M192.5 268.1h0M185.9 263.8h0M186.3 274.6h0M180.3 275.9h0M189.6 254.3h0M179.3 250.9h0M181.6 259.7h0M190.7 274h0M178.5 280.7h0M188 271.1h0M178.7 257.1h0M174.8 267.4h0M192.6 239.9h0M186.5 256.8h0M178 278.3h0M176.8 276.5h0M190.4 280.1h0M180 280h0M188 262.9h0M186.9 259.8h0M186.4 263.4h0M187 259.3h0M189.1 281.2h0M188.4 254.3h0M190.7 265.4h0M177.9 238.6h0M176.1 261.4h0M174.1 244.6h0M186.2 275.8h0M190.9 278.9h0M180.5 281.2h0M190.8 296.8h0M189 294.4h0M175.4 294.4h0M182.8 269.6h0M182.8 263.4h0M183 257.5h0M187.3 271.9h0M180.7 271.1h0M184.7 295h0M176.5 278.6h0M192 263.4h0M187.3 286.7h0M182.4 271.3h0M185.1 250.8h0M179.7 280.7h0M191.4 286.9h0M191.5 267.8h0M191.5 266.2h0M189 269.1h0M188.3 239.6h0M175.6 278.4h0M178 301.2h0M179.4 276.2h0M188.5 273.3h0M175.7 281.7h0M177 260.6h0M185.2 276.9h0M180.8 260h0M191.6 265.3h0M180.6 263.9h0M191.3 286.1h0M183.4 262.3h0M179.3 288.5h0M181.9 249.1h0M180.4 275.3h0M173.7 284.1h0M189.5 243h0M190.9 280.9h0M180 257.7h0M176.1 272.5h0M190.4 255.9h0M181.2 263.8h0M185.7 261.9h0M192.6 270.2h0" stroke="#000" stroke-width="0.96" stroke-linecap="round" fill="none"/>
<line x1="173.6" y1="319.8" x2="192.8" y2="319.8" stroke="#000" stroke-width="1.5" stroke-opacity="0.86"/>
<polygon points="196.4,320 196.4,319.2 198.9,316.5 202.4,313.4 204.8,311 205.6,309.5 206.25,305.9 205.6,300.6 204.1,297.2 202.4,291.8 200.9,286.5 199.9,281.2 199.4,275.9 199.9,270.6 200.9,265.3 202.4,260 203.9,254.7 204.9,249.4 205.6,244.1 206.25,234.6 206.55,234.6 207.2,244.1 207.9,249.4 208.9,254.7 210.4,260 211.9,265.3 212.9,270.6 213.4,275.9 212.9,281.2 211.9,286.5 210.4,291.8 208.7,297.2 207.2,300.6 206.55,305.9 207.2,309.5 208,311 210.4,313.4 213.9,316.5 216.4,319.2 216.4,320" fill="#3CBEC3" stroke="#222" stroke-width="0.3" stroke-opacity="0.55"/>
<line x1="206.4" y1="301.59" x2="206.4" y2="308.87" stroke="#c6c6c6" stroke-width="1"/>
<line x1="206.4" y1="234.6" x2="206.4" y2="242.31" stroke="#c6c6c6" stroke-width="1"/>
<path d="M200.6 262.7h0M215.5 272.6h0M202.4 279.1h0M210.3 267.5h0M206.6 282.5h0M210.8 274.4h0M207.5 285.9h0M212.4 288h0M199.8 273.5h0M215 293.4h0M201.7 265.5h0M214.3 291.6h0M196.9 255h0M207.1 261.9h0M204.3 273.2h0M198.7 273h0M211 289.8h0M210 281.3h0M210.1 276.1h0M206 300.4h0M207.5 291.6h0M206.6 254.1h0M202.8 280.2h0M207.3 269.7h0M213 287.2h0M212.6 268h0M198.1 293.5h0M211.6 288.6h0M205.7 243.8h0M209.9 277.5h0M205.6 272.5h0M201.8 285.9h0M215.6 279.2h0M215.3 283.9h0M210.3 278.4h0M199.8 296.8h0M197.7 250.9h0M209.6 278.4h0M210.2 286.5h0M198.7 293.3h0M205 266.2h0M210.6 266h0M215.3 275.1h0M213.4 287.9h0M212.4 271h0M198.7 271.2h0M214.4 267.3h0M206.3 264.8h0M205.3 257.2h0M207.6 283.6h0M208.4 255.8h0M212.9 267.7h0M197 281.9h0M197.5 299.7h0M205.6 275.9h0M213 272.5h0M198.7 291.1h0M209.1 268.4h0M204.6 279.4h0M215.2 291.2h0M211.8 267.6h0M200.6 288.2h0M216 249.6h0M214.5 278.4h0M200 274.2h0M211.3 266.3h0M207 268.2h0M206.4 254.2h0M204.9 276.5h0M205.2 281.3h0M208 297.3h0M215.9 279.9h0M214.3 253.2h0M203.6 275.8h0M204.5 291.8h0M213 281.8h0M202.9 271.6h0M204.5 259.9h0M210.1 251.3h0M198.2 270.9h0M212.2 286.7h0M200.8 263.9h0M206.5 286.6h0M202 288.5h0M207.2 279.5h0M202.4 243.5h0M205 267.4h0M208.1 293.5h0M214.2 293.7h0M202.7 284h0M214.4 288.3h0M215.8 283.8h0M213.4 273.8h0M203 235.2h0M208.4 288.6h0M208.3 256.5h0M210.8 262.3h0M209 274.9h0M201.1 295.6h0M202.8 271.4h0M200.6 276.1h0M205.4 291.1h0M212.2 276.9h0M210.6 252.1h0M198.7 277.7h0M202 284.7h0M210.2 266.6h0M206.7 264.1h0M208.4 297.6h0M209.6 259.1h0M210 262.1h0M201.3 283.5h0M210.5 283.9h0M201 287.6h0M204.3 269.6h0M202.1 279.4h0M200.3 263.7h0M202.3 264.2h0M198 283.9h0M214.8 296h0M204.1 290h0M215.2 279.5h0M201 274.8h0M204.3 268.4h0M214.9 248.8h0M201.8 280.5h0M204.8 254.6h0M207 271.5h0M199.9 245.3h0M210 271.9h0M206.2 274.4h0M206.6 266.2h0M212.4 265.6h0M198.1 259.3h0M215.1 268.8h0M203.7 273.1h0M212.6 253.9h0M209.8 265.2h0M211.4 279.5h0M209.2 288.3h0M211.6 291h0M211.1 264.7h0M200.9 296.3h0M213.4 285.9h0M199.6 261.5h0M199.7 275.1h0M200.7 267.6h0M205.7 267.3h0M214.7 261.2h0M199 296.2h0M215.8 275.3h0M198.9 283.1h0M206.1 259.5h0M203.5 281.1h0M210.1 269.4h0M208.1 267.6h0M201.5 292.5h0M206.9 275.7h0M205.4 283.3h0M201.6 255.9h0M201 289.4h0M200.5 259.6h0M197.5 283.9h0M199.1 288.2h0M198.6 278.8h0M202.4 274.8h0M198.8 288.6h0M209.7 275h0M210.7 274.6h0M215.8 279.8h0M213.8 289.5h0M210.3 272.9h0M215.3 255.4h0M213.5 285.6h0M213.9 280.2h0M197.2 277h0M212.3 282h0M203.8 262.8h0M202.7 281.5h0M213.9 256.3h0M209.8 274.3h0M210.8 289.2h0M214.7 287.3h0M204.9 291.8h0M211.9 303.9h0M198.2 277.9h0M197.8 258.5h0M200.9 264h0M202.2 278.8h0M196.8 256.8h0M214 264.6h0M207.8 240.9h0M206.6 262.2h0M199.7 289.6h0M212.5 268.9h0M210.4 291.9h0M204.8 263.6h0M199.5 297.9h0M215.6 249.6h0M214.1 278.9h0M198.9 276.6h0M204.6 249.5h0M206.4 300.5h0M208.9 277.4h0M210.1 279.2h0M210.8 282.2h0M203.5 289.9h0M205.1 276.9h0M199.1 275.4h0M206.6 271.4h0M212.5 273.6h0M199.8 301.8h0M205.6 260.8h0M198.7 275.5h0M200.7 268.7h0M209.2 288.2h0M198.2 293h0M208.6 260.7h0M202.6 251.5h0M202.7 263.2h0M212 286.9h0M206.7 285.5h0M207.7 251.7h0M213.3 288.4h0M211.4 250.5h0M197.1 284.7h0M206.7 262.5h0M203.6 279.3h0M206.9 271.2h0M199.8 275.5h0M204.3 281.2h0M199.4 282.1h0M213.5 253.6h0M205 282.3h0M210 279.1h0M205.9 252.4h0M211 270h0M202.2 283.6h0M212.4 264.2h0M202.4 263.7h0M206.4 279.2h0M206.6 278.2h0M201 286.3h0M206 277.7h0M197.4 277.8h0M210 279h0M209.6 270.7h0M197.2 296.9h0M203.6 262.1h0M202.9 273.9h0M197.6 254h0M210.9 294h0M198.5 288.8h0M206.5 281.7h0M215.3 269.1h0M207.9 274h0M209.8 287.2h0M205.9 277.4h0M212.5 234.8h0M210.5 273.9h0M202 292.6h0M205.4 287h0M208.8 283.9h0M198.8 261.8h0M203.8 288.7h0M214.1 287.2h0M213.8 282.6h0M202.4 255.7h0M214.6 272h0M209.7 276.8h0M212.6 273.8h0M205.5 299.8h0M215.1 290.8h0M206.7 275.7h0M202.6 288.8h0M205 264.8h0M203.7 265.4h0M206.4 281h0M215.2 264.4h0M199.8 292.3h0M205.9 283.6h0M215 257.8h0M214.9 271.3h0M196.8 289.8h0M212.5 280.3h0M199 270.6h0M200.6 279.8h0M197 259.7h0M201.7 301.3h0M210.7 267.6h0M211.4 274.4h0M209.9 277.1h0M208.3 276.5h0M207.5 291.1h0M197.5 263.2h0M198.7 258.1h0M199.5 259.8h0M215.5 267.3h0M204.1 254.6h0M210.4 241.3h0M213.8 268.4h0M206.1 289.2h0M206.4 262.6h0M203 265.6h0M212.2 248.3h0M207 295.5h0M198.5 286.8h0M198.3 281.5h0M206.3 263.4h0M209.3 274.1h0M206.2 276.1h0M213.5 259.9h0M211.8 275.9h0M212.3 291h0M197 276.1h0M214.9 254h0M215.5 279.8h0M210.9 293.6h0M214 263.5h0M206.5 294.7h0M210.7 273.5h0M206.3 289h0M198 288h0M207.8 266.6h0M211.8 266.7h0M204.1 283.7h0M199.9 289.7h0M213.7 280.1h0M215.5 273.4h0M214.3 269.4h0M212.4 288.2h0M202.3 263.6h0M198.3 265.9h0M203.4 298.9h0M201.2 261.4h0M201 260.3h0M214 265.2h0M198.8 277.8h0M199.1 289.6h0M203.5 269.1h0M198.8 270.1h0M204.4 285h0M215.6 275.9h0M198.1 283.2h0M201.1 261.1h0M214.3 266.5h0M199.7 260.7h0M213.7 287.7h0M204.5 262.7h0M211.9 286h0M198.6 238.1h0M210.6 273h0M202.8 299h0M211.3 280.3h0M197 270.3h0M204.7 281.5h0M205.8 270h0M204 247.7h0M215.9 279.4h0M211.6 259.3h0M201.9 275.6h0M209.8 287.9h0M202.6 275h0M213.5 282.7h0M205.1 281h0M204.9 276.3h0M198.3 260h0M203.7 277.2h0M201 266.7h0M210.9 236.8h0M212.3 269.4h0M205.5 277.6h0M212.4 270.5h0M213.6 284.6h0M200.2 276.5h0M211 286.1h0M197.9 282h0M202 254.6h0M199.1 262.7h0M204 263.1h0M197.4 283.4h0M202 265.5h0M210.1 269.5h0M214.2 277.1h0M203.6 285.9h0M215.4 255.1h0M211 267h0M213.4 292.6h0M202.1 276.4h0M215.7 268.3h0M198.6 271.1h0M211.1 297.2h0M207.1 284.5h0M204.9 268.8h0M214.7 253.4h0M201.7 275.4h0M213.1 268.8h0M210.6 287.8h0M213 258.7h0M215.9 272.4h0M208 277.5h0M212.4 283h0M210.4 255h0M206.9 257.4h0M210.9 269.6h0M207.9 278.5h0M206.8 280.4h0M203.4 275.8h0M212.2 300.5h0M215.2 247.9h0M208.8 281.4h0M201 291.1h0M208.4 268.8h0M202.7 267.1h0M215.8 277.4h0M214.5 260.3h0M203.9 281.6h0M202.6 266.9h0M209.2 282.4h0M201 257.6h0M211.3 304.1h0M203.3 266.7h0M208.8 284.5h0M207.6 284.8h0M203.7 274.3h0M200.6 284.6h0M208.8 255.1h0M206.2 282.5h0M212.6 293.6h0M211.9 267.7h0M206.6 280.1h0M213.6 268.7h0M202.7 264.6h0M211.4 272.4h0M209.5 280.4h0M202.2 262h0M198.2 280h0M197.7 271.3h0M199.8 259.1h0M197.6 254.6h0M200.2 291.4h0M209 280.1h0M204.4 266h0M203.8 273.8h0M214.9 272h0M205.3 270.6h0M212 260.6h0M211.9 263.8h0M207 277.4h0M211.5 282.9h0M203.5 264.1h0M210.4 261.3h0M200.8 286.3h0M210.5 280.8h0M203.6 286.4h0M208.9 264.2h0M214.9 276.1h0M199 266.9h0M197.8 285.9h0M202.9 294.9h0M202 270.3h0M207.7 275h0M203.2 273.7h0M206.7 282.4h0M215 283.5h0M200.3 292.4h0M197.1 259.3h0M209.8 258h0M205.7 273h0M215.2 275.1h0M199.5 265.5h0M210 275.2h0M204.9 273.4h0M215.9 294.2h0M197.7 285.4h0M200.4 280.2h0M201.3 285.1h0M210.6 259.6h0M212.6 275.2h0M207.9 276h0M201.7 250.5h0M197.1 262.6h0M201.6 261.1h0M215.2 244.7h0M210.6 279.7h0M197.9 270h0M215.2 291h0M208.3 267.9h0M201.6 283.2h0M211.2 287.2h0M202 270.4h0M197.9 257.8h0M210.5 296.8h0M214.8 277.9h0M210.7 280.2h0M197.6 276.7h0M212.5 259.1h0M203.3 278.9h0M214.1 283h0M202.6 268.2h0M205.6 292.4h0M214.8 286h0M206.5 282.1h0M202.5 261.3h0M201.1 293h0M204.7 287.1h0M198.9 260.1h0M209.5 294.4h0M213.1 296.7h0M199.8 288.8h0M204.6 260.1h0M200.5 270h0M213.2 270.2h0M202 268.8h0M215.8 273.4h0M205.4 283.3h0M200.6 279.8h0M210.2 288.4h0M201.2 269h0M213.3 284.8h0M208.7 270.3h0M201.8 282.2h0M212.4 282.1h0M199.7 276.9h0M212.2 286.3h0M201.8 294.3h0M200.2 260.5h0M197.5 280.3h0M215.6 295.9h0M205.5 294.4h0M201.6 263.2h0M201.9 261.9h0M214.6 288.5h0M206.4 281.6h0M212.8 269.9h0M214.1 273.3h0M198.8 273h0M206.2 260.3h0M203.1 277.2h0M204.7 276.1h0M210 281.3h0M200.8 303.4h0M212.6 259h0M212 253.2h0M202.7 287.6h0M204.1 272.2h0M203.9 275.6h0M205.3 276.2h0M212.2 268.5h0M205.2 259.7h0M208.9 271.1h0M205.3 266.3h0M196.8 269h0M209.6 268.3h0M207.8 279.2h0M201.6 235.9h0M209.5 269.6h0M208.9 288.4h0M209.3 293.9h0M208.7 263.8h0M208.2 293.3h0M215.1 280.3h0M214.4 295.6h0M209.7 259.2h0M213.4 290.5h0M205.4 291.6h0M202.3 284.4h0M210.1 288.8h0M196.9 289.3h0M209.4 282.2h0M213.1 281.5h0M197.5 250.1h0M208.4 263.5h0M205.7 253.7h0M207.2 276.8h0M196.9 257.3h0M206.2 274.3h0M204.7 235.8h0M198.6 266.5h0M197 291.8h0M200 277h0M207.9 255.8h0M206.5 267.2h0M209.3 265.5h0M196.9 271.3h0M203.1 259.5h0M199.4 292.3h0M211 273.9h0M197.5 257.2h0M213.6 298.2h0M212.3 266.8h0M197.5 289.6h0M208.7 285.8h0M214.4 255h0M200.5 264.6h0M216 267.3h0M212.6 283.7h0M215.7 261.9h0M205 288.9h0M206.1 262.6h0M212.1 287h0M201.9 291.4h0M198.5 287.3h0M199 266h0M202.6 284.6h0M203.6 244.7h0M210 257.5h0M201.9 292h0M201.3 254.4h0M201.7 298.9h0M204.7 257.5h0M205.7 273.8h0M206.2 276.4h0M209.4 264.3h0M203 268.6h0M216 299.4h0M209.9 275.5h0M207.8 256.4h0M212.9 272.1h0M207 281.4h0M214.9 265.3h0M205.6 297.8h0M212.9 283.3h0M199 278.8h0M215.1 274.7h0M215.8 275h0M202.7 289.7h0M206.1 271h0M212 244.9h0M200.8 262.6h0M213.2 263.1h0M206.4 271.3h0M211 271.5h0M200.9 280.4h0M200.5 255.2h0M197.5 294.5h0M209.3 268.3h0M206.8 258.7h0M209.3 265.1h0M200.7 255.5h0M201.2 280.6h0M205.7 288.3h0M203.2 269.9h0M198.5 271h0M212.9 262.3h0M214.9 263h0M215.6 261.2h0M214.1 249.6h0M202.4 265h0M210.4 274h0M209.6 285.9h0M208.2 287.9h0M201.5 269.4h0M207.1 263.6h0M197.3 286.8h0M210.8 267.8h0M196.8 280.6h0M209.1 270.5h0M214.8 278.8h0M201.6 282.3h0M201.6 269.7h0M206.2 280.6h0M214.5 273.3h0M199.1 282.4h0M202.3 281.3h0M200.2 252.7h0M198.1 284.6h0M201 290.2h0M212.5 267.6h0M204.5 300.5h0M205 271.7h0M213.3 269.1h0M204.3 260.5h0M214.3 276.2h0M206 263.5h0M199.2 264.5h0M212.1 276.9h0M199.4 268.1h0M215.3 267.9h0M211.1 284.3h0M200.1 257h0M202.9 281.6h0M200.3 286.5h0M212.1 247.5h0M203.5 298.3h0M207.8 292.5h0M207.7 281.1h0M210.9 282.1h0M214.1 257.4h0M201.1 256.9h0M210.8 283.5h0M215.4 265.2h0M200.5 261.6h0M208.7 283.4h0M208.9 267.6h0M200.2 272.9h0M215 240.5h0M215.8 292.2h0M211 274.4h0M209.5 261.4h0M213 268.7h0M209.3 278h0M208 284.5h0M210.9 281.5h0M207.4 269.4h0M198.7 277.8h0M201.5 263.2h0M213.5 274.2h0M199.8 275.5h0M200.2 275.1h0M212 297.7h0M210.8 270h0M197.6 280.9h0M206 262h0M210.9 275.9h0M199.1 273.2h0M214.8 268.5h0M199.3 286.6h0M203.7 259.6h0M201.9 272.5h0M207 260.2h0M197.1 275.7h0M208 281h0M210.9 291.9h0M211.8 280h0M204.1 290.3h0M215.3 270.4h0M211.1 293.7h0M200.1 271.3h0M200.9 295.9h0M213.7 268.9h0M198.1 282.3h0M204.2 269.2h0M203.2 270.4h0M203.8 279.7h0M198.5 288.1h0M200.3 260h0M200.3 253.6h0M207.9 271.7h0M201.2 281.1h0M205.8 281.9h0M202.5 292.7h0M197.6 299.1h0M203.1 273.9h0M210.1 294.6h0M206.1 296h0M210.1 274.2h0M199.4 273.9h0M213.4 269h0M211 287h0M198.3 279.3h0M204.6 271.5h0M209.1 266.1h0M214.2 280.7h0M209.2 260.3h0M215.2 291.8h0M200.3 296.9h0M206.4 276h0M198.1 283.7h0M206.4 269h0M196.7 291.2h0M196.9 278.1h0M199.4 248.6h0M203.5 261.1h0M203.1 286h0M216 283.2h0M198.8 278.2h0M200.3 283h0M213.1 274h0M211.5 292.6h0M210.1 289.3h0M197.1 265.2h0M199.6 272.3h0M212.2 253h0M198 295.8h0M208.4 260.1h0M203.2 278.2h0M204 282.9h0M206.5 278.8h0M212.3 263.4h0M216.1 278.1h0M212.5 262.3h0M209.4 246.3h0M213.1 268.5h0M199 264.2h0M205.6 276.6h0M215.7 268.9h0M203.9 289.2h0M198.7 270.6h0M209.4 271.9h0M201.2 286.8h0M214.7 279.9h0M201.9 274.6h0M210.3 265.4h0M213.2 301.6h0M198.2 272h0M215.6 266.6h0M205.4 270.6h0M207.2 274.6h0M204.3 279.7h0M197 255.4h0M214.7 271.2h0M199.9 252.4h0M205.7 267h0M204.1 268.7h0M206.1 281.3h0M206.7 262.2h0M216 269.1h0M199.7 243.5h0M204.3 268.8h0M213.5 300h0M211.2 287.1h0M212.7 280.4h0M205.8 271.1h0M204.7 252.9h0M203 280.3h0M203.3 283.5h0M198.5 274.9h0M212 265.3h0M202.7 296.3h0M204 285.7h0M201.4 262.6h0M210.4 260.7h0M202.5 280.3h0M205.7 265.6h0M202.3 298.1h0M212.2 288.8h0M202.7 270.4h0M207.8 284.8h0M206.7 257h0M197.1 257.8h0M215.5 265.3h0M213.4 291.9h0M211.1 288.9h0M200 297.8h0M213.3 271.1h0M215.5 278.3h0M213.5 294.3h0M209 293.8h0M212.6 283.7h0M201.8 278.3h0M211.5 280.1h0M203.1 235h0M203.6 277h0M212.6 294h0M198.5 296.2h0M197.4 273.5h0M209.7 276.7h0M213.6 281.8h0M207.9 275.5h0M208.4 290.1h0M198.4 268.5h0M206.9 301.9h0M215.1 289.9h0M205.8 280h0M207.5 280h0M201.2 280.1h0M199.4 253.5h0M214.1 272h0M200.5 260h0M215.2 270.8h0M214.1 272.5h0M198.6 274.2h0M212.5 291.1h0M197.3 283.8h0M214.6 234.7h0M212.7 261.1h0M196.8 262.9h0M210.9 258.5h0M204.8 266.5h0M199.9 274.3h0M204.8 298h0M204.9 262.1h0M214.3 243h0M207.2 248.2h0M214.2 267h0M208.1 256.7h0M204.6 249h0M200.5 247.9h0M211.2 275.5h0M208.2 261.2h0M197.2 252.5h0M201 267h0M204.8 284.6h0M201.2 276.9h0M196.9 281.3h0M215.9 285.3h0M211.4 275.2h0M210.1 296.3h0M208 271.5h0M209 270.1h0M200.4 264.2h0M203.3 283.5h0M206.1 274h0M213.5 272.6h0M202.7 283.8h0M211.2 259.2h0M198.2 278.5h0M209.9 294.1h0M197.7 305.2h0M205.3 274.2h0M198.6 275.7h0M203 298.7h0M214.2 276.6h0M211.4 290.4h0M214.9 271.9h0M211 279.5h0M206 258.3h0M201.2 255h0M212.9 272.9h0M200.4 280.7h0M201.9 284.1h0M208 270.2h0M200.8 290.9h0M210.9 272.2h0M198.3 267.9h0M198.5 270.7h0M202 251.6h0M204.7 251.5h0M200.9 262.4h0M198.9 296.1h0M205.6 298.4h0M215.7 246.5h0M213.8 262.9h0M213.2 292.1h0M210.1 274.2h0M202.8 246.5h0M204.8 258.2h0M211.8 251.8h0M208.7 268.7h0M199.8 281.6h0M202 290.1h0M210.9 277.5h0M210.6 272.5h0M203 282.2h0M210.1 275.1h0M198.2 277.8h0M204.5 287.4h0M197.6 250.3h0M197.7 268.9h0M215.9 287.6h0M201.6 260.7h0M208.7 269.8h0M211.6 271.9h0M200.1 254.9h0M207.7 289.4h0M214 248.4h0M207.3 284.8h0M213.3 256.9h0M211.4 263.1h0M203.5 287.8h0M203 241.5h0M215 273.4h0M205.5 296.5h0M214.9 303h0M199.8 287.4h0M201.5 263.3h0M200.7 252.4h0M211.5 271.5h0M203.5 246.5h0M199 267.1h0M215.1 277.7h0M211.5 254.6h0M207.1 280h0M197.9 280.6h0M202.6 267.1h0M205.8 257.5h0M207.1 269.9h0M204.5 271.5h0M212.5 279.2h0M198.3 284.5h0M204.3 268.6h0M209.8 264.6h0M202.3 288.9h0M198.3 277.6h0M206.7 250.4h0M211.7 249.3h0M209.6 270.4h0M211.1 294.5h0M197.2 254.5h0M211.9 266.6h0M209.4 293.7h0M207.5 285.6h0M212.5 274.7h0M198.5 288.5h0M205.1 294.8h0M210.8 279.1h0M213.4 271.6h0M204.2 277.2h0M197.1 286h0M207.3 275.6h0M208.8 287.1h0M202.2 277.9h0M215.6 278.3h0M206 298.7h0M206.5 301.4h0M213.7 266h0M201.5 262h0M198.4 284.6h0M203 302.2h0M212.6 259.7h0M210.3 275h0M211.6 289.5h0M204.7 282.7h0M199.6 281.3h0M204.1 282.2h0M205.3 274.7h0M199.3 289.5h0M206.8 284.7h0M209.1 290.6h0M202.3 283.3h0M209.8 275.1h0M199.7 286.7h0M209.5 298.4h0M197.5 272.8h0M208 282.2h0M200.6 278.2h0M210.9 299.3h0M214.6 278.6h0M203.4 271.5h0M200 281.3h0M207.5 264.2h0M197.4 274.2h0M209.5 248.5h0M198.5 269.5h0M210.2 293.5h0M212.2 302.2h0M205.7 275h0M208.4 263.2h0M211.6 275h0M212 297.7h0M198.1 285.2h0M201.8 274.3h0M210.9 283.4h0M205.9 265.6h0M210.8 273.4h0M207.4 283h0M207.6 246.7h0M207.9 278.7h0M202.3 275.1h0M210.4 263.1h0M210.2 275.9h0M211.7 260.9h0M210 263.2h0M202 263.4h0M208.3 283.2h0M202.7 284.6h0M205.2 275.6h0M211.3 271.3h0M202.5 270.4h0M215.2 268.1h0M212.4 269.9h0M211.1 283.7h0M200.2 267.4h0M209.1 280.6h0M200.8 253.5h0M197.7 275.8h0M204.9 253.9h0M200.3 258.9h0M211.2 294.4h0M210.5 279.3h0M210.9 247.5h0M215.3 276.2h0M198.6 267.2h0M207.9 291.1h0M204.8 267.5h0M197.4 271.7h0M199.5 293.3h0M215.8 270.9h0M215.4 268.3h0M198 279.5h0M201.7 283.9h0M199.6 275.6h0M197.5 271.4h0M198.3 298.4h0M196.7 275.2h0M197.6 275.2h0M212.5 266.8h0M206.5 284.4h0M211.6 279.8h0M197.1 276.9h0M203 273.4h0M199.4 290.6h0M200.4 284.4h0M212.7 273.5h0M212 296.7h0M208.7 281.9h0M211.6 281h0M209.2 279.2h0M200.5 246.3h0M198.4 277.5h0M214.9 289.7h0M211.6 287.5h0M209.6 285.7h0M207.8 281.7h0M207.3 280.6h0M215.2 285.4h0M203.5 257.2h0M214.8 272.6h0M207.1 271.6h0M207 284h0M212.8 271.7h0M203.5 287.5h0M208.1 274.5h0M211.6 254h0M204.2 297.5h0M209.7 298.7h0M200.3 295h0M202 246.9h0M208.7 288.2h0M199.9 297.4h0M209.5 244.8h0M210.1 273.9h0M207.8 277.9h0M197.4 264.9h0M200.2 270.1h0M206.7 277.5h0M205.2 283.8h0M199.2 272.9h0M211.4 302.3h0M200.1 280.2h0M210.1 265.4h0M202 293.1h0M199 261.7h0M216.1 266.6h0M203.2 246.4h0M207 269h0M209.5 268.9h0M207.7 262.8h0M215.9 253.1h0M204.3 274.9h0M202.1 266.4h0M209.8 297h0M204.4 290.6h0M202.5 272.8h0M207.2 257.8h0M209.5 270.7h0M207.7 253.7h0M208.9 298.3h0M207.2 265.3h0M198.8 283.8h0M204.9 281.1h0M197.8 289.8h0M215.5 278.4h0M212 281.1h0M199.2 280.6h0M206.3 280.1h0M205.2 276.6h0M206.6 281.4h0M213.3 257.8h0M206.9 280h0M213.6 273.9h0M201.4 270.5h0M201.5 271.9h0M207 288.3h0M203.3 293.2h0M200.4 280.4h0M210.6 270.3h0M197.2 268.3h0M204 286.6h0M204.7 273.6h0M213.8 293.2h0M205.7 271.8h0M205.3 266.3h0M208.3 291.7h0M200.9 270.3h0M214.2 297.6h0M201.7 271.6h0M215.6 270.1h0M209.2 284.8h0M199.7 271.3h0M209.6 261.7h0M211.4 279.4h0M205.1 276.4h0M209.4 290.8h0M211.9 277.2h0M215.9 283h0M199.8 270.1h0M207.4 280.8h0M201.1 280.3h0M211.1 262.2h0M208.5 267.7h0M209.1 258.8h0M211.8 295.6h0M196.8 272.6h0M202.7 285.4h0M215.1 248.1h0M212.8 289.4h0M199 278.2h0M200.6 248.1h0M201.4 253h0M197 282.8h0M198.1 266.6h0M204.4 258.8h0M203 274h0M213.7 272.6h0M207.9 265.2h0M206.9 304h0M209.3 297.6h0M207.9 282.8h0M210.2 249.5h0M212.1 288.7h0M215.7 278.6h0M200.3 253.7h0M199.3 255.6h0M216 272.5h0M197.3 278.8h0M199.2 266.1h0M215.5 268.5h0M206.5 269.9h0M201.5 243.2h0M199.3 295.2h0M205.5 264h0M205.1 271.7h0M203.6 263.8h0M198.1 274.7h0M203.7 289.6h0M205.2 291h0M213.7 260.2h0M210.3 264.3h0M215.8 266.3h0M208.4 289.5h0M212.7 288.3h0M212.6 290.1h0M202.8 271.5h0M209 299.9h0M212.6 261.3h0M210.6 277.5h0M198.1 266.6h0M205 275.3h0M197.8 291.7h0M210.5 298.6h0M215.2 269.7h0M215.9 274.8h0M213 267h0M211.8 287.8h0M213.2 260h0M206.2 275.6h0M208.2 285.7h0M207.8 272h0M204.3 262.7h0M203.7 275h0M215.6 284.6h0M213 273.4h0M197.8 303.2h0M200.2 283.4h0M214.8 255.1h0M204.2 281.3h0M212.1 286.5h0M205.5 296.1h0M204.5 287.5h0M202.8 287.6h0M197.9 255.8h0M212.5 264h0M201.9 274.5h0M200.8 273.1h0M215.6 254.8h0M207.1 278.5h0M214.8 278.5h0M205.4 262.1h0M200.4 276.5h0M212 281.8h0M202.4 263.3h0M213.5 283.9h0M203.7 264.5h0M202.9 292.7h0M204.3 289.8h0M206.7 248.1h0M206.4 279.5h0M204.8 281.6h0M208.9 255h0M200 271.1h0M215.5 266.5h0M203.9 296.9h0M208.9 243.2h0M214.6 271.2h0M203.4 270.5h0M198.7 266.6h0M197.1 289.4h0M215.6 255h0M201.8 266.9h0M210.3 267.5h0M211.9 292.4h0M198.3 267.4h0M198.3 289.1h0M210.3 288.3h0M205 291.7h0M203.3 279.9h0M198.3 292.9h0M213.3 273h0M206.6 251.8h0M205.9 258h0M213.9 273h0M212.5 278.3h0M205.2 245.8h0M203.5 288.1h0M202.7 275.8h0M207.2 282.1h0M202.3 281.5h0M202.1 275.7h0M198.7 253.8h0M203.6 269.9h0M212.9 259.8h0M198.7 257.6h0M211.5 260.7h0M209.8 284.7h0M214.8 289.1h0M198.8 268.8h0M211.3 259.3h0M201.9 292.7h0M209.1 276.8h0M211.1 276.8h0M197.7 267.8h0M200.9 278.7h0M199.4 272.3h0M199.4 283h0M208.7 293.2h0M201.4 261.2h0M208.9 280.7h0M198.4 281.3h0M198.8 288.5h0M200.8 268.5h0M215.9 275.5h0M213.7 273.8h0M200.2 286.1h0M204.3 278.2h0M208.1 283.3h0M202.1 280h0M203.5 288.1h0M206.7 284.8h0M209.2 276.6h0M205.7 277.4h0M199.8 276.1h0M206.5 265h0M213.7 293.1h0M202.8 263.2h0M202 274.4h0M199.4 267.9h0M207.8 256.4h0M200.1 287.1h0M214.5 271.7h0M211.8 276.7h0M210.2 288h0M200.3 247.4h0M200.2 267.7h0M214.6 284.2h0M197.6 268.5h0M202.5 274h0M211.8 297.3h0M204.9 273.8h0M211.6 290.6h0M202.8 252h0M214.4 299.9h0M202 282.9h0M202.6 280.3h0M198.8 280.3h0M197.3 274.1h0M202.9 250.2h0M197.5 268.8h0M212.2 280h0M216.1 274.4h0M204.1 278.6h0M211.8 277.3h0M209.5 270.1h0M198.2 273.7h0M198 263.5h0M207.8 277.2h0M198.3 273.3h0M211 240.5h0M213.4 276.1h0M215.5 272h0M199.2 275.3h0M209.3 252.5h0M213 271h0M209.5 259.4h0M199.6 258.4h0M202.2 254.4h0M200.8 244.7h0M211 291.2h0M211.4 278.6h0M203.5 288.4h0M203.1 270.1h0M215 276.2h0M215.3 256.1h0M212.8 269.1h0M204.5 265h0M208.9 283.3h0M198 284.3h0M211.6 290.2h0M203 252.6h0M198.7 278.2h0M207.3 282.4h0M204.8 247.7h0M198.8 290h0M199.1 270.9h0M213.8 299.9h0M206.3 265.2h0M201.1 280.1h0M201.3 281h0M209.5 266.9h0M211 268.9h0M197.9 283.8h0M197.9 277.1h0M203.8 291.5h0M205.2 288.8h0M203.3 257.1h0M213.2 285.4h0M198.2 287.6h0M205.9 289.9h0M210.9 280.6h0M196.8 264.8h0M208.3 254.2h0M207.2 290h0M200.3 286.1h0M208.5 272.2h0M201 288.8h0M213.5 253.8h0M211.2 292.1h0M201.9 277.8h0M211.2 278.3h0M213.3 295.8h0M198.9 290.4h0M210.3 260.3h0M205.6 286.4h0M214.1 260.9h0M212 278.6h0M213.5 273.1h0M199.5 274.5h0M203.5 279.5h0M211.5 287.5h0M210.1 271.8h0M200.5 292.7h0M203 255.4h0M198.5 260.1h0M201.4 288.2h0M204.8 280.2h0M203.8 293.7h0M198.5 279.4h0M201.9 262h0M209.4 273.9h0M200.9 239.5h0M209.1 295.5h0M214.8 293.2h0M209.6 247.1h0M210.7 272.9h0M215.6 266.7h0M213.4 274.5h0M204.7 270.4h0M200.5 289.5h0M213.9 268.3h0" stroke="#000" stroke-width="0.96" stroke-linecap="round" fill="none"/>
<line x1="196.8" y1="319.8" x2="216" y2="319.8" stroke="#000" stroke-width="1.5" stroke-opacity="0.86"/>
<polygon points="219.6,320 219.6,319.2 223.6,316.5 227.1,313.4 229.45,310.2 229.45,305 229.45,300.6 228.6,297.2 228.1,291.8 228.1,286.5 228.4,281.2 228.8,275.9 229.45,265 229.45,231.9 229.75,231.9 229.75,265 230.4,275.9 230.8,281.2 231.1,286.5 231.1,291.8 230.6,297.2 229.75,300.6 229.75,305 229.75,310.2 232.1,313.4 235.6,316.5 239.6,319.2 239.6,320" fill="#C07CF5" stroke="#222" stroke-width="0.3" stroke-opacity="0.55"/>
<line x1="229.6" y1="299.47" x2="229.6" y2="310.28" stroke="#c6c6c6" stroke-width="1"/>
<line x1="229.6" y1="231.9" x2="229.6" y2="272.97" stroke="#c6c6c6" stroke-width="1"/>
<line x1="220" y1="319.8" x2="239.2" y2="319.8" stroke="#000" stroke-width="1.5" stroke-opacity="0.86"/>
<line x1="229.6" y1="231.9" x2="229.6" y2="300" stroke="#B9A6D6" stroke-width="0.9"/>
<path d="M226.4 278.9h0M236.3 283h0M226.3 279.8h0M224.8 284.6h0M224.5 294.1h0M221.6 285h0M238.5 296.7h0M222.3 287.3h0M221.6 284.5h0M226.4 291.4h0M233.3 270.8h0M238 296h0M238.4 291.1h0M225.3 299.3h0M229.4 276.3h0M231 264.7h0M236.2 281h0M232.3 254h0M232.5 286.8h0M236.4 270.9h0M230.5 285.1h0M226.7 253.7h0M237.8 288.9h0M233.3 286.3h0M239 289.9h0M239 290.9h0M228.2 296h0M237.4 294.2h0M220.1 297.3h0M232.1 283.8h0M239.2 291.3h0M232.4 282.1h0M225.1 292.5h0M224.4 250.7h0M229.8 286.6h0M221.4 279.6h0M220.1 276.7h0M228.1 294.6h0M226.5 285.2h0M230.6 271.8h0M227.3 277h0M224.7 293.1h0M237.9 303.5h0M221.4 286.8h0M223.6 295.2h0M221.5 295.2h0M238.7 297.4h0M230.1 304.1h0M232.2 287.5h0M225.2 276.9h0M227 280.8h0M235.2 295h0M232.7 287.2h0M223.6 285.1h0M234 285.8h0M221.6 294.2h0M220.8 275.2h0M220.1 289.9h0M227.7 273.9h0M237.1 285.2h0M237.3 295h0M222.3 292.4h0M229 290.1h0M237.8 275.1h0M223.1 288h0M223 291.2h0M237.3 295.9h0M228 253h0M232 274.5h0M236.5 266.2h0M221.8 278.7h0M228 280.6h0M221.9 283.8h0M225.3 287h0M229.7 280h0M223 272.2h0M226 286h0M227.3 300h0M223.4 279.8h0M223.4 265.6h0M236.8 289.6h0M236.1 266.5h0M230.3 281.7h0M237.9 280.7h0M222.7 302.3h0M238.2 283.1h0M223.7 259.2h0M230 278.5h0M237.8 283.7h0M221.4 304.8h0M220.1 298.2h0M231.5 293.9h0M238.7 291.5h0M235.8 288.3h0M224.3 278.3h0M230.4 297.2h0M238.4 279.1h0M235.2 278.9h0M227.9 291.8h0M235.3 285.5h0M228.4 265.2h0M235.9 284.4h0M228 291.4h0M222.2 239.3h0M222 289h0M220 293.3h0M225.2 261h0M233.5 297.5h0M224.9 285.4h0M231.4 274.9h0M222.4 261.5h0M223.6 253.6h0M233.4 301.3h0M239.2 282.1h0M235.6 292.6h0M233.9 297.5h0M222.5 279.8h0M224.5 281.7h0M238.5 282h0M226.1 282.6h0M238.6 299.7h0M222.5 290.5h0M225.1 289.4h0M232.2 292.6h0M224.3 292.1h0M221.2 286.6h0M232.6 279.1h0M223.8 277.2h0M225.3 281.9h0M221.5 285.6h0M233.6 282.9h0M220.5 277.4h0M223 305.3h0M226.4 301.3h0M233.7 258.8h0M227.2 276.9h0M234.5 284.3h0M232.4 287.9h0M222.5 296.3h0M226.7 263.7h0M236 277.2h0M231.7 282.3h0M229.6 287.3h0M220.6 294.2h0M237.8 280.4h0M233.2 276.7h0M224.2 269.8h0M238.6 291.9h0M228 297.9h0M221.3 289.2h0M228.1 283.1h0M227 254.3h0M232.8 293.1h0M224.5 291.9h0M223.3 272.7h0M235.1 285.8h0M221.3 283.5h0M229.4 286.4h0M225.2 293.3h0M225.8 298.1h0M220.6 293.7h0M237 291.7h0M224.8 289.2h0M236.7 283.8h0M225.2 278.4h0M239.3 292.7h0M236.2 296.2h0M226.9 286.7h0M232.4 286.5h0M233.8 299.5h0M232.3 285.1h0M236 284h0M221.5 282.4h0M235.6 267h0M235.9 290.7h0M237.4 276.3h0M224.1 283.8h0M236 294.8h0M222.2 268.5h0M232.7 285.4h0M220.5 278.9h0M232.2 295.1h0M238.5 278.2h0M232.9 295.6h0M226 263.9h0M222.5 287.1h0M236.1 297.2h0M225.3 291.6h0M230.4 300.1h0M236.2 275h0M225.4 275.4h0M237 282.5h0M230.2 290.2h0M225.1 298.5h0M226.3 290.9h0M224.3 293.8h0M220.5 288.2h0M234.3 298.7h0M227.6 274.6h0M227.4 280.4h0M229.5 276.2h0M226.2 279.6h0M233.1 286.2h0M230.5 286.5h0M237.9 303.8h0M225.4 285.4h0M225.9 268.3h0M227.5 284.9h0M226 293.7h0M221.3 293h0M234.5 268.3h0M226.5 254.6h0M235.6 269.1h0M224.4 294h0M221.2 274.8h0M230.2 246.3h0M229.4 277.6h0M230.2 297.6h0M233.4 276h0M231.9 289.6h0M228.6 299h0M238.4 286.7h0M229.1 280.4h0M222.5 294.9h0M237 282.2h0M233.3 287.9h0M228.1 287.7h0M231.2 299h0M224.3 298.1h0M220.6 278.7h0M222.7 273.3h0M231.6 294.8h0M226.6 269.6h0M220.3 272.2h0M221.8 258.4h0M226.3 299.6h0M220.5 296.2h0M229.2 265.7h0M233 278h0M223.3 283.8h0M237.5 294.8h0M229.5 295h0M230.5 280h0M235.3 283h0M234.1 284.9h0M227.3 268.1h0M227.9 296.8h0M232.8 276.4h0M222.8 281.7h0M237.4 279.2h0M228.4 294.4h0M226.4 285.6h0M229.4 297.5h0M231.4 276.7h0M236.9 267.5h0M225.2 290.3h0M237.6 301.7h0M230.8 285.9h0M237.2 294.5h0M232 289.9h0M235.6 232.3h0M220.6 287.7h0M228.2 283.7h0M223.1 285.3h0M223.1 271.9h0M230.8 262.8h0M220.1 282.2h0M220 264.5h0M232.1 254.6h0M222.9 284.6h0M232.8 277.4h0M228.2 272.7h0M237.2 296.6h0M233.5 259.6h0M230 286.7h0M223.6 288.9h0M237.3 270.5h0M227.8 283.6h0M239 289.8h0M225.2 286.7h0M227.2 278.5h0M233.1 271.3h0M223.3 293.8h0M220.4 295.6h0M230.1 279.8h0M223.7 248.2h0M236 279.5h0M231.8 281.6h0M224.2 299.8h0M229.9 274.9h0M237.5 284.7h0M230.5 263.6h0M229.9 278.5h0M220.2 286.1h0M232.5 294.3h0M229.6 294.6h0M232.6 303.8h0M225.4 270.8h0M238.4 279h0M237.9 295.3h0M225.3 271.4h0M228 281.7h0M230.7 298.7h0M232.7 300.1h0M222.8 259.3h0M236 292.4h0M238.6 290.7h0M225.2 295.8h0M222.8 276.6h0M229.1 259.3h0M232.9 293.4h0M239 297.8h0M228.5 261h0M238.5 292.7h0M222.6 294.3h0M223.5 298.9h0M238.1 287.4h0M238.4 248.3h0M220 282.9h0M230.1 298.5h0M233.9 292.3h0M234.4 275h0M231.5 290.5h0M227.3 303.9h0M227.2 272h0M223.7 266.3h0M228.2 289.4h0M227.7 287.9h0M222.5 285.7h0M239.2 283.5h0M227.5 241.2h0M222 285.5h0M233.1 290.3h0M233.5 293.1h0M237 264.8h0M227.1 285.5h0M238 283.3h0M237.5 273h0M236.7 285.6h0M228.8 297.3h0M238.2 285.2h0M236.6 276.9h0M234.9 290.5h0M223.2 242.1h0M229.5 292.2h0M225.8 284.3h0M238 275h0M220.1 287.3h0M234.1 295.5h0M227.4 290.5h0M237.1 294.7h0M234.1 279.9h0M220 293.7h0M221.8 272.1h0M221.3 273.6h0M229.7 274.7h0M226.7 276.9h0M236.2 287.3h0M235.3 277.2h0M226.5 298.5h0M235.5 285.7h0M235.5 274.5h0M234.9 287.9h0M222.3 277.2h0M234.7 290.8h0M233.7 290.3h0M232.1 293.5h0M227.4 274.1h0M236.4 282.8h0M231.2 287.3h0M225.9 266.3h0M234.3 288.2h0M221.9 274.5h0M229.8 285.3h0M226.2 286.9h0M230.7 269.6h0M236.3 270h0M223.4 275.1h0M237.8 282.9h0M235.9 285.6h0M220.7 292h0M221.9 277.5h0M222 288.6h0M235 286.2h0M233.5 285.5h0M237.5 276.1h0M233.8 290h0M237 283.5h0M229 290.1h0M228.8 294.9h0M230.7 280.5h0M224.5 286.8h0M223.5 293.3h0M229.8 293.1h0M239.2 292.6h0M226.8 278.2h0M234.9 298.7h0M231.2 289.3h0M238.3 283.6h0M231.5 292.8h0M222.6 289.4h0M236.8 284.4h0M225.5 276.8h0M233 286h0M221.8 283.6h0M227.5 292.3h0M232.8 291.1h0M228.6 287.4h0M227.4 276.6h0M229.7 264.4h0M227 292.8h0M238.5 275.4h0M233.6 293.1h0M237.4 276.3h0M236.1 281.6h0M238.6 282.6h0M238 252h0M234.6 274.1h0M222.4 290.5h0M236 276.1h0M233.7 279.8h0M236.7 277.7h0M238 268.4h0M220.1 283h0M232 291.2h0M222.2 293.2h0M221.7 268.6h0M229.8 300.8h0M220.6 278.8h0M223.7 294.4h0M230.3 275.5h0M234.6 288.1h0M223.6 290.3h0M231.8 284.9h0M231.9 283.8h0M220.3 287.1h0M227.2 280.2h0M221.5 286h0M223.4 274.3h0M223 289.1h0M221.7 296.7h0M224.5 295.7h0M225.5 256.7h0M233.1 298.2h0M228.7 275.9h0M231.3 280.8h0M234.8 290.1h0M222.3 290.8h0M223.9 278.7h0M222.7 294.4h0M220.9 300.3h0M229.5 304.4h0M238.3 289.1h0M235.1 299.8h0M237.7 292.9h0M221.4 271.7h0M235 282.2h0M221.1 284h0M235.3 284.8h0M222.5 275.5h0M224.9 282.5h0M232.8 286.6h0M224.6 291.4h0M225.6 287.2h0M220.7 256.6h0M236.8 287.5h0M222.1 292.8h0M231.9 300.8h0M231.7 276.5h0M232.9 282.5h0M222.3 272.9h0M233.2 298.9h0M232.3 289.7h0M229.2 288.1h0M226.2 281.8h0M239 280.5h0M225.2 292.7h0M226.4 281.9h0M221.9 299.7h0M223.4 294.6h0M226.5 293.8h0M225.2 291h0M227 274.4h0M222.3 287.4h0M232.3 286.7h0M233.8 276.8h0M220.5 295h0M229.7 281h0M236.8 301.3h0M221.1 289.1h0M223.9 284.1h0M230.6 292.9h0M222.5 283.9h0M224.9 300h0M226.7 280.7h0M232.9 288.6h0M232.8 272.1h0M223.9 287.1h0M235 277.7h0M230.1 286.5h0M227.4 284h0M237.2 251.2h0M222.9 290.9h0M222.8 278h0M233.7 258.5h0M222.9 285h0M223.2 279.2h0M228.3 298.4h0M222 291.9h0M231.8 297.6h0M231.9 288.9h0M221.9 282.5h0M221.6 275.1h0M224.6 296.3h0M221.7 280.9h0M239.1 233.3h0M233.2 295.8h0M232.8 287.7h0M236.7 284.1h0M233.8 295.1h0M232 297.3h0M222.9 277.8h0M233.1 290.7h0M234.6 279.6h0M223.1 285.5h0M221.6 281.7h0M223 290.6h0M233 300.5h0M228.6 295.1h0M230.5 279.4h0M234.8 287.9h0M237.9 280.9h0M233.5 294h0M229 278.3h0M230.8 277.7h0M224.3 284.4h0M231.1 287.7h0M234.3 289.7h0M235.8 260.6h0M231.8 283.1h0M238.5 283.6h0M231.2 283h0M237 292.1h0M222.1 238.1h0M233.4 301.6h0M230 281.7h0M224.3 273h0M224.1 279.1h0M234.9 261.2h0M229.1 278.6h0M222.8 286.1h0M238.4 232.4h0M225.9 298.7h0M227.7 287.6h0M224.7 281h0M229.3 286.1h0M225.5 272.6h0M237.4 285.6h0M238 277h0M235.3 259.2h0M229.1 269.7h0M230.6 294.4h0M233.1 276.1h0M233.8 292.4h0M228.6 281.1h0M230.5 283.1h0M231 289.4h0M232 274.2h0M223.4 280.2h0M237.3 282.4h0M227.2 275.9h0M231.6 288.8h0M234 295.3h0M228.3 289.6h0M225 294.3h0M230.8 276.8h0M221.4 287.1h0M225.7 274.7h0M229.4 294.2h0M237 279.7h0M227.8 291.6h0M235.2 275.2h0M225.7 278.6h0M231.5 266.6h0M236.3 286.7h0M237.1 285.9h0M237.1 272.2h0M236.4 279.5h0M224.1 298h0M230.8 288.2h0M222.6 298.9h0M237.3 275.9h0M229.2 288.7h0M223.2 274.6h0M236.4 294.1h0M228.8 273h0M235.3 284.5h0M223.3 278.4h0M232.3 276.3h0M229.6 291.5h0M231.9 292.1h0M230 282.9h0M228.7 292.2h0M225.2 243.5h0M224.5 276.4h0M235.9 293.3h0M233.9 295.5h0M224.4 244.2h0M228.2 297.1h0M231.9 266.6h0M224 287.7h0M233.4 282.1h0M233.4 283.8h0M233.3 282.9h0M225 286.6h0M233.2 289.3h0M222.8 284.8h0M222 273.6h0M231 277.7h0M224.7 279.9h0M226.3 286.5h0M220.5 282.9h0M224.9 277.8h0M233.7 287.6h0M230.2 283.8h0M238.2 233.9h0M229.3 282h0M236.7 295.4h0M226.4 293.7h0M225.4 279.8h0M220.4 286.6h0M229.2 298.7h0M232.8 283.3h0M223 277.1h0M221.9 295.9h0M222.3 290.2h0M234.1 290.7h0M234.8 285.2h0M231.4 286.7h0M225.5 287.9h0M223.2 279.6h0M228.4 298.8h0M231.9 292.1h0M235.7 276.4h0M225.7 270.9h0M232.4 289h0M234 300.1h0M231.8 299h0M231.3 284.7h0M238.8 282h0M220.4 267.8h0M231 264.4h0M220.9 253.5h0M222 280.8h0M227.8 293.4h0M223.8 288.8h0M235.9 276.4h0M237.8 276.8h0M238.2 294.4h0M224.7 297.9h0M228.4 262.6h0M238.8 296.4h0M236.3 287.2h0M224.1 275.2h0M221.1 287h0M233.7 281.2h0M230.6 290.8h0M235.9 278.7h0M228.9 266.6h0M227.2 289h0M222.8 295.7h0M236.3 292.6h0M235 284.7h0M237.9 282.7h0M233.5 286.9h0M229.1 246.8h0M238.5 292.8h0M224.5 276.2h0M239.1 289.1h0M220.3 272.9h0M225.9 267.5h0M231.1 292.1h0M224.7 286.5h0M227.8 296.5h0M238.6 267.8h0M224.6 290.5h0M222.4 285.6h0M233.8 285.4h0M233.2 299.9h0M223.9 283.6h0M227 276.9h0M225.3 293.3h0M236.5 288.2h0M234.9 289.2h0M221.1 286.7h0M223.8 288.4h0M238.9 288.1h0M224.3 289.6h0M237.3 276.1h0M227.2 284.1h0M225.3 293.9h0M238.2 295.7h0M223.5 294.2h0M234.6 242.4h0M230.1 279.3h0M230.1 279h0M222.5 273.6h0M224.8 245.6h0M222.6 287.7h0M229.4 268.2h0M234.4 276.8h0M232 291.6h0M235.5 299.1h0M226.4 233.5h0M238.1 272.5h0M224.8 293.1h0M225.5 286.2h0M233.5 285.1h0M232.9 285.5h0M225.7 288.7h0M223 285.7h0M237.7 255.3h0M237.5 285.9h0M234.8 300.9h0M233.6 269.2h0M235.5 296.7h0M238 275h0M237.9 274.1h0M229.3 279.2h0M229.3 287.6h0M236.4 300.8h0M238.5 295.4h0M220.4 281.9h0M220.5 284h0M238.7 287h0M228.1 285h0M237.8 289.8h0M234.9 234.8h0M238.1 282.9h0M223.5 265.8h0M232.8 272.1h0M222.4 288.3h0M235.7 289.2h0M223.9 285.1h0M221.4 281.3h0M234.5 293.2h0M233.6 285.3h0M235 290.7h0M225.2 257.1h0M231.4 287.9h0M224 289.6h0M224.6 295.2h0M229.9 282.5h0M230.4 286.4h0M227 278h0M227.5 291.9h0M237.6 284.8h0M223.1 274.2h0M231.9 285.6h0M239.3 291.9h0M230.7 291.4h0M223.5 285.8h0M223.8 293.3h0M226 291.6h0M229.2 294.4h0M229.2 286.1h0M232.9 280.2h0M220.2 276.4h0M230.2 281.7h0M219.9 277.2h0M239.2 290.7h0M228 246h0M232.6 273.5h0M228.4 273.4h0M239 299.3h0M234.7 294.9h0M226.5 240.9h0M224.3 276.1h0M222.7 290.2h0M228.2 283.3h0M236.2 290.6h0M221.2 289.3h0M226.7 293.9h0M233.9 264.8h0M227.3 283.3h0M231.8 285.1h0M234.3 284.6h0M229.2 294.8h0M231.1 290h0M221.4 274.8h0M223.3 283h0M222.7 295.2h0M220.7 293.1h0M239 249.4h0M229.1 249.7h0M229.7 288.4h0M231.3 296.8h0M235.8 281.2h0M237.6 273.6h0M228.3 285.3h0M222.1 288h0M228.7 294.3h0M234.2 271.7h0M238.1 266.5h0M222.2 297.1h0M227.6 300h0M233 291.5h0M225.5 273.2h0M233.3 280.1h0M233.7 287h0M234 239.9h0M225.7 272.8h0M231.2 283.1h0M219.9 294.6h0M230.4 289.3h0M225.5 287.7h0M232.1 297.1h0M222.3 277.9h0M231.8 290.7h0M239.3 292.9h0M223.1 293.1h0M229.9 274.2h0M223.3 280.6h0M231.8 297h0M235.6 283.8h0M225.3 283h0M225 299.1h0M236.6 286.6h0M230.9 296.7h0M226.9 284.4h0M231.5 290.7h0M227.7 281.3h0M231.6 282.2h0M228.3 287.8h0M238.1 300.1h0M222.3 291.8h0M225.5 289h0M225.2 280.8h0M233.3 295.8h0M226.1 277.1h0M225.8 289.1h0M234.6 294.8h0M228.2 274.4h0M228.9 295.2h0M220.1 289.2h0M232.2 284.1h0M239 273.6h0M230 276h0M238.7 300.4h0M237.1 257.6h0M237.7 292.1h0M224.6 291.6h0M229.5 277.8h0M238.8 282.8h0M228.1 280.9h0M219.9 288.6h0M226.8 295.6h0M228.1 291.5h0M222 285.7h0M228.8 281h0M225.7 294.9h0M233.5 293.2h0M224.9 287.6h0M237.5 283.2h0M226.9 275h0M236.1 264.9h0M227.2 291.4h0M229.5 284.6h0M221.6 299.3h0M230.3 276.2h0M222.3 234.1h0M238.1 293.2h0M224.9 292.4h0M231.5 279.3h0M235.3 295.1h0M228.2 272h0M233.6 293.7h0M238.6 274.1h0M223.5 265.6h0M229.4 286.4h0M229.7 295.2h0M225.9 291.1h0M233.9 285.5h0M229.8 299h0M231.2 280.5h0M226.9 275.2h0M233.6 285.5h0M228.7 302h0M224.2 301.1h0M229.2 284.1h0M229.4 286h0M233.6 289.9h0M235.7 279.9h0M227.1 280.5h0M224.9 298h0M238.5 260.6h0M235.4 293.4h0M233 282.1h0M234.4 282.2h0M222.5 288.1h0M223.8 283.5h0M231 294.2h0M221.8 286.6h0M238.2 292.9h0M227.4 263h0M220.7 303.4h0M230.5 277.2h0M226 299.3h0M228.7 286.2h0M230 291.8h0M233 280.2h0M239 272.7h0M222.5 290.6h0M228.9 293h0M221.6 266.4h0M230.1 304.6h0M220.8 240.5h0M220.9 293.3h0M234.2 295.2h0M233.7 303.1h0M228 279.8h0M222.3 234.2h0M224.4 273.1h0M237.1 268.6h0M230.5 289.2h0M228.4 287.1h0M236.9 263h0M231.3 288.5h0M238.7 291.3h0M220.2 267.2h0M235.1 290.9h0M229.8 285.9h0M232.5 288.7h0M221.7 298h0M220.7 301.2h0M227.6 281.9h0M233.4 273.2h0M222.7 281.8h0M225.4 265.1h0M237.7 279.3h0M220.3 240.5h0M236.1 294.9h0M226.6 278.7h0M238 271.4h0M222.6 289.1h0M227.7 284.7h0M226.2 291.1h0M238.4 286.4h0M228.3 284.1h0M222.4 292h0M224 289.7h0M235.5 281.9h0M230.7 298.1h0M223.5 261.1h0M230.3 294.6h0M234.8 275.8h0M233 286.3h0M224.3 294h0M238.8 287.1h0M223.5 287.7h0M225.6 277.5h0M234.9 280.3h0M225.3 298.4h0M232.6 265.6h0M223.4 295.8h0M220.8 298.1h0M230.7 273.6h0M220.2 299.5h0M223.9 240.9h0M238 260h0M232.2 284.6h0M230.2 281.6h0M233.1 292h0M231 298.2h0M233.2 261.7h0M227.4 290.3h0M236.6 279.5h0M222.8 292h0M232.5 288h0M220.4 277h0M227.3 293.3h0M221.1 274.6h0M226.7 277.1h0M228 297h0M225.1 273.8h0M234.5 283.4h0M232.7 260.8h0M231.1 294.8h0M220 284.8h0M223.5 281.4h0M227.1 246h0M223.9 280.1h0M233.9 278.9h0M223.9 291.1h0M231 278.6h0M226.4 280.5h0M232.7 264.6h0M236.5 274.4h0M229.3 276.6h0M227.9 276.7h0M229.4 291.9h0M226.6 232.5h0M235.6 287.1h0M222.9 277.5h0M225.8 290.5h0M224.9 295.4h0M234.1 286h0M223.5 286.8h0M235 296.9h0M236.8 238.1h0M226.4 270.5h0M238.6 264h0M224.5 285.1h0M232 294h0M226 281.8h0M223.9 285.2h0M233 296.6h0M232.7 291.9h0M235.6 291h0M237.5 281.1h0M223.6 297.8h0M221.2 266.7h0M220.8 262.1h0M223.8 293.3h0M225.2 296.5h0M231.9 283.6h0M224.5 298.6h0M232.1 293.1h0M232.2 296.7h0M223.7 293.5h0M231.1 292h0M229.7 270.2h0M234.3 278.6h0M221.1 278.2h0M226.1 285.2h0M237.1 286h0M221.5 297.4h0M224.4 270.2h0M232.7 300.1h0M220 285.1h0M220.7 299.5h0M225.8 278.1h0M234.2 289.4h0M234.2 289.7h0M236.2 284.8h0M224 291.8h0M231.9 289.8h0M220.2 282.4h0M221.3 264.5h0M221.2 278.2h0M224.4 292.6h0M236.3 264h0M225.3 283.4h0M223.6 282.8h0M223.7 284.7h0M221.2 286h0M237.7 284.2h0M221.9 284.5h0M227.3 289h0M234.6 299.3h0M228.8 295.2h0M231.6 234.4h0M232.4 269.1h0M220 296.4h0M230.5 289.9h0M221.6 262.3h0M228.9 275.2h0M226.2 282h0M237.5 275.4h0M236.1 283.1h0M233.4 280h0M239.2 296.5h0M238.4 276.6h0M233.3 273.6h0M238.1 274.1h0M237.8 291.5h0M231.4 288.3h0M228.6 300h0M221.9 285.4h0M236.1 266.3h0M234.9 292.4h0M231.8 277.8h0M239.2 292.3h0M226.8 294.6h0M236.4 262.7h0M233.3 259.3h0M230 301.6h0M235.1 295.1h0M221.4 293.9h0M238.8 286.8h0M236.7 287.5h0M224.7 294.5h0M234.4 274.3h0M224.4 293.5h0M234.6 292.3h0M222.6 280.2h0M230.4 257h0M222.5 293.3h0M235.9 274.6h0M220.6 299.1h0M238.1 278.7h0M233 286.3h0M225.9 300.5h0M234.2 264.9h0M225.2 296.4h0M228.7 297h0M227.7 267.2h0M227.4 288.4h0M235 292.2h0M231 290.3h0M228.1 261.9h0M236.2 276h0M237.4 281.4h0M222.9 297.6h0M235.7 268.1h0M231.5 299.7h0M225.6 271.6h0M237.3 246.1h0M238.4 276.8h0M231.9 274.4h0M226.5 288.6h0M223.3 295.4h0M230.8 279.2h0M236.5 291.9h0M229.2 255h0M222.4 238.2h0M224.6 285.2h0M237.1 265.8h0M226.3 280.9h0M220.8 276.2h0M230.5 277.8h0M229.5 273.7h0M227.4 298.6h0M221.8 279.2h0M224.8 279h0M228.1 286.4h0M233 288.1h0M234.3 284.5h0M220 276.3h0M227 274.5h0M224.3 272.1h0M230.9 254h0M234.1 295h0M233.9 265.7h0M231.3 298.7h0M227.1 294.1h0M222.7 294.1h0M225.6 282.6h0M226.4 269.1h0M225.3 292.1h0" stroke="#000" stroke-width="0.96" stroke-linecap="round" fill="none"/>
<line x1="220" y1="319.8" x2="239.2" y2="319.8" stroke="#000" stroke-width="1.5" stroke-opacity="0.86"/>
<line x1="146.2" y1="219.5" x2="146.2" y2="325" stroke="#000" stroke-width="1.2"/>
<line x1="145.6" y1="324.4" x2="243.8" y2="324.4" stroke="#000" stroke-width="1.2"/>
<line x1="143.4" y1="319.6" x2="146.2" y2="319.6" stroke="#000" stroke-width="0.9"/>
<text x="140.2" y="321.4" font-size="5.8" text-anchor="end" fill="#000" stroke="#000" stroke-width="0.05">0</text>
<line x1="143.4" y1="298" x2="146.2" y2="298" stroke="#000" stroke-width="0.9"/>
<text x="140.2" y="299.8" font-size="5.8" text-anchor="end" fill="#000" stroke="#000" stroke-width="0.05">1</text>
<line x1="143.4" y1="276.4" x2="146.2" y2="276.4" stroke="#000" stroke-width="0.9"/>
<text x="140.2" y="278.2" font-size="5.8" text-anchor="end" fill="#000" stroke="#000" stroke-width="0.05">2</text>
<line x1="143.4" y1="254.8" x2="146.2" y2="254.8" stroke="#000" stroke-width="0.9"/>
<text x="140.2" y="256.6" font-size="5.8" text-anchor="end" fill="#000" stroke="#000" stroke-width="0.05">3</text>
<line x1="143.4" y1="233.2" x2="146.2" y2="233.2" stroke="#000" stroke-width="0.9"/>
<text x="140.2" y="235" font-size="5.8" text-anchor="end" fill="#000" stroke="#000" stroke-width="0.05">4</text>
<line x1="159.6" y1="324.4" x2="159.6" y2="327.2" stroke="#000" stroke-width="0.9"/>
<text x="163.2" y="333.6" font-size="6.2" text-anchor="end" fill="#000" stroke="#000" stroke-width="0.13" transform="rotate(-45 163.2 333.6)">L+Ado</text>
<line x1="183.2" y1="324.4" x2="183.2" y2="327.2" stroke="#000" stroke-width="0.9"/>
<text x="186.8" y="333.6" font-size="6.2" text-anchor="end" fill="#000" stroke="#000" stroke-width="0.13" transform="rotate(-45 186.8 333.6)">L+PGE2</text>
<line x1="206.4" y1="324.4" x2="206.4" y2="327.2" stroke="#000" stroke-width="0.9"/>
<text x="210" y="333.6" font-size="6.2" text-anchor="end" fill="#000" stroke="#000" stroke-width="0.13" transform="rotate(-45 210 333.6)">LPS</text>
<line x1="229.6" y1="324.4" x2="229.6" y2="327.2" stroke="#000" stroke-width="0.9"/>
<text x="233.2" y="333.6" font-size="6.2" text-anchor="end" fill="#000" stroke="#000" stroke-width="0.13" transform="rotate(-45 233.2 333.6)">Unstimulated</text>
<text x="195" y="214.7" font-size="7.6" text-anchor="middle" fill="#000" stroke="#000" stroke-width="0.22">PLAUR</text>
<text x="131" y="272.4" font-size="7.3" text-anchor="middle" fill="#000" stroke="#000" stroke-width="0.16" transform="rotate(-90 131 272.4)" textLength="40" lengthAdjust="spacingAndGlyphs">Expression level</text>
<text x="6" y="16.1" font-size="11" text-anchor="start" font-weight="bold" fill="#000" stroke="#000" stroke-width="0.22">A</text>
<text x="249.6" y="19.4" font-size="11" text-anchor="start" font-weight="bold" fill="#000" stroke="#000" stroke-width="0.22">B</text>
<text x="8.6" y="202.9" font-size="11" text-anchor="start" font-weight="bold" fill="#000" stroke="#000" stroke-width="0.22">C</text>
<text x="247" y="202" font-size="11" text-anchor="start" font-weight="bold" fill="#000" stroke="#000" stroke-width="0.22">D</text>
<rect x="282.7" y="120.35" width="6.2" height="18.05" fill="#D3D3DA"/>
<rect x="292" y="122.25" width="6.2" height="16.15" fill="#D3D3DA"/>
<rect x="301.3" y="98.03" width="6.2" height="40.38" fill="#D3D3DA"/>
<rect x="310.4" y="96.41" width="6.2" height="41.99" fill="#D3D3DA"/>
<rect x="325.7" y="127.95" width="6.2" height="10.45" fill="#D3D3DA"/>
<rect x="335" y="127" width="6.2" height="11.4" fill="#D3D3DA"/>
<rect x="343.9" y="126.24" width="6.2" height="12.16" fill="#D3D3DA"/>
<rect x="353.6" y="115.6" width="6.2" height="22.8" fill="#D3D3DA"/>
<line x1="285.8" y1="112.5" x2="285.8" y2="129" stroke="#222" stroke-width="0.85"/>
<line x1="284.2" y1="112.5" x2="287.4" y2="112.5" stroke="#222" stroke-width="0.85"/>
<line x1="284.2" y1="129" x2="287.4" y2="129" stroke="#222" stroke-width="0.85"/>
<line x1="295.1" y1="115.3" x2="295.1" y2="130.8" stroke="#222" stroke-width="0.85"/>
<line x1="293.5" y1="115.3" x2="296.7" y2="115.3" stroke="#222" stroke-width="0.85"/>
<line x1="293.5" y1="130.8" x2="296.7" y2="130.8" stroke="#222" stroke-width="0.85"/>
<line x1="304.4" y1="87.2" x2="304.4" y2="108.3" stroke="#222" stroke-width="0.85"/>
<line x1="302.8" y1="87.2" x2="306" y2="87.2" stroke="#222" stroke-width="0.85"/>
<line x1="302.8" y1="108.3" x2="306" y2="108.3" stroke="#222" stroke-width="0.85"/>
<line x1="313.5" y1="88.4" x2="313.5" y2="104.5" stroke="#222" stroke-width="0.85"/>
<line x1="311.9" y1="88.4" x2="315.1" y2="88.4" stroke="#222" stroke-width="0.85"/>
<line x1="311.9" y1="104.5" x2="315.1" y2="104.5" stroke="#222" stroke-width="0.85"/>
<line x1="328.8" y1="122.5" x2="328.8" y2="133.2" stroke="#222" stroke-width="0.85"/>
<line x1="327.2" y1="122.5" x2="330.4" y2="122.5" stroke="#222" stroke-width="0.85"/>
<line x1="327.2" y1="133.2" x2="330.4" y2="133.2" stroke="#222" stroke-width="0.85"/>
<line x1="338.1" y1="120.3" x2="338.1" y2="133.8" stroke="#222" stroke-width="0.85"/>
<line x1="336.5" y1="120.3" x2="339.7" y2="120.3" stroke="#222" stroke-width="0.85"/>
<line x1="336.5" y1="133.8" x2="339.7" y2="133.8" stroke="#222" stroke-width="0.85"/>
<line x1="347" y1="120.3" x2="347" y2="133.8" stroke="#222" stroke-width="0.85"/>
<line x1="345.4" y1="120.3" x2="348.6" y2="120.3" stroke="#222" stroke-width="0.85"/>
<line x1="345.4" y1="133.8" x2="348.6" y2="133.8" stroke="#222" stroke-width="0.85"/>
<line x1="356.7" y1="104.6" x2="356.7" y2="124.9" stroke="#222" stroke-width="0.85"/>
<line x1="355.1" y1="104.6" x2="358.3" y2="104.6" stroke="#222" stroke-width="0.85"/>
<line x1="355.1" y1="124.9" x2="358.3" y2="124.9" stroke="#222" stroke-width="0.85"/>
<circle cx="285.4" cy="78.5" r="1.2" fill="#3FAE2A"/>
<circle cx="283.4" cy="115.5" r="1.2" fill="#E0147E"/>
<circle cx="287.3" cy="114.1" r="1.2" fill="#3E9BE0"/>
<circle cx="283.7" cy="129" r="1.2" fill="#000000"/>
<circle cx="287.3" cy="130.8" r="1.2" fill="#5B2A86"/>
<circle cx="283.7" cy="136.7" r="1.2" fill="#F2B705"/>
<circle cx="287.3" cy="136.7" r="1.2" fill="#C0122E"/>
<circle cx="294.7" cy="84.2" r="1.2" fill="#3FAE2A"/>
<circle cx="296.5" cy="117.3" r="1.2" fill="#E0147E"/>
<circle cx="292.9" cy="119.7" r="1.2" fill="#3E9BE0"/>
<circle cx="295.9" cy="130.8" r="1.2" fill="#000000"/>
<circle cx="293.3" cy="132.9" r="1.2" fill="#5B2A86"/>
<circle cx="295.3" cy="133.1" r="1.2" fill="#C0122E"/>
<circle cx="294.7" cy="137" r="1.2" fill="#F2B705"/>
<circle cx="304.2" cy="59.6" r="1.2" fill="#3FAE2A"/>
<circle cx="304.2" cy="71.7" r="1.2" fill="#3E9BE0"/>
<circle cx="304.2" cy="80.6" r="1.2" fill="#E0147E"/>
<circle cx="304.2" cy="102.4" r="1.2" fill="#5B2A86"/>
<circle cx="304.2" cy="108.3" r="1.2" fill="#000000"/>
<circle cx="304.2" cy="128.6" r="1.2" fill="#C0122E"/>
<circle cx="304.2" cy="133.4" r="1.2" fill="#F2B705"/>
<circle cx="313.4" cy="65.7" r="1.2" fill="#3FAE2A"/>
<circle cx="313.4" cy="79.1" r="1.2" fill="#3E9BE0"/>
<circle cx="313.4" cy="85.2" r="1.2" fill="#E0147E"/>
<circle cx="313.4" cy="92" r="1.2" fill="#C0122E"/>
<circle cx="312" cy="112" r="1.2" fill="#000000"/>
<circle cx="315" cy="113.5" r="1.2" fill="#5B2A86"/>
<circle cx="313.4" cy="127.8" r="1.2" fill="#F2B705"/>
<circle cx="328.6" cy="99.5" r="1.2" fill="#3FAE2A"/>
<circle cx="328.6" cy="116.7" r="1.2" fill="#E0147E"/>
<circle cx="328.6" cy="130.2" r="1.2" fill="#3E9BE0"/>
<circle cx="331" cy="135.6" r="1.2" fill="#000000"/>
<circle cx="326.9" cy="137" r="1.2" fill="#C0122E"/>
<circle cx="328.4" cy="138.2" r="1.2" fill="#5B2A86"/>
<circle cx="329.8" cy="138.2" r="1.2" fill="#F2B705"/>
<circle cx="337.9" cy="96.8" r="1.2" fill="#3FAE2A"/>
<circle cx="336.1" cy="119.7" r="1.2" fill="#E0147E"/>
<circle cx="339.7" cy="121" r="1.2" fill="#3E9BE0"/>
<circle cx="339.7" cy="135" r="1.2" fill="#000000"/>
<circle cx="336.1" cy="136.8" r="1.2" fill="#C0122E"/>
<circle cx="337.3" cy="138.2" r="1.2" fill="#5B2A86"/>
<circle cx="338.9" cy="138" r="1.2" fill="#F2B705"/>
<circle cx="347.2" cy="103.1" r="1.2" fill="#3FAE2A"/>
<circle cx="347.2" cy="114.7" r="1.2" fill="#E0147E"/>
<circle cx="347.2" cy="121.3" r="1.2" fill="#3E9BE0"/>
<circle cx="347.2" cy="128.5" r="1.2" fill="#000000"/>
<circle cx="345.7" cy="135.6" r="1.2" fill="#5B2A86"/>
<circle cx="347.2" cy="137.4" r="1.2" fill="#F2B705"/>
<circle cx="348.9" cy="137" r="1.2" fill="#C0122E"/>
<circle cx="356.6" cy="65" r="1.2" fill="#3FAE2A"/>
<circle cx="356.4" cy="97.2" r="1.2" fill="#3E9BE0"/>
<circle cx="356.4" cy="106.3" r="1.2" fill="#E0147E"/>
<circle cx="354.9" cy="131.8" r="1.2" fill="#000000"/>
<circle cx="359.7" cy="132" r="1.2" fill="#5B2A86"/>
<circle cx="358.2" cy="134.7" r="1.2" fill="#C0122E"/>
<circle cx="354.9" cy="137" r="1.2" fill="#F2B705"/>
<line x1="282.6" y1="70.3" x2="289" y2="70.3" stroke="#222" stroke-width="0.85"/>
<text x="285.8" y="68.4" font-size="6" text-anchor="middle" fill="#333" stroke="#333" stroke-width="0.45">#</text>
<line x1="291.9" y1="74.3" x2="298.3" y2="74.3" stroke="#222" stroke-width="0.85"/>
<text x="295.1" y="72.4" font-size="6" text-anchor="middle" fill="#333" stroke="#333" stroke-width="0.45">#</text>
<line x1="301.2" y1="51.6" x2="307.6" y2="51.6" stroke="#222" stroke-width="0.85"/>
<text x="304.4" y="46.4" font-size="6" text-anchor="middle" fill="#333" stroke="#333" stroke-width="0.45">##</text>
<text x="304.4" y="51.8" font-size="4.6" text-anchor="middle" fill="#333" stroke="#333" stroke-width="0.13">**</text>
<line x1="310.3" y1="58.5" x2="316.7" y2="58.5" stroke="#222" stroke-width="0.85"/>
<text x="313.5" y="53.9" font-size="6" text-anchor="middle" fill="#333" stroke="#333" stroke-width="0.45">#</text>
<text x="313.5" y="58.7" font-size="4.6" text-anchor="middle" fill="#333" stroke="#333" stroke-width="0.13">**</text>
<line x1="353.5" y1="60.8" x2="359.9" y2="60.8" stroke="#222" stroke-width="0.85"/>
<text x="356.7" y="61" font-size="4.8" text-anchor="middle" fill="#333" stroke="#333" stroke-width="0.13">*</text>
<circle cx="322.8" cy="66.4" r="1.25" fill="#000000"/>
<text x="326.5" y="68.6" font-size="6" text-anchor="start" fill="#000" stroke="#000" stroke-width="0.13" textLength="19.2" lengthAdjust="spacingAndGlyphs">M-CSF</text>
<circle cx="322.8" cy="75.8" r="1.25" fill="#000000"/>
<text x="326.5" y="78" font-size="6" text-anchor="start" fill="#000" stroke="#000" stroke-width="0.13" textLength="24.4" lengthAdjust="spacingAndGlyphs">GM-CSF</text>
<line x1="278.1" y1="41" x2="278.1" y2="139.3" stroke="#000" stroke-width="1.05"/>
<line x1="277.6" y1="138.8" x2="365.5" y2="138.8" stroke="#000" stroke-width="1"/>
<line x1="275.5" y1="138.4" x2="278.1" y2="138.4" stroke="#000" stroke-width="0.9"/>
<text x="272.3" y="140.3" font-size="5.4" text-anchor="end" fill="#000" stroke="#000" stroke-width="0.13" textLength="3.3" lengthAdjust="spacingAndGlyphs">0</text>
<line x1="275.5" y1="119.4" x2="278.1" y2="119.4" stroke="#000" stroke-width="0.9"/>
<text x="272.3" y="121.3" font-size="5.4" text-anchor="end" fill="#000" stroke="#000" stroke-width="0.13" textLength="6.6" lengthAdjust="spacingAndGlyphs">20</text>
<line x1="275.5" y1="100.4" x2="278.1" y2="100.4" stroke="#000" stroke-width="0.9"/>
<text x="272.3" y="102.3" font-size="5.4" text-anchor="end" fill="#000" stroke="#000" stroke-width="0.13" textLength="6.6" lengthAdjust="spacingAndGlyphs">40</text>
<line x1="275.5" y1="81.4" x2="278.1" y2="81.4" stroke="#000" stroke-width="0.9"/>
<text x="272.3" y="83.3" font-size="5.4" text-anchor="end" fill="#000" stroke="#000" stroke-width="0.13" textLength="6.6" lengthAdjust="spacingAndGlyphs">60</text>
<line x1="275.5" y1="62.4" x2="278.1" y2="62.4" stroke="#000" stroke-width="0.9"/>
<text x="272.3" y="64.3" font-size="5.4" text-anchor="end" fill="#000" stroke="#000" stroke-width="0.13" textLength="6.6" lengthAdjust="spacingAndGlyphs">80</text>
<line x1="275.5" y1="43.4" x2="278.1" y2="43.4" stroke="#000" stroke-width="0.9"/>
<text x="272.3" y="45.3" font-size="5.4" text-anchor="end" fill="#000" stroke="#000" stroke-width="0.13" textLength="9.9" lengthAdjust="spacingAndGlyphs">100</text>
<text x="321.3" y="28.3" font-size="7" text-anchor="middle" fill="#000" stroke="#000" stroke-width="0.22">THBS1</text>
<text x="256" y="89.2" font-size="6.6" text-anchor="middle" fill="#000" stroke="#000" stroke-width="0.2" transform="rotate(-90 256 89.2)" textLength="47.7" lengthAdjust="spacingAndGlyphs">THBS1 ng/mL</text>
<line x1="285.8" y1="138.8" x2="285.8" y2="141.5" stroke="#000" stroke-width="0.85"/>
<text x="288.5" y="147.9" font-size="6.1" text-anchor="end" fill="#000" stroke="#000" stroke-width="0.13" transform="rotate(-45 288.5 147.9)">Naive</text>
<line x1="295.1" y1="138.8" x2="295.1" y2="141.5" stroke="#000" stroke-width="0.85"/>
<text x="297.8" y="147.9" font-size="6.1" text-anchor="end" fill="#000" stroke="#000" stroke-width="0.13" transform="rotate(-45 297.8 147.9)">LPS</text>
<line x1="304.4" y1="138.8" x2="304.4" y2="141.5" stroke="#000" stroke-width="0.85"/>
<text x="307.1" y="147.9" font-size="6.1" text-anchor="end" fill="#000" stroke="#000" stroke-width="0.13" transform="rotate(-45 307.1 147.9)">LPS+Ado 50um</text>
<line x1="313.5" y1="138.8" x2="313.5" y2="141.5" stroke="#000" stroke-width="0.85"/>
<text x="316.2" y="147.9" font-size="6.1" text-anchor="end" fill="#000" stroke="#000" stroke-width="0.13" transform="rotate(-45 316.2 147.9)">LPS+PGE<tspan font-size="4.4" dy="1.4">2</tspan><tspan dy="-1.4"> 50nM</tspan></text>
<line x1="328.8" y1="138.8" x2="328.8" y2="141.5" stroke="#000" stroke-width="0.85"/>
<text x="331.5" y="147.9" font-size="6.1" text-anchor="end" fill="#000" stroke="#000" stroke-width="0.13" transform="rotate(-45 331.5 147.9)">Naive</text>
<line x1="338.1" y1="138.8" x2="338.1" y2="141.5" stroke="#000" stroke-width="0.85"/>
<text x="340.8" y="147.9" font-size="6.1" text-anchor="end" fill="#000" stroke="#000" stroke-width="0.13" transform="rotate(-45 340.8 147.9)">LPS</text>
<line x1="347" y1="138.8" x2="347" y2="141.5" stroke="#000" stroke-width="0.85"/>
<text x="349.7" y="147.9" font-size="6.1" text-anchor="end" fill="#000" stroke="#000" stroke-width="0.13" transform="rotate(-45 349.7 147.9)">LPS+Ado 50um</text>
<line x1="356.7" y1="138.8" x2="356.7" y2="141.5" stroke="#000" stroke-width="0.85"/>
<text x="359.4" y="147.9" font-size="6.1" text-anchor="end" fill="#000" stroke="#000" stroke-width="0.13" transform="rotate(-45 359.4 147.9)">LPS+PGE<tspan font-size="4.4" dy="1.4">2</tspan><tspan dy="-1.4"> 50nM</tspan></text>
<rect x="399.2" y="134.85" width="6" height="3.35" fill="#D3D3DA"/>
<rect x="408.7" y="128.14" width="6" height="10.06" fill="#D3D3DA"/>
<rect x="418.1" y="128.62" width="6" height="9.58" fill="#D3D3DA"/>
<rect x="427.6" y="97.96" width="6" height="40.24" fill="#D3D3DA"/>
<rect x="442.6" y="135.33" width="6" height="2.87" fill="#D3D3DA"/>
<rect x="452.5" y="135.33" width="6" height="2.87" fill="#D3D3DA"/>
<rect x="461.8" y="135.33" width="6" height="2.87" fill="#D3D3DA"/>
<rect x="471.5" y="129.1" width="6" height="9.1" fill="#D3D3DA"/>
<line x1="402.2" y1="131.5" x2="402.2" y2="136" stroke="#222" stroke-width="0.85"/>
<line x1="400.6" y1="131.5" x2="403.8" y2="131.5" stroke="#222" stroke-width="0.85"/>
<line x1="400.6" y1="136" x2="403.8" y2="136" stroke="#222" stroke-width="0.85"/>
<line x1="411.7" y1="125.5" x2="411.7" y2="131.5" stroke="#222" stroke-width="0.85"/>
<line x1="410.1" y1="125.5" x2="413.3" y2="125.5" stroke="#222" stroke-width="0.85"/>
<line x1="410.1" y1="131.5" x2="413.3" y2="131.5" stroke="#222" stroke-width="0.85"/>
<line x1="421.1" y1="126" x2="421.1" y2="131.5" stroke="#222" stroke-width="0.85"/>
<line x1="419.5" y1="126" x2="422.7" y2="126" stroke="#222" stroke-width="0.85"/>
<line x1="419.5" y1="131.5" x2="422.7" y2="131.5" stroke="#222" stroke-width="0.85"/>
<line x1="430.6" y1="86.7" x2="430.6" y2="109.9" stroke="#222" stroke-width="0.85"/>
<line x1="429" y1="86.7" x2="432.2" y2="86.7" stroke="#222" stroke-width="0.85"/>
<line x1="429" y1="109.9" x2="432.2" y2="109.9" stroke="#222" stroke-width="0.85"/>
<line x1="445.6" y1="133" x2="445.6" y2="137" stroke="#222" stroke-width="0.85"/>
<line x1="444" y1="133" x2="447.2" y2="133" stroke="#222" stroke-width="0.85"/>
<line x1="444" y1="137" x2="447.2" y2="137" stroke="#222" stroke-width="0.85"/>
<line x1="455.5" y1="133" x2="455.5" y2="137" stroke="#222" stroke-width="0.85"/>
<line x1="453.9" y1="133" x2="457.1" y2="133" stroke="#222" stroke-width="0.85"/>
<line x1="453.9" y1="137" x2="457.1" y2="137" stroke="#222" stroke-width="0.85"/>
<line x1="464.8" y1="133" x2="464.8" y2="137" stroke="#222" stroke-width="0.85"/>
<line x1="463.2" y1="133" x2="466.4" y2="133" stroke="#222" stroke-width="0.85"/>
<line x1="463.2" y1="137" x2="466.4" y2="137" stroke="#222" stroke-width="0.85"/>
<line x1="474.5" y1="124.1" x2="474.5" y2="132.5" stroke="#222" stroke-width="0.85"/>
<line x1="472.9" y1="124.1" x2="476.1" y2="124.1" stroke="#222" stroke-width="0.85"/>
<line x1="472.9" y1="132.5" x2="476.1" y2="132.5" stroke="#222" stroke-width="0.85"/>
<circle cx="400.6" cy="130.5" r="1.2" fill="#000000"/>
<circle cx="402.4" cy="129.6" r="1.2" fill="#F08C10"/>
<circle cx="404.2" cy="133.2" r="1.2" fill="#E0147E"/>
<circle cx="400.8" cy="134.5" r="1.2" fill="#C0122E"/>
<circle cx="400.9" cy="137" r="1.2" fill="#3FAE2A"/>
<circle cx="402.6" cy="138.2" r="1.2" fill="#E0147E"/>
<circle cx="404" cy="136.5" r="1.2" fill="#3E9BE0"/>
<circle cx="411.7" cy="116.7" r="1.2" fill="#F08C10"/>
<circle cx="411.7" cy="123.4" r="1.2" fill="#3FAE2A"/>
<circle cx="411.7" cy="126.3" r="1.2" fill="#F08C10"/>
<circle cx="413.1" cy="130.5" r="1.2" fill="#000000"/>
<circle cx="409.8" cy="131.8" r="1.2" fill="#3E9BE0"/>
<circle cx="411.3" cy="133" r="1.2" fill="#E0147E"/>
<circle cx="413.3" cy="131.8" r="1.2" fill="#C0122E"/>
<circle cx="410.3" cy="130" r="1.2" fill="#000000"/>
<circle cx="422.7" cy="119.8" r="1.2" fill="#3FAE2A"/>
<circle cx="419.3" cy="123.1" r="1.2" fill="#F08C10"/>
<circle cx="419.3" cy="127.3" r="1.2" fill="#F08C10"/>
<circle cx="419.7" cy="130.4" r="1.2" fill="#000000"/>
<circle cx="422.6" cy="130.5" r="1.2" fill="#E0147E"/>
<circle cx="421.2" cy="133.8" r="1.2" fill="#3E9BE0"/>
<circle cx="422.5" cy="132" r="1.2" fill="#C0122E"/>
<circle cx="430.5" cy="49.7" r="1.2" fill="#C0122E"/>
<circle cx="430.5" cy="70.9" r="1.2" fill="#F2B705"/>
<circle cx="430.5" cy="84.1" r="1.2" fill="#3FAE2A"/>
<circle cx="430.4" cy="115.9" r="1.2" fill="#F08C10"/>
<circle cx="428.9" cy="119.5" r="1.2" fill="#000000"/>
<circle cx="432" cy="120.7" r="1.2" fill="#3E9BE0"/>
<circle cx="430.4" cy="127" r="1.2" fill="#E0147E"/>
<circle cx="444.7" cy="129.5" r="1.2" fill="#F08C10"/>
<circle cx="447.6" cy="130.7" r="1.2" fill="#000000"/>
<circle cx="444.9" cy="134.4" r="1.2" fill="#C0122E"/>
<circle cx="444.9" cy="138.1" r="1.2" fill="#3E9BE0"/>
<circle cx="447.3" cy="138.1" r="1.2" fill="#E0147E"/>
<circle cx="457.1" cy="129" r="1.2" fill="#F08C10"/>
<circle cx="454.2" cy="130.7" r="1.2" fill="#000000"/>
<circle cx="455.5" cy="134.4" r="1.2" fill="#C0122E"/>
<circle cx="453.7" cy="138.1" r="1.2" fill="#3FAE2A"/>
<circle cx="457.1" cy="138.1" r="1.2" fill="#E0147E"/>
<circle cx="466.4" cy="129" r="1.2" fill="#F08C10"/>
<circle cx="463" cy="130.7" r="1.2" fill="#000000"/>
<circle cx="464.5" cy="134.4" r="1.2" fill="#C0122E"/>
<circle cx="463" cy="138.1" r="1.2" fill="#E0147E"/>
<circle cx="466.4" cy="138.1" r="1.2" fill="#3FAE2A"/>
<circle cx="474.5" cy="115" r="1.2" fill="#F08C10"/>
<circle cx="472.8" cy="124.6" r="1.2" fill="#000000"/>
<circle cx="474.3" cy="124.6" r="1.2" fill="#3FAE2A"/>
<circle cx="476" cy="124.1" r="1.2" fill="#C0122E"/>
<circle cx="472.8" cy="138.1" r="1.2" fill="#E0147E"/>
<circle cx="474.8" cy="138.1" r="1.2" fill="#3E9BE0"/>
<circle cx="476.5" cy="138.1" r="1.2" fill="#F2B705"/>
<line x1="408.5" y1="111.1" x2="414.9" y2="111.1" stroke="#222" stroke-width="0.85"/>
<text x="411.7" y="109.5" font-size="6" text-anchor="middle" fill="#333" stroke="#333" stroke-width="0.45">#</text>
<line x1="417.9" y1="111.1" x2="424.3" y2="111.1" stroke="#222" stroke-width="0.85"/>
<text x="421.1" y="109.5" font-size="6" text-anchor="middle" fill="#333" stroke="#333" stroke-width="0.45">#</text>
<line x1="427.4" y1="45.7" x2="433.8" y2="45.7" stroke="#222" stroke-width="0.85"/>
<text x="430.6" y="40.6" font-size="6" text-anchor="middle" fill="#333" stroke="#333" stroke-width="0.45">#</text>
<text x="430.6" y="46" font-size="4.6" text-anchor="middle" fill="#333" stroke="#333" stroke-width="0.13">*</text>
<circle cx="454.3" cy="66.6" r="1.25" fill="#000000"/>
<text x="458" y="68.8" font-size="6" text-anchor="start" fill="#000" stroke="#000" stroke-width="0.13" textLength="19.2" lengthAdjust="spacingAndGlyphs">M-CSF</text>
<circle cx="454.3" cy="75.8" r="1.25" fill="#000000"/>
<text x="458" y="78" font-size="6" text-anchor="start" fill="#000" stroke="#000" stroke-width="0.13" textLength="24.4" lengthAdjust="spacingAndGlyphs">GM-CSF</text>
<line x1="394.2" y1="39.3" x2="394.2" y2="138.8" stroke="#000" stroke-width="1.05"/>
<line x1="393.7" y1="138.3" x2="481.5" y2="138.3" stroke="#000" stroke-width="1"/>
<line x1="391.6" y1="138.2" x2="394.2" y2="138.2" stroke="#000" stroke-width="0.9"/>
<text x="388.9" y="140.1" font-size="5" text-anchor="end" fill="#000" stroke="#000" stroke-width="0.13" textLength="8.8" lengthAdjust="spacingAndGlyphs">0.0</text>
<line x1="391.6" y1="114.25" x2="394.2" y2="114.25" stroke="#000" stroke-width="0.9"/>
<text x="388.9" y="116.15" font-size="5" text-anchor="end" fill="#000" stroke="#000" stroke-width="0.13" textLength="8.8" lengthAdjust="spacingAndGlyphs">0.5</text>
<line x1="391.6" y1="90.3" x2="394.2" y2="90.3" stroke="#000" stroke-width="0.9"/>
<text x="388.9" y="92.2" font-size="5" text-anchor="end" fill="#000" stroke="#000" stroke-width="0.13" textLength="8.8" lengthAdjust="spacingAndGlyphs">1.0</text>
<line x1="391.6" y1="66.35" x2="394.2" y2="66.35" stroke="#000" stroke-width="0.9"/>
<text x="388.9" y="68.25" font-size="5" text-anchor="end" fill="#000" stroke="#000" stroke-width="0.13" textLength="8.8" lengthAdjust="spacingAndGlyphs">1.5</text>
<line x1="391.6" y1="42.4" x2="394.2" y2="42.4" stroke="#000" stroke-width="0.9"/>
<text x="388.9" y="44.3" font-size="5" text-anchor="end" fill="#000" stroke="#000" stroke-width="0.13" textLength="8.8" lengthAdjust="spacingAndGlyphs">2.0</text>
<text x="438.3" y="28.5" font-size="6.8" text-anchor="middle" fill="#000" stroke="#000" stroke-width="0.22">VEGF</text>
<text x="375.2" y="88" font-size="6.2" text-anchor="middle" fill="#000" stroke="#000" stroke-width="0.2" transform="rotate(-90 375.2 88)" textLength="45" lengthAdjust="spacingAndGlyphs">VEGF ng/mL</text>
<line x1="402.2" y1="138.3" x2="402.2" y2="141" stroke="#000" stroke-width="0.85"/>
<text x="404.9" y="147.4" font-size="6.1" text-anchor="end" fill="#000" stroke="#000" stroke-width="0.13" transform="rotate(-45 404.9 147.4)">Naive</text>
<line x1="411.7" y1="138.3" x2="411.7" y2="141" stroke="#000" stroke-width="0.85"/>
<text x="414.4" y="147.4" font-size="6.1" text-anchor="end" fill="#000" stroke="#000" stroke-width="0.13" transform="rotate(-45 414.4 147.4)">LPS</text>
<line x1="421.1" y1="138.3" x2="421.1" y2="141" stroke="#000" stroke-width="0.85"/>
<text x="423.8" y="147.4" font-size="6.1" text-anchor="end" fill="#000" stroke="#000" stroke-width="0.13" transform="rotate(-45 423.8 147.4)">LPS+Ado 50um</text>
<line x1="430.6" y1="138.3" x2="430.6" y2="141" stroke="#000" stroke-width="0.85"/>
<text x="433.3" y="147.4" font-size="6.1" text-anchor="end" fill="#000" stroke="#000" stroke-width="0.13" transform="rotate(-45 433.3 147.4)">LPS+PGE<tspan font-size="4.4" dy="1.4">2</tspan><tspan dy="-1.4"> 50nM</tspan></text>
<line x1="445.6" y1="138.3" x2="445.6" y2="141" stroke="#000" stroke-width="0.85"/>
<text x="448.3" y="147.4" font-size="6.1" text-anchor="end" fill="#000" stroke="#000" stroke-width="0.13" transform="rotate(-45 448.3 147.4)">Naive</text>
<line x1="455.5" y1="138.3" x2="455.5" y2="141" stroke="#000" stroke-width="0.85"/>
<text x="458.2" y="147.4" font-size="6.1" text-anchor="end" fill="#000" stroke="#000" stroke-width="0.13" transform="rotate(-45 458.2 147.4)">LPS</text>
<line x1="464.8" y1="138.3" x2="464.8" y2="141" stroke="#000" stroke-width="0.85"/>
<text x="467.5" y="147.4" font-size="6.1" text-anchor="end" fill="#000" stroke="#000" stroke-width="0.13" transform="rotate(-45 467.5 147.4)">LPS+Ado 50um</text>
<line x1="474.5" y1="138.3" x2="474.5" y2="141" stroke="#000" stroke-width="0.85"/>
<text x="477.2" y="147.4" font-size="6.1" text-anchor="end" fill="#000" stroke="#000" stroke-width="0.13" transform="rotate(-45 477.2 147.4)">LPS+PGE<tspan font-size="4.4" dy="1.4">2</tspan><tspan dy="-1.4"> 50nM</tspan></text>
<line x1="287.7" y1="316.2" x2="294.1" y2="316.2" stroke="#222" stroke-width="0.95"/>
<line x1="290.9" y1="314.5" x2="290.9" y2="318" stroke="#222" stroke-width="0.85"/>
<line x1="289.3" y1="314.5" x2="292.5" y2="314.5" stroke="#222" stroke-width="0.85"/>
<line x1="289.3" y1="318" x2="292.5" y2="318" stroke="#222" stroke-width="0.85"/>
<line x1="298.5" y1="302.3" x2="304.9" y2="302.3" stroke="#222" stroke-width="0.95"/>
<line x1="301.7" y1="298.5" x2="301.7" y2="306.9" stroke="#222" stroke-width="0.85"/>
<line x1="300.1" y1="298.5" x2="303.3" y2="298.5" stroke="#222" stroke-width="0.85"/>
<line x1="300.1" y1="306.9" x2="303.3" y2="306.9" stroke="#222" stroke-width="0.85"/>
<line x1="309.3" y1="286.2" x2="315.7" y2="286.2" stroke="#222" stroke-width="0.95"/>
<line x1="312.5" y1="278.5" x2="312.5" y2="294.2" stroke="#222" stroke-width="0.85"/>
<line x1="310.9" y1="278.5" x2="314.1" y2="278.5" stroke="#222" stroke-width="0.85"/>
<line x1="310.9" y1="294.2" x2="314.1" y2="294.2" stroke="#222" stroke-width="0.85"/>
<line x1="319.8" y1="272.8" x2="326.2" y2="272.8" stroke="#222" stroke-width="0.95"/>
<line x1="323" y1="253.3" x2="323" y2="292.3" stroke="#222" stroke-width="0.85"/>
<line x1="321.4" y1="253.3" x2="324.6" y2="253.3" stroke="#222" stroke-width="0.85"/>
<line x1="321.4" y1="292.3" x2="324.6" y2="292.3" stroke="#222" stroke-width="0.85"/>
<circle cx="290.9" cy="312.3" r="1.15" fill="#E0147E"/>
<circle cx="289.5" cy="317" r="1.15" fill="#000000"/>
<circle cx="291.8" cy="316.5" r="1.15" fill="#000000"/>
<circle cx="290.3" cy="318.3" r="1.15" fill="#C0122E"/>
<circle cx="289.8" cy="319.5" r="1.15" fill="#1F3A93"/>
<circle cx="291.8" cy="318.7" r="1.15" fill="#F08C10"/>
<circle cx="292.8" cy="316.2" r="1.15" fill="#000000"/>
<circle cx="301.7" cy="293.4" r="1.15" fill="#C0122E"/>
<circle cx="299.4" cy="295.8" r="1.15" fill="#1F3A93"/>
<circle cx="303.7" cy="297.4" r="1.15" fill="#E0147E"/>
<circle cx="303.2" cy="311.5" r="1.15" fill="#000000"/>
<circle cx="299.4" cy="315.4" r="1.15" fill="#F08C10"/>
<circle cx="310.5" cy="273" r="1.15" fill="#1F3A93"/>
<circle cx="314" cy="270.5" r="1.15" fill="#C0122E"/>
<circle cx="312.5" cy="276.9" r="1.15" fill="#E0147E"/>
<circle cx="314.5" cy="304.6" r="1.15" fill="#000000"/>
<circle cx="310.5" cy="307" r="1.15" fill="#F08C10"/>
<circle cx="322.7" cy="238.3" r="1.15" fill="#E0147E"/>
<circle cx="324.3" cy="287.2" r="1.15" fill="#000000"/>
<circle cx="321.4" cy="288.8" r="1.15" fill="#C0122E"/>
<circle cx="323.2" cy="290.8" r="1.15" fill="#1F3A93"/>
<circle cx="323.2" cy="302.6" r="1.15" fill="#F08C10"/>
<circle cx="342.5" cy="318.6" r="1" fill="#F08C10"/>
<circle cx="337.7" cy="320.3" r="1" fill="#E0147E"/>
<circle cx="339.7" cy="321.9" r="1" fill="#1F3A93"/>
<circle cx="341.5" cy="321.9" r="1" fill="#C0122E"/>
<line x1="337.1" y1="319.6" x2="343.9" y2="319.6" stroke="#111" stroke-width="1.1"/>
<polygon points="340.5,315.98 339,318.68 342,318.68" fill="#000000"/>
<circle cx="339" cy="319.8" r="1" fill="#000000"/>
<circle cx="342" cy="319.8" r="1" fill="#000000"/>
<circle cx="349.2" cy="318.6" r="1" fill="#F08C10"/>
<circle cx="354" cy="320.3" r="1" fill="#E0147E"/>
<circle cx="352" cy="321.9" r="1" fill="#1F3A93"/>
<circle cx="350.2" cy="321.9" r="1" fill="#C0122E"/>
<line x1="347.8" y1="319.6" x2="354.6" y2="319.6" stroke="#111" stroke-width="1.1"/>
<polygon points="351.2,315.98 349.7,318.68 352.7,318.68" fill="#000000"/>
<circle cx="349.7" cy="319.8" r="1" fill="#000000"/>
<circle cx="352.7" cy="319.8" r="1" fill="#000000"/>
<circle cx="363.8" cy="318.6" r="1" fill="#F08C10"/>
<circle cx="359" cy="320.3" r="1" fill="#E0147E"/>
<circle cx="361" cy="321.9" r="1" fill="#1F3A93"/>
<circle cx="362.8" cy="321.9" r="1" fill="#C0122E"/>
<line x1="358.4" y1="319.6" x2="365.2" y2="319.6" stroke="#111" stroke-width="1.1"/>
<polygon points="361.8,315.98 360.3,318.68 363.3,318.68" fill="#000000"/>
<circle cx="360.3" cy="319.8" r="1" fill="#000000"/>
<circle cx="363.3" cy="319.8" r="1" fill="#000000"/>
<circle cx="370.4" cy="318.6" r="1" fill="#F08C10"/>
<circle cx="375.2" cy="320.3" r="1" fill="#E0147E"/>
<circle cx="373.2" cy="321.9" r="1" fill="#1F3A93"/>
<circle cx="371.4" cy="321.9" r="1" fill="#C0122E"/>
<line x1="369" y1="319.6" x2="375.8" y2="319.6" stroke="#111" stroke-width="1.1"/>
<polygon points="372.4,315.98 370.9,318.68 373.9,318.68" fill="#000000"/>
<circle cx="370.9" cy="319.8" r="1" fill="#000000"/>
<circle cx="373.9" cy="319.8" r="1" fill="#000000"/>
<line x1="298.9" y1="285.8" x2="304.5" y2="285.8" stroke="#222" stroke-width="0.85"/>
<text x="301.7" y="284.2" font-size="5.6" text-anchor="middle" fill="#333" stroke="#333" stroke-width="0.45">#</text>
<line x1="309.9" y1="263.2" x2="315.1" y2="263.2" stroke="#222" stroke-width="0.85"/>
<text x="312.5" y="259" font-size="5.6" text-anchor="middle" fill="#333" stroke="#333" stroke-width="0.45">#</text>
<text x="312.5" y="263.6" font-size="4.4" text-anchor="middle" fill="#333" stroke="#333" stroke-width="0.13">**</text>
<circle cx="350.2" cy="248.7" r="1.25" fill="#000000"/>
<text x="353.9" y="250.9" font-size="6" text-anchor="start" fill="#000" stroke="#000" stroke-width="0.13" textLength="19.2" lengthAdjust="spacingAndGlyphs">M-CSF</text>
<polygon points="350.2,256.99 348.8,259.51 351.6,259.51" fill="#000000"/>
<text x="353.9" y="260.7" font-size="6" text-anchor="start" fill="#000" stroke="#000" stroke-width="0.13" textLength="24.4" lengthAdjust="spacingAndGlyphs">GM-CSF</text>
<line x1="282.3" y1="234.6" x2="282.3" y2="324.6" stroke="#000" stroke-width="1.15"/>
<line x1="281.75" y1="324.3" x2="378.8" y2="324.3" stroke="#000" stroke-width="1.1"/>
<line x1="279.5" y1="324" x2="282.3" y2="324" stroke="#000" stroke-width="0.9"/>
<text x="275.9" y="325.9" font-size="5" text-anchor="end" fill="#000" stroke="#000" stroke-width="0.13" textLength="3.5" lengthAdjust="spacingAndGlyphs">0</text>
<line x1="279.5" y1="300.1" x2="282.3" y2="300.1" stroke="#000" stroke-width="0.9"/>
<text x="275.9" y="302" font-size="5" text-anchor="end" fill="#000" stroke="#000" stroke-width="0.13" textLength="14" lengthAdjust="spacingAndGlyphs">2000</text>
<line x1="279.5" y1="276.2" x2="282.3" y2="276.2" stroke="#000" stroke-width="0.9"/>
<text x="275.9" y="278.1" font-size="5" text-anchor="end" fill="#000" stroke="#000" stroke-width="0.13" textLength="14" lengthAdjust="spacingAndGlyphs">4000</text>
<line x1="279.7" y1="251.3" x2="282.3" y2="251.3" stroke="#000" stroke-width="0.8"/>
<text x="275.9" y="253.3" font-size="5.6" text-anchor="end" fill="#000" stroke="#000" stroke-width="0" textLength="13.6" lengthAdjust="spacingAndGlyphs">6000</text>
<line x1="279.7" y1="248.1" x2="282.3" y2="248.1" stroke="#000" stroke-width="0.8"/>
<text x="275.9" y="250.1" font-size="5.6" text-anchor="end" fill="#000" stroke="#000" stroke-width="0" textLength="13.6" lengthAdjust="spacingAndGlyphs">7000</text>
<line x1="279.7" y1="244.9" x2="282.3" y2="244.9" stroke="#000" stroke-width="0.8"/>
<text x="275.9" y="246.9" font-size="5.6" text-anchor="end" fill="#000" stroke="#000" stroke-width="0" textLength="13.6" lengthAdjust="spacingAndGlyphs">8000</text>
<line x1="279.7" y1="241.7" x2="282.3" y2="241.7" stroke="#000" stroke-width="0.8"/>
<text x="275.9" y="243.7" font-size="5.6" text-anchor="end" fill="#000" stroke="#000" stroke-width="0" textLength="13.6" lengthAdjust="spacingAndGlyphs">9000</text>
<line x1="279.7" y1="238.5" x2="282.3" y2="238.5" stroke="#000" stroke-width="0.8"/>
<text x="275.9" y="240.5" font-size="5.6" text-anchor="end" fill="#000" stroke="#000" stroke-width="0" textLength="17" lengthAdjust="spacingAndGlyphs">10000</text>
<line x1="279.7" y1="235.3" x2="282.3" y2="235.3" stroke="#000" stroke-width="0.8"/>
<text x="275.9" y="237.3" font-size="5.6" text-anchor="end" fill="#000" stroke="#000" stroke-width="0" textLength="17" lengthAdjust="spacingAndGlyphs">11000</text>
<ellipse cx="282.3" cy="251.2" rx="1.0" ry="0.9" fill="#555"/>
<text x="331.6" y="214.6" font-size="7" text-anchor="middle" fill="#000" stroke="#000" stroke-width="0.22">CD300E</text>
<text x="252.3" y="279.2" font-size="6.2" text-anchor="middle" fill="#000" stroke="#000" stroke-width="0.2" transform="rotate(-90 252.3 279.2)" textLength="117" lengthAdjust="spacingAndGlyphs">Median fluorescence intensity (MFI)</text>
<line x1="290.9" y1="324.2" x2="290.9" y2="326.9" stroke="#000" stroke-width="0.85"/>
<text x="293.6" y="333.3" font-size="6.1" text-anchor="end" fill="#000" stroke="#000" stroke-width="0.13" transform="rotate(-45 293.6 333.3)">Naive</text>
<line x1="301.7" y1="324.2" x2="301.7" y2="326.9" stroke="#000" stroke-width="0.85"/>
<text x="304.4" y="333.3" font-size="6.1" text-anchor="end" fill="#000" stroke="#000" stroke-width="0.13" transform="rotate(-45 304.4 333.3)">LPS</text>
<line x1="312.5" y1="324.2" x2="312.5" y2="326.9" stroke="#000" stroke-width="0.85"/>
<text x="315.2" y="333.3" font-size="6.1" text-anchor="end" fill="#000" stroke="#000" stroke-width="0.13" transform="rotate(-45 315.2 333.3)">LPS+Ado 50um</text>
<line x1="323" y1="324.2" x2="323" y2="326.9" stroke="#000" stroke-width="0.85"/>
<text x="325.7" y="333.3" font-size="6.1" text-anchor="end" fill="#000" stroke="#000" stroke-width="0.13" transform="rotate(-45 325.7 333.3)">LPS+PGE<tspan font-size="4.4" dy="1.4">2</tspan><tspan dy="-1.4"> 50nM</tspan></text>
<line x1="340.4" y1="324.2" x2="340.4" y2="326.9" stroke="#000" stroke-width="0.85"/>
<text x="343.1" y="333.3" font-size="6.1" text-anchor="end" fill="#000" stroke="#000" stroke-width="0.13" transform="rotate(-45 343.1 333.3)">Naive</text>
<line x1="351.1" y1="324.2" x2="351.1" y2="326.9" stroke="#000" stroke-width="0.85"/>
<text x="353.8" y="333.3" font-size="6.1" text-anchor="end" fill="#000" stroke="#000" stroke-width="0.13" transform="rotate(-45 353.8 333.3)">LPS</text>
<line x1="361.7" y1="324.2" x2="361.7" y2="326.9" stroke="#000" stroke-width="0.85"/>
<text x="364.4" y="333.3" font-size="6.1" text-anchor="end" fill="#000" stroke="#000" stroke-width="0.13" transform="rotate(-45 364.4 333.3)">LPS+Ado 50um</text>
<line x1="372.3" y1="324.2" x2="372.3" y2="326.9" stroke="#000" stroke-width="0.85"/>
<text x="375" y="333.3" font-size="6.1" text-anchor="end" fill="#000" stroke="#000" stroke-width="0.13" transform="rotate(-45 375 333.3)">LPS+PGE<tspan font-size="4.4" dy="1.4">2</tspan><tspan dy="-1.4"> 50nM</tspan></text>
<line x1="422.7" y1="312.3" x2="429.1" y2="312.3" stroke="#222" stroke-width="0.95"/>
<line x1="425.9" y1="308.2" x2="425.9" y2="316.2" stroke="#222" stroke-width="0.85"/>
<line x1="424.3" y1="308.2" x2="427.5" y2="308.2" stroke="#222" stroke-width="0.85"/>
<line x1="424.3" y1="316.2" x2="427.5" y2="316.2" stroke="#222" stroke-width="0.85"/>
<line x1="433" y1="293.1" x2="439.4" y2="293.1" stroke="#222" stroke-width="0.95"/>
<line x1="436.2" y1="284.6" x2="436.2" y2="301.5" stroke="#222" stroke-width="0.85"/>
<line x1="434.6" y1="284.6" x2="437.8" y2="284.6" stroke="#222" stroke-width="0.85"/>
<line x1="434.6" y1="301.5" x2="437.8" y2="301.5" stroke="#222" stroke-width="0.85"/>
<line x1="444" y1="260.8" x2="450.4" y2="260.8" stroke="#222" stroke-width="0.95"/>
<line x1="447.2" y1="249.6" x2="447.2" y2="271.8" stroke="#222" stroke-width="0.85"/>
<line x1="445.6" y1="249.6" x2="448.8" y2="249.6" stroke="#222" stroke-width="0.85"/>
<line x1="445.6" y1="271.8" x2="448.8" y2="271.8" stroke="#222" stroke-width="0.85"/>
<line x1="454.3" y1="274.1" x2="460.7" y2="274.1" stroke="#222" stroke-width="0.95"/>
<line x1="457.5" y1="268.5" x2="457.5" y2="280.5" stroke="#222" stroke-width="0.85"/>
<line x1="455.9" y1="268.5" x2="459.1" y2="268.5" stroke="#222" stroke-width="0.85"/>
<line x1="455.9" y1="280.5" x2="459.1" y2="280.5" stroke="#222" stroke-width="0.85"/>
<line x1="471.6" y1="314.3" x2="478" y2="314.3" stroke="#222" stroke-width="0.95"/>
<line x1="474.8" y1="310.1" x2="474.8" y2="316.6" stroke="#222" stroke-width="0.85"/>
<line x1="473.2" y1="310.1" x2="476.4" y2="310.1" stroke="#222" stroke-width="0.85"/>
<line x1="473.2" y1="316.6" x2="476.4" y2="316.6" stroke="#222" stroke-width="0.85"/>
<line x1="482.8" y1="285.6" x2="489.2" y2="285.6" stroke="#222" stroke-width="0.95"/>
<line x1="486" y1="276.9" x2="486" y2="293.7" stroke="#222" stroke-width="0.85"/>
<line x1="484.4" y1="276.9" x2="487.6" y2="276.9" stroke="#222" stroke-width="0.85"/>
<line x1="484.4" y1="293.7" x2="487.6" y2="293.7" stroke="#222" stroke-width="0.85"/>
<line x1="493.3" y1="289.5" x2="499.7" y2="289.5" stroke="#222" stroke-width="0.95"/>
<line x1="496.5" y1="287.8" x2="496.5" y2="291.2" stroke="#222" stroke-width="0.85"/>
<line x1="494.9" y1="287.8" x2="498.1" y2="287.8" stroke="#222" stroke-width="0.85"/>
<line x1="494.9" y1="291.2" x2="498.1" y2="291.2" stroke="#222" stroke-width="0.85"/>
<line x1="503.8" y1="272.2" x2="510.2" y2="272.2" stroke="#222" stroke-width="0.95"/>
<line x1="507" y1="262.9" x2="507" y2="281.6" stroke="#222" stroke-width="0.85"/>
<line x1="505.4" y1="262.9" x2="508.6" y2="262.9" stroke="#222" stroke-width="0.85"/>
<line x1="505.4" y1="281.6" x2="508.6" y2="281.6" stroke="#222" stroke-width="0.85"/>
<circle cx="425.9" cy="304.2" r="1.15" fill="#000000"/>
<circle cx="425.9" cy="314.3" r="1.15" fill="#C0122E"/>
<circle cx="425.9" cy="320" r="1.15" fill="#1F3A93"/>
<circle cx="436.2" cy="276.9" r="1.15" fill="#000000"/>
<circle cx="436.2" cy="296.2" r="1.15" fill="#1F3A93"/>
<circle cx="436.2" cy="305.4" r="1.15" fill="#C0122E"/>
<circle cx="447.2" cy="240.9" r="1.15" fill="#000000"/>
<circle cx="447.2" cy="262.1" r="1.15" fill="#1F3A93"/>
<circle cx="447.2" cy="278.9" r="1.15" fill="#C0122E"/>
<circle cx="457.8" cy="262.1" r="1.15" fill="#000000"/>
<circle cx="457.3" cy="278.9" r="1.15" fill="#1F3A93"/>
<circle cx="457.3" cy="282" r="1.15" fill="#C0122E"/>
<polygon points="474.8,306.69 473.4,309.21 476.2,309.21" fill="#1F3A93"/>
<polygon points="474.8,317.89 473.4,320.41 476.2,320.41" fill="#C0122E"/>
<polygon points="474.8,313.29 473.4,315.81 476.2,315.81" fill="#000000"/>
<polygon points="486,267.69 484.6,270.21 487.4,270.21" fill="#1F3A93"/>
<polygon points="484.9,293.39 483.5,295.91 486.3,295.91" fill="#C0122E"/>
<polygon points="487,292.99 485.6,295.51 488.4,295.51" fill="#000000"/>
<polygon points="495.5,287.99 494.1,290.51 496.9,290.51" fill="#C0122E"/>
<polygon points="497.5,288.29 496.1,290.81 498.9,290.81" fill="#1F3A93"/>
<polygon points="496.5,287.49 495.1,290.01 497.9,290.01" fill="#000000"/>
<polygon points="507,252.99 505.6,255.51 508.4,255.51" fill="#C0122E"/>
<polygon points="507,275.39 505.6,277.91 508.4,277.91" fill="#1F3A93"/>
<polygon points="507,284.79 505.6,287.31 508.4,287.31" fill="#000000"/>
<line x1="444.2" y1="238" x2="450.2" y2="238" stroke="#222" stroke-width="0.85"/>
<text x="447.2" y="237.1" font-size="4.6" text-anchor="middle" fill="#333" stroke="#333" stroke-width="0.13">**</text>
<line x1="454.5" y1="257.9" x2="460.5" y2="257.9" stroke="#222" stroke-width="0.85"/>
<text x="457.5" y="257.4" font-size="4.6" text-anchor="middle" fill="#333" stroke="#333" stroke-width="0.13">*</text>
<circle cx="470.9" cy="248.7" r="1.25" fill="#000000"/>
<text x="474.6" y="250.9" font-size="6" text-anchor="start" fill="#000" stroke="#000" stroke-width="0.13" textLength="19.2" lengthAdjust="spacingAndGlyphs">M-CSF</text>
<polygon points="470.9,256.29 469.5,258.81 472.3,258.81" fill="#000000"/>
<text x="474.6" y="260" font-size="6" text-anchor="start" fill="#000" stroke="#000" stroke-width="0.13" textLength="24.4" lengthAdjust="spacingAndGlyphs">GM-CSF</text>
<line x1="416.3" y1="234.1" x2="416.3" y2="324.9" stroke="#000" stroke-width="1.05"/>
<line x1="415.8" y1="324.4" x2="513" y2="324.4" stroke="#000" stroke-width="1"/>
<line x1="413.7" y1="324.5" x2="416.3" y2="324.5" stroke="#000" stroke-width="0.9"/>
<text x="411.4" y="326.4" font-size="5.3" text-anchor="end" fill="#000" stroke="#000" stroke-width="0.13" textLength="3.5" lengthAdjust="spacingAndGlyphs">0</text>
<line x1="413.7" y1="306.9" x2="416.3" y2="306.9" stroke="#000" stroke-width="0.9"/>
<text x="411.4" y="308.8" font-size="5.3" text-anchor="end" fill="#000" stroke="#000" stroke-width="0.13" textLength="14" lengthAdjust="spacingAndGlyphs">2000</text>
<line x1="413.7" y1="289.3" x2="416.3" y2="289.3" stroke="#000" stroke-width="0.9"/>
<text x="411.4" y="291.2" font-size="5.3" text-anchor="end" fill="#000" stroke="#000" stroke-width="0.13" textLength="14" lengthAdjust="spacingAndGlyphs">4000</text>
<line x1="413.7" y1="271.7" x2="416.3" y2="271.7" stroke="#000" stroke-width="0.9"/>
<text x="411.4" y="273.6" font-size="5.3" text-anchor="end" fill="#000" stroke="#000" stroke-width="0.13" textLength="14" lengthAdjust="spacingAndGlyphs">6000</text>
<line x1="413.7" y1="254.1" x2="416.3" y2="254.1" stroke="#000" stroke-width="0.9"/>
<text x="411.4" y="256" font-size="5.3" text-anchor="end" fill="#000" stroke="#000" stroke-width="0.13" textLength="14" lengthAdjust="spacingAndGlyphs">8000</text>
<line x1="413.7" y1="236.5" x2="416.3" y2="236.5" stroke="#000" stroke-width="0.9"/>
<text x="411.4" y="238.4" font-size="5.3" text-anchor="end" fill="#000" stroke="#000" stroke-width="0.13" textLength="17.5" lengthAdjust="spacingAndGlyphs">10000</text>
<text x="466.5" y="214.7" font-size="6.9" text-anchor="middle" fill="#000" stroke="#000" stroke-width="0.22">PLAUR</text>
<text x="387.8" y="279.3" font-size="6.2" text-anchor="middle" fill="#000" stroke="#000" stroke-width="0.2" transform="rotate(-90 387.8 279.3)" textLength="116.4" lengthAdjust="spacingAndGlyphs">Median fluorescence intensity (MFI)</text>
<line x1="425.9" y1="324.4" x2="425.9" y2="327.1" stroke="#000" stroke-width="0.85"/>
<text x="428.6" y="333.5" font-size="6.1" text-anchor="end" fill="#000" stroke="#000" stroke-width="0.13" transform="rotate(-45 428.6 333.5)">Naive</text>
<line x1="436.2" y1="324.4" x2="436.2" y2="327.1" stroke="#000" stroke-width="0.85"/>
<text x="438.9" y="333.5" font-size="6.1" text-anchor="end" fill="#000" stroke="#000" stroke-width="0.13" transform="rotate(-45 438.9 333.5)">LPS</text>
<line x1="447.2" y1="324.4" x2="447.2" y2="327.1" stroke="#000" stroke-width="0.85"/>
<text x="449.9" y="333.5" font-size="6.1" text-anchor="end" fill="#000" stroke="#000" stroke-width="0.13" transform="rotate(-45 449.9 333.5)">LPS+Ado 50um</text>
<line x1="457.5" y1="324.4" x2="457.5" y2="327.1" stroke="#000" stroke-width="0.85"/>
<text x="460.2" y="333.5" font-size="6.1" text-anchor="end" fill="#000" stroke="#000" stroke-width="0.13" transform="rotate(-45 460.2 333.5)">LPS+PGE<tspan font-size="4.4" dy="1.4">2</tspan><tspan dy="-1.4"> 50nM</tspan></text>
<line x1="474.8" y1="324.4" x2="474.8" y2="327.1" stroke="#000" stroke-width="0.85"/>
<text x="477.5" y="333.5" font-size="6.1" text-anchor="end" fill="#000" stroke="#000" stroke-width="0.13" transform="rotate(-45 477.5 333.5)">Naive</text>
<line x1="486" y1="324.4" x2="486" y2="327.1" stroke="#000" stroke-width="0.85"/>
<text x="488.7" y="333.5" font-size="6.1" text-anchor="end" fill="#000" stroke="#000" stroke-width="0.13" transform="rotate(-45 488.7 333.5)">LPS</text>
<line x1="496.5" y1="324.4" x2="496.5" y2="327.1" stroke="#000" stroke-width="0.85"/>
<text x="499.2" y="333.5" font-size="6.1" text-anchor="end" fill="#000" stroke="#000" stroke-width="0.13" transform="rotate(-45 499.2 333.5)">LPS+Ado 50um</text>
<line x1="507" y1="324.4" x2="507" y2="327.1" stroke="#000" stroke-width="0.85"/>
<text x="509.7" y="333.5" font-size="6.1" text-anchor="end" fill="#000" stroke="#000" stroke-width="0.13" transform="rotate(-45 509.7 333.5)">LPS+PGE<tspan font-size="4.4" dy="1.4">2</tspan><tspan dy="-1.4"> 50nM</tspan></text></svg></body></html>
